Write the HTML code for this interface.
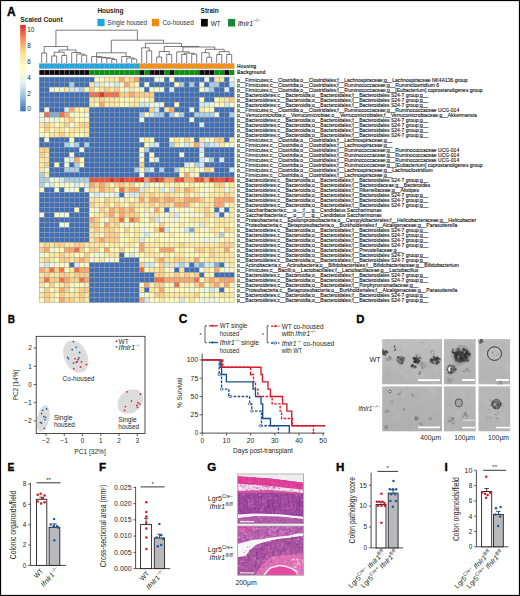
<!DOCTYPE html><html><head><meta charset="utf-8"><style>
html,body{margin:0;padding:0;background:#fff;}
body{width:520px;height:596px;overflow:hidden;position:relative;font-family:'Liberation Sans', sans-serif;}
svg{position:absolute;left:0;top:0;}
svg text{font-family:'Liberation Sans', sans-serif;}
</style></head><body>
<svg width="520" height="596" viewBox="0 0 520 596">
<defs>
<linearGradient id="cbar" x1="0" y1="1" x2="0" y2="0">

<stop offset="0.000" stop-color="#3f6fb6"/>
<stop offset="0.167" stop-color="#91BFDB"/>
<stop offset="0.333" stop-color="#E0F3F8"/>
<stop offset="0.500" stop-color="#FFFFBF"/>
<stop offset="0.667" stop-color="#FEE090"/>
<stop offset="0.833" stop-color="#FC8D59"/>
<stop offset="1.000" stop-color="#D73027"/>
</linearGradient></defs>
<rect x="0" y="0" width="520" height="596" fill="#fff"/>
<text x="7.0" y="15.8" font-size="11.9" font-weight="bold" font-style="normal" text-anchor="start" fill="#000" stroke="#000" stroke-width="0.35">A</text>
<text x="20.3" y="22.2" font-size="7.4" font-weight="bold" font-style="normal" text-anchor="start" fill="#231f20" textLength="42.3" lengthAdjust="spacingAndGlyphs" >Scaled Count</text>
<rect x="20.2" y="24.9" width="5.6" height="86.4" fill="url(#cbar)"/>
<text x="27.2" y="32.199999999999996" font-size="6.4" font-weight="normal" font-style="normal" text-anchor="start" fill="#222" >10</text>
<text x="27.2" y="48.199999999999996" font-size="6.4" font-weight="normal" font-style="normal" text-anchor="start" fill="#222" >8</text>
<text x="27.2" y="64.1" font-size="6.4" font-weight="normal" font-style="normal" text-anchor="start" fill="#222" >6</text>
<text x="27.2" y="80.1" font-size="6.4" font-weight="normal" font-style="normal" text-anchor="start" fill="#222" >4</text>
<text x="27.2" y="96.0" font-size="6.4" font-weight="normal" font-style="normal" text-anchor="start" fill="#222" >2</text>
<text x="27.2" y="111.39999999999999" font-size="6.4" font-weight="normal" font-style="normal" text-anchor="start" fill="#222" >0</text>
<text x="97.4" y="12.7" font-size="7.9" font-weight="bold" font-style="normal" text-anchor="start" fill="#231f20" textLength="26" lengthAdjust="spacingAndGlyphs" >Housing</text>
<rect x="97.4" y="18.8" width="7.2" height="7.4" fill="#1ea6e2"/>
<text x="107.3" y="25.2" font-size="7.6" font-weight="normal" font-style="normal" text-anchor="start" fill="#333" textLength="39.8" lengthAdjust="spacingAndGlyphs" >Single housed</text>
<rect x="152" y="18.8" width="7.2" height="7.4" fill="#f08c14"/>
<text x="162.4" y="25.2" font-size="7.6" font-weight="normal" font-style="normal" text-anchor="start" fill="#333" textLength="31.3" lengthAdjust="spacingAndGlyphs" >Co-housed</text>
<text x="200.6" y="12.7" font-size="7.9" font-weight="bold" font-style="normal" text-anchor="start" fill="#231f20" textLength="18.2" lengthAdjust="spacingAndGlyphs" >Strain</text>
<rect x="201" y="18.9" width="6.8" height="7.6" fill="#0b0b0b"/>
<text x="210.8" y="25.6" font-size="7.6" font-weight="normal" font-style="normal" text-anchor="start" fill="#222" textLength="10" lengthAdjust="spacingAndGlyphs" >WT</text>
<rect x="228" y="18.9" width="7.2" height="7.6" fill="#17873a"/>
<text x="237.7" y="25.6" font-size="7.6" font-weight="normal" font-style="italic" text-anchor="start" fill="#222" textLength="15.5" lengthAdjust="spacingAndGlyphs" >Ifnlr1</text>
<text x="253.5" y="21.9" font-size="4.6" font-weight="normal" font-style="normal" text-anchor="start" fill="#222" >−/−</text>
<g stroke="#9a9a9a" stroke-width="0.45">
<rect x="39.2" y="77.10" width="5" height="5.01" fill="#3f6fb6"/>
<rect x="44.2" y="77.10" width="5" height="5.01" fill="#3f6fb6"/>
<rect x="49.2" y="77.10" width="5" height="5.01" fill="#3f6fb6"/>
<rect x="54.2" y="77.10" width="5" height="5.01" fill="#3f6fb6"/>
<rect x="59.2" y="77.10" width="5" height="5.01" fill="#3f6fb6"/>
<rect x="64.2" y="77.10" width="5" height="5.01" fill="#3f6fb6"/>
<rect x="69.2" y="77.10" width="5" height="5.01" fill="#3f6fb6"/>
<rect x="74.2" y="77.10" width="5" height="5.01" fill="#3f6fb6"/>
<rect x="79.2" y="77.10" width="5" height="5.01" fill="#3f6fb6"/>
<rect x="84.2" y="77.10" width="5" height="5.01" fill="#3f6fb6"/>
<rect x="89.2" y="77.10" width="5" height="5.01" fill="#3f6fb6"/>
<rect x="94.2" y="77.10" width="5" height="5.01" fill="#fffab7"/>
<rect x="99.2" y="77.10" width="5" height="5.01" fill="#edf8df"/>
<rect x="104.2" y="77.10" width="5" height="5.01" fill="#fee89c"/>
<rect x="109.2" y="77.10" width="5" height="5.01" fill="#fee89c"/>
<rect x="114.2" y="77.10" width="5" height="5.01" fill="#fee89c"/>
<rect x="119.2" y="77.10" width="5" height="5.01" fill="#fda66a"/>
<rect x="124.2" y="77.10" width="5" height="5.01" fill="#fee89c"/>
<rect x="129.2" y="77.10" width="5" height="5.01" fill="#fece84"/>
<rect x="134.2" y="77.10" width="5" height="5.01" fill="#fda66a"/>
<rect x="139.2" y="77.10" width="5" height="5.01" fill="#3f6fb6"/>
<rect x="144.2" y="77.10" width="5" height="5.01" fill="#3f6fb6"/>
<rect x="149.2" y="77.10" width="5" height="5.01" fill="#3f6fb6"/>
<rect x="154.2" y="77.10" width="5" height="5.01" fill="#edf8df"/>
<rect x="159.2" y="77.10" width="5" height="5.01" fill="#edf8df"/>
<rect x="164.2" y="77.10" width="5" height="5.01" fill="#3f6fb6"/>
<rect x="169.2" y="77.10" width="5" height="5.01" fill="#fffab7"/>
<rect x="174.2" y="77.10" width="5" height="5.01" fill="#3f6fb6"/>
<rect x="179.2" y="77.10" width="5" height="5.01" fill="#3f6fb6"/>
<rect x="184.2" y="77.10" width="5" height="5.01" fill="#3f6fb6"/>
<rect x="189.2" y="77.10" width="5" height="5.01" fill="#3f6fb6"/>
<rect x="194.2" y="77.10" width="5" height="5.01" fill="#3f6fb6"/>
<rect x="199.2" y="77.10" width="5" height="5.01" fill="#3f6fb6"/>
<rect x="204.2" y="77.10" width="5" height="5.01" fill="#edf8df"/>
<rect x="209.2" y="77.10" width="5" height="5.01" fill="#3f6fb6"/>
<rect x="214.2" y="77.10" width="5" height="5.01" fill="#fee89c"/>
<rect x="219.2" y="77.10" width="5" height="5.01" fill="#fee89c"/>
<rect x="224.2" y="77.10" width="5" height="5.01" fill="#3f6fb6"/>
<rect x="229.2" y="77.10" width="5" height="5.01" fill="#edf8df"/>
<rect x="39.2" y="82.11" width="5" height="5.01" fill="#3f6fb6"/>
<rect x="44.2" y="82.11" width="5" height="5.01" fill="#3f6fb6"/>
<rect x="49.2" y="82.11" width="5" height="5.01" fill="#3f6fb6"/>
<rect x="54.2" y="82.11" width="5" height="5.01" fill="#3f6fb6"/>
<rect x="59.2" y="82.11" width="5" height="5.01" fill="#3f6fb6"/>
<rect x="64.2" y="82.11" width="5" height="5.01" fill="#3f6fb6"/>
<rect x="69.2" y="82.11" width="5" height="5.01" fill="#a9cfe4"/>
<rect x="74.2" y="82.11" width="5" height="5.01" fill="#3f6fb6"/>
<rect x="79.2" y="82.11" width="5" height="5.01" fill="#3f6fb6"/>
<rect x="84.2" y="82.11" width="5" height="5.01" fill="#3f6fb6"/>
<rect x="89.2" y="82.11" width="5" height="5.01" fill="#fee89c"/>
<rect x="94.2" y="82.11" width="5" height="5.01" fill="#d1e9f3"/>
<rect x="99.2" y="82.11" width="5" height="5.01" fill="#fee89c"/>
<rect x="104.2" y="82.11" width="5" height="5.01" fill="#edf8df"/>
<rect x="109.2" y="82.11" width="5" height="5.01" fill="#edf8df"/>
<rect x="114.2" y="82.11" width="5" height="5.01" fill="#d1e9f3"/>
<rect x="119.2" y="82.11" width="5" height="5.01" fill="#fffab7"/>
<rect x="124.2" y="82.11" width="5" height="5.01" fill="#fda66a"/>
<rect x="129.2" y="82.11" width="5" height="5.01" fill="#fee89c"/>
<rect x="134.2" y="82.11" width="5" height="5.01" fill="#fffab7"/>
<rect x="139.2" y="82.11" width="5" height="5.01" fill="#3f6fb6"/>
<rect x="144.2" y="82.11" width="5" height="5.01" fill="#edf8df"/>
<rect x="149.2" y="82.11" width="5" height="5.01" fill="#3f6fb6"/>
<rect x="154.2" y="82.11" width="5" height="5.01" fill="#3f6fb6"/>
<rect x="159.2" y="82.11" width="5" height="5.01" fill="#3f6fb6"/>
<rect x="164.2" y="82.11" width="5" height="5.01" fill="#3f6fb6"/>
<rect x="169.2" y="82.11" width="5" height="5.01" fill="#3f6fb6"/>
<rect x="174.2" y="82.11" width="5" height="5.01" fill="#fffab7"/>
<rect x="179.2" y="82.11" width="5" height="5.01" fill="#a9cfe4"/>
<rect x="184.2" y="82.11" width="5" height="5.01" fill="#3f6fb6"/>
<rect x="189.2" y="82.11" width="5" height="5.01" fill="#a9cfe4"/>
<rect x="194.2" y="82.11" width="5" height="5.01" fill="#3f6fb6"/>
<rect x="199.2" y="82.11" width="5" height="5.01" fill="#edf8df"/>
<rect x="204.2" y="82.11" width="5" height="5.01" fill="#3f6fb6"/>
<rect x="209.2" y="82.11" width="5" height="5.01" fill="#a9cfe4"/>
<rect x="214.2" y="82.11" width="5" height="5.01" fill="#a9cfe4"/>
<rect x="219.2" y="82.11" width="5" height="5.01" fill="#3f6fb6"/>
<rect x="224.2" y="82.11" width="5" height="5.01" fill="#3f6fb6"/>
<rect x="229.2" y="82.11" width="5" height="5.01" fill="#d1e9f3"/>
<rect x="39.2" y="87.12" width="5" height="5.01" fill="#3f6fb6"/>
<rect x="44.2" y="87.12" width="5" height="5.01" fill="#3f6fb6"/>
<rect x="49.2" y="87.12" width="5" height="5.01" fill="#edf8df"/>
<rect x="54.2" y="87.12" width="5" height="5.01" fill="#fffab7"/>
<rect x="59.2" y="87.12" width="5" height="5.01" fill="#edf8df"/>
<rect x="64.2" y="87.12" width="5" height="5.01" fill="#fee89c"/>
<rect x="69.2" y="87.12" width="5" height="5.01" fill="#d1e9f3"/>
<rect x="74.2" y="87.12" width="5" height="5.01" fill="#d1e9f3"/>
<rect x="79.2" y="87.12" width="5" height="5.01" fill="#a9cfe4"/>
<rect x="84.2" y="87.12" width="5" height="5.01" fill="#fffab7"/>
<rect x="89.2" y="87.12" width="5" height="5.01" fill="#fece84"/>
<rect x="94.2" y="87.12" width="5" height="5.01" fill="#fffab7"/>
<rect x="99.2" y="87.12" width="5" height="5.01" fill="#fee89c"/>
<rect x="104.2" y="87.12" width="5" height="5.01" fill="#fece84"/>
<rect x="109.2" y="87.12" width="5" height="5.01" fill="#fee89c"/>
<rect x="114.2" y="87.12" width="5" height="5.01" fill="#fece84"/>
<rect x="119.2" y="87.12" width="5" height="5.01" fill="#fffab7"/>
<rect x="124.2" y="87.12" width="5" height="5.01" fill="#edf8df"/>
<rect x="129.2" y="87.12" width="5" height="5.01" fill="#fee89c"/>
<rect x="134.2" y="87.12" width="5" height="5.01" fill="#fffab7"/>
<rect x="139.2" y="87.12" width="5" height="5.01" fill="#edf8df"/>
<rect x="144.2" y="87.12" width="5" height="5.01" fill="#3f6fb6"/>
<rect x="149.2" y="87.12" width="5" height="5.01" fill="#edf8df"/>
<rect x="154.2" y="87.12" width="5" height="5.01" fill="#fffab7"/>
<rect x="159.2" y="87.12" width="5" height="5.01" fill="#edf8df"/>
<rect x="164.2" y="87.12" width="5" height="5.01" fill="#3f6fb6"/>
<rect x="169.2" y="87.12" width="5" height="5.01" fill="#d1e9f3"/>
<rect x="174.2" y="87.12" width="5" height="5.01" fill="#3f6fb6"/>
<rect x="179.2" y="87.12" width="5" height="5.01" fill="#3f6fb6"/>
<rect x="184.2" y="87.12" width="5" height="5.01" fill="#3f6fb6"/>
<rect x="189.2" y="87.12" width="5" height="5.01" fill="#3f6fb6"/>
<rect x="194.2" y="87.12" width="5" height="5.01" fill="#3f6fb6"/>
<rect x="199.2" y="87.12" width="5" height="5.01" fill="#fffab7"/>
<rect x="204.2" y="87.12" width="5" height="5.01" fill="#d1e9f3"/>
<rect x="209.2" y="87.12" width="5" height="5.01" fill="#a9cfe4"/>
<rect x="214.2" y="87.12" width="5" height="5.01" fill="#3f6fb6"/>
<rect x="219.2" y="87.12" width="5" height="5.01" fill="#3f6fb6"/>
<rect x="224.2" y="87.12" width="5" height="5.01" fill="#d1e9f3"/>
<rect x="229.2" y="87.12" width="5" height="5.01" fill="#3f6fb6"/>
<rect x="39.2" y="92.14" width="5" height="5.01" fill="#3f6fb6"/>
<rect x="44.2" y="92.14" width="5" height="5.01" fill="#3f6fb6"/>
<rect x="49.2" y="92.14" width="5" height="5.01" fill="#3f6fb6"/>
<rect x="54.2" y="92.14" width="5" height="5.01" fill="#3f6fb6"/>
<rect x="59.2" y="92.14" width="5" height="5.01" fill="#3f6fb6"/>
<rect x="64.2" y="92.14" width="5" height="5.01" fill="#3f6fb6"/>
<rect x="69.2" y="92.14" width="5" height="5.01" fill="#3f6fb6"/>
<rect x="74.2" y="92.14" width="5" height="5.01" fill="#3f6fb6"/>
<rect x="79.2" y="92.14" width="5" height="5.01" fill="#3f6fb6"/>
<rect x="84.2" y="92.14" width="5" height="5.01" fill="#3f6fb6"/>
<rect x="89.2" y="92.14" width="5" height="5.01" fill="#f06f49"/>
<rect x="94.2" y="92.14" width="5" height="5.01" fill="#f06f49"/>
<rect x="99.2" y="92.14" width="5" height="5.01" fill="#d9352a"/>
<rect x="104.2" y="92.14" width="5" height="5.01" fill="#f06f49"/>
<rect x="109.2" y="92.14" width="5" height="5.01" fill="#f06f49"/>
<rect x="114.2" y="92.14" width="5" height="5.01" fill="#f06f49"/>
<rect x="119.2" y="92.14" width="5" height="5.01" fill="#fece84"/>
<rect x="124.2" y="92.14" width="5" height="5.01" fill="#fece84"/>
<rect x="129.2" y="92.14" width="5" height="5.01" fill="#fda66a"/>
<rect x="134.2" y="92.14" width="5" height="5.01" fill="#fece84"/>
<rect x="139.2" y="92.14" width="5" height="5.01" fill="#fece84"/>
<rect x="144.2" y="92.14" width="5" height="5.01" fill="#fece84"/>
<rect x="149.2" y="92.14" width="5" height="5.01" fill="#fece84"/>
<rect x="154.2" y="92.14" width="5" height="5.01" fill="#3f6fb6"/>
<rect x="159.2" y="92.14" width="5" height="5.01" fill="#3f6fb6"/>
<rect x="164.2" y="92.14" width="5" height="5.01" fill="#3f6fb6"/>
<rect x="169.2" y="92.14" width="5" height="5.01" fill="#3f6fb6"/>
<rect x="174.2" y="92.14" width="5" height="5.01" fill="#3f6fb6"/>
<rect x="179.2" y="92.14" width="5" height="5.01" fill="#3f6fb6"/>
<rect x="184.2" y="92.14" width="5" height="5.01" fill="#3f6fb6"/>
<rect x="189.2" y="92.14" width="5" height="5.01" fill="#3f6fb6"/>
<rect x="194.2" y="92.14" width="5" height="5.01" fill="#3f6fb6"/>
<rect x="199.2" y="92.14" width="5" height="5.01" fill="#3f6fb6"/>
<rect x="204.2" y="92.14" width="5" height="5.01" fill="#3f6fb6"/>
<rect x="209.2" y="92.14" width="5" height="5.01" fill="#3f6fb6"/>
<rect x="214.2" y="92.14" width="5" height="5.01" fill="#3f6fb6"/>
<rect x="219.2" y="92.14" width="5" height="5.01" fill="#3f6fb6"/>
<rect x="224.2" y="92.14" width="5" height="5.01" fill="#3f6fb6"/>
<rect x="229.2" y="92.14" width="5" height="5.01" fill="#3f6fb6"/>
<rect x="39.2" y="97.15" width="5" height="5.01" fill="#3f6fb6"/>
<rect x="44.2" y="97.15" width="5" height="5.01" fill="#3f6fb6"/>
<rect x="49.2" y="97.15" width="5" height="5.01" fill="#3f6fb6"/>
<rect x="54.2" y="97.15" width="5" height="5.01" fill="#3f6fb6"/>
<rect x="59.2" y="97.15" width="5" height="5.01" fill="#3f6fb6"/>
<rect x="64.2" y="97.15" width="5" height="5.01" fill="#3f6fb6"/>
<rect x="69.2" y="97.15" width="5" height="5.01" fill="#3f6fb6"/>
<rect x="74.2" y="97.15" width="5" height="5.01" fill="#3f6fb6"/>
<rect x="79.2" y="97.15" width="5" height="5.01" fill="#3f6fb6"/>
<rect x="84.2" y="97.15" width="5" height="5.01" fill="#3f6fb6"/>
<rect x="89.2" y="97.15" width="5" height="5.01" fill="#fee89c"/>
<rect x="94.2" y="97.15" width="5" height="5.01" fill="#fee89c"/>
<rect x="99.2" y="97.15" width="5" height="5.01" fill="#fece84"/>
<rect x="104.2" y="97.15" width="5" height="5.01" fill="#fee89c"/>
<rect x="109.2" y="97.15" width="5" height="5.01" fill="#fee89c"/>
<rect x="114.2" y="97.15" width="5" height="5.01" fill="#fee89c"/>
<rect x="119.2" y="97.15" width="5" height="5.01" fill="#fffab7"/>
<rect x="124.2" y="97.15" width="5" height="5.01" fill="#fffab7"/>
<rect x="129.2" y="97.15" width="5" height="5.01" fill="#fffab7"/>
<rect x="134.2" y="97.15" width="5" height="5.01" fill="#fee89c"/>
<rect x="139.2" y="97.15" width="5" height="5.01" fill="#fffab7"/>
<rect x="144.2" y="97.15" width="5" height="5.01" fill="#fffab7"/>
<rect x="149.2" y="97.15" width="5" height="5.01" fill="#fee89c"/>
<rect x="154.2" y="97.15" width="5" height="5.01" fill="#3f6fb6"/>
<rect x="159.2" y="97.15" width="5" height="5.01" fill="#3f6fb6"/>
<rect x="164.2" y="97.15" width="5" height="5.01" fill="#3f6fb6"/>
<rect x="169.2" y="97.15" width="5" height="5.01" fill="#3f6fb6"/>
<rect x="174.2" y="97.15" width="5" height="5.01" fill="#3f6fb6"/>
<rect x="179.2" y="97.15" width="5" height="5.01" fill="#3f6fb6"/>
<rect x="184.2" y="97.15" width="5" height="5.01" fill="#3f6fb6"/>
<rect x="189.2" y="97.15" width="5" height="5.01" fill="#3f6fb6"/>
<rect x="194.2" y="97.15" width="5" height="5.01" fill="#3f6fb6"/>
<rect x="199.2" y="97.15" width="5" height="5.01" fill="#fffab7"/>
<rect x="204.2" y="97.15" width="5" height="5.01" fill="#3f6fb6"/>
<rect x="209.2" y="97.15" width="5" height="5.01" fill="#3f6fb6"/>
<rect x="214.2" y="97.15" width="5" height="5.01" fill="#fffab7"/>
<rect x="219.2" y="97.15" width="5" height="5.01" fill="#fee89c"/>
<rect x="224.2" y="97.15" width="5" height="5.01" fill="#fee89c"/>
<rect x="229.2" y="97.15" width="5" height="5.01" fill="#fece84"/>
<rect x="39.2" y="102.16" width="5" height="5.01" fill="#3f6fb6"/>
<rect x="44.2" y="102.16" width="5" height="5.01" fill="#3f6fb6"/>
<rect x="49.2" y="102.16" width="5" height="5.01" fill="#3f6fb6"/>
<rect x="54.2" y="102.16" width="5" height="5.01" fill="#3f6fb6"/>
<rect x="59.2" y="102.16" width="5" height="5.01" fill="#3f6fb6"/>
<rect x="64.2" y="102.16" width="5" height="5.01" fill="#3f6fb6"/>
<rect x="69.2" y="102.16" width="5" height="5.01" fill="#3f6fb6"/>
<rect x="74.2" y="102.16" width="5" height="5.01" fill="#3f6fb6"/>
<rect x="79.2" y="102.16" width="5" height="5.01" fill="#3f6fb6"/>
<rect x="84.2" y="102.16" width="5" height="5.01" fill="#3f6fb6"/>
<rect x="89.2" y="102.16" width="5" height="5.01" fill="#fee89c"/>
<rect x="94.2" y="102.16" width="5" height="5.01" fill="#fffab7"/>
<rect x="99.2" y="102.16" width="5" height="5.01" fill="#fda66a"/>
<rect x="104.2" y="102.16" width="5" height="5.01" fill="#fee89c"/>
<rect x="109.2" y="102.16" width="5" height="5.01" fill="#fee89c"/>
<rect x="114.2" y="102.16" width="5" height="5.01" fill="#fee89c"/>
<rect x="119.2" y="102.16" width="5" height="5.01" fill="#fffab7"/>
<rect x="124.2" y="102.16" width="5" height="5.01" fill="#fffab7"/>
<rect x="129.2" y="102.16" width="5" height="5.01" fill="#fee89c"/>
<rect x="134.2" y="102.16" width="5" height="5.01" fill="#fee89c"/>
<rect x="139.2" y="102.16" width="5" height="5.01" fill="#d1e9f3"/>
<rect x="144.2" y="102.16" width="5" height="5.01" fill="#d1e9f3"/>
<rect x="149.2" y="102.16" width="5" height="5.01" fill="#edf8df"/>
<rect x="154.2" y="102.16" width="5" height="5.01" fill="#edf8df"/>
<rect x="159.2" y="102.16" width="5" height="5.01" fill="#edf8df"/>
<rect x="164.2" y="102.16" width="5" height="5.01" fill="#3f6fb6"/>
<rect x="169.2" y="102.16" width="5" height="5.01" fill="#3f6fb6"/>
<rect x="174.2" y="102.16" width="5" height="5.01" fill="#fffab7"/>
<rect x="179.2" y="102.16" width="5" height="5.01" fill="#3f6fb6"/>
<rect x="184.2" y="102.16" width="5" height="5.01" fill="#3f6fb6"/>
<rect x="189.2" y="102.16" width="5" height="5.01" fill="#3f6fb6"/>
<rect x="194.2" y="102.16" width="5" height="5.01" fill="#3f6fb6"/>
<rect x="199.2" y="102.16" width="5" height="5.01" fill="#d1e9f3"/>
<rect x="204.2" y="102.16" width="5" height="5.01" fill="#d1e9f3"/>
<rect x="209.2" y="102.16" width="5" height="5.01" fill="#edf8df"/>
<rect x="214.2" y="102.16" width="5" height="5.01" fill="#fffab7"/>
<rect x="219.2" y="102.16" width="5" height="5.01" fill="#fffab7"/>
<rect x="224.2" y="102.16" width="5" height="5.01" fill="#d1e9f3"/>
<rect x="229.2" y="102.16" width="5" height="5.01" fill="#fffab7"/>
<rect x="39.2" y="107.17" width="5" height="5.01" fill="#3f6fb6"/>
<rect x="44.2" y="107.17" width="5" height="5.01" fill="#edf8df"/>
<rect x="49.2" y="107.17" width="5" height="5.01" fill="#3f6fb6"/>
<rect x="54.2" y="107.17" width="5" height="5.01" fill="#3f6fb6"/>
<rect x="59.2" y="107.17" width="5" height="5.01" fill="#3f6fb6"/>
<rect x="64.2" y="107.17" width="5" height="5.01" fill="#d1e9f3"/>
<rect x="69.2" y="107.17" width="5" height="5.01" fill="#fda66a"/>
<rect x="74.2" y="107.17" width="5" height="5.01" fill="#fee89c"/>
<rect x="79.2" y="107.17" width="5" height="5.01" fill="#fffab7"/>
<rect x="84.2" y="107.17" width="5" height="5.01" fill="#fee89c"/>
<rect x="89.2" y="107.17" width="5" height="5.01" fill="#3f6fb6"/>
<rect x="94.2" y="107.17" width="5" height="5.01" fill="#3f6fb6"/>
<rect x="99.2" y="107.17" width="5" height="5.01" fill="#3f6fb6"/>
<rect x="104.2" y="107.17" width="5" height="5.01" fill="#3f6fb6"/>
<rect x="109.2" y="107.17" width="5" height="5.01" fill="#3f6fb6"/>
<rect x="114.2" y="107.17" width="5" height="5.01" fill="#3f6fb6"/>
<rect x="119.2" y="107.17" width="5" height="5.01" fill="#3f6fb6"/>
<rect x="124.2" y="107.17" width="5" height="5.01" fill="#3f6fb6"/>
<rect x="129.2" y="107.17" width="5" height="5.01" fill="#3f6fb6"/>
<rect x="134.2" y="107.17" width="5" height="5.01" fill="#3f6fb6"/>
<rect x="139.2" y="107.17" width="5" height="5.01" fill="#3f6fb6"/>
<rect x="144.2" y="107.17" width="5" height="5.01" fill="#3f6fb6"/>
<rect x="149.2" y="107.17" width="5" height="5.01" fill="#fece84"/>
<rect x="154.2" y="107.17" width="5" height="5.01" fill="#d1e9f3"/>
<rect x="159.2" y="107.17" width="5" height="5.01" fill="#3f6fb6"/>
<rect x="164.2" y="107.17" width="5" height="5.01" fill="#fee89c"/>
<rect x="169.2" y="107.17" width="5" height="5.01" fill="#fda66a"/>
<rect x="174.2" y="107.17" width="5" height="5.01" fill="#3f6fb6"/>
<rect x="179.2" y="107.17" width="5" height="5.01" fill="#3f6fb6"/>
<rect x="184.2" y="107.17" width="5" height="5.01" fill="#3f6fb6"/>
<rect x="189.2" y="107.17" width="5" height="5.01" fill="#edf8df"/>
<rect x="194.2" y="107.17" width="5" height="5.01" fill="#3f6fb6"/>
<rect x="199.2" y="107.17" width="5" height="5.01" fill="#fee89c"/>
<rect x="204.2" y="107.17" width="5" height="5.01" fill="#fffab7"/>
<rect x="209.2" y="107.17" width="5" height="5.01" fill="#fffab7"/>
<rect x="214.2" y="107.17" width="5" height="5.01" fill="#3f6fb6"/>
<rect x="219.2" y="107.17" width="5" height="5.01" fill="#3f6fb6"/>
<rect x="224.2" y="107.17" width="5" height="5.01" fill="#3f6fb6"/>
<rect x="229.2" y="107.17" width="5" height="5.01" fill="#3f6fb6"/>
<rect x="39.2" y="112.18" width="5" height="5.01" fill="#edf8df"/>
<rect x="44.2" y="112.18" width="5" height="5.01" fill="#f06f49"/>
<rect x="49.2" y="112.18" width="5" height="5.01" fill="#80aed3"/>
<rect x="54.2" y="112.18" width="5" height="5.01" fill="#80aed3"/>
<rect x="59.2" y="112.18" width="5" height="5.01" fill="#f06f49"/>
<rect x="64.2" y="112.18" width="5" height="5.01" fill="#fda66a"/>
<rect x="69.2" y="112.18" width="5" height="5.01" fill="#edf8df"/>
<rect x="74.2" y="112.18" width="5" height="5.01" fill="#fffab7"/>
<rect x="79.2" y="112.18" width="5" height="5.01" fill="#fffab7"/>
<rect x="84.2" y="112.18" width="5" height="5.01" fill="#edf8df"/>
<rect x="89.2" y="112.18" width="5" height="5.01" fill="#3f6fb6"/>
<rect x="94.2" y="112.18" width="5" height="5.01" fill="#3f6fb6"/>
<rect x="99.2" y="112.18" width="5" height="5.01" fill="#3f6fb6"/>
<rect x="104.2" y="112.18" width="5" height="5.01" fill="#3f6fb6"/>
<rect x="109.2" y="112.18" width="5" height="5.01" fill="#3f6fb6"/>
<rect x="114.2" y="112.18" width="5" height="5.01" fill="#3f6fb6"/>
<rect x="119.2" y="112.18" width="5" height="5.01" fill="#3f6fb6"/>
<rect x="124.2" y="112.18" width="5" height="5.01" fill="#3f6fb6"/>
<rect x="129.2" y="112.18" width="5" height="5.01" fill="#3f6fb6"/>
<rect x="134.2" y="112.18" width="5" height="5.01" fill="#3f6fb6"/>
<rect x="139.2" y="112.18" width="5" height="5.01" fill="#a9cfe4"/>
<rect x="144.2" y="112.18" width="5" height="5.01" fill="#fffab7"/>
<rect x="149.2" y="112.18" width="5" height="5.01" fill="#d1e9f3"/>
<rect x="154.2" y="112.18" width="5" height="5.01" fill="#a9cfe4"/>
<rect x="159.2" y="112.18" width="5" height="5.01" fill="#a9cfe4"/>
<rect x="164.2" y="112.18" width="5" height="5.01" fill="#3f6fb6"/>
<rect x="169.2" y="112.18" width="5" height="5.01" fill="#a9cfe4"/>
<rect x="174.2" y="112.18" width="5" height="5.01" fill="#edf8df"/>
<rect x="179.2" y="112.18" width="5" height="5.01" fill="#a9cfe4"/>
<rect x="184.2" y="112.18" width="5" height="5.01" fill="#3f6fb6"/>
<rect x="189.2" y="112.18" width="5" height="5.01" fill="#3f6fb6"/>
<rect x="194.2" y="112.18" width="5" height="5.01" fill="#a9cfe4"/>
<rect x="199.2" y="112.18" width="5" height="5.01" fill="#a9cfe4"/>
<rect x="204.2" y="112.18" width="5" height="5.01" fill="#a9cfe4"/>
<rect x="209.2" y="112.18" width="5" height="5.01" fill="#a9cfe4"/>
<rect x="214.2" y="112.18" width="5" height="5.01" fill="#edf8df"/>
<rect x="219.2" y="112.18" width="5" height="5.01" fill="#3f6fb6"/>
<rect x="224.2" y="112.18" width="5" height="5.01" fill="#3f6fb6"/>
<rect x="229.2" y="112.18" width="5" height="5.01" fill="#a9cfe4"/>
<rect x="39.2" y="117.20" width="5" height="5.01" fill="#edf8df"/>
<rect x="44.2" y="117.20" width="5" height="5.01" fill="#edf8df"/>
<rect x="49.2" y="117.20" width="5" height="5.01" fill="#edf8df"/>
<rect x="54.2" y="117.20" width="5" height="5.01" fill="#edf8df"/>
<rect x="59.2" y="117.20" width="5" height="5.01" fill="#fffab7"/>
<rect x="64.2" y="117.20" width="5" height="5.01" fill="#fee89c"/>
<rect x="69.2" y="117.20" width="5" height="5.01" fill="#fece84"/>
<rect x="74.2" y="117.20" width="5" height="5.01" fill="#fffab7"/>
<rect x="79.2" y="117.20" width="5" height="5.01" fill="#fffab7"/>
<rect x="84.2" y="117.20" width="5" height="5.01" fill="#fffab7"/>
<rect x="89.2" y="117.20" width="5" height="5.01" fill="#3f6fb6"/>
<rect x="94.2" y="117.20" width="5" height="5.01" fill="#3f6fb6"/>
<rect x="99.2" y="117.20" width="5" height="5.01" fill="#3f6fb6"/>
<rect x="104.2" y="117.20" width="5" height="5.01" fill="#3f6fb6"/>
<rect x="109.2" y="117.20" width="5" height="5.01" fill="#3f6fb6"/>
<rect x="114.2" y="117.20" width="5" height="5.01" fill="#3f6fb6"/>
<rect x="119.2" y="117.20" width="5" height="5.01" fill="#3f6fb6"/>
<rect x="124.2" y="117.20" width="5" height="5.01" fill="#3f6fb6"/>
<rect x="129.2" y="117.20" width="5" height="5.01" fill="#3f6fb6"/>
<rect x="134.2" y="117.20" width="5" height="5.01" fill="#3f6fb6"/>
<rect x="139.2" y="117.20" width="5" height="5.01" fill="#edf8df"/>
<rect x="144.2" y="117.20" width="5" height="5.01" fill="#3f6fb6"/>
<rect x="149.2" y="117.20" width="5" height="5.01" fill="#3f6fb6"/>
<rect x="154.2" y="117.20" width="5" height="5.01" fill="#3f6fb6"/>
<rect x="159.2" y="117.20" width="5" height="5.01" fill="#3f6fb6"/>
<rect x="164.2" y="117.20" width="5" height="5.01" fill="#3f6fb6"/>
<rect x="169.2" y="117.20" width="5" height="5.01" fill="#3f6fb6"/>
<rect x="174.2" y="117.20" width="5" height="5.01" fill="#3f6fb6"/>
<rect x="179.2" y="117.20" width="5" height="5.01" fill="#3f6fb6"/>
<rect x="184.2" y="117.20" width="5" height="5.01" fill="#3f6fb6"/>
<rect x="189.2" y="117.20" width="5" height="5.01" fill="#edf8df"/>
<rect x="194.2" y="117.20" width="5" height="5.01" fill="#3f6fb6"/>
<rect x="199.2" y="117.20" width="5" height="5.01" fill="#3f6fb6"/>
<rect x="204.2" y="117.20" width="5" height="5.01" fill="#3f6fb6"/>
<rect x="209.2" y="117.20" width="5" height="5.01" fill="#3f6fb6"/>
<rect x="214.2" y="117.20" width="5" height="5.01" fill="#3f6fb6"/>
<rect x="219.2" y="117.20" width="5" height="5.01" fill="#3f6fb6"/>
<rect x="224.2" y="117.20" width="5" height="5.01" fill="#3f6fb6"/>
<rect x="229.2" y="117.20" width="5" height="5.01" fill="#3f6fb6"/>
<rect x="39.2" y="122.21" width="5" height="5.01" fill="#fee89c"/>
<rect x="44.2" y="122.21" width="5" height="5.01" fill="#fece84"/>
<rect x="49.2" y="122.21" width="5" height="5.01" fill="#fee89c"/>
<rect x="54.2" y="122.21" width="5" height="5.01" fill="#fffab7"/>
<rect x="59.2" y="122.21" width="5" height="5.01" fill="#fee89c"/>
<rect x="64.2" y="122.21" width="5" height="5.01" fill="#fece84"/>
<rect x="69.2" y="122.21" width="5" height="5.01" fill="#edf8df"/>
<rect x="74.2" y="122.21" width="5" height="5.01" fill="#fee89c"/>
<rect x="79.2" y="122.21" width="5" height="5.01" fill="#fece84"/>
<rect x="84.2" y="122.21" width="5" height="5.01" fill="#fece84"/>
<rect x="89.2" y="122.21" width="5" height="5.01" fill="#3f6fb6"/>
<rect x="94.2" y="122.21" width="5" height="5.01" fill="#3f6fb6"/>
<rect x="99.2" y="122.21" width="5" height="5.01" fill="#3f6fb6"/>
<rect x="104.2" y="122.21" width="5" height="5.01" fill="#3f6fb6"/>
<rect x="109.2" y="122.21" width="5" height="5.01" fill="#3f6fb6"/>
<rect x="114.2" y="122.21" width="5" height="5.01" fill="#3f6fb6"/>
<rect x="119.2" y="122.21" width="5" height="5.01" fill="#3f6fb6"/>
<rect x="124.2" y="122.21" width="5" height="5.01" fill="#3f6fb6"/>
<rect x="129.2" y="122.21" width="5" height="5.01" fill="#3f6fb6"/>
<rect x="134.2" y="122.21" width="5" height="5.01" fill="#3f6fb6"/>
<rect x="139.2" y="122.21" width="5" height="5.01" fill="#3f6fb6"/>
<rect x="144.2" y="122.21" width="5" height="5.01" fill="#3f6fb6"/>
<rect x="149.2" y="122.21" width="5" height="5.01" fill="#3f6fb6"/>
<rect x="154.2" y="122.21" width="5" height="5.01" fill="#3f6fb6"/>
<rect x="159.2" y="122.21" width="5" height="5.01" fill="#3f6fb6"/>
<rect x="164.2" y="122.21" width="5" height="5.01" fill="#3f6fb6"/>
<rect x="169.2" y="122.21" width="5" height="5.01" fill="#3f6fb6"/>
<rect x="174.2" y="122.21" width="5" height="5.01" fill="#3f6fb6"/>
<rect x="179.2" y="122.21" width="5" height="5.01" fill="#3f6fb6"/>
<rect x="184.2" y="122.21" width="5" height="5.01" fill="#3f6fb6"/>
<rect x="189.2" y="122.21" width="5" height="5.01" fill="#3f6fb6"/>
<rect x="194.2" y="122.21" width="5" height="5.01" fill="#3f6fb6"/>
<rect x="199.2" y="122.21" width="5" height="5.01" fill="#d1e9f3"/>
<rect x="204.2" y="122.21" width="5" height="5.01" fill="#3f6fb6"/>
<rect x="209.2" y="122.21" width="5" height="5.01" fill="#3f6fb6"/>
<rect x="214.2" y="122.21" width="5" height="5.01" fill="#3f6fb6"/>
<rect x="219.2" y="122.21" width="5" height="5.01" fill="#3f6fb6"/>
<rect x="224.2" y="122.21" width="5" height="5.01" fill="#3f6fb6"/>
<rect x="229.2" y="122.21" width="5" height="5.01" fill="#3f6fb6"/>
<rect x="39.2" y="127.22" width="5" height="5.01" fill="#fffab7"/>
<rect x="44.2" y="127.22" width="5" height="5.01" fill="#fece84"/>
<rect x="49.2" y="127.22" width="5" height="5.01" fill="#fffab7"/>
<rect x="54.2" y="127.22" width="5" height="5.01" fill="#fee89c"/>
<rect x="59.2" y="127.22" width="5" height="5.01" fill="#fee89c"/>
<rect x="64.2" y="127.22" width="5" height="5.01" fill="#fffab7"/>
<rect x="69.2" y="127.22" width="5" height="5.01" fill="#fee89c"/>
<rect x="74.2" y="127.22" width="5" height="5.01" fill="#fee89c"/>
<rect x="79.2" y="127.22" width="5" height="5.01" fill="#fee89c"/>
<rect x="84.2" y="127.22" width="5" height="5.01" fill="#fee89c"/>
<rect x="89.2" y="127.22" width="5" height="5.01" fill="#3f6fb6"/>
<rect x="94.2" y="127.22" width="5" height="5.01" fill="#3f6fb6"/>
<rect x="99.2" y="127.22" width="5" height="5.01" fill="#3f6fb6"/>
<rect x="104.2" y="127.22" width="5" height="5.01" fill="#3f6fb6"/>
<rect x="109.2" y="127.22" width="5" height="5.01" fill="#3f6fb6"/>
<rect x="114.2" y="127.22" width="5" height="5.01" fill="#3f6fb6"/>
<rect x="119.2" y="127.22" width="5" height="5.01" fill="#3f6fb6"/>
<rect x="124.2" y="127.22" width="5" height="5.01" fill="#3f6fb6"/>
<rect x="129.2" y="127.22" width="5" height="5.01" fill="#3f6fb6"/>
<rect x="134.2" y="127.22" width="5" height="5.01" fill="#3f6fb6"/>
<rect x="139.2" y="127.22" width="5" height="5.01" fill="#3f6fb6"/>
<rect x="144.2" y="127.22" width="5" height="5.01" fill="#3f6fb6"/>
<rect x="149.2" y="127.22" width="5" height="5.01" fill="#3f6fb6"/>
<rect x="154.2" y="127.22" width="5" height="5.01" fill="#3f6fb6"/>
<rect x="159.2" y="127.22" width="5" height="5.01" fill="#3f6fb6"/>
<rect x="164.2" y="127.22" width="5" height="5.01" fill="#3f6fb6"/>
<rect x="169.2" y="127.22" width="5" height="5.01" fill="#3f6fb6"/>
<rect x="174.2" y="127.22" width="5" height="5.01" fill="#3f6fb6"/>
<rect x="179.2" y="127.22" width="5" height="5.01" fill="#3f6fb6"/>
<rect x="184.2" y="127.22" width="5" height="5.01" fill="#3f6fb6"/>
<rect x="189.2" y="127.22" width="5" height="5.01" fill="#3f6fb6"/>
<rect x="194.2" y="127.22" width="5" height="5.01" fill="#3f6fb6"/>
<rect x="199.2" y="127.22" width="5" height="5.01" fill="#3f6fb6"/>
<rect x="204.2" y="127.22" width="5" height="5.01" fill="#3f6fb6"/>
<rect x="209.2" y="127.22" width="5" height="5.01" fill="#3f6fb6"/>
<rect x="214.2" y="127.22" width="5" height="5.01" fill="#3f6fb6"/>
<rect x="219.2" y="127.22" width="5" height="5.01" fill="#3f6fb6"/>
<rect x="224.2" y="127.22" width="5" height="5.01" fill="#3f6fb6"/>
<rect x="229.2" y="127.22" width="5" height="5.01" fill="#3f6fb6"/>
<rect x="39.2" y="132.23" width="5" height="5.01" fill="#fffab7"/>
<rect x="44.2" y="132.23" width="5" height="5.01" fill="#fffab7"/>
<rect x="49.2" y="132.23" width="5" height="5.01" fill="#fee89c"/>
<rect x="54.2" y="132.23" width="5" height="5.01" fill="#fee89c"/>
<rect x="59.2" y="132.23" width="5" height="5.01" fill="#fece84"/>
<rect x="64.2" y="132.23" width="5" height="5.01" fill="#fee89c"/>
<rect x="69.2" y="132.23" width="5" height="5.01" fill="#fee89c"/>
<rect x="74.2" y="132.23" width="5" height="5.01" fill="#fffab7"/>
<rect x="79.2" y="132.23" width="5" height="5.01" fill="#fffab7"/>
<rect x="84.2" y="132.23" width="5" height="5.01" fill="#fee89c"/>
<rect x="89.2" y="132.23" width="5" height="5.01" fill="#3f6fb6"/>
<rect x="94.2" y="132.23" width="5" height="5.01" fill="#3f6fb6"/>
<rect x="99.2" y="132.23" width="5" height="5.01" fill="#3f6fb6"/>
<rect x="104.2" y="132.23" width="5" height="5.01" fill="#3f6fb6"/>
<rect x="109.2" y="132.23" width="5" height="5.01" fill="#3f6fb6"/>
<rect x="114.2" y="132.23" width="5" height="5.01" fill="#3f6fb6"/>
<rect x="119.2" y="132.23" width="5" height="5.01" fill="#3f6fb6"/>
<rect x="124.2" y="132.23" width="5" height="5.01" fill="#3f6fb6"/>
<rect x="129.2" y="132.23" width="5" height="5.01" fill="#3f6fb6"/>
<rect x="134.2" y="132.23" width="5" height="5.01" fill="#3f6fb6"/>
<rect x="139.2" y="132.23" width="5" height="5.01" fill="#3f6fb6"/>
<rect x="144.2" y="132.23" width="5" height="5.01" fill="#3f6fb6"/>
<rect x="149.2" y="132.23" width="5" height="5.01" fill="#3f6fb6"/>
<rect x="154.2" y="132.23" width="5" height="5.01" fill="#3f6fb6"/>
<rect x="159.2" y="132.23" width="5" height="5.01" fill="#3f6fb6"/>
<rect x="164.2" y="132.23" width="5" height="5.01" fill="#3f6fb6"/>
<rect x="169.2" y="132.23" width="5" height="5.01" fill="#3f6fb6"/>
<rect x="174.2" y="132.23" width="5" height="5.01" fill="#3f6fb6"/>
<rect x="179.2" y="132.23" width="5" height="5.01" fill="#3f6fb6"/>
<rect x="184.2" y="132.23" width="5" height="5.01" fill="#3f6fb6"/>
<rect x="189.2" y="132.23" width="5" height="5.01" fill="#3f6fb6"/>
<rect x="194.2" y="132.23" width="5" height="5.01" fill="#3f6fb6"/>
<rect x="199.2" y="132.23" width="5" height="5.01" fill="#3f6fb6"/>
<rect x="204.2" y="132.23" width="5" height="5.01" fill="#3f6fb6"/>
<rect x="209.2" y="132.23" width="5" height="5.01" fill="#3f6fb6"/>
<rect x="214.2" y="132.23" width="5" height="5.01" fill="#3f6fb6"/>
<rect x="219.2" y="132.23" width="5" height="5.01" fill="#3f6fb6"/>
<rect x="224.2" y="132.23" width="5" height="5.01" fill="#3f6fb6"/>
<rect x="229.2" y="132.23" width="5" height="5.01" fill="#3f6fb6"/>
<rect x="39.2" y="137.24" width="5" height="5.01" fill="#3f6fb6"/>
<rect x="44.2" y="137.24" width="5" height="5.01" fill="#edf8df"/>
<rect x="49.2" y="137.24" width="5" height="5.01" fill="#3f6fb6"/>
<rect x="54.2" y="137.24" width="5" height="5.01" fill="#3f6fb6"/>
<rect x="59.2" y="137.24" width="5" height="5.01" fill="#3f6fb6"/>
<rect x="64.2" y="137.24" width="5" height="5.01" fill="#3f6fb6"/>
<rect x="69.2" y="137.24" width="5" height="5.01" fill="#fffab7"/>
<rect x="74.2" y="137.24" width="5" height="5.01" fill="#3f6fb6"/>
<rect x="79.2" y="137.24" width="5" height="5.01" fill="#3f6fb6"/>
<rect x="84.2" y="137.24" width="5" height="5.01" fill="#3f6fb6"/>
<rect x="89.2" y="137.24" width="5" height="5.01" fill="#3f6fb6"/>
<rect x="94.2" y="137.24" width="5" height="5.01" fill="#3f6fb6"/>
<rect x="99.2" y="137.24" width="5" height="5.01" fill="#3f6fb6"/>
<rect x="104.2" y="137.24" width="5" height="5.01" fill="#3f6fb6"/>
<rect x="109.2" y="137.24" width="5" height="5.01" fill="#3f6fb6"/>
<rect x="114.2" y="137.24" width="5" height="5.01" fill="#3f6fb6"/>
<rect x="119.2" y="137.24" width="5" height="5.01" fill="#3f6fb6"/>
<rect x="124.2" y="137.24" width="5" height="5.01" fill="#3f6fb6"/>
<rect x="129.2" y="137.24" width="5" height="5.01" fill="#3f6fb6"/>
<rect x="134.2" y="137.24" width="5" height="5.01" fill="#3f6fb6"/>
<rect x="139.2" y="137.24" width="5" height="5.01" fill="#edf8df"/>
<rect x="144.2" y="137.24" width="5" height="5.01" fill="#fee89c"/>
<rect x="149.2" y="137.24" width="5" height="5.01" fill="#fffab7"/>
<rect x="154.2" y="137.24" width="5" height="5.01" fill="#3f6fb6"/>
<rect x="159.2" y="137.24" width="5" height="5.01" fill="#3f6fb6"/>
<rect x="164.2" y="137.24" width="5" height="5.01" fill="#3f6fb6"/>
<rect x="169.2" y="137.24" width="5" height="5.01" fill="#fffab7"/>
<rect x="174.2" y="137.24" width="5" height="5.01" fill="#fee89c"/>
<rect x="179.2" y="137.24" width="5" height="5.01" fill="#fffab7"/>
<rect x="184.2" y="137.24" width="5" height="5.01" fill="#fece84"/>
<rect x="189.2" y="137.24" width="5" height="5.01" fill="#fffab7"/>
<rect x="194.2" y="137.24" width="5" height="5.01" fill="#3f6fb6"/>
<rect x="199.2" y="137.24" width="5" height="5.01" fill="#fee89c"/>
<rect x="204.2" y="137.24" width="5" height="5.01" fill="#edf8df"/>
<rect x="209.2" y="137.24" width="5" height="5.01" fill="#fffab7"/>
<rect x="214.2" y="137.24" width="5" height="5.01" fill="#fece84"/>
<rect x="219.2" y="137.24" width="5" height="5.01" fill="#fece84"/>
<rect x="224.2" y="137.24" width="5" height="5.01" fill="#3f6fb6"/>
<rect x="229.2" y="137.24" width="5" height="5.01" fill="#fee89c"/>
<rect x="39.2" y="142.26" width="5" height="5.01" fill="#3f6fb6"/>
<rect x="44.2" y="142.26" width="5" height="5.01" fill="#3f6fb6"/>
<rect x="49.2" y="142.26" width="5" height="5.01" fill="#3f6fb6"/>
<rect x="54.2" y="142.26" width="5" height="5.01" fill="#3f6fb6"/>
<rect x="59.2" y="142.26" width="5" height="5.01" fill="#3f6fb6"/>
<rect x="64.2" y="142.26" width="5" height="5.01" fill="#a9cfe4"/>
<rect x="69.2" y="142.26" width="5" height="5.01" fill="#d1e9f3"/>
<rect x="74.2" y="142.26" width="5" height="5.01" fill="#a9cfe4"/>
<rect x="79.2" y="142.26" width="5" height="5.01" fill="#3f6fb6"/>
<rect x="84.2" y="142.26" width="5" height="5.01" fill="#a9cfe4"/>
<rect x="89.2" y="142.26" width="5" height="5.01" fill="#3f6fb6"/>
<rect x="94.2" y="142.26" width="5" height="5.01" fill="#3f6fb6"/>
<rect x="99.2" y="142.26" width="5" height="5.01" fill="#3f6fb6"/>
<rect x="104.2" y="142.26" width="5" height="5.01" fill="#3f6fb6"/>
<rect x="109.2" y="142.26" width="5" height="5.01" fill="#3f6fb6"/>
<rect x="114.2" y="142.26" width="5" height="5.01" fill="#3f6fb6"/>
<rect x="119.2" y="142.26" width="5" height="5.01" fill="#3f6fb6"/>
<rect x="124.2" y="142.26" width="5" height="5.01" fill="#3f6fb6"/>
<rect x="129.2" y="142.26" width="5" height="5.01" fill="#3f6fb6"/>
<rect x="134.2" y="142.26" width="5" height="5.01" fill="#3f6fb6"/>
<rect x="139.2" y="142.26" width="5" height="5.01" fill="#3f6fb6"/>
<rect x="144.2" y="142.26" width="5" height="5.01" fill="#fffab7"/>
<rect x="149.2" y="142.26" width="5" height="5.01" fill="#d1e9f3"/>
<rect x="154.2" y="142.26" width="5" height="5.01" fill="#d1e9f3"/>
<rect x="159.2" y="142.26" width="5" height="5.01" fill="#3f6fb6"/>
<rect x="164.2" y="142.26" width="5" height="5.01" fill="#3f6fb6"/>
<rect x="169.2" y="142.26" width="5" height="5.01" fill="#a9cfe4"/>
<rect x="174.2" y="142.26" width="5" height="5.01" fill="#fee89c"/>
<rect x="179.2" y="142.26" width="5" height="5.01" fill="#edf8df"/>
<rect x="184.2" y="142.26" width="5" height="5.01" fill="#d1e9f3"/>
<rect x="189.2" y="142.26" width="5" height="5.01" fill="#fee89c"/>
<rect x="194.2" y="142.26" width="5" height="5.01" fill="#fda66a"/>
<rect x="199.2" y="142.26" width="5" height="5.01" fill="#d1e9f3"/>
<rect x="204.2" y="142.26" width="5" height="5.01" fill="#a9cfe4"/>
<rect x="209.2" y="142.26" width="5" height="5.01" fill="#d1e9f3"/>
<rect x="214.2" y="142.26" width="5" height="5.01" fill="#d1e9f3"/>
<rect x="219.2" y="142.26" width="5" height="5.01" fill="#fee89c"/>
<rect x="224.2" y="142.26" width="5" height="5.01" fill="#fffab7"/>
<rect x="229.2" y="142.26" width="5" height="5.01" fill="#edf8df"/>
<rect x="39.2" y="147.27" width="5" height="5.01" fill="#fece84"/>
<rect x="44.2" y="147.27" width="5" height="5.01" fill="#fece84"/>
<rect x="49.2" y="147.27" width="5" height="5.01" fill="#3f6fb6"/>
<rect x="54.2" y="147.27" width="5" height="5.01" fill="#3f6fb6"/>
<rect x="59.2" y="147.27" width="5" height="5.01" fill="#3f6fb6"/>
<rect x="64.2" y="147.27" width="5" height="5.01" fill="#3f6fb6"/>
<rect x="69.2" y="147.27" width="5" height="5.01" fill="#3f6fb6"/>
<rect x="74.2" y="147.27" width="5" height="5.01" fill="#3f6fb6"/>
<rect x="79.2" y="147.27" width="5" height="5.01" fill="#edf8df"/>
<rect x="84.2" y="147.27" width="5" height="5.01" fill="#3f6fb6"/>
<rect x="89.2" y="147.27" width="5" height="5.01" fill="#3f6fb6"/>
<rect x="94.2" y="147.27" width="5" height="5.01" fill="#3f6fb6"/>
<rect x="99.2" y="147.27" width="5" height="5.01" fill="#3f6fb6"/>
<rect x="104.2" y="147.27" width="5" height="5.01" fill="#3f6fb6"/>
<rect x="109.2" y="147.27" width="5" height="5.01" fill="#3f6fb6"/>
<rect x="114.2" y="147.27" width="5" height="5.01" fill="#3f6fb6"/>
<rect x="119.2" y="147.27" width="5" height="5.01" fill="#3f6fb6"/>
<rect x="124.2" y="147.27" width="5" height="5.01" fill="#3f6fb6"/>
<rect x="129.2" y="147.27" width="5" height="5.01" fill="#3f6fb6"/>
<rect x="134.2" y="147.27" width="5" height="5.01" fill="#3f6fb6"/>
<rect x="139.2" y="147.27" width="5" height="5.01" fill="#fffab7"/>
<rect x="144.2" y="147.27" width="5" height="5.01" fill="#a9cfe4"/>
<rect x="149.2" y="147.27" width="5" height="5.01" fill="#3f6fb6"/>
<rect x="154.2" y="147.27" width="5" height="5.01" fill="#3f6fb6"/>
<rect x="159.2" y="147.27" width="5" height="5.01" fill="#3f6fb6"/>
<rect x="164.2" y="147.27" width="5" height="5.01" fill="#3f6fb6"/>
<rect x="169.2" y="147.27" width="5" height="5.01" fill="#3f6fb6"/>
<rect x="174.2" y="147.27" width="5" height="5.01" fill="#3f6fb6"/>
<rect x="179.2" y="147.27" width="5" height="5.01" fill="#3f6fb6"/>
<rect x="184.2" y="147.27" width="5" height="5.01" fill="#3f6fb6"/>
<rect x="189.2" y="147.27" width="5" height="5.01" fill="#3f6fb6"/>
<rect x="194.2" y="147.27" width="5" height="5.01" fill="#3f6fb6"/>
<rect x="199.2" y="147.27" width="5" height="5.01" fill="#d1e9f3"/>
<rect x="204.2" y="147.27" width="5" height="5.01" fill="#3f6fb6"/>
<rect x="209.2" y="147.27" width="5" height="5.01" fill="#3f6fb6"/>
<rect x="214.2" y="147.27" width="5" height="5.01" fill="#3f6fb6"/>
<rect x="219.2" y="147.27" width="5" height="5.01" fill="#3f6fb6"/>
<rect x="224.2" y="147.27" width="5" height="5.01" fill="#3f6fb6"/>
<rect x="229.2" y="147.27" width="5" height="5.01" fill="#3f6fb6"/>
<rect x="39.2" y="152.28" width="5" height="5.01" fill="#fece84"/>
<rect x="44.2" y="152.28" width="5" height="5.01" fill="#fee89c"/>
<rect x="49.2" y="152.28" width="5" height="5.01" fill="#3f6fb6"/>
<rect x="54.2" y="152.28" width="5" height="5.01" fill="#3f6fb6"/>
<rect x="59.2" y="152.28" width="5" height="5.01" fill="#3f6fb6"/>
<rect x="64.2" y="152.28" width="5" height="5.01" fill="#3f6fb6"/>
<rect x="69.2" y="152.28" width="5" height="5.01" fill="#edf8df"/>
<rect x="74.2" y="152.28" width="5" height="5.01" fill="#3f6fb6"/>
<rect x="79.2" y="152.28" width="5" height="5.01" fill="#3f6fb6"/>
<rect x="84.2" y="152.28" width="5" height="5.01" fill="#3f6fb6"/>
<rect x="89.2" y="152.28" width="5" height="5.01" fill="#3f6fb6"/>
<rect x="94.2" y="152.28" width="5" height="5.01" fill="#3f6fb6"/>
<rect x="99.2" y="152.28" width="5" height="5.01" fill="#3f6fb6"/>
<rect x="104.2" y="152.28" width="5" height="5.01" fill="#3f6fb6"/>
<rect x="109.2" y="152.28" width="5" height="5.01" fill="#3f6fb6"/>
<rect x="114.2" y="152.28" width="5" height="5.01" fill="#3f6fb6"/>
<rect x="119.2" y="152.28" width="5" height="5.01" fill="#3f6fb6"/>
<rect x="124.2" y="152.28" width="5" height="5.01" fill="#3f6fb6"/>
<rect x="129.2" y="152.28" width="5" height="5.01" fill="#3f6fb6"/>
<rect x="134.2" y="152.28" width="5" height="5.01" fill="#3f6fb6"/>
<rect x="139.2" y="152.28" width="5" height="5.01" fill="#edf8df"/>
<rect x="144.2" y="152.28" width="5" height="5.01" fill="#3f6fb6"/>
<rect x="149.2" y="152.28" width="5" height="5.01" fill="#fffab7"/>
<rect x="154.2" y="152.28" width="5" height="5.01" fill="#3f6fb6"/>
<rect x="159.2" y="152.28" width="5" height="5.01" fill="#3f6fb6"/>
<rect x="164.2" y="152.28" width="5" height="5.01" fill="#3f6fb6"/>
<rect x="169.2" y="152.28" width="5" height="5.01" fill="#3f6fb6"/>
<rect x="174.2" y="152.28" width="5" height="5.01" fill="#3f6fb6"/>
<rect x="179.2" y="152.28" width="5" height="5.01" fill="#edf8df"/>
<rect x="184.2" y="152.28" width="5" height="5.01" fill="#3f6fb6"/>
<rect x="189.2" y="152.28" width="5" height="5.01" fill="#3f6fb6"/>
<rect x="194.2" y="152.28" width="5" height="5.01" fill="#3f6fb6"/>
<rect x="199.2" y="152.28" width="5" height="5.01" fill="#edf8df"/>
<rect x="204.2" y="152.28" width="5" height="5.01" fill="#3f6fb6"/>
<rect x="209.2" y="152.28" width="5" height="5.01" fill="#3f6fb6"/>
<rect x="214.2" y="152.28" width="5" height="5.01" fill="#3f6fb6"/>
<rect x="219.2" y="152.28" width="5" height="5.01" fill="#3f6fb6"/>
<rect x="224.2" y="152.28" width="5" height="5.01" fill="#3f6fb6"/>
<rect x="229.2" y="152.28" width="5" height="5.01" fill="#3f6fb6"/>
<rect x="39.2" y="157.29" width="5" height="5.01" fill="#fee89c"/>
<rect x="44.2" y="157.29" width="5" height="5.01" fill="#fee89c"/>
<rect x="49.2" y="157.29" width="5" height="5.01" fill="#3f6fb6"/>
<rect x="54.2" y="157.29" width="5" height="5.01" fill="#3f6fb6"/>
<rect x="59.2" y="157.29" width="5" height="5.01" fill="#3f6fb6"/>
<rect x="64.2" y="157.29" width="5" height="5.01" fill="#edf8df"/>
<rect x="69.2" y="157.29" width="5" height="5.01" fill="#d1e9f3"/>
<rect x="74.2" y="157.29" width="5" height="5.01" fill="#fda66a"/>
<rect x="79.2" y="157.29" width="5" height="5.01" fill="#fffab7"/>
<rect x="84.2" y="157.29" width="5" height="5.01" fill="#3f6fb6"/>
<rect x="89.2" y="157.29" width="5" height="5.01" fill="#3f6fb6"/>
<rect x="94.2" y="157.29" width="5" height="5.01" fill="#3f6fb6"/>
<rect x="99.2" y="157.29" width="5" height="5.01" fill="#3f6fb6"/>
<rect x="104.2" y="157.29" width="5" height="5.01" fill="#3f6fb6"/>
<rect x="109.2" y="157.29" width="5" height="5.01" fill="#3f6fb6"/>
<rect x="114.2" y="157.29" width="5" height="5.01" fill="#3f6fb6"/>
<rect x="119.2" y="157.29" width="5" height="5.01" fill="#3f6fb6"/>
<rect x="124.2" y="157.29" width="5" height="5.01" fill="#3f6fb6"/>
<rect x="129.2" y="157.29" width="5" height="5.01" fill="#3f6fb6"/>
<rect x="134.2" y="157.29" width="5" height="5.01" fill="#3f6fb6"/>
<rect x="139.2" y="157.29" width="5" height="5.01" fill="#fffab7"/>
<rect x="144.2" y="157.29" width="5" height="5.01" fill="#3f6fb6"/>
<rect x="149.2" y="157.29" width="5" height="5.01" fill="#fffab7"/>
<rect x="154.2" y="157.29" width="5" height="5.01" fill="#d1e9f3"/>
<rect x="159.2" y="157.29" width="5" height="5.01" fill="#3f6fb6"/>
<rect x="164.2" y="157.29" width="5" height="5.01" fill="#3f6fb6"/>
<rect x="169.2" y="157.29" width="5" height="5.01" fill="#3f6fb6"/>
<rect x="174.2" y="157.29" width="5" height="5.01" fill="#3f6fb6"/>
<rect x="179.2" y="157.29" width="5" height="5.01" fill="#3f6fb6"/>
<rect x="184.2" y="157.29" width="5" height="5.01" fill="#3f6fb6"/>
<rect x="189.2" y="157.29" width="5" height="5.01" fill="#3f6fb6"/>
<rect x="194.2" y="157.29" width="5" height="5.01" fill="#3f6fb6"/>
<rect x="199.2" y="157.29" width="5" height="5.01" fill="#d1e9f3"/>
<rect x="204.2" y="157.29" width="5" height="5.01" fill="#edf8df"/>
<rect x="209.2" y="157.29" width="5" height="5.01" fill="#a9cfe4"/>
<rect x="214.2" y="157.29" width="5" height="5.01" fill="#3f6fb6"/>
<rect x="219.2" y="157.29" width="5" height="5.01" fill="#d1e9f3"/>
<rect x="224.2" y="157.29" width="5" height="5.01" fill="#3f6fb6"/>
<rect x="229.2" y="157.29" width="5" height="5.01" fill="#3f6fb6"/>
<rect x="39.2" y="162.30" width="5" height="5.01" fill="#fee89c"/>
<rect x="44.2" y="162.30" width="5" height="5.01" fill="#fece84"/>
<rect x="49.2" y="162.30" width="5" height="5.01" fill="#3f6fb6"/>
<rect x="54.2" y="162.30" width="5" height="5.01" fill="#fffab7"/>
<rect x="59.2" y="162.30" width="5" height="5.01" fill="#3f6fb6"/>
<rect x="64.2" y="162.30" width="5" height="5.01" fill="#edf8df"/>
<rect x="69.2" y="162.30" width="5" height="5.01" fill="#3f6fb6"/>
<rect x="74.2" y="162.30" width="5" height="5.01" fill="#a9cfe4"/>
<rect x="79.2" y="162.30" width="5" height="5.01" fill="#fffab7"/>
<rect x="84.2" y="162.30" width="5" height="5.01" fill="#3f6fb6"/>
<rect x="89.2" y="162.30" width="5" height="5.01" fill="#3f6fb6"/>
<rect x="94.2" y="162.30" width="5" height="5.01" fill="#3f6fb6"/>
<rect x="99.2" y="162.30" width="5" height="5.01" fill="#3f6fb6"/>
<rect x="104.2" y="162.30" width="5" height="5.01" fill="#3f6fb6"/>
<rect x="109.2" y="162.30" width="5" height="5.01" fill="#3f6fb6"/>
<rect x="114.2" y="162.30" width="5" height="5.01" fill="#3f6fb6"/>
<rect x="119.2" y="162.30" width="5" height="5.01" fill="#3f6fb6"/>
<rect x="124.2" y="162.30" width="5" height="5.01" fill="#3f6fb6"/>
<rect x="129.2" y="162.30" width="5" height="5.01" fill="#3f6fb6"/>
<rect x="134.2" y="162.30" width="5" height="5.01" fill="#3f6fb6"/>
<rect x="139.2" y="162.30" width="5" height="5.01" fill="#fece84"/>
<rect x="144.2" y="162.30" width="5" height="5.01" fill="#3f6fb6"/>
<rect x="149.2" y="162.30" width="5" height="5.01" fill="#3f6fb6"/>
<rect x="154.2" y="162.30" width="5" height="5.01" fill="#3f6fb6"/>
<rect x="159.2" y="162.30" width="5" height="5.01" fill="#3f6fb6"/>
<rect x="164.2" y="162.30" width="5" height="5.01" fill="#3f6fb6"/>
<rect x="169.2" y="162.30" width="5" height="5.01" fill="#3f6fb6"/>
<rect x="174.2" y="162.30" width="5" height="5.01" fill="#3f6fb6"/>
<rect x="179.2" y="162.30" width="5" height="5.01" fill="#3f6fb6"/>
<rect x="184.2" y="162.30" width="5" height="5.01" fill="#d1e9f3"/>
<rect x="189.2" y="162.30" width="5" height="5.01" fill="#edf8df"/>
<rect x="194.2" y="162.30" width="5" height="5.01" fill="#a9cfe4"/>
<rect x="199.2" y="162.30" width="5" height="5.01" fill="#d1e9f3"/>
<rect x="204.2" y="162.30" width="5" height="5.01" fill="#3f6fb6"/>
<rect x="209.2" y="162.30" width="5" height="5.01" fill="#3f6fb6"/>
<rect x="214.2" y="162.30" width="5" height="5.01" fill="#3f6fb6"/>
<rect x="219.2" y="162.30" width="5" height="5.01" fill="#3f6fb6"/>
<rect x="224.2" y="162.30" width="5" height="5.01" fill="#3f6fb6"/>
<rect x="229.2" y="162.30" width="5" height="5.01" fill="#3f6fb6"/>
<rect x="39.2" y="167.32" width="5" height="5.01" fill="#fee89c"/>
<rect x="44.2" y="167.32" width="5" height="5.01" fill="#edf8df"/>
<rect x="49.2" y="167.32" width="5" height="5.01" fill="#3f6fb6"/>
<rect x="54.2" y="167.32" width="5" height="5.01" fill="#3f6fb6"/>
<rect x="59.2" y="167.32" width="5" height="5.01" fill="#3f6fb6"/>
<rect x="64.2" y="167.32" width="5" height="5.01" fill="#a9cfe4"/>
<rect x="69.2" y="167.32" width="5" height="5.01" fill="#a9cfe4"/>
<rect x="74.2" y="167.32" width="5" height="5.01" fill="#a9cfe4"/>
<rect x="79.2" y="167.32" width="5" height="5.01" fill="#3f6fb6"/>
<rect x="84.2" y="167.32" width="5" height="5.01" fill="#3f6fb6"/>
<rect x="89.2" y="167.32" width="5" height="5.01" fill="#3f6fb6"/>
<rect x="94.2" y="167.32" width="5" height="5.01" fill="#3f6fb6"/>
<rect x="99.2" y="167.32" width="5" height="5.01" fill="#3f6fb6"/>
<rect x="104.2" y="167.32" width="5" height="5.01" fill="#3f6fb6"/>
<rect x="109.2" y="167.32" width="5" height="5.01" fill="#3f6fb6"/>
<rect x="114.2" y="167.32" width="5" height="5.01" fill="#3f6fb6"/>
<rect x="119.2" y="167.32" width="5" height="5.01" fill="#3f6fb6"/>
<rect x="124.2" y="167.32" width="5" height="5.01" fill="#3f6fb6"/>
<rect x="129.2" y="167.32" width="5" height="5.01" fill="#3f6fb6"/>
<rect x="134.2" y="167.32" width="5" height="5.01" fill="#a9cfe4"/>
<rect x="139.2" y="167.32" width="5" height="5.01" fill="#fffab7"/>
<rect x="144.2" y="167.32" width="5" height="5.01" fill="#a9cfe4"/>
<rect x="149.2" y="167.32" width="5" height="5.01" fill="#d1e9f3"/>
<rect x="154.2" y="167.32" width="5" height="5.01" fill="#3f6fb6"/>
<rect x="159.2" y="167.32" width="5" height="5.01" fill="#a9cfe4"/>
<rect x="164.2" y="167.32" width="5" height="5.01" fill="#3f6fb6"/>
<rect x="169.2" y="167.32" width="5" height="5.01" fill="#3f6fb6"/>
<rect x="174.2" y="167.32" width="5" height="5.01" fill="#a9cfe4"/>
<rect x="179.2" y="167.32" width="5" height="5.01" fill="#fffab7"/>
<rect x="184.2" y="167.32" width="5" height="5.01" fill="#fffab7"/>
<rect x="189.2" y="167.32" width="5" height="5.01" fill="#fee89c"/>
<rect x="194.2" y="167.32" width="5" height="5.01" fill="#fffab7"/>
<rect x="199.2" y="167.32" width="5" height="5.01" fill="#edf8df"/>
<rect x="204.2" y="167.32" width="5" height="5.01" fill="#fece84"/>
<rect x="209.2" y="167.32" width="5" height="5.01" fill="#fee89c"/>
<rect x="214.2" y="167.32" width="5" height="5.01" fill="#3f6fb6"/>
<rect x="219.2" y="167.32" width="5" height="5.01" fill="#3f6fb6"/>
<rect x="224.2" y="167.32" width="5" height="5.01" fill="#3f6fb6"/>
<rect x="229.2" y="167.32" width="5" height="5.01" fill="#d1e9f3"/>
<rect x="39.2" y="172.33" width="5" height="5.01" fill="#a9cfe4"/>
<rect x="44.2" y="172.33" width="5" height="5.01" fill="#fee89c"/>
<rect x="49.2" y="172.33" width="5" height="5.01" fill="#3f6fb6"/>
<rect x="54.2" y="172.33" width="5" height="5.01" fill="#3f6fb6"/>
<rect x="59.2" y="172.33" width="5" height="5.01" fill="#3f6fb6"/>
<rect x="64.2" y="172.33" width="5" height="5.01" fill="#3f6fb6"/>
<rect x="69.2" y="172.33" width="5" height="5.01" fill="#3f6fb6"/>
<rect x="74.2" y="172.33" width="5" height="5.01" fill="#3f6fb6"/>
<rect x="79.2" y="172.33" width="5" height="5.01" fill="#3f6fb6"/>
<rect x="84.2" y="172.33" width="5" height="5.01" fill="#3f6fb6"/>
<rect x="89.2" y="172.33" width="5" height="5.01" fill="#3f6fb6"/>
<rect x="94.2" y="172.33" width="5" height="5.01" fill="#3f6fb6"/>
<rect x="99.2" y="172.33" width="5" height="5.01" fill="#3f6fb6"/>
<rect x="104.2" y="172.33" width="5" height="5.01" fill="#3f6fb6"/>
<rect x="109.2" y="172.33" width="5" height="5.01" fill="#3f6fb6"/>
<rect x="114.2" y="172.33" width="5" height="5.01" fill="#3f6fb6"/>
<rect x="119.2" y="172.33" width="5" height="5.01" fill="#3f6fb6"/>
<rect x="124.2" y="172.33" width="5" height="5.01" fill="#3f6fb6"/>
<rect x="129.2" y="172.33" width="5" height="5.01" fill="#3f6fb6"/>
<rect x="134.2" y="172.33" width="5" height="5.01" fill="#3f6fb6"/>
<rect x="139.2" y="172.33" width="5" height="5.01" fill="#edf8df"/>
<rect x="144.2" y="172.33" width="5" height="5.01" fill="#3f6fb6"/>
<rect x="149.2" y="172.33" width="5" height="5.01" fill="#3f6fb6"/>
<rect x="154.2" y="172.33" width="5" height="5.01" fill="#3f6fb6"/>
<rect x="159.2" y="172.33" width="5" height="5.01" fill="#3f6fb6"/>
<rect x="164.2" y="172.33" width="5" height="5.01" fill="#3f6fb6"/>
<rect x="169.2" y="172.33" width="5" height="5.01" fill="#3f6fb6"/>
<rect x="174.2" y="172.33" width="5" height="5.01" fill="#3f6fb6"/>
<rect x="179.2" y="172.33" width="5" height="5.01" fill="#fffab7"/>
<rect x="184.2" y="172.33" width="5" height="5.01" fill="#fda66a"/>
<rect x="189.2" y="172.33" width="5" height="5.01" fill="#edf8df"/>
<rect x="194.2" y="172.33" width="5" height="5.01" fill="#fffab7"/>
<rect x="199.2" y="172.33" width="5" height="5.01" fill="#3f6fb6"/>
<rect x="204.2" y="172.33" width="5" height="5.01" fill="#3f6fb6"/>
<rect x="209.2" y="172.33" width="5" height="5.01" fill="#3f6fb6"/>
<rect x="214.2" y="172.33" width="5" height="5.01" fill="#3f6fb6"/>
<rect x="219.2" y="172.33" width="5" height="5.01" fill="#3f6fb6"/>
<rect x="224.2" y="172.33" width="5" height="5.01" fill="#3f6fb6"/>
<rect x="229.2" y="172.33" width="5" height="5.01" fill="#3f6fb6"/>
<rect x="39.2" y="177.34" width="5" height="5.01" fill="#a9cfe4"/>
<rect x="44.2" y="177.34" width="5" height="5.01" fill="#a9cfe4"/>
<rect x="49.2" y="177.34" width="5" height="5.01" fill="#edf8df"/>
<rect x="54.2" y="177.34" width="5" height="5.01" fill="#edf8df"/>
<rect x="59.2" y="177.34" width="5" height="5.01" fill="#d1e9f3"/>
<rect x="64.2" y="177.34" width="5" height="5.01" fill="#a9cfe4"/>
<rect x="69.2" y="177.34" width="5" height="5.01" fill="#a9cfe4"/>
<rect x="74.2" y="177.34" width="5" height="5.01" fill="#a9cfe4"/>
<rect x="79.2" y="177.34" width="5" height="5.01" fill="#a9cfe4"/>
<rect x="84.2" y="177.34" width="5" height="5.01" fill="#a9cfe4"/>
<rect x="89.2" y="177.34" width="5" height="5.01" fill="#e6553b"/>
<rect x="94.2" y="177.34" width="5" height="5.01" fill="#e6553b"/>
<rect x="99.2" y="177.34" width="5" height="5.01" fill="#e6553b"/>
<rect x="104.2" y="177.34" width="5" height="5.01" fill="#e6553b"/>
<rect x="109.2" y="177.34" width="5" height="5.01" fill="#d9352a"/>
<rect x="114.2" y="177.34" width="5" height="5.01" fill="#e6553b"/>
<rect x="119.2" y="177.34" width="5" height="5.01" fill="#d9352a"/>
<rect x="124.2" y="177.34" width="5" height="5.01" fill="#e6553b"/>
<rect x="129.2" y="177.34" width="5" height="5.01" fill="#e6553b"/>
<rect x="134.2" y="177.34" width="5" height="5.01" fill="#d9352a"/>
<rect x="139.2" y="177.34" width="5" height="5.01" fill="#d9352a"/>
<rect x="144.2" y="177.34" width="5" height="5.01" fill="#fda66a"/>
<rect x="149.2" y="177.34" width="5" height="5.01" fill="#e6553b"/>
<rect x="154.2" y="177.34" width="5" height="5.01" fill="#d9352a"/>
<rect x="159.2" y="177.34" width="5" height="5.01" fill="#e6553b"/>
<rect x="164.2" y="177.34" width="5" height="5.01" fill="#fda66a"/>
<rect x="169.2" y="177.34" width="5" height="5.01" fill="#fda66a"/>
<rect x="174.2" y="177.34" width="5" height="5.01" fill="#e6553b"/>
<rect x="179.2" y="177.34" width="5" height="5.01" fill="#e6553b"/>
<rect x="184.2" y="177.34" width="5" height="5.01" fill="#fda66a"/>
<rect x="189.2" y="177.34" width="5" height="5.01" fill="#fda66a"/>
<rect x="194.2" y="177.34" width="5" height="5.01" fill="#e6553b"/>
<rect x="199.2" y="177.34" width="5" height="5.01" fill="#e6553b"/>
<rect x="204.2" y="177.34" width="5" height="5.01" fill="#fda66a"/>
<rect x="209.2" y="177.34" width="5" height="5.01" fill="#d9352a"/>
<rect x="214.2" y="177.34" width="5" height="5.01" fill="#e6553b"/>
<rect x="219.2" y="177.34" width="5" height="5.01" fill="#e6553b"/>
<rect x="224.2" y="177.34" width="5" height="5.01" fill="#d9352a"/>
<rect x="229.2" y="177.34" width="5" height="5.01" fill="#e6553b"/>
<rect x="39.2" y="182.35" width="5" height="5.01" fill="#a9cfe4"/>
<rect x="44.2" y="182.35" width="5" height="5.01" fill="#edf8df"/>
<rect x="49.2" y="182.35" width="5" height="5.01" fill="#d1e9f3"/>
<rect x="54.2" y="182.35" width="5" height="5.01" fill="#fffab7"/>
<rect x="59.2" y="182.35" width="5" height="5.01" fill="#edf8df"/>
<rect x="64.2" y="182.35" width="5" height="5.01" fill="#fffab7"/>
<rect x="69.2" y="182.35" width="5" height="5.01" fill="#edf8df"/>
<rect x="74.2" y="182.35" width="5" height="5.01" fill="#d1e9f3"/>
<rect x="79.2" y="182.35" width="5" height="5.01" fill="#fffab7"/>
<rect x="84.2" y="182.35" width="5" height="5.01" fill="#d1e9f3"/>
<rect x="89.2" y="182.35" width="5" height="5.01" fill="#fda66a"/>
<rect x="94.2" y="182.35" width="5" height="5.01" fill="#fece84"/>
<rect x="99.2" y="182.35" width="5" height="5.01" fill="#fda66a"/>
<rect x="104.2" y="182.35" width="5" height="5.01" fill="#fece84"/>
<rect x="109.2" y="182.35" width="5" height="5.01" fill="#fffab7"/>
<rect x="114.2" y="182.35" width="5" height="5.01" fill="#fece84"/>
<rect x="119.2" y="182.35" width="5" height="5.01" fill="#fece84"/>
<rect x="124.2" y="182.35" width="5" height="5.01" fill="#fee89c"/>
<rect x="129.2" y="182.35" width="5" height="5.01" fill="#fece84"/>
<rect x="134.2" y="182.35" width="5" height="5.01" fill="#fffab7"/>
<rect x="139.2" y="182.35" width="5" height="5.01" fill="#fffab7"/>
<rect x="144.2" y="182.35" width="5" height="5.01" fill="#d1e9f3"/>
<rect x="149.2" y="182.35" width="5" height="5.01" fill="#fffab7"/>
<rect x="154.2" y="182.35" width="5" height="5.01" fill="#edf8df"/>
<rect x="159.2" y="182.35" width="5" height="5.01" fill="#fffab7"/>
<rect x="164.2" y="182.35" width="5" height="5.01" fill="#fee89c"/>
<rect x="169.2" y="182.35" width="5" height="5.01" fill="#fffab7"/>
<rect x="174.2" y="182.35" width="5" height="5.01" fill="#fee89c"/>
<rect x="179.2" y="182.35" width="5" height="5.01" fill="#fffab7"/>
<rect x="184.2" y="182.35" width="5" height="5.01" fill="#fffab7"/>
<rect x="189.2" y="182.35" width="5" height="5.01" fill="#fee89c"/>
<rect x="194.2" y="182.35" width="5" height="5.01" fill="#fffab7"/>
<rect x="199.2" y="182.35" width="5" height="5.01" fill="#fffab7"/>
<rect x="204.2" y="182.35" width="5" height="5.01" fill="#fffab7"/>
<rect x="209.2" y="182.35" width="5" height="5.01" fill="#fffab7"/>
<rect x="214.2" y="182.35" width="5" height="5.01" fill="#fece84"/>
<rect x="219.2" y="182.35" width="5" height="5.01" fill="#fece84"/>
<rect x="224.2" y="182.35" width="5" height="5.01" fill="#fffab7"/>
<rect x="229.2" y="182.35" width="5" height="5.01" fill="#fee89c"/>
<rect x="39.2" y="187.36" width="5" height="5.01" fill="#fffab7"/>
<rect x="44.2" y="187.36" width="5" height="5.01" fill="#3f6fb6"/>
<rect x="49.2" y="187.36" width="5" height="5.01" fill="#3f6fb6"/>
<rect x="54.2" y="187.36" width="5" height="5.01" fill="#edf8df"/>
<rect x="59.2" y="187.36" width="5" height="5.01" fill="#3f6fb6"/>
<rect x="64.2" y="187.36" width="5" height="5.01" fill="#edf8df"/>
<rect x="69.2" y="187.36" width="5" height="5.01" fill="#edf8df"/>
<rect x="74.2" y="187.36" width="5" height="5.01" fill="#fffab7"/>
<rect x="79.2" y="187.36" width="5" height="5.01" fill="#3f6fb6"/>
<rect x="84.2" y="187.36" width="5" height="5.01" fill="#edf8df"/>
<rect x="89.2" y="187.36" width="5" height="5.01" fill="#fece84"/>
<rect x="94.2" y="187.36" width="5" height="5.01" fill="#fee89c"/>
<rect x="99.2" y="187.36" width="5" height="5.01" fill="#fda66a"/>
<rect x="104.2" y="187.36" width="5" height="5.01" fill="#fece84"/>
<rect x="109.2" y="187.36" width="5" height="5.01" fill="#fece84"/>
<rect x="114.2" y="187.36" width="5" height="5.01" fill="#fffab7"/>
<rect x="119.2" y="187.36" width="5" height="5.01" fill="#f06f49"/>
<rect x="124.2" y="187.36" width="5" height="5.01" fill="#fece84"/>
<rect x="129.2" y="187.36" width="5" height="5.01" fill="#fda66a"/>
<rect x="134.2" y="187.36" width="5" height="5.01" fill="#fda66a"/>
<rect x="139.2" y="187.36" width="5" height="5.01" fill="#d1e9f3"/>
<rect x="144.2" y="187.36" width="5" height="5.01" fill="#fee89c"/>
<rect x="149.2" y="187.36" width="5" height="5.01" fill="#fffab7"/>
<rect x="154.2" y="187.36" width="5" height="5.01" fill="#fee89c"/>
<rect x="159.2" y="187.36" width="5" height="5.01" fill="#d1e9f3"/>
<rect x="164.2" y="187.36" width="5" height="5.01" fill="#fffab7"/>
<rect x="169.2" y="187.36" width="5" height="5.01" fill="#d1e9f3"/>
<rect x="174.2" y="187.36" width="5" height="5.01" fill="#fece84"/>
<rect x="179.2" y="187.36" width="5" height="5.01" fill="#fee89c"/>
<rect x="184.2" y="187.36" width="5" height="5.01" fill="#fda66a"/>
<rect x="189.2" y="187.36" width="5" height="5.01" fill="#fece84"/>
<rect x="194.2" y="187.36" width="5" height="5.01" fill="#fee89c"/>
<rect x="199.2" y="187.36" width="5" height="5.01" fill="#fffab7"/>
<rect x="204.2" y="187.36" width="5" height="5.01" fill="#edf8df"/>
<rect x="209.2" y="187.36" width="5" height="5.01" fill="#fffab7"/>
<rect x="214.2" y="187.36" width="5" height="5.01" fill="#fee89c"/>
<rect x="219.2" y="187.36" width="5" height="5.01" fill="#fee89c"/>
<rect x="224.2" y="187.36" width="5" height="5.01" fill="#edf8df"/>
<rect x="229.2" y="187.36" width="5" height="5.01" fill="#fee89c"/>
<rect x="39.2" y="192.38" width="5" height="5.01" fill="#3f6fb6"/>
<rect x="44.2" y="192.38" width="5" height="5.01" fill="#3f6fb6"/>
<rect x="49.2" y="192.38" width="5" height="5.01" fill="#3f6fb6"/>
<rect x="54.2" y="192.38" width="5" height="5.01" fill="#3f6fb6"/>
<rect x="59.2" y="192.38" width="5" height="5.01" fill="#3f6fb6"/>
<rect x="64.2" y="192.38" width="5" height="5.01" fill="#3f6fb6"/>
<rect x="69.2" y="192.38" width="5" height="5.01" fill="#3f6fb6"/>
<rect x="74.2" y="192.38" width="5" height="5.01" fill="#3f6fb6"/>
<rect x="79.2" y="192.38" width="5" height="5.01" fill="#3f6fb6"/>
<rect x="84.2" y="192.38" width="5" height="5.01" fill="#3f6fb6"/>
<rect x="89.2" y="192.38" width="5" height="5.01" fill="#edf8df"/>
<rect x="94.2" y="192.38" width="5" height="5.01" fill="#d1e9f3"/>
<rect x="99.2" y="192.38" width="5" height="5.01" fill="#edf8df"/>
<rect x="104.2" y="192.38" width="5" height="5.01" fill="#edf8df"/>
<rect x="109.2" y="192.38" width="5" height="5.01" fill="#edf8df"/>
<rect x="114.2" y="192.38" width="5" height="5.01" fill="#d1e9f3"/>
<rect x="119.2" y="192.38" width="5" height="5.01" fill="#3f6fb6"/>
<rect x="124.2" y="192.38" width="5" height="5.01" fill="#edf8df"/>
<rect x="129.2" y="192.38" width="5" height="5.01" fill="#d1e9f3"/>
<rect x="134.2" y="192.38" width="5" height="5.01" fill="#d1e9f3"/>
<rect x="139.2" y="192.38" width="5" height="5.01" fill="#fece84"/>
<rect x="144.2" y="192.38" width="5" height="5.01" fill="#fee89c"/>
<rect x="149.2" y="192.38" width="5" height="5.01" fill="#fece84"/>
<rect x="154.2" y="192.38" width="5" height="5.01" fill="#fee89c"/>
<rect x="159.2" y="192.38" width="5" height="5.01" fill="#fee89c"/>
<rect x="164.2" y="192.38" width="5" height="5.01" fill="#fece84"/>
<rect x="169.2" y="192.38" width="5" height="5.01" fill="#fee89c"/>
<rect x="174.2" y="192.38" width="5" height="5.01" fill="#fee89c"/>
<rect x="179.2" y="192.38" width="5" height="5.01" fill="#fffab7"/>
<rect x="184.2" y="192.38" width="5" height="5.01" fill="#fece84"/>
<rect x="189.2" y="192.38" width="5" height="5.01" fill="#fffab7"/>
<rect x="194.2" y="192.38" width="5" height="5.01" fill="#fee89c"/>
<rect x="199.2" y="192.38" width="5" height="5.01" fill="#edf8df"/>
<rect x="204.2" y="192.38" width="5" height="5.01" fill="#fffab7"/>
<rect x="209.2" y="192.38" width="5" height="5.01" fill="#fee89c"/>
<rect x="214.2" y="192.38" width="5" height="5.01" fill="#fee89c"/>
<rect x="219.2" y="192.38" width="5" height="5.01" fill="#fee89c"/>
<rect x="224.2" y="192.38" width="5" height="5.01" fill="#fece84"/>
<rect x="229.2" y="192.38" width="5" height="5.01" fill="#fee89c"/>
<rect x="39.2" y="197.39" width="5" height="5.01" fill="#3f6fb6"/>
<rect x="44.2" y="197.39" width="5" height="5.01" fill="#3f6fb6"/>
<rect x="49.2" y="197.39" width="5" height="5.01" fill="#3f6fb6"/>
<rect x="54.2" y="197.39" width="5" height="5.01" fill="#3f6fb6"/>
<rect x="59.2" y="197.39" width="5" height="5.01" fill="#3f6fb6"/>
<rect x="64.2" y="197.39" width="5" height="5.01" fill="#3f6fb6"/>
<rect x="69.2" y="197.39" width="5" height="5.01" fill="#3f6fb6"/>
<rect x="74.2" y="197.39" width="5" height="5.01" fill="#3f6fb6"/>
<rect x="79.2" y="197.39" width="5" height="5.01" fill="#3f6fb6"/>
<rect x="84.2" y="197.39" width="5" height="5.01" fill="#3f6fb6"/>
<rect x="89.2" y="197.39" width="5" height="5.01" fill="#fee89c"/>
<rect x="94.2" y="197.39" width="5" height="5.01" fill="#fee89c"/>
<rect x="99.2" y="197.39" width="5" height="5.01" fill="#fffab7"/>
<rect x="104.2" y="197.39" width="5" height="5.01" fill="#fece84"/>
<rect x="109.2" y="197.39" width="5" height="5.01" fill="#fee89c"/>
<rect x="114.2" y="197.39" width="5" height="5.01" fill="#fee89c"/>
<rect x="119.2" y="197.39" width="5" height="5.01" fill="#edf8df"/>
<rect x="124.2" y="197.39" width="5" height="5.01" fill="#fee89c"/>
<rect x="129.2" y="197.39" width="5" height="5.01" fill="#fffab7"/>
<rect x="134.2" y="197.39" width="5" height="5.01" fill="#fee89c"/>
<rect x="139.2" y="197.39" width="5" height="5.01" fill="#fda66a"/>
<rect x="144.2" y="197.39" width="5" height="5.01" fill="#fee89c"/>
<rect x="149.2" y="197.39" width="5" height="5.01" fill="#fda66a"/>
<rect x="154.2" y="197.39" width="5" height="5.01" fill="#fda66a"/>
<rect x="159.2" y="197.39" width="5" height="5.01" fill="#fece84"/>
<rect x="164.2" y="197.39" width="5" height="5.01" fill="#fda66a"/>
<rect x="169.2" y="197.39" width="5" height="5.01" fill="#fda66a"/>
<rect x="174.2" y="197.39" width="5" height="5.01" fill="#fece84"/>
<rect x="179.2" y="197.39" width="5" height="5.01" fill="#fece84"/>
<rect x="184.2" y="197.39" width="5" height="5.01" fill="#fda66a"/>
<rect x="189.2" y="197.39" width="5" height="5.01" fill="#fda66a"/>
<rect x="194.2" y="197.39" width="5" height="5.01" fill="#fda66a"/>
<rect x="199.2" y="197.39" width="5" height="5.01" fill="#fece84"/>
<rect x="204.2" y="197.39" width="5" height="5.01" fill="#fee89c"/>
<rect x="209.2" y="197.39" width="5" height="5.01" fill="#fee89c"/>
<rect x="214.2" y="197.39" width="5" height="5.01" fill="#fda66a"/>
<rect x="219.2" y="197.39" width="5" height="5.01" fill="#fda66a"/>
<rect x="224.2" y="197.39" width="5" height="5.01" fill="#fda66a"/>
<rect x="229.2" y="197.39" width="5" height="5.01" fill="#fda66a"/>
<rect x="39.2" y="202.40" width="5" height="5.01" fill="#3f6fb6"/>
<rect x="44.2" y="202.40" width="5" height="5.01" fill="#3f6fb6"/>
<rect x="49.2" y="202.40" width="5" height="5.01" fill="#3f6fb6"/>
<rect x="54.2" y="202.40" width="5" height="5.01" fill="#3f6fb6"/>
<rect x="59.2" y="202.40" width="5" height="5.01" fill="#3f6fb6"/>
<rect x="64.2" y="202.40" width="5" height="5.01" fill="#3f6fb6"/>
<rect x="69.2" y="202.40" width="5" height="5.01" fill="#3f6fb6"/>
<rect x="74.2" y="202.40" width="5" height="5.01" fill="#3f6fb6"/>
<rect x="79.2" y="202.40" width="5" height="5.01" fill="#3f6fb6"/>
<rect x="84.2" y="202.40" width="5" height="5.01" fill="#3f6fb6"/>
<rect x="89.2" y="202.40" width="5" height="5.01" fill="#fece84"/>
<rect x="94.2" y="202.40" width="5" height="5.01" fill="#fee89c"/>
<rect x="99.2" y="202.40" width="5" height="5.01" fill="#fee89c"/>
<rect x="104.2" y="202.40" width="5" height="5.01" fill="#fece84"/>
<rect x="109.2" y="202.40" width="5" height="5.01" fill="#fffab7"/>
<rect x="114.2" y="202.40" width="5" height="5.01" fill="#fece84"/>
<rect x="119.2" y="202.40" width="5" height="5.01" fill="#fee89c"/>
<rect x="124.2" y="202.40" width="5" height="5.01" fill="#fffab7"/>
<rect x="129.2" y="202.40" width="5" height="5.01" fill="#fece84"/>
<rect x="134.2" y="202.40" width="5" height="5.01" fill="#fee89c"/>
<rect x="139.2" y="202.40" width="5" height="5.01" fill="#fee89c"/>
<rect x="144.2" y="202.40" width="5" height="5.01" fill="#fee89c"/>
<rect x="149.2" y="202.40" width="5" height="5.01" fill="#fece84"/>
<rect x="154.2" y="202.40" width="5" height="5.01" fill="#fee89c"/>
<rect x="159.2" y="202.40" width="5" height="5.01" fill="#fece84"/>
<rect x="164.2" y="202.40" width="5" height="5.01" fill="#fece84"/>
<rect x="169.2" y="202.40" width="5" height="5.01" fill="#fee89c"/>
<rect x="174.2" y="202.40" width="5" height="5.01" fill="#fda66a"/>
<rect x="179.2" y="202.40" width="5" height="5.01" fill="#fda66a"/>
<rect x="184.2" y="202.40" width="5" height="5.01" fill="#fda66a"/>
<rect x="189.2" y="202.40" width="5" height="5.01" fill="#fee89c"/>
<rect x="194.2" y="202.40" width="5" height="5.01" fill="#fffab7"/>
<rect x="199.2" y="202.40" width="5" height="5.01" fill="#fee89c"/>
<rect x="204.2" y="202.40" width="5" height="5.01" fill="#fee89c"/>
<rect x="209.2" y="202.40" width="5" height="5.01" fill="#fee89c"/>
<rect x="214.2" y="202.40" width="5" height="5.01" fill="#fda66a"/>
<rect x="219.2" y="202.40" width="5" height="5.01" fill="#fda66a"/>
<rect x="224.2" y="202.40" width="5" height="5.01" fill="#fffab7"/>
<rect x="229.2" y="202.40" width="5" height="5.01" fill="#fee89c"/>
<rect x="39.2" y="207.41" width="5" height="5.01" fill="#3f6fb6"/>
<rect x="44.2" y="207.41" width="5" height="5.01" fill="#3f6fb6"/>
<rect x="49.2" y="207.41" width="5" height="5.01" fill="#3f6fb6"/>
<rect x="54.2" y="207.41" width="5" height="5.01" fill="#3f6fb6"/>
<rect x="59.2" y="207.41" width="5" height="5.01" fill="#3f6fb6"/>
<rect x="64.2" y="207.41" width="5" height="5.01" fill="#3f6fb6"/>
<rect x="69.2" y="207.41" width="5" height="5.01" fill="#3f6fb6"/>
<rect x="74.2" y="207.41" width="5" height="5.01" fill="#fffab7"/>
<rect x="79.2" y="207.41" width="5" height="5.01" fill="#3f6fb6"/>
<rect x="84.2" y="207.41" width="5" height="5.01" fill="#3f6fb6"/>
<rect x="89.2" y="207.41" width="5" height="5.01" fill="#fffab7"/>
<rect x="94.2" y="207.41" width="5" height="5.01" fill="#edf8df"/>
<rect x="99.2" y="207.41" width="5" height="5.01" fill="#fece84"/>
<rect x="104.2" y="207.41" width="5" height="5.01" fill="#fee89c"/>
<rect x="109.2" y="207.41" width="5" height="5.01" fill="#fda66a"/>
<rect x="114.2" y="207.41" width="5" height="5.01" fill="#fece84"/>
<rect x="119.2" y="207.41" width="5" height="5.01" fill="#fda66a"/>
<rect x="124.2" y="207.41" width="5" height="5.01" fill="#fece84"/>
<rect x="129.2" y="207.41" width="5" height="5.01" fill="#fda66a"/>
<rect x="134.2" y="207.41" width="5" height="5.01" fill="#fee89c"/>
<rect x="139.2" y="207.41" width="5" height="5.01" fill="#fffab7"/>
<rect x="144.2" y="207.41" width="5" height="5.01" fill="#fee89c"/>
<rect x="149.2" y="207.41" width="5" height="5.01" fill="#edf8df"/>
<rect x="154.2" y="207.41" width="5" height="5.01" fill="#fda66a"/>
<rect x="159.2" y="207.41" width="5" height="5.01" fill="#fffab7"/>
<rect x="164.2" y="207.41" width="5" height="5.01" fill="#3f6fb6"/>
<rect x="169.2" y="207.41" width="5" height="5.01" fill="#edf8df"/>
<rect x="174.2" y="207.41" width="5" height="5.01" fill="#fffab7"/>
<rect x="179.2" y="207.41" width="5" height="5.01" fill="#fffab7"/>
<rect x="184.2" y="207.41" width="5" height="5.01" fill="#edf8df"/>
<rect x="189.2" y="207.41" width="5" height="5.01" fill="#fffab7"/>
<rect x="194.2" y="207.41" width="5" height="5.01" fill="#fee89c"/>
<rect x="199.2" y="207.41" width="5" height="5.01" fill="#fee89c"/>
<rect x="204.2" y="207.41" width="5" height="5.01" fill="#fece84"/>
<rect x="209.2" y="207.41" width="5" height="5.01" fill="#fffab7"/>
<rect x="214.2" y="207.41" width="5" height="5.01" fill="#3f6fb6"/>
<rect x="219.2" y="207.41" width="5" height="5.01" fill="#edf8df"/>
<rect x="224.2" y="207.41" width="5" height="5.01" fill="#3f6fb6"/>
<rect x="229.2" y="207.41" width="5" height="5.01" fill="#fee89c"/>
<rect x="39.2" y="212.42" width="5" height="5.01" fill="#edf8df"/>
<rect x="44.2" y="212.42" width="5" height="5.01" fill="#3f6fb6"/>
<rect x="49.2" y="212.42" width="5" height="5.01" fill="#3f6fb6"/>
<rect x="54.2" y="212.42" width="5" height="5.01" fill="#fffab7"/>
<rect x="59.2" y="212.42" width="5" height="5.01" fill="#edf8df"/>
<rect x="64.2" y="212.42" width="5" height="5.01" fill="#edf8df"/>
<rect x="69.2" y="212.42" width="5" height="5.01" fill="#3f6fb6"/>
<rect x="74.2" y="212.42" width="5" height="5.01" fill="#3f6fb6"/>
<rect x="79.2" y="212.42" width="5" height="5.01" fill="#3f6fb6"/>
<rect x="84.2" y="212.42" width="5" height="5.01" fill="#3f6fb6"/>
<rect x="89.2" y="212.42" width="5" height="5.01" fill="#fffab7"/>
<rect x="94.2" y="212.42" width="5" height="5.01" fill="#fee89c"/>
<rect x="99.2" y="212.42" width="5" height="5.01" fill="#fee89c"/>
<rect x="104.2" y="212.42" width="5" height="5.01" fill="#fece84"/>
<rect x="109.2" y="212.42" width="5" height="5.01" fill="#fda66a"/>
<rect x="114.2" y="212.42" width="5" height="5.01" fill="#fee89c"/>
<rect x="119.2" y="212.42" width="5" height="5.01" fill="#fda66a"/>
<rect x="124.2" y="212.42" width="5" height="5.01" fill="#fece84"/>
<rect x="129.2" y="212.42" width="5" height="5.01" fill="#fece84"/>
<rect x="134.2" y="212.42" width="5" height="5.01" fill="#fece84"/>
<rect x="139.2" y="212.42" width="5" height="5.01" fill="#fffab7"/>
<rect x="144.2" y="212.42" width="5" height="5.01" fill="#edf8df"/>
<rect x="149.2" y="212.42" width="5" height="5.01" fill="#fee89c"/>
<rect x="154.2" y="212.42" width="5" height="5.01" fill="#fee89c"/>
<rect x="159.2" y="212.42" width="5" height="5.01" fill="#fffab7"/>
<rect x="164.2" y="212.42" width="5" height="5.01" fill="#edf8df"/>
<rect x="169.2" y="212.42" width="5" height="5.01" fill="#fee89c"/>
<rect x="174.2" y="212.42" width="5" height="5.01" fill="#d1e9f3"/>
<rect x="179.2" y="212.42" width="5" height="5.01" fill="#fffab7"/>
<rect x="184.2" y="212.42" width="5" height="5.01" fill="#fffab7"/>
<rect x="189.2" y="212.42" width="5" height="5.01" fill="#edf8df"/>
<rect x="194.2" y="212.42" width="5" height="5.01" fill="#fffab7"/>
<rect x="199.2" y="212.42" width="5" height="5.01" fill="#edf8df"/>
<rect x="204.2" y="212.42" width="5" height="5.01" fill="#fece84"/>
<rect x="209.2" y="212.42" width="5" height="5.01" fill="#fee89c"/>
<rect x="214.2" y="212.42" width="5" height="5.01" fill="#d1e9f3"/>
<rect x="219.2" y="212.42" width="5" height="5.01" fill="#3f6fb6"/>
<rect x="224.2" y="212.42" width="5" height="5.01" fill="#edf8df"/>
<rect x="229.2" y="212.42" width="5" height="5.01" fill="#fee89c"/>
<rect x="39.2" y="217.44" width="5" height="5.01" fill="#3f6fb6"/>
<rect x="44.2" y="217.44" width="5" height="5.01" fill="#3f6fb6"/>
<rect x="49.2" y="217.44" width="5" height="5.01" fill="#3f6fb6"/>
<rect x="54.2" y="217.44" width="5" height="5.01" fill="#3f6fb6"/>
<rect x="59.2" y="217.44" width="5" height="5.01" fill="#3f6fb6"/>
<rect x="64.2" y="217.44" width="5" height="5.01" fill="#3f6fb6"/>
<rect x="69.2" y="217.44" width="5" height="5.01" fill="#3f6fb6"/>
<rect x="74.2" y="217.44" width="5" height="5.01" fill="#3f6fb6"/>
<rect x="79.2" y="217.44" width="5" height="5.01" fill="#3f6fb6"/>
<rect x="84.2" y="217.44" width="5" height="5.01" fill="#3f6fb6"/>
<rect x="89.2" y="217.44" width="5" height="5.01" fill="#fda66a"/>
<rect x="94.2" y="217.44" width="5" height="5.01" fill="#fece84"/>
<rect x="99.2" y="217.44" width="5" height="5.01" fill="#fffab7"/>
<rect x="104.2" y="217.44" width="5" height="5.01" fill="#edf8df"/>
<rect x="109.2" y="217.44" width="5" height="5.01" fill="#fece84"/>
<rect x="114.2" y="217.44" width="5" height="5.01" fill="#fece84"/>
<rect x="119.2" y="217.44" width="5" height="5.01" fill="#f06f49"/>
<rect x="124.2" y="217.44" width="5" height="5.01" fill="#fffab7"/>
<rect x="129.2" y="217.44" width="5" height="5.01" fill="#f06f49"/>
<rect x="134.2" y="217.44" width="5" height="5.01" fill="#fda66a"/>
<rect x="139.2" y="217.44" width="5" height="5.01" fill="#fffab7"/>
<rect x="144.2" y="217.44" width="5" height="5.01" fill="#fffab7"/>
<rect x="149.2" y="217.44" width="5" height="5.01" fill="#fece84"/>
<rect x="154.2" y="217.44" width="5" height="5.01" fill="#d1e9f3"/>
<rect x="159.2" y="217.44" width="5" height="5.01" fill="#edf8df"/>
<rect x="164.2" y="217.44" width="5" height="5.01" fill="#fffab7"/>
<rect x="169.2" y="217.44" width="5" height="5.01" fill="#edf8df"/>
<rect x="174.2" y="217.44" width="5" height="5.01" fill="#edf8df"/>
<rect x="179.2" y="217.44" width="5" height="5.01" fill="#fffab7"/>
<rect x="184.2" y="217.44" width="5" height="5.01" fill="#fffab7"/>
<rect x="189.2" y="217.44" width="5" height="5.01" fill="#fee89c"/>
<rect x="194.2" y="217.44" width="5" height="5.01" fill="#fee89c"/>
<rect x="199.2" y="217.44" width="5" height="5.01" fill="#fee89c"/>
<rect x="204.2" y="217.44" width="5" height="5.01" fill="#fee89c"/>
<rect x="209.2" y="217.44" width="5" height="5.01" fill="#fffab7"/>
<rect x="214.2" y="217.44" width="5" height="5.01" fill="#fee89c"/>
<rect x="219.2" y="217.44" width="5" height="5.01" fill="#fee89c"/>
<rect x="224.2" y="217.44" width="5" height="5.01" fill="#fee89c"/>
<rect x="229.2" y="217.44" width="5" height="5.01" fill="#fee89c"/>
<rect x="39.2" y="222.45" width="5" height="5.01" fill="#3f6fb6"/>
<rect x="44.2" y="222.45" width="5" height="5.01" fill="#3f6fb6"/>
<rect x="49.2" y="222.45" width="5" height="5.01" fill="#3f6fb6"/>
<rect x="54.2" y="222.45" width="5" height="5.01" fill="#3f6fb6"/>
<rect x="59.2" y="222.45" width="5" height="5.01" fill="#edf8df"/>
<rect x="64.2" y="222.45" width="5" height="5.01" fill="#edf8df"/>
<rect x="69.2" y="222.45" width="5" height="5.01" fill="#3f6fb6"/>
<rect x="74.2" y="222.45" width="5" height="5.01" fill="#3f6fb6"/>
<rect x="79.2" y="222.45" width="5" height="5.01" fill="#3f6fb6"/>
<rect x="84.2" y="222.45" width="5" height="5.01" fill="#3f6fb6"/>
<rect x="89.2" y="222.45" width="5" height="5.01" fill="#fece84"/>
<rect x="94.2" y="222.45" width="5" height="5.01" fill="#fece84"/>
<rect x="99.2" y="222.45" width="5" height="5.01" fill="#fffab7"/>
<rect x="104.2" y="222.45" width="5" height="5.01" fill="#fda66a"/>
<rect x="109.2" y="222.45" width="5" height="5.01" fill="#fee89c"/>
<rect x="114.2" y="222.45" width="5" height="5.01" fill="#fece84"/>
<rect x="119.2" y="222.45" width="5" height="5.01" fill="#fffab7"/>
<rect x="124.2" y="222.45" width="5" height="5.01" fill="#edf8df"/>
<rect x="129.2" y="222.45" width="5" height="5.01" fill="#fffab7"/>
<rect x="134.2" y="222.45" width="5" height="5.01" fill="#fffab7"/>
<rect x="139.2" y="222.45" width="5" height="5.01" fill="#fffab7"/>
<rect x="144.2" y="222.45" width="5" height="5.01" fill="#fffab7"/>
<rect x="149.2" y="222.45" width="5" height="5.01" fill="#fffab7"/>
<rect x="154.2" y="222.45" width="5" height="5.01" fill="#fffab7"/>
<rect x="159.2" y="222.45" width="5" height="5.01" fill="#fece84"/>
<rect x="164.2" y="222.45" width="5" height="5.01" fill="#fffab7"/>
<rect x="169.2" y="222.45" width="5" height="5.01" fill="#fffab7"/>
<rect x="174.2" y="222.45" width="5" height="5.01" fill="#fffab7"/>
<rect x="179.2" y="222.45" width="5" height="5.01" fill="#fee89c"/>
<rect x="184.2" y="222.45" width="5" height="5.01" fill="#fffab7"/>
<rect x="189.2" y="222.45" width="5" height="5.01" fill="#fffab7"/>
<rect x="194.2" y="222.45" width="5" height="5.01" fill="#fffab7"/>
<rect x="199.2" y="222.45" width="5" height="5.01" fill="#d1e9f3"/>
<rect x="204.2" y="222.45" width="5" height="5.01" fill="#fee89c"/>
<rect x="209.2" y="222.45" width="5" height="5.01" fill="#fffab7"/>
<rect x="214.2" y="222.45" width="5" height="5.01" fill="#fee89c"/>
<rect x="219.2" y="222.45" width="5" height="5.01" fill="#fee89c"/>
<rect x="224.2" y="222.45" width="5" height="5.01" fill="#fee89c"/>
<rect x="229.2" y="222.45" width="5" height="5.01" fill="#fffab7"/>
<rect x="39.2" y="227.46" width="5" height="5.01" fill="#3f6fb6"/>
<rect x="44.2" y="227.46" width="5" height="5.01" fill="#3f6fb6"/>
<rect x="49.2" y="227.46" width="5" height="5.01" fill="#3f6fb6"/>
<rect x="54.2" y="227.46" width="5" height="5.01" fill="#3f6fb6"/>
<rect x="59.2" y="227.46" width="5" height="5.01" fill="#3f6fb6"/>
<rect x="64.2" y="227.46" width="5" height="5.01" fill="#3f6fb6"/>
<rect x="69.2" y="227.46" width="5" height="5.01" fill="#3f6fb6"/>
<rect x="74.2" y="227.46" width="5" height="5.01" fill="#3f6fb6"/>
<rect x="79.2" y="227.46" width="5" height="5.01" fill="#3f6fb6"/>
<rect x="84.2" y="227.46" width="5" height="5.01" fill="#3f6fb6"/>
<rect x="89.2" y="227.46" width="5" height="5.01" fill="#fee89c"/>
<rect x="94.2" y="227.46" width="5" height="5.01" fill="#fece84"/>
<rect x="99.2" y="227.46" width="5" height="5.01" fill="#fee89c"/>
<rect x="104.2" y="227.46" width="5" height="5.01" fill="#fece84"/>
<rect x="109.2" y="227.46" width="5" height="5.01" fill="#fece84"/>
<rect x="114.2" y="227.46" width="5" height="5.01" fill="#fee89c"/>
<rect x="119.2" y="227.46" width="5" height="5.01" fill="#fffab7"/>
<rect x="124.2" y="227.46" width="5" height="5.01" fill="#fece84"/>
<rect x="129.2" y="227.46" width="5" height="5.01" fill="#fffab7"/>
<rect x="134.2" y="227.46" width="5" height="5.01" fill="#fee89c"/>
<rect x="139.2" y="227.46" width="5" height="5.01" fill="#edf8df"/>
<rect x="144.2" y="227.46" width="5" height="5.01" fill="#edf8df"/>
<rect x="149.2" y="227.46" width="5" height="5.01" fill="#fffab7"/>
<rect x="154.2" y="227.46" width="5" height="5.01" fill="#fece84"/>
<rect x="159.2" y="227.46" width="5" height="5.01" fill="#f06f49"/>
<rect x="164.2" y="227.46" width="5" height="5.01" fill="#d1e9f3"/>
<rect x="169.2" y="227.46" width="5" height="5.01" fill="#fffab7"/>
<rect x="174.2" y="227.46" width="5" height="5.01" fill="#fffab7"/>
<rect x="179.2" y="227.46" width="5" height="5.01" fill="#edf8df"/>
<rect x="184.2" y="227.46" width="5" height="5.01" fill="#d1e9f3"/>
<rect x="189.2" y="227.46" width="5" height="5.01" fill="#80aed3"/>
<rect x="194.2" y="227.46" width="5" height="5.01" fill="#fee89c"/>
<rect x="199.2" y="227.46" width="5" height="5.01" fill="#fffab7"/>
<rect x="204.2" y="227.46" width="5" height="5.01" fill="#edf8df"/>
<rect x="209.2" y="227.46" width="5" height="5.01" fill="#fee89c"/>
<rect x="214.2" y="227.46" width="5" height="5.01" fill="#fee89c"/>
<rect x="219.2" y="227.46" width="5" height="5.01" fill="#fffab7"/>
<rect x="224.2" y="227.46" width="5" height="5.01" fill="#fece84"/>
<rect x="229.2" y="227.46" width="5" height="5.01" fill="#fee89c"/>
<rect x="39.2" y="232.47" width="5" height="5.01" fill="#3f6fb6"/>
<rect x="44.2" y="232.47" width="5" height="5.01" fill="#3f6fb6"/>
<rect x="49.2" y="232.47" width="5" height="5.01" fill="#3f6fb6"/>
<rect x="54.2" y="232.47" width="5" height="5.01" fill="#3f6fb6"/>
<rect x="59.2" y="232.47" width="5" height="5.01" fill="#3f6fb6"/>
<rect x="64.2" y="232.47" width="5" height="5.01" fill="#3f6fb6"/>
<rect x="69.2" y="232.47" width="5" height="5.01" fill="#3f6fb6"/>
<rect x="74.2" y="232.47" width="5" height="5.01" fill="#3f6fb6"/>
<rect x="79.2" y="232.47" width="5" height="5.01" fill="#3f6fb6"/>
<rect x="84.2" y="232.47" width="5" height="5.01" fill="#3f6fb6"/>
<rect x="89.2" y="232.47" width="5" height="5.01" fill="#fee89c"/>
<rect x="94.2" y="232.47" width="5" height="5.01" fill="#fee89c"/>
<rect x="99.2" y="232.47" width="5" height="5.01" fill="#edf8df"/>
<rect x="104.2" y="232.47" width="5" height="5.01" fill="#fece84"/>
<rect x="109.2" y="232.47" width="5" height="5.01" fill="#fece84"/>
<rect x="114.2" y="232.47" width="5" height="5.01" fill="#fece84"/>
<rect x="119.2" y="232.47" width="5" height="5.01" fill="#fffab7"/>
<rect x="124.2" y="232.47" width="5" height="5.01" fill="#fee89c"/>
<rect x="129.2" y="232.47" width="5" height="5.01" fill="#fffab7"/>
<rect x="134.2" y="232.47" width="5" height="5.01" fill="#fee89c"/>
<rect x="139.2" y="232.47" width="5" height="5.01" fill="#fffab7"/>
<rect x="144.2" y="232.47" width="5" height="5.01" fill="#d1e9f3"/>
<rect x="149.2" y="232.47" width="5" height="5.01" fill="#fffab7"/>
<rect x="154.2" y="232.47" width="5" height="5.01" fill="#fffab7"/>
<rect x="159.2" y="232.47" width="5" height="5.01" fill="#fffab7"/>
<rect x="164.2" y="232.47" width="5" height="5.01" fill="#fffab7"/>
<rect x="169.2" y="232.47" width="5" height="5.01" fill="#fee89c"/>
<rect x="174.2" y="232.47" width="5" height="5.01" fill="#fffab7"/>
<rect x="179.2" y="232.47" width="5" height="5.01" fill="#fffab7"/>
<rect x="184.2" y="232.47" width="5" height="5.01" fill="#fffab7"/>
<rect x="189.2" y="232.47" width="5" height="5.01" fill="#edf8df"/>
<rect x="194.2" y="232.47" width="5" height="5.01" fill="#fffab7"/>
<rect x="199.2" y="232.47" width="5" height="5.01" fill="#fffab7"/>
<rect x="204.2" y="232.47" width="5" height="5.01" fill="#fffab7"/>
<rect x="209.2" y="232.47" width="5" height="5.01" fill="#fffab7"/>
<rect x="214.2" y="232.47" width="5" height="5.01" fill="#fee89c"/>
<rect x="219.2" y="232.47" width="5" height="5.01" fill="#a9cfe4"/>
<rect x="224.2" y="232.47" width="5" height="5.01" fill="#fffab7"/>
<rect x="229.2" y="232.47" width="5" height="5.01" fill="#fffab7"/>
<rect x="39.2" y="237.48" width="5" height="5.01" fill="#3f6fb6"/>
<rect x="44.2" y="237.48" width="5" height="5.01" fill="#3f6fb6"/>
<rect x="49.2" y="237.48" width="5" height="5.01" fill="#3f6fb6"/>
<rect x="54.2" y="237.48" width="5" height="5.01" fill="#3f6fb6"/>
<rect x="59.2" y="237.48" width="5" height="5.01" fill="#3f6fb6"/>
<rect x="64.2" y="237.48" width="5" height="5.01" fill="#3f6fb6"/>
<rect x="69.2" y="237.48" width="5" height="5.01" fill="#3f6fb6"/>
<rect x="74.2" y="237.48" width="5" height="5.01" fill="#3f6fb6"/>
<rect x="79.2" y="237.48" width="5" height="5.01" fill="#3f6fb6"/>
<rect x="84.2" y="237.48" width="5" height="5.01" fill="#3f6fb6"/>
<rect x="89.2" y="237.48" width="5" height="5.01" fill="#fee89c"/>
<rect x="94.2" y="237.48" width="5" height="5.01" fill="#fece84"/>
<rect x="99.2" y="237.48" width="5" height="5.01" fill="#fda66a"/>
<rect x="104.2" y="237.48" width="5" height="5.01" fill="#fece84"/>
<rect x="109.2" y="237.48" width="5" height="5.01" fill="#fece84"/>
<rect x="114.2" y="237.48" width="5" height="5.01" fill="#fece84"/>
<rect x="119.2" y="237.48" width="5" height="5.01" fill="#fffab7"/>
<rect x="124.2" y="237.48" width="5" height="5.01" fill="#fffab7"/>
<rect x="129.2" y="237.48" width="5" height="5.01" fill="#fee89c"/>
<rect x="134.2" y="237.48" width="5" height="5.01" fill="#fee89c"/>
<rect x="139.2" y="237.48" width="5" height="5.01" fill="#d1e9f3"/>
<rect x="144.2" y="237.48" width="5" height="5.01" fill="#fffab7"/>
<rect x="149.2" y="237.48" width="5" height="5.01" fill="#fffab7"/>
<rect x="154.2" y="237.48" width="5" height="5.01" fill="#fee89c"/>
<rect x="159.2" y="237.48" width="5" height="5.01" fill="#fffab7"/>
<rect x="164.2" y="237.48" width="5" height="5.01" fill="#fffab7"/>
<rect x="169.2" y="237.48" width="5" height="5.01" fill="#fffab7"/>
<rect x="174.2" y="237.48" width="5" height="5.01" fill="#fffab7"/>
<rect x="179.2" y="237.48" width="5" height="5.01" fill="#fffab7"/>
<rect x="184.2" y="237.48" width="5" height="5.01" fill="#fffab7"/>
<rect x="189.2" y="237.48" width="5" height="5.01" fill="#edf8df"/>
<rect x="194.2" y="237.48" width="5" height="5.01" fill="#fffab7"/>
<rect x="199.2" y="237.48" width="5" height="5.01" fill="#edf8df"/>
<rect x="204.2" y="237.48" width="5" height="5.01" fill="#edf8df"/>
<rect x="209.2" y="237.48" width="5" height="5.01" fill="#edf8df"/>
<rect x="214.2" y="237.48" width="5" height="5.01" fill="#edf8df"/>
<rect x="219.2" y="237.48" width="5" height="5.01" fill="#fffab7"/>
<rect x="224.2" y="237.48" width="5" height="5.01" fill="#fee89c"/>
<rect x="229.2" y="237.48" width="5" height="5.01" fill="#fffab7"/>
<rect x="39.2" y="242.50" width="5" height="5.01" fill="#fee89c"/>
<rect x="44.2" y="242.50" width="5" height="5.01" fill="#fece84"/>
<rect x="49.2" y="242.50" width="5" height="5.01" fill="#fee89c"/>
<rect x="54.2" y="242.50" width="5" height="5.01" fill="#fece84"/>
<rect x="59.2" y="242.50" width="5" height="5.01" fill="#fece84"/>
<rect x="64.2" y="242.50" width="5" height="5.01" fill="#fee89c"/>
<rect x="69.2" y="242.50" width="5" height="5.01" fill="#fee89c"/>
<rect x="74.2" y="242.50" width="5" height="5.01" fill="#fece84"/>
<rect x="79.2" y="242.50" width="5" height="5.01" fill="#fece84"/>
<rect x="84.2" y="242.50" width="5" height="5.01" fill="#fee89c"/>
<rect x="89.2" y="242.50" width="5" height="5.01" fill="#fee89c"/>
<rect x="94.2" y="242.50" width="5" height="5.01" fill="#fee89c"/>
<rect x="99.2" y="242.50" width="5" height="5.01" fill="#fee89c"/>
<rect x="104.2" y="242.50" width="5" height="5.01" fill="#fffab7"/>
<rect x="109.2" y="242.50" width="5" height="5.01" fill="#fee89c"/>
<rect x="114.2" y="242.50" width="5" height="5.01" fill="#fee89c"/>
<rect x="119.2" y="242.50" width="5" height="5.01" fill="#fffab7"/>
<rect x="124.2" y="242.50" width="5" height="5.01" fill="#fee89c"/>
<rect x="129.2" y="242.50" width="5" height="5.01" fill="#fee89c"/>
<rect x="134.2" y="242.50" width="5" height="5.01" fill="#fffab7"/>
<rect x="139.2" y="242.50" width="5" height="5.01" fill="#fda66a"/>
<rect x="144.2" y="242.50" width="5" height="5.01" fill="#fee89c"/>
<rect x="149.2" y="242.50" width="5" height="5.01" fill="#fee89c"/>
<rect x="154.2" y="242.50" width="5" height="5.01" fill="#fee89c"/>
<rect x="159.2" y="242.50" width="5" height="5.01" fill="#fee89c"/>
<rect x="164.2" y="242.50" width="5" height="5.01" fill="#fee89c"/>
<rect x="169.2" y="242.50" width="5" height="5.01" fill="#fee89c"/>
<rect x="174.2" y="242.50" width="5" height="5.01" fill="#fee89c"/>
<rect x="179.2" y="242.50" width="5" height="5.01" fill="#fece84"/>
<rect x="184.2" y="242.50" width="5" height="5.01" fill="#fee89c"/>
<rect x="189.2" y="242.50" width="5" height="5.01" fill="#fee89c"/>
<rect x="194.2" y="242.50" width="5" height="5.01" fill="#fee89c"/>
<rect x="199.2" y="242.50" width="5" height="5.01" fill="#fee89c"/>
<rect x="204.2" y="242.50" width="5" height="5.01" fill="#fee89c"/>
<rect x="209.2" y="242.50" width="5" height="5.01" fill="#fee89c"/>
<rect x="214.2" y="242.50" width="5" height="5.01" fill="#fee89c"/>
<rect x="219.2" y="242.50" width="5" height="5.01" fill="#fece84"/>
<rect x="224.2" y="242.50" width="5" height="5.01" fill="#fece84"/>
<rect x="229.2" y="242.50" width="5" height="5.01" fill="#fece84"/>
<rect x="39.2" y="247.51" width="5" height="5.01" fill="#fece84"/>
<rect x="44.2" y="247.51" width="5" height="5.01" fill="#fda66a"/>
<rect x="49.2" y="247.51" width="5" height="5.01" fill="#edf8df"/>
<rect x="54.2" y="247.51" width="5" height="5.01" fill="#fffab7"/>
<rect x="59.2" y="247.51" width="5" height="5.01" fill="#fffab7"/>
<rect x="64.2" y="247.51" width="5" height="5.01" fill="#fda66a"/>
<rect x="69.2" y="247.51" width="5" height="5.01" fill="#fda66a"/>
<rect x="74.2" y="247.51" width="5" height="5.01" fill="#f06f49"/>
<rect x="79.2" y="247.51" width="5" height="5.01" fill="#fece84"/>
<rect x="84.2" y="247.51" width="5" height="5.01" fill="#fffab7"/>
<rect x="89.2" y="247.51" width="5" height="5.01" fill="#fece84"/>
<rect x="94.2" y="247.51" width="5" height="5.01" fill="#fece84"/>
<rect x="99.2" y="247.51" width="5" height="5.01" fill="#fffab7"/>
<rect x="104.2" y="247.51" width="5" height="5.01" fill="#fda66a"/>
<rect x="109.2" y="247.51" width="5" height="5.01" fill="#fffab7"/>
<rect x="114.2" y="247.51" width="5" height="5.01" fill="#fffab7"/>
<rect x="119.2" y="247.51" width="5" height="5.01" fill="#fece84"/>
<rect x="124.2" y="247.51" width="5" height="5.01" fill="#fffab7"/>
<rect x="129.2" y="247.51" width="5" height="5.01" fill="#fffab7"/>
<rect x="134.2" y="247.51" width="5" height="5.01" fill="#edf8df"/>
<rect x="139.2" y="247.51" width="5" height="5.01" fill="#fda66a"/>
<rect x="144.2" y="247.51" width="5" height="5.01" fill="#fee89c"/>
<rect x="149.2" y="247.51" width="5" height="5.01" fill="#fee89c"/>
<rect x="154.2" y="247.51" width="5" height="5.01" fill="#fffab7"/>
<rect x="159.2" y="247.51" width="5" height="5.01" fill="#fda66a"/>
<rect x="164.2" y="247.51" width="5" height="5.01" fill="#fda66a"/>
<rect x="169.2" y="247.51" width="5" height="5.01" fill="#fda66a"/>
<rect x="174.2" y="247.51" width="5" height="5.01" fill="#fffab7"/>
<rect x="179.2" y="247.51" width="5" height="5.01" fill="#fee89c"/>
<rect x="184.2" y="247.51" width="5" height="5.01" fill="#fffab7"/>
<rect x="189.2" y="247.51" width="5" height="5.01" fill="#fffab7"/>
<rect x="194.2" y="247.51" width="5" height="5.01" fill="#fece84"/>
<rect x="199.2" y="247.51" width="5" height="5.01" fill="#fece84"/>
<rect x="204.2" y="247.51" width="5" height="5.01" fill="#fee89c"/>
<rect x="209.2" y="247.51" width="5" height="5.01" fill="#fece84"/>
<rect x="214.2" y="247.51" width="5" height="5.01" fill="#fee89c"/>
<rect x="219.2" y="247.51" width="5" height="5.01" fill="#fee89c"/>
<rect x="224.2" y="247.51" width="5" height="5.01" fill="#fda66a"/>
<rect x="229.2" y="247.51" width="5" height="5.01" fill="#fffab7"/>
<rect x="39.2" y="252.52" width="5" height="5.01" fill="#edf8df"/>
<rect x="44.2" y="252.52" width="5" height="5.01" fill="#fffab7"/>
<rect x="49.2" y="252.52" width="5" height="5.01" fill="#fee89c"/>
<rect x="54.2" y="252.52" width="5" height="5.01" fill="#fee89c"/>
<rect x="59.2" y="252.52" width="5" height="5.01" fill="#fece84"/>
<rect x="64.2" y="252.52" width="5" height="5.01" fill="#fee89c"/>
<rect x="69.2" y="252.52" width="5" height="5.01" fill="#fee89c"/>
<rect x="74.2" y="252.52" width="5" height="5.01" fill="#fffab7"/>
<rect x="79.2" y="252.52" width="5" height="5.01" fill="#fffab7"/>
<rect x="84.2" y="252.52" width="5" height="5.01" fill="#fece84"/>
<rect x="89.2" y="252.52" width="5" height="5.01" fill="#fffab7"/>
<rect x="94.2" y="252.52" width="5" height="5.01" fill="#edf8df"/>
<rect x="99.2" y="252.52" width="5" height="5.01" fill="#edf8df"/>
<rect x="104.2" y="252.52" width="5" height="5.01" fill="#fee89c"/>
<rect x="109.2" y="252.52" width="5" height="5.01" fill="#fee89c"/>
<rect x="114.2" y="252.52" width="5" height="5.01" fill="#fee89c"/>
<rect x="119.2" y="252.52" width="5" height="5.01" fill="#3f6fb6"/>
<rect x="124.2" y="252.52" width="5" height="5.01" fill="#fffab7"/>
<rect x="129.2" y="252.52" width="5" height="5.01" fill="#d1e9f3"/>
<rect x="134.2" y="252.52" width="5" height="5.01" fill="#fffab7"/>
<rect x="139.2" y="252.52" width="5" height="5.01" fill="#fffab7"/>
<rect x="144.2" y="252.52" width="5" height="5.01" fill="#fee89c"/>
<rect x="149.2" y="252.52" width="5" height="5.01" fill="#fee89c"/>
<rect x="154.2" y="252.52" width="5" height="5.01" fill="#fee89c"/>
<rect x="159.2" y="252.52" width="5" height="5.01" fill="#fffab7"/>
<rect x="164.2" y="252.52" width="5" height="5.01" fill="#fee89c"/>
<rect x="169.2" y="252.52" width="5" height="5.01" fill="#fffab7"/>
<rect x="174.2" y="252.52" width="5" height="5.01" fill="#fee89c"/>
<rect x="179.2" y="252.52" width="5" height="5.01" fill="#fee89c"/>
<rect x="184.2" y="252.52" width="5" height="5.01" fill="#fffab7"/>
<rect x="189.2" y="252.52" width="5" height="5.01" fill="#fffab7"/>
<rect x="194.2" y="252.52" width="5" height="5.01" fill="#fffab7"/>
<rect x="199.2" y="252.52" width="5" height="5.01" fill="#fee89c"/>
<rect x="204.2" y="252.52" width="5" height="5.01" fill="#fffab7"/>
<rect x="209.2" y="252.52" width="5" height="5.01" fill="#fece84"/>
<rect x="214.2" y="252.52" width="5" height="5.01" fill="#fee89c"/>
<rect x="219.2" y="252.52" width="5" height="5.01" fill="#fee89c"/>
<rect x="224.2" y="252.52" width="5" height="5.01" fill="#fee89c"/>
<rect x="229.2" y="252.52" width="5" height="5.01" fill="#fee89c"/>
<rect x="39.2" y="257.53" width="5" height="5.01" fill="#fee89c"/>
<rect x="44.2" y="257.53" width="5" height="5.01" fill="#fece84"/>
<rect x="49.2" y="257.53" width="5" height="5.01" fill="#fee89c"/>
<rect x="54.2" y="257.53" width="5" height="5.01" fill="#fffab7"/>
<rect x="59.2" y="257.53" width="5" height="5.01" fill="#fece84"/>
<rect x="64.2" y="257.53" width="5" height="5.01" fill="#fece84"/>
<rect x="69.2" y="257.53" width="5" height="5.01" fill="#fee89c"/>
<rect x="74.2" y="257.53" width="5" height="5.01" fill="#fece84"/>
<rect x="79.2" y="257.53" width="5" height="5.01" fill="#fda66a"/>
<rect x="84.2" y="257.53" width="5" height="5.01" fill="#fece84"/>
<rect x="89.2" y="257.53" width="5" height="5.01" fill="#edf8df"/>
<rect x="94.2" y="257.53" width="5" height="5.01" fill="#fffab7"/>
<rect x="99.2" y="257.53" width="5" height="5.01" fill="#fee89c"/>
<rect x="104.2" y="257.53" width="5" height="5.01" fill="#edf8df"/>
<rect x="109.2" y="257.53" width="5" height="5.01" fill="#edf8df"/>
<rect x="114.2" y="257.53" width="5" height="5.01" fill="#fffab7"/>
<rect x="119.2" y="257.53" width="5" height="5.01" fill="#3f6fb6"/>
<rect x="124.2" y="257.53" width="5" height="5.01" fill="#3f6fb6"/>
<rect x="129.2" y="257.53" width="5" height="5.01" fill="#3f6fb6"/>
<rect x="134.2" y="257.53" width="5" height="5.01" fill="#3f6fb6"/>
<rect x="139.2" y="257.53" width="5" height="5.01" fill="#fffab7"/>
<rect x="144.2" y="257.53" width="5" height="5.01" fill="#fffab7"/>
<rect x="149.2" y="257.53" width="5" height="5.01" fill="#fffab7"/>
<rect x="154.2" y="257.53" width="5" height="5.01" fill="#fece84"/>
<rect x="159.2" y="257.53" width="5" height="5.01" fill="#fda66a"/>
<rect x="164.2" y="257.53" width="5" height="5.01" fill="#fee89c"/>
<rect x="169.2" y="257.53" width="5" height="5.01" fill="#fee89c"/>
<rect x="174.2" y="257.53" width="5" height="5.01" fill="#fece84"/>
<rect x="179.2" y="257.53" width="5" height="5.01" fill="#fece84"/>
<rect x="184.2" y="257.53" width="5" height="5.01" fill="#fee89c"/>
<rect x="189.2" y="257.53" width="5" height="5.01" fill="#fee89c"/>
<rect x="194.2" y="257.53" width="5" height="5.01" fill="#fda66a"/>
<rect x="199.2" y="257.53" width="5" height="5.01" fill="#fffab7"/>
<rect x="204.2" y="257.53" width="5" height="5.01" fill="#fee89c"/>
<rect x="209.2" y="257.53" width="5" height="5.01" fill="#fee89c"/>
<rect x="214.2" y="257.53" width="5" height="5.01" fill="#fee89c"/>
<rect x="219.2" y="257.53" width="5" height="5.01" fill="#fee89c"/>
<rect x="224.2" y="257.53" width="5" height="5.01" fill="#fee89c"/>
<rect x="229.2" y="257.53" width="5" height="5.01" fill="#fee89c"/>
<rect x="39.2" y="262.54" width="5" height="5.01" fill="#edf8df"/>
<rect x="44.2" y="262.54" width="5" height="5.01" fill="#d1e9f3"/>
<rect x="49.2" y="262.54" width="5" height="5.01" fill="#edf8df"/>
<rect x="54.2" y="262.54" width="5" height="5.01" fill="#fffab7"/>
<rect x="59.2" y="262.54" width="5" height="5.01" fill="#fffab7"/>
<rect x="64.2" y="262.54" width="5" height="5.01" fill="#fffab7"/>
<rect x="69.2" y="262.54" width="5" height="5.01" fill="#3f6fb6"/>
<rect x="74.2" y="262.54" width="5" height="5.01" fill="#d1e9f3"/>
<rect x="79.2" y="262.54" width="5" height="5.01" fill="#fffab7"/>
<rect x="84.2" y="262.54" width="5" height="5.01" fill="#fffab7"/>
<rect x="89.2" y="262.54" width="5" height="5.01" fill="#3f6fb6"/>
<rect x="94.2" y="262.54" width="5" height="5.01" fill="#3f6fb6"/>
<rect x="99.2" y="262.54" width="5" height="5.01" fill="#3f6fb6"/>
<rect x="104.2" y="262.54" width="5" height="5.01" fill="#3f6fb6"/>
<rect x="109.2" y="262.54" width="5" height="5.01" fill="#3f6fb6"/>
<rect x="114.2" y="262.54" width="5" height="5.01" fill="#3f6fb6"/>
<rect x="119.2" y="262.54" width="5" height="5.01" fill="#3f6fb6"/>
<rect x="124.2" y="262.54" width="5" height="5.01" fill="#3f6fb6"/>
<rect x="129.2" y="262.54" width="5" height="5.01" fill="#3f6fb6"/>
<rect x="134.2" y="262.54" width="5" height="5.01" fill="#3f6fb6"/>
<rect x="139.2" y="262.54" width="5" height="5.01" fill="#fece84"/>
<rect x="144.2" y="262.54" width="5" height="5.01" fill="#d1e9f3"/>
<rect x="149.2" y="262.54" width="5" height="5.01" fill="#d1e9f3"/>
<rect x="154.2" y="262.54" width="5" height="5.01" fill="#fffab7"/>
<rect x="159.2" y="262.54" width="5" height="5.01" fill="#fece84"/>
<rect x="164.2" y="262.54" width="5" height="5.01" fill="#d1e9f3"/>
<rect x="169.2" y="262.54" width="5" height="5.01" fill="#fee89c"/>
<rect x="174.2" y="262.54" width="5" height="5.01" fill="#d1e9f3"/>
<rect x="179.2" y="262.54" width="5" height="5.01" fill="#a9cfe4"/>
<rect x="184.2" y="262.54" width="5" height="5.01" fill="#d1e9f3"/>
<rect x="189.2" y="262.54" width="5" height="5.01" fill="#3f6fb6"/>
<rect x="194.2" y="262.54" width="5" height="5.01" fill="#a9cfe4"/>
<rect x="199.2" y="262.54" width="5" height="5.01" fill="#80aed3"/>
<rect x="204.2" y="262.54" width="5" height="5.01" fill="#d1e9f3"/>
<rect x="209.2" y="262.54" width="5" height="5.01" fill="#d1e9f3"/>
<rect x="214.2" y="262.54" width="5" height="5.01" fill="#80aed3"/>
<rect x="219.2" y="262.54" width="5" height="5.01" fill="#3f6fb6"/>
<rect x="224.2" y="262.54" width="5" height="5.01" fill="#edf8df"/>
<rect x="229.2" y="262.54" width="5" height="5.01" fill="#fee89c"/>
<rect x="39.2" y="267.56" width="5" height="5.01" fill="#fda66a"/>
<rect x="44.2" y="267.56" width="5" height="5.01" fill="#fece84"/>
<rect x="49.2" y="267.56" width="5" height="5.01" fill="#f06f49"/>
<rect x="54.2" y="267.56" width="5" height="5.01" fill="#fece84"/>
<rect x="59.2" y="267.56" width="5" height="5.01" fill="#f06f49"/>
<rect x="64.2" y="267.56" width="5" height="5.01" fill="#fffab7"/>
<rect x="69.2" y="267.56" width="5" height="5.01" fill="#fee89c"/>
<rect x="74.2" y="267.56" width="5" height="5.01" fill="#f06f49"/>
<rect x="79.2" y="267.56" width="5" height="5.01" fill="#fda66a"/>
<rect x="84.2" y="267.56" width="5" height="5.01" fill="#fda66a"/>
<rect x="89.2" y="267.56" width="5" height="5.01" fill="#3f6fb6"/>
<rect x="94.2" y="267.56" width="5" height="5.01" fill="#3f6fb6"/>
<rect x="99.2" y="267.56" width="5" height="5.01" fill="#3f6fb6"/>
<rect x="104.2" y="267.56" width="5" height="5.01" fill="#3f6fb6"/>
<rect x="109.2" y="267.56" width="5" height="5.01" fill="#3f6fb6"/>
<rect x="114.2" y="267.56" width="5" height="5.01" fill="#3f6fb6"/>
<rect x="119.2" y="267.56" width="5" height="5.01" fill="#3f6fb6"/>
<rect x="124.2" y="267.56" width="5" height="5.01" fill="#3f6fb6"/>
<rect x="129.2" y="267.56" width="5" height="5.01" fill="#3f6fb6"/>
<rect x="134.2" y="267.56" width="5" height="5.01" fill="#3f6fb6"/>
<rect x="139.2" y="267.56" width="5" height="5.01" fill="#f06f49"/>
<rect x="144.2" y="267.56" width="5" height="5.01" fill="#fffab7"/>
<rect x="149.2" y="267.56" width="5" height="5.01" fill="#fee89c"/>
<rect x="154.2" y="267.56" width="5" height="5.01" fill="#fee89c"/>
<rect x="159.2" y="267.56" width="5" height="5.01" fill="#fece84"/>
<rect x="164.2" y="267.56" width="5" height="5.01" fill="#fffab7"/>
<rect x="169.2" y="267.56" width="5" height="5.01" fill="#edf8df"/>
<rect x="174.2" y="267.56" width="5" height="5.01" fill="#3f6fb6"/>
<rect x="179.2" y="267.56" width="5" height="5.01" fill="#fee89c"/>
<rect x="184.2" y="267.56" width="5" height="5.01" fill="#3f6fb6"/>
<rect x="189.2" y="267.56" width="5" height="5.01" fill="#3f6fb6"/>
<rect x="194.2" y="267.56" width="5" height="5.01" fill="#3f6fb6"/>
<rect x="199.2" y="267.56" width="5" height="5.01" fill="#edf8df"/>
<rect x="204.2" y="267.56" width="5" height="5.01" fill="#fee89c"/>
<rect x="209.2" y="267.56" width="5" height="5.01" fill="#fffab7"/>
<rect x="214.2" y="267.56" width="5" height="5.01" fill="#fda66a"/>
<rect x="219.2" y="267.56" width="5" height="5.01" fill="#fffab7"/>
<rect x="224.2" y="267.56" width="5" height="5.01" fill="#edf8df"/>
<rect x="229.2" y="267.56" width="5" height="5.01" fill="#fffab7"/>
<rect x="39.2" y="272.57" width="5" height="5.01" fill="#fee89c"/>
<rect x="44.2" y="272.57" width="5" height="5.01" fill="#fece84"/>
<rect x="49.2" y="272.57" width="5" height="5.01" fill="#fee89c"/>
<rect x="54.2" y="272.57" width="5" height="5.01" fill="#fee89c"/>
<rect x="59.2" y="272.57" width="5" height="5.01" fill="#fece84"/>
<rect x="64.2" y="272.57" width="5" height="5.01" fill="#fece84"/>
<rect x="69.2" y="272.57" width="5" height="5.01" fill="#fee89c"/>
<rect x="74.2" y="272.57" width="5" height="5.01" fill="#fece84"/>
<rect x="79.2" y="272.57" width="5" height="5.01" fill="#fece84"/>
<rect x="84.2" y="272.57" width="5" height="5.01" fill="#fece84"/>
<rect x="89.2" y="272.57" width="5" height="5.01" fill="#3f6fb6"/>
<rect x="94.2" y="272.57" width="5" height="5.01" fill="#3f6fb6"/>
<rect x="99.2" y="272.57" width="5" height="5.01" fill="#3f6fb6"/>
<rect x="104.2" y="272.57" width="5" height="5.01" fill="#3f6fb6"/>
<rect x="109.2" y="272.57" width="5" height="5.01" fill="#3f6fb6"/>
<rect x="114.2" y="272.57" width="5" height="5.01" fill="#3f6fb6"/>
<rect x="119.2" y="272.57" width="5" height="5.01" fill="#3f6fb6"/>
<rect x="124.2" y="272.57" width="5" height="5.01" fill="#3f6fb6"/>
<rect x="129.2" y="272.57" width="5" height="5.01" fill="#3f6fb6"/>
<rect x="134.2" y="272.57" width="5" height="5.01" fill="#3f6fb6"/>
<rect x="139.2" y="272.57" width="5" height="5.01" fill="#3f6fb6"/>
<rect x="144.2" y="272.57" width="5" height="5.01" fill="#3f6fb6"/>
<rect x="149.2" y="272.57" width="5" height="5.01" fill="#3f6fb6"/>
<rect x="154.2" y="272.57" width="5" height="5.01" fill="#fece84"/>
<rect x="159.2" y="272.57" width="5" height="5.01" fill="#fece84"/>
<rect x="164.2" y="272.57" width="5" height="5.01" fill="#fee89c"/>
<rect x="169.2" y="272.57" width="5" height="5.01" fill="#fee89c"/>
<rect x="174.2" y="272.57" width="5" height="5.01" fill="#fece84"/>
<rect x="179.2" y="272.57" width="5" height="5.01" fill="#fee89c"/>
<rect x="184.2" y="272.57" width="5" height="5.01" fill="#fece84"/>
<rect x="189.2" y="272.57" width="5" height="5.01" fill="#fee89c"/>
<rect x="194.2" y="272.57" width="5" height="5.01" fill="#fece84"/>
<rect x="199.2" y="272.57" width="5" height="5.01" fill="#3f6fb6"/>
<rect x="204.2" y="272.57" width="5" height="5.01" fill="#fffab7"/>
<rect x="209.2" y="272.57" width="5" height="5.01" fill="#fffab7"/>
<rect x="214.2" y="272.57" width="5" height="5.01" fill="#3f6fb6"/>
<rect x="219.2" y="272.57" width="5" height="5.01" fill="#3f6fb6"/>
<rect x="224.2" y="272.57" width="5" height="5.01" fill="#3f6fb6"/>
<rect x="229.2" y="272.57" width="5" height="5.01" fill="#3f6fb6"/>
<rect x="39.2" y="277.58" width="5" height="5.01" fill="#fece84"/>
<rect x="44.2" y="277.58" width="5" height="5.01" fill="#f06f49"/>
<rect x="49.2" y="277.58" width="5" height="5.01" fill="#fece84"/>
<rect x="54.2" y="277.58" width="5" height="5.01" fill="#fece84"/>
<rect x="59.2" y="277.58" width="5" height="5.01" fill="#f06f49"/>
<rect x="64.2" y="277.58" width="5" height="5.01" fill="#fda66a"/>
<rect x="69.2" y="277.58" width="5" height="5.01" fill="#fece84"/>
<rect x="74.2" y="277.58" width="5" height="5.01" fill="#fece84"/>
<rect x="79.2" y="277.58" width="5" height="5.01" fill="#f06f49"/>
<rect x="84.2" y="277.58" width="5" height="5.01" fill="#fda66a"/>
<rect x="89.2" y="277.58" width="5" height="5.01" fill="#3f6fb6"/>
<rect x="94.2" y="277.58" width="5" height="5.01" fill="#3f6fb6"/>
<rect x="99.2" y="277.58" width="5" height="5.01" fill="#3f6fb6"/>
<rect x="104.2" y="277.58" width="5" height="5.01" fill="#3f6fb6"/>
<rect x="109.2" y="277.58" width="5" height="5.01" fill="#3f6fb6"/>
<rect x="114.2" y="277.58" width="5" height="5.01" fill="#3f6fb6"/>
<rect x="119.2" y="277.58" width="5" height="5.01" fill="#3f6fb6"/>
<rect x="124.2" y="277.58" width="5" height="5.01" fill="#3f6fb6"/>
<rect x="129.2" y="277.58" width="5" height="5.01" fill="#3f6fb6"/>
<rect x="134.2" y="277.58" width="5" height="5.01" fill="#3f6fb6"/>
<rect x="139.2" y="277.58" width="5" height="5.01" fill="#3f6fb6"/>
<rect x="144.2" y="277.58" width="5" height="5.01" fill="#3f6fb6"/>
<rect x="149.2" y="277.58" width="5" height="5.01" fill="#3f6fb6"/>
<rect x="154.2" y="277.58" width="5" height="5.01" fill="#f06f49"/>
<rect x="159.2" y="277.58" width="5" height="5.01" fill="#f06f49"/>
<rect x="164.2" y="277.58" width="5" height="5.01" fill="#fda66a"/>
<rect x="169.2" y="277.58" width="5" height="5.01" fill="#fda66a"/>
<rect x="174.2" y="277.58" width="5" height="5.01" fill="#fda66a"/>
<rect x="179.2" y="277.58" width="5" height="5.01" fill="#fda66a"/>
<rect x="184.2" y="277.58" width="5" height="5.01" fill="#fda66a"/>
<rect x="189.2" y="277.58" width="5" height="5.01" fill="#fda66a"/>
<rect x="194.2" y="277.58" width="5" height="5.01" fill="#f06f49"/>
<rect x="199.2" y="277.58" width="5" height="5.01" fill="#fffab7"/>
<rect x="204.2" y="277.58" width="5" height="5.01" fill="#fece84"/>
<rect x="209.2" y="277.58" width="5" height="5.01" fill="#fda66a"/>
<rect x="214.2" y="277.58" width="5" height="5.01" fill="#fece84"/>
<rect x="219.2" y="277.58" width="5" height="5.01" fill="#fda66a"/>
<rect x="224.2" y="277.58" width="5" height="5.01" fill="#fda66a"/>
<rect x="229.2" y="277.58" width="5" height="5.01" fill="#fda66a"/>
<rect x="39.2" y="282.59" width="5" height="5.01" fill="#fee89c"/>
<rect x="44.2" y="282.59" width="5" height="5.01" fill="#fffab7"/>
<rect x="49.2" y="282.59" width="5" height="5.01" fill="#fece84"/>
<rect x="54.2" y="282.59" width="5" height="5.01" fill="#fffab7"/>
<rect x="59.2" y="282.59" width="5" height="5.01" fill="#fee89c"/>
<rect x="64.2" y="282.59" width="5" height="5.01" fill="#fece84"/>
<rect x="69.2" y="282.59" width="5" height="5.01" fill="#fffab7"/>
<rect x="74.2" y="282.59" width="5" height="5.01" fill="#fffab7"/>
<rect x="79.2" y="282.59" width="5" height="5.01" fill="#fffab7"/>
<rect x="84.2" y="282.59" width="5" height="5.01" fill="#fee89c"/>
<rect x="89.2" y="282.59" width="5" height="5.01" fill="#3f6fb6"/>
<rect x="94.2" y="282.59" width="5" height="5.01" fill="#3f6fb6"/>
<rect x="99.2" y="282.59" width="5" height="5.01" fill="#3f6fb6"/>
<rect x="104.2" y="282.59" width="5" height="5.01" fill="#3f6fb6"/>
<rect x="109.2" y="282.59" width="5" height="5.01" fill="#3f6fb6"/>
<rect x="114.2" y="282.59" width="5" height="5.01" fill="#3f6fb6"/>
<rect x="119.2" y="282.59" width="5" height="5.01" fill="#3f6fb6"/>
<rect x="124.2" y="282.59" width="5" height="5.01" fill="#3f6fb6"/>
<rect x="129.2" y="282.59" width="5" height="5.01" fill="#3f6fb6"/>
<rect x="134.2" y="282.59" width="5" height="5.01" fill="#3f6fb6"/>
<rect x="139.2" y="282.59" width="5" height="5.01" fill="#fffab7"/>
<rect x="144.2" y="282.59" width="5" height="5.01" fill="#fda66a"/>
<rect x="149.2" y="282.59" width="5" height="5.01" fill="#fffab7"/>
<rect x="154.2" y="282.59" width="5" height="5.01" fill="#fece84"/>
<rect x="159.2" y="282.59" width="5" height="5.01" fill="#fece84"/>
<rect x="164.2" y="282.59" width="5" height="5.01" fill="#fffab7"/>
<rect x="169.2" y="282.59" width="5" height="5.01" fill="#fffab7"/>
<rect x="174.2" y="282.59" width="5" height="5.01" fill="#f06f49"/>
<rect x="179.2" y="282.59" width="5" height="5.01" fill="#fffab7"/>
<rect x="184.2" y="282.59" width="5" height="5.01" fill="#fee89c"/>
<rect x="189.2" y="282.59" width="5" height="5.01" fill="#fffab7"/>
<rect x="194.2" y="282.59" width="5" height="5.01" fill="#fece84"/>
<rect x="199.2" y="282.59" width="5" height="5.01" fill="#fda66a"/>
<rect x="204.2" y="282.59" width="5" height="5.01" fill="#fffab7"/>
<rect x="209.2" y="282.59" width="5" height="5.01" fill="#fece84"/>
<rect x="214.2" y="282.59" width="5" height="5.01" fill="#fda66a"/>
<rect x="219.2" y="282.59" width="5" height="5.01" fill="#fee89c"/>
<rect x="224.2" y="282.59" width="5" height="5.01" fill="#fda66a"/>
<rect x="229.2" y="282.59" width="5" height="5.01" fill="#fffab7"/>
<rect x="39.2" y="287.60" width="5" height="5.01" fill="#edf8df"/>
<rect x="44.2" y="287.60" width="5" height="5.01" fill="#fece84"/>
<rect x="49.2" y="287.60" width="5" height="5.01" fill="#fffab7"/>
<rect x="54.2" y="287.60" width="5" height="5.01" fill="#fee89c"/>
<rect x="59.2" y="287.60" width="5" height="5.01" fill="#fda66a"/>
<rect x="64.2" y="287.60" width="5" height="5.01" fill="#fece84"/>
<rect x="69.2" y="287.60" width="5" height="5.01" fill="#edf8df"/>
<rect x="74.2" y="287.60" width="5" height="5.01" fill="#fee89c"/>
<rect x="79.2" y="287.60" width="5" height="5.01" fill="#fece84"/>
<rect x="84.2" y="287.60" width="5" height="5.01" fill="#fece84"/>
<rect x="89.2" y="287.60" width="5" height="5.01" fill="#3f6fb6"/>
<rect x="94.2" y="287.60" width="5" height="5.01" fill="#3f6fb6"/>
<rect x="99.2" y="287.60" width="5" height="5.01" fill="#3f6fb6"/>
<rect x="104.2" y="287.60" width="5" height="5.01" fill="#3f6fb6"/>
<rect x="109.2" y="287.60" width="5" height="5.01" fill="#3f6fb6"/>
<rect x="114.2" y="287.60" width="5" height="5.01" fill="#3f6fb6"/>
<rect x="119.2" y="287.60" width="5" height="5.01" fill="#3f6fb6"/>
<rect x="124.2" y="287.60" width="5" height="5.01" fill="#3f6fb6"/>
<rect x="129.2" y="287.60" width="5" height="5.01" fill="#3f6fb6"/>
<rect x="134.2" y="287.60" width="5" height="5.01" fill="#3f6fb6"/>
<rect x="139.2" y="287.60" width="5" height="5.01" fill="#fee89c"/>
<rect x="144.2" y="287.60" width="5" height="5.01" fill="#3f6fb6"/>
<rect x="149.2" y="287.60" width="5" height="5.01" fill="#fee89c"/>
<rect x="154.2" y="287.60" width="5" height="5.01" fill="#fee89c"/>
<rect x="159.2" y="287.60" width="5" height="5.01" fill="#fda66a"/>
<rect x="164.2" y="287.60" width="5" height="5.01" fill="#fffab7"/>
<rect x="169.2" y="287.60" width="5" height="5.01" fill="#fffab7"/>
<rect x="174.2" y="287.60" width="5" height="5.01" fill="#fffab7"/>
<rect x="179.2" y="287.60" width="5" height="5.01" fill="#fffab7"/>
<rect x="184.2" y="287.60" width="5" height="5.01" fill="#fffab7"/>
<rect x="189.2" y="287.60" width="5" height="5.01" fill="#edf8df"/>
<rect x="194.2" y="287.60" width="5" height="5.01" fill="#fffab7"/>
<rect x="199.2" y="287.60" width="5" height="5.01" fill="#edf8df"/>
<rect x="204.2" y="287.60" width="5" height="5.01" fill="#edf8df"/>
<rect x="209.2" y="287.60" width="5" height="5.01" fill="#d1e9f3"/>
<rect x="214.2" y="287.60" width="5" height="5.01" fill="#edf8df"/>
<rect x="219.2" y="287.60" width="5" height="5.01" fill="#3f6fb6"/>
<rect x="224.2" y="287.60" width="5" height="5.01" fill="#fffab7"/>
<rect x="229.2" y="287.60" width="5" height="5.01" fill="#fffab7"/>
<rect x="39.2" y="292.62" width="5" height="5.01" fill="#fee89c"/>
<rect x="44.2" y="292.62" width="5" height="5.01" fill="#fece84"/>
<rect x="49.2" y="292.62" width="5" height="5.01" fill="#fee89c"/>
<rect x="54.2" y="292.62" width="5" height="5.01" fill="#fffab7"/>
<rect x="59.2" y="292.62" width="5" height="5.01" fill="#fece84"/>
<rect x="64.2" y="292.62" width="5" height="5.01" fill="#fee89c"/>
<rect x="69.2" y="292.62" width="5" height="5.01" fill="#fee89c"/>
<rect x="74.2" y="292.62" width="5" height="5.01" fill="#fee89c"/>
<rect x="79.2" y="292.62" width="5" height="5.01" fill="#fece84"/>
<rect x="84.2" y="292.62" width="5" height="5.01" fill="#fee89c"/>
<rect x="89.2" y="292.62" width="5" height="5.01" fill="#3f6fb6"/>
<rect x="94.2" y="292.62" width="5" height="5.01" fill="#3f6fb6"/>
<rect x="99.2" y="292.62" width="5" height="5.01" fill="#3f6fb6"/>
<rect x="104.2" y="292.62" width="5" height="5.01" fill="#3f6fb6"/>
<rect x="109.2" y="292.62" width="5" height="5.01" fill="#3f6fb6"/>
<rect x="114.2" y="292.62" width="5" height="5.01" fill="#3f6fb6"/>
<rect x="119.2" y="292.62" width="5" height="5.01" fill="#3f6fb6"/>
<rect x="124.2" y="292.62" width="5" height="5.01" fill="#3f6fb6"/>
<rect x="129.2" y="292.62" width="5" height="5.01" fill="#3f6fb6"/>
<rect x="134.2" y="292.62" width="5" height="5.01" fill="#3f6fb6"/>
<rect x="139.2" y="292.62" width="5" height="5.01" fill="#edf8df"/>
<rect x="144.2" y="292.62" width="5" height="5.01" fill="#fffab7"/>
<rect x="149.2" y="292.62" width="5" height="5.01" fill="#fffab7"/>
<rect x="154.2" y="292.62" width="5" height="5.01" fill="#fece84"/>
<rect x="159.2" y="292.62" width="5" height="5.01" fill="#fece84"/>
<rect x="164.2" y="292.62" width="5" height="5.01" fill="#fee89c"/>
<rect x="169.2" y="292.62" width="5" height="5.01" fill="#fee89c"/>
<rect x="174.2" y="292.62" width="5" height="5.01" fill="#fee89c"/>
<rect x="179.2" y="292.62" width="5" height="5.01" fill="#fee89c"/>
<rect x="184.2" y="292.62" width="5" height="5.01" fill="#fee89c"/>
<rect x="189.2" y="292.62" width="5" height="5.01" fill="#fee89c"/>
<rect x="194.2" y="292.62" width="5" height="5.01" fill="#fece84"/>
<rect x="199.2" y="292.62" width="5" height="5.01" fill="#fffab7"/>
<rect x="204.2" y="292.62" width="5" height="5.01" fill="#fffab7"/>
<rect x="209.2" y="292.62" width="5" height="5.01" fill="#fee89c"/>
<rect x="214.2" y="292.62" width="5" height="5.01" fill="#fffab7"/>
<rect x="219.2" y="292.62" width="5" height="5.01" fill="#fee89c"/>
<rect x="224.2" y="292.62" width="5" height="5.01" fill="#fee89c"/>
<rect x="229.2" y="292.62" width="5" height="5.01" fill="#fee89c"/>
<rect x="39.2" y="297.63" width="5" height="5.01" fill="#fffab7"/>
<rect x="44.2" y="297.63" width="5" height="5.01" fill="#fece84"/>
<rect x="49.2" y="297.63" width="5" height="5.01" fill="#fee89c"/>
<rect x="54.2" y="297.63" width="5" height="5.01" fill="#fffab7"/>
<rect x="59.2" y="297.63" width="5" height="5.01" fill="#fda66a"/>
<rect x="64.2" y="297.63" width="5" height="5.01" fill="#fece84"/>
<rect x="69.2" y="297.63" width="5" height="5.01" fill="#fece84"/>
<rect x="74.2" y="297.63" width="5" height="5.01" fill="#fee89c"/>
<rect x="79.2" y="297.63" width="5" height="5.01" fill="#fece84"/>
<rect x="84.2" y="297.63" width="5" height="5.01" fill="#fee89c"/>
<rect x="89.2" y="297.63" width="5" height="5.01" fill="#3f6fb6"/>
<rect x="94.2" y="297.63" width="5" height="5.01" fill="#3f6fb6"/>
<rect x="99.2" y="297.63" width="5" height="5.01" fill="#3f6fb6"/>
<rect x="104.2" y="297.63" width="5" height="5.01" fill="#3f6fb6"/>
<rect x="109.2" y="297.63" width="5" height="5.01" fill="#3f6fb6"/>
<rect x="114.2" y="297.63" width="5" height="5.01" fill="#3f6fb6"/>
<rect x="119.2" y="297.63" width="5" height="5.01" fill="#3f6fb6"/>
<rect x="124.2" y="297.63" width="5" height="5.01" fill="#3f6fb6"/>
<rect x="129.2" y="297.63" width="5" height="5.01" fill="#3f6fb6"/>
<rect x="134.2" y="297.63" width="5" height="5.01" fill="#3f6fb6"/>
<rect x="139.2" y="297.63" width="5" height="5.01" fill="#fda66a"/>
<rect x="144.2" y="297.63" width="5" height="5.01" fill="#d1e9f3"/>
<rect x="149.2" y="297.63" width="5" height="5.01" fill="#fffab7"/>
<rect x="154.2" y="297.63" width="5" height="5.01" fill="#fffab7"/>
<rect x="159.2" y="297.63" width="5" height="5.01" fill="#fee89c"/>
<rect x="164.2" y="297.63" width="5" height="5.01" fill="#fffab7"/>
<rect x="169.2" y="297.63" width="5" height="5.01" fill="#fffab7"/>
<rect x="174.2" y="297.63" width="5" height="5.01" fill="#fffab7"/>
<rect x="179.2" y="297.63" width="5" height="5.01" fill="#d1e9f3"/>
<rect x="184.2" y="297.63" width="5" height="5.01" fill="#fffab7"/>
<rect x="189.2" y="297.63" width="5" height="5.01" fill="#fee89c"/>
<rect x="194.2" y="297.63" width="5" height="5.01" fill="#fffab7"/>
<rect x="199.2" y="297.63" width="5" height="5.01" fill="#edf8df"/>
<rect x="204.2" y="297.63" width="5" height="5.01" fill="#edf8df"/>
<rect x="209.2" y="297.63" width="5" height="5.01" fill="#edf8df"/>
<rect x="214.2" y="297.63" width="5" height="5.01" fill="#edf8df"/>
<rect x="219.2" y="297.63" width="5" height="5.01" fill="#fffab7"/>
<rect x="224.2" y="297.63" width="5" height="5.01" fill="#fffab7"/>
<rect x="229.2" y="297.63" width="5" height="5.01" fill="#fffab7"/>
</g>
<rect x="39.20" y="63.6" width="5.0" height="5" fill="#1ea6e2" stroke="#9a9a9a" stroke-width="0.35"/>
<rect x="44.20" y="63.6" width="5.0" height="5" fill="#1ea6e2" stroke="#9a9a9a" stroke-width="0.35"/>
<rect x="49.20" y="63.6" width="5.0" height="5" fill="#1ea6e2" stroke="#9a9a9a" stroke-width="0.35"/>
<rect x="54.20" y="63.6" width="5.0" height="5" fill="#1ea6e2" stroke="#9a9a9a" stroke-width="0.35"/>
<rect x="59.20" y="63.6" width="5.0" height="5" fill="#1ea6e2" stroke="#9a9a9a" stroke-width="0.35"/>
<rect x="64.20" y="63.6" width="5.0" height="5" fill="#1ea6e2" stroke="#9a9a9a" stroke-width="0.35"/>
<rect x="69.20" y="63.6" width="5.0" height="5" fill="#1ea6e2" stroke="#9a9a9a" stroke-width="0.35"/>
<rect x="74.20" y="63.6" width="5.0" height="5" fill="#1ea6e2" stroke="#9a9a9a" stroke-width="0.35"/>
<rect x="79.20" y="63.6" width="5.0" height="5" fill="#1ea6e2" stroke="#9a9a9a" stroke-width="0.35"/>
<rect x="84.20" y="63.6" width="5.0" height="5" fill="#1ea6e2" stroke="#9a9a9a" stroke-width="0.35"/>
<rect x="89.20" y="63.6" width="5.0" height="5" fill="#1ea6e2" stroke="#9a9a9a" stroke-width="0.35"/>
<rect x="94.20" y="63.6" width="5.0" height="5" fill="#1ea6e2" stroke="#9a9a9a" stroke-width="0.35"/>
<rect x="99.20" y="63.6" width="5.0" height="5" fill="#1ea6e2" stroke="#9a9a9a" stroke-width="0.35"/>
<rect x="104.20" y="63.6" width="5.0" height="5" fill="#1ea6e2" stroke="#9a9a9a" stroke-width="0.35"/>
<rect x="109.20" y="63.6" width="5.0" height="5" fill="#1ea6e2" stroke="#9a9a9a" stroke-width="0.35"/>
<rect x="114.20" y="63.6" width="5.0" height="5" fill="#1ea6e2" stroke="#9a9a9a" stroke-width="0.35"/>
<rect x="119.20" y="63.6" width="5.0" height="5" fill="#1ea6e2" stroke="#9a9a9a" stroke-width="0.35"/>
<rect x="124.20" y="63.6" width="5.0" height="5" fill="#1ea6e2" stroke="#9a9a9a" stroke-width="0.35"/>
<rect x="129.20" y="63.6" width="5.0" height="5" fill="#1ea6e2" stroke="#9a9a9a" stroke-width="0.35"/>
<rect x="134.20" y="63.6" width="5.0" height="5" fill="#1ea6e2" stroke="#9a9a9a" stroke-width="0.35"/>
<rect x="139.20" y="63.6" width="5.0" height="5" fill="#f98e10" stroke="#9a9a9a" stroke-width="0.35"/>
<rect x="144.20" y="63.6" width="5.0" height="5" fill="#f98e10" stroke="#9a9a9a" stroke-width="0.35"/>
<rect x="149.20" y="63.6" width="5.0" height="5" fill="#f98e10" stroke="#9a9a9a" stroke-width="0.35"/>
<rect x="154.20" y="63.6" width="5.0" height="5" fill="#f98e10" stroke="#9a9a9a" stroke-width="0.35"/>
<rect x="159.20" y="63.6" width="5.0" height="5" fill="#f98e10" stroke="#9a9a9a" stroke-width="0.35"/>
<rect x="164.20" y="63.6" width="5.0" height="5" fill="#f98e10" stroke="#9a9a9a" stroke-width="0.35"/>
<rect x="169.20" y="63.6" width="5.0" height="5" fill="#f98e10" stroke="#9a9a9a" stroke-width="0.35"/>
<rect x="174.20" y="63.6" width="5.0" height="5" fill="#f98e10" stroke="#9a9a9a" stroke-width="0.35"/>
<rect x="179.20" y="63.6" width="5.0" height="5" fill="#f98e10" stroke="#9a9a9a" stroke-width="0.35"/>
<rect x="184.20" y="63.6" width="5.0" height="5" fill="#f98e10" stroke="#9a9a9a" stroke-width="0.35"/>
<rect x="189.20" y="63.6" width="5.0" height="5" fill="#f98e10" stroke="#9a9a9a" stroke-width="0.35"/>
<rect x="194.20" y="63.6" width="5.0" height="5" fill="#f98e10" stroke="#9a9a9a" stroke-width="0.35"/>
<rect x="199.20" y="63.6" width="5.0" height="5" fill="#f98e10" stroke="#9a9a9a" stroke-width="0.35"/>
<rect x="204.20" y="63.6" width="5.0" height="5" fill="#f98e10" stroke="#9a9a9a" stroke-width="0.35"/>
<rect x="209.20" y="63.6" width="5.0" height="5" fill="#f98e10" stroke="#9a9a9a" stroke-width="0.35"/>
<rect x="214.20" y="63.6" width="5.0" height="5" fill="#f98e10" stroke="#9a9a9a" stroke-width="0.35"/>
<rect x="219.20" y="63.6" width="5.0" height="5" fill="#f98e10" stroke="#9a9a9a" stroke-width="0.35"/>
<rect x="224.20" y="63.6" width="5.0" height="5" fill="#f98e10" stroke="#9a9a9a" stroke-width="0.35"/>
<rect x="229.20" y="63.6" width="5.0" height="5" fill="#f98e10" stroke="#9a9a9a" stroke-width="0.35"/>
<rect x="39.20" y="70.0" width="5.0" height="5" fill="#120a12" stroke="#9a9a9a" stroke-width="0.35"/>
<rect x="44.20" y="70.0" width="5.0" height="5" fill="#120a12" stroke="#9a9a9a" stroke-width="0.35"/>
<rect x="49.20" y="70.0" width="5.0" height="5" fill="#120a12" stroke="#9a9a9a" stroke-width="0.35"/>
<rect x="54.20" y="70.0" width="5.0" height="5" fill="#120a12" stroke="#9a9a9a" stroke-width="0.35"/>
<rect x="59.20" y="70.0" width="5.0" height="5" fill="#120a12" stroke="#9a9a9a" stroke-width="0.35"/>
<rect x="64.20" y="70.0" width="5.0" height="5" fill="#120a12" stroke="#9a9a9a" stroke-width="0.35"/>
<rect x="69.20" y="70.0" width="5.0" height="5" fill="#120a12" stroke="#9a9a9a" stroke-width="0.35"/>
<rect x="74.20" y="70.0" width="5.0" height="5" fill="#120a12" stroke="#9a9a9a" stroke-width="0.35"/>
<rect x="79.20" y="70.0" width="5.0" height="5" fill="#120a12" stroke="#9a9a9a" stroke-width="0.35"/>
<rect x="84.20" y="70.0" width="5.0" height="5" fill="#120a12" stroke="#9a9a9a" stroke-width="0.35"/>
<rect x="89.20" y="70.0" width="5.0" height="5" fill="#03940c" stroke="#9a9a9a" stroke-width="0.35"/>
<rect x="94.20" y="70.0" width="5.0" height="5" fill="#03940c" stroke="#9a9a9a" stroke-width="0.35"/>
<rect x="99.20" y="70.0" width="5.0" height="5" fill="#03940c" stroke="#9a9a9a" stroke-width="0.35"/>
<rect x="104.20" y="70.0" width="5.0" height="5" fill="#03940c" stroke="#9a9a9a" stroke-width="0.35"/>
<rect x="109.20" y="70.0" width="5.0" height="5" fill="#03940c" stroke="#9a9a9a" stroke-width="0.35"/>
<rect x="114.20" y="70.0" width="5.0" height="5" fill="#03940c" stroke="#9a9a9a" stroke-width="0.35"/>
<rect x="119.20" y="70.0" width="5.0" height="5" fill="#03940c" stroke="#9a9a9a" stroke-width="0.35"/>
<rect x="124.20" y="70.0" width="5.0" height="5" fill="#03940c" stroke="#9a9a9a" stroke-width="0.35"/>
<rect x="129.20" y="70.0" width="5.0" height="5" fill="#03940c" stroke="#9a9a9a" stroke-width="0.35"/>
<rect x="134.20" y="70.0" width="5.0" height="5" fill="#03940c" stroke="#9a9a9a" stroke-width="0.35"/>
<rect x="139.20" y="70.0" width="5.0" height="5" fill="#120a12" stroke="#9a9a9a" stroke-width="0.35"/>
<rect x="144.20" y="70.0" width="5.0" height="5" fill="#03940c" stroke="#9a9a9a" stroke-width="0.35"/>
<rect x="149.20" y="70.0" width="5.0" height="5" fill="#120a12" stroke="#9a9a9a" stroke-width="0.35"/>
<rect x="154.20" y="70.0" width="5.0" height="5" fill="#120a12" stroke="#9a9a9a" stroke-width="0.35"/>
<rect x="159.20" y="70.0" width="5.0" height="5" fill="#120a12" stroke="#9a9a9a" stroke-width="0.35"/>
<rect x="164.20" y="70.0" width="5.0" height="5" fill="#03940c" stroke="#9a9a9a" stroke-width="0.35"/>
<rect x="169.20" y="70.0" width="5.0" height="5" fill="#120a12" stroke="#9a9a9a" stroke-width="0.35"/>
<rect x="174.20" y="70.0" width="5.0" height="5" fill="#03940c" stroke="#9a9a9a" stroke-width="0.35"/>
<rect x="179.20" y="70.0" width="5.0" height="5" fill="#03940c" stroke="#9a9a9a" stroke-width="0.35"/>
<rect x="184.20" y="70.0" width="5.0" height="5" fill="#03940c" stroke="#9a9a9a" stroke-width="0.35"/>
<rect x="189.20" y="70.0" width="5.0" height="5" fill="#03940c" stroke="#9a9a9a" stroke-width="0.35"/>
<rect x="194.20" y="70.0" width="5.0" height="5" fill="#03940c" stroke="#9a9a9a" stroke-width="0.35"/>
<rect x="199.20" y="70.0" width="5.0" height="5" fill="#120a12" stroke="#9a9a9a" stroke-width="0.35"/>
<rect x="204.20" y="70.0" width="5.0" height="5" fill="#120a12" stroke="#9a9a9a" stroke-width="0.35"/>
<rect x="209.20" y="70.0" width="5.0" height="5" fill="#120a12" stroke="#9a9a9a" stroke-width="0.35"/>
<rect x="214.20" y="70.0" width="5.0" height="5" fill="#03940c" stroke="#9a9a9a" stroke-width="0.35"/>
<rect x="219.20" y="70.0" width="5.0" height="5" fill="#03940c" stroke="#9a9a9a" stroke-width="0.35"/>
<rect x="224.20" y="70.0" width="5.0" height="5" fill="#120a12" stroke="#9a9a9a" stroke-width="0.35"/>
<rect x="229.20" y="70.0" width="5.0" height="5" fill="#03940c" stroke="#9a9a9a" stroke-width="0.35"/>
<text x="237" y="68.3" font-size="5.6" font-weight="bold" font-style="normal" text-anchor="start" fill="#111" textLength="19.3" lengthAdjust="spacingAndGlyphs" >Housing</text>
<text x="237" y="74.4" font-size="5.6" font-weight="bold" font-style="normal" text-anchor="start" fill="#111" textLength="28.5" lengthAdjust="spacingAndGlyphs" >Background</text>
<g font-size="5.02" fill="#111" stroke="#111" stroke-width="0.12">
<text x="237" y="81.50">p__Firmicutes;c__Clostridia;o__Clostridiales;f__Lachnospiraceae;g__Lachnospiraceae NK4A136 group</text>
<text x="237" y="86.51">p__Firmicutes;c__Clostridia;o__Clostridiales;f__Ruminococcaceae;g__Ruminiclostridium 6</text>
<text x="237" y="91.52">p__Firmicutes;c__Clostridia;o__Clostridiales;f__Ruminococcaceae;g__[Eubacterium] coprostanoligenes group</text>
<text x="237" y="96.54">p__Bacteroidetes;c__Bacteroidia;o__Bacteroidales;f__Bacteroidales S24-7 group;g__</text>
<text x="237" y="101.55">p__Bacteroidetes;c__Bacteroidia;o__Bacteroidales;f__Bacteroidales S24-7 group;g__</text>
<text x="237" y="106.56">p__Bacteroidetes;c__Bacteroidia;o__Bacteroidales;f__Bacteroidales S24-7 group;g__</text>
<text x="237" y="111.57">p__Firmicutes;c__Clostridia;o__Clostridiales;f__Ruminococcaceae;g__Ruminococcaceae UCG-014</text>
<text x="237" y="116.58">p__Verrucomicrobia;c__Verrucomicrobiae;o__Verrucomicrobiales;f__Verrucomicrobiaceae;g__Akkermansia</text>
<text x="237" y="121.60">p__Bacteroidetes;c__Bacteroidia;o__Bacteroidales;f__Bacteroidales S24-7 group;g__</text>
<text x="237" y="126.61">p__Bacteroidetes;c__Bacteroidia;o__Bacteroidales;f__Bacteroidales S24-7 group;g__</text>
<text x="237" y="131.62">p__Bacteroidetes;c__Bacteroidia;o__Bacteroidales;f__Bacteroidales S24-7 group;g__</text>
<text x="237" y="136.63">p__Bacteroidetes;c__Bacteroidia;o__Bacteroidales;f__Bacteroidales S24-7 group;g__</text>
<text x="237" y="141.64">p__Firmicutes;c__Clostridia;o__Clostridiales;f__Lachnospiraceae;g__</text>
<text x="237" y="146.66">p__Firmicutes;c__Clostridia;o__Clostridiales;f__Lachnospiraceae;g__</text>
<text x="237" y="151.67">p__Firmicutes;c__Clostridia;o__Clostridiales;f__Ruminococcaceae;g__Ruminococcaceae UCG-014</text>
<text x="237" y="156.68">p__Firmicutes;c__Clostridia;o__Clostridiales;f__Ruminococcaceae;g__Ruminococcaceae UCG-014</text>
<text x="237" y="161.69">p__Firmicutes;c__Clostridia;o__Clostridiales;f__Ruminococcaceae;g__Ruminococcaceae UCG-014</text>
<text x="237" y="166.70">p__Firmicutes;c__Clostridia;o__Clostridiales;f__Ruminococcaceae;g__[Eubacterium] coprostanoligenes group</text>
<text x="237" y="171.72">p__Firmicutes;c__Clostridia;o__Clostridiales;f__Lachnospiraceae;g__Lachnoclostridium</text>
<text x="237" y="176.73">p__Firmicutes;c__Clostridia;o__Clostridiales;f__Lachnospiraceae;g__</text>
<text x="237" y="181.74">p__Bacteroidetes;c__Bacteroidia;o__Bacteroidales;f__Bacteroidales S24-7 group;g__</text>
<text x="237" y="186.75">p__Bacteroidetes;c__Bacteroidia;o__Bacteroidales;f__Bacteroidaceae;g__Bacteroides</text>
<text x="237" y="191.76">p__Bacteroidetes;c__Bacteroidia;o__Bacteroidales;f__Rikenellaceae;g__Alistipes</text>
<text x="237" y="196.78">p__Bacteroidetes;c__Bacteroidia;o__Bacteroidales;f__Bacteroidales S24-7 group;g__</text>
<text x="237" y="201.79">p__Bacteroidetes;c__Bacteroidia;o__Bacteroidales;f__Bacteroidales S24-7 group;g__</text>
<text x="237" y="206.80">p__Bacteroidetes;c__Bacteroidia;o__Bacteroidales;f__Bacteroidales S24-7 group;g__</text>
<text x="237" y="211.81">p__Saccharibacteria;c__;o__;f__;g__Candidatus Saccharimonas</text>
<text x="237" y="216.82">p__Saccharibacteria;c__;o__;f__;g__Candidatus Saccharimonas</text>
<text x="237" y="221.84">p__Proteobacteria;c__Epsilonproteobacteria;o__Campylobacterales;f__Helicobacteraceae;g__Helicobacter</text>
<text x="237" y="226.85">p__Proteobacteria;c__Betaproteobacteria;o__Burkholderiales;f__Alcaligenaceae;g__Parasutterella</text>
<text x="237" y="231.86">p__Bacteroidetes;c__Bacteroidia;o__Bacteroidales;f__Bacteroidales S24-7 group;g__</text>
<text x="237" y="236.87">p__Bacteroidetes;c__Bacteroidia;o__Bacteroidales;f__Bacteroidales S24-7 group;g__</text>
<text x="237" y="241.88">p__Bacteroidetes;c__Bacteroidia;o__Bacteroidales;f__Bacteroidales S24-7 group;g__</text>
<text x="237" y="246.90">p__Bacteroidetes;c__Bacteroidia;o__Bacteroidales;f__Bacteroidales S24-7 group;g__</text>
<text x="237" y="251.91">p__Bacteroidetes;c__Bacteroidia;o__Bacteroidales;f__Prevotellaceae;g__</text>
<text x="237" y="256.92">p__Bacteroidetes;c__Bacteroidia;o__Bacteroidales;f__Bacteroidales S24-7 group;g__</text>
<text x="237" y="261.93">p__Bacteroidetes;c__Bacteroidia;o__Bacteroidales;f__Bacteroidales S24-7 group;g__</text>
<text x="237" y="266.94">p__Actinobacteria;c__Actinobacteria;o__Bifidobacteriales;f__Bifidobacteriaceae;g__Bifidobacterium</text>
<text x="237" y="271.96">p__Firmicutes;c__Bacilli;o__Lactobacillales;f__Lactobacillaceae;g__Lactobacillus</text>
<text x="237" y="276.97">p__Bacteroidetes;c__Bacteroidia;o__Bacteroidales;f__Bacteroidales S24-7 group;g__</text>
<text x="237" y="281.98">p__Bacteroidetes;c__Bacteroidia;o__Bacteroidales;f__Bacteroidales S24-7 group;g__</text>
<text x="237" y="286.99">p__Bacteroidetes;c__Bacteroidia;o__Bacteroidales;f__Porphyromonadaceae;g__</text>
<text x="237" y="292.00">p__Proteobacteria;c__Betaproteobacteria;o__Burkholderiales;f__Alcaligenaceae;g__Parasutterella</text>
<text x="237" y="297.02">p__Bacteroidetes;c__Bacteroidia;o__Bacteroidales;f__Bacteroidales S24-7 group;g__</text>
<text x="237" y="302.03">p__Bacteroidetes;c__Bacteroidia;o__Bacteroidales;f__Bacteroidales S24-7 group;g__</text>
</g>
<path d="M41.70,63.00V53H46.70V63.00 M51.70,63.00V56H56.70V63.00 M61.70,63.00V55.5H66.70V63.00 M54.20,56.00V52.2H64.20V55.50 M81.70,63.00V55.2H86.70V63.00 M76.70,63.00V54H84.20V55.20 M71.70,63.00V52.5H80.45V54.00 M59.20,52.20V50H76.08V52.50 M44.20,53.00V46.5H67.64V50.00 M111.70,63.00V59.5H116.70V63.00 M106.70,63.00V58.3H114.20V59.50 M101.70,63.00V57.8H110.45V58.30 M96.70,63.00V57.3H106.08V57.80 M91.70,63.00V56.5H101.39V57.30 M131.70,63.00V59H136.70V63.00 M126.70,63.00V58H134.20V59.00 M121.70,63.00V56.5H130.45V58.00 M96.54,56.50V52.8H126.07V56.50 M146.70,63.00V50.8H151.70V63.00 M141.70,63.00V47.8H149.20V50.80 M156.70,63.00V57H161.70V63.00 M166.70,63.00V54.5H171.70V63.00 M159.20,57.00V51.5H169.20V54.50 M181.70,63.00V54.5H186.70V63.00 M191.70,63.00V54.2H196.70V63.00 M184.20,54.50V53.2H194.20V54.20 M176.70,63.00V51.8H189.20V53.20 M206.70,63.00V57.3H211.70V63.00 M201.70,63.00V52.7H209.20V57.30 M216.70,63.00V54.5H221.70V63.00 M226.70,63.00V54.5H231.70V63.00 M219.20,54.50V51.6H229.20V54.50 M205.45,52.70V49.3H224.20V51.60 M182.95,51.80V47.0H214.82V49.30 M164.20,51.50V46.5H198.89V47.00 M145.45,47.80V43.3H181.54V46.50 M111.31,52.80V40.2H163.50V43.30 M55.92,46.50V30.2H137.40V40.20" fill="none" stroke="#4a4a4a" stroke-width="0.72"/>
<text x="7.7" y="323.1" font-size="11.7" font-weight="bold" font-style="normal" text-anchor="start" fill="#000" textLength="7.2" lengthAdjust="spacingAndGlyphs" stroke="#000" stroke-width="0.35">B</text>
<rect x="36.2" y="336.3" width="108.8" height="97.2" fill="none" stroke="#231f20" stroke-width="0.8"/>
<line x1="33.6" y1="348.1" x2="36.2" y2="348.1" stroke="#231f20" stroke-width="0.7" />
<text x="31.8" y="350.40000000000003" font-size="6.4" font-weight="normal" font-style="normal" text-anchor="end" fill="#231f20" >2</text>
<line x1="33.6" y1="366.3" x2="36.2" y2="366.3" stroke="#231f20" stroke-width="0.7" />
<text x="31.8" y="368.6" font-size="6.4" font-weight="normal" font-style="normal" text-anchor="end" fill="#231f20" >1</text>
<line x1="33.6" y1="384.5" x2="36.2" y2="384.5" stroke="#231f20" stroke-width="0.7" />
<text x="31.8" y="386.8" font-size="6.4" font-weight="normal" font-style="normal" text-anchor="end" fill="#231f20" >0</text>
<line x1="33.6" y1="402.7" x2="36.2" y2="402.7" stroke="#231f20" stroke-width="0.7" />
<text x="31.8" y="405.0" font-size="6.4" font-weight="normal" font-style="normal" text-anchor="end" fill="#231f20" textLength="7.73" lengthAdjust="spacingAndGlyphs" >−1</text>
<line x1="33.6" y1="420.9" x2="36.2" y2="420.9" stroke="#231f20" stroke-width="0.7" />
<text x="31.8" y="423.2" font-size="6.4" font-weight="normal" font-style="normal" text-anchor="end" fill="#231f20" textLength="7.73" lengthAdjust="spacingAndGlyphs" >−2</text>
<line x1="46.0" y1="433.5" x2="46.0" y2="436.1" stroke="#231f20" stroke-width="0.7" />
<text x="46.0" y="443.2" font-size="6.4" font-weight="normal" font-style="normal" text-anchor="middle" fill="#231f20" textLength="7.73" lengthAdjust="spacingAndGlyphs" >−2</text>
<line x1="64.25" y1="433.5" x2="64.25" y2="436.1" stroke="#231f20" stroke-width="0.7" />
<text x="64.25" y="443.2" font-size="6.4" font-weight="normal" font-style="normal" text-anchor="middle" fill="#231f20" textLength="7.73" lengthAdjust="spacingAndGlyphs" >−1</text>
<line x1="82.5" y1="433.5" x2="82.5" y2="436.1" stroke="#231f20" stroke-width="0.7" />
<text x="82.5" y="443.2" font-size="6.4" font-weight="normal" font-style="normal" text-anchor="middle" fill="#231f20" >0</text>
<line x1="100.75" y1="433.5" x2="100.75" y2="436.1" stroke="#231f20" stroke-width="0.7" />
<text x="100.75" y="443.2" font-size="6.4" font-weight="normal" font-style="normal" text-anchor="middle" fill="#231f20" >1</text>
<line x1="119.0" y1="433.5" x2="119.0" y2="436.1" stroke="#231f20" stroke-width="0.7" />
<text x="119.0" y="443.2" font-size="6.4" font-weight="normal" font-style="normal" text-anchor="middle" fill="#231f20" >2</text>
<line x1="137.25" y1="433.5" x2="137.25" y2="436.1" stroke="#231f20" stroke-width="0.7" />
<text x="137.25" y="443.2" font-size="6.4" font-weight="normal" font-style="normal" text-anchor="middle" fill="#231f20" >3</text>
<text x="18.0" y="385.1" font-size="7.9" text-anchor="middle" fill="#231f20" font-style="normal" transform="rotate(-90 18.0 385.1)" textLength="30.2" lengthAdjust="spacingAndGlyphs">PC2 [14%]</text>
<text x="90" y="453.6" font-size="7.7" font-weight="normal" font-style="normal" text-anchor="middle" fill="#231f20" textLength="31.5" lengthAdjust="spacingAndGlyphs" >PC1 [32%]</text>
<ellipse cx="75.7" cy="356.6" rx="11.5" ry="17" fill="#dcdcdc" transform="rotate(-25 75.7 356.6)"/>
<ellipse cx="130.4" cy="401.5" rx="14" ry="11" fill="#dcdcdc" transform="rotate(-40 130.4 401.5)"/>
<ellipse cx="43.2" cy="418.4" rx="6" ry="13.6" fill="#dcdcdc" transform="rotate(12 43.2 418.4)"/>
<circle cx="73.39" cy="341.54" r="0.85" fill="#1d5aa0"/>
<circle cx="76.16" cy="347.31" r="0.85" fill="#1d5aa0"/>
<circle cx="72.23" cy="349.62" r="0.85" fill="#1d5aa0"/>
<circle cx="79.62" cy="352.39" r="0.85" fill="#1d5aa0"/>
<circle cx="67.62" cy="357.23" r="0.85" fill="#1d5aa0"/>
<circle cx="68.54" cy="358.85" r="0.85" fill="#1d5aa0"/>
<circle cx="73.39" cy="363.00" r="0.85" fill="#1d5aa0"/>
<circle cx="78.93" cy="357.93" r="0.85" fill="#1d5aa0"/>
<circle cx="77.31" cy="361.62" r="0.85" fill="#1d5aa0"/>
<circle cx="75.00" cy="358.85" r="0.85" fill="#d7192a"/>
<circle cx="78.00" cy="359.54" r="0.85" fill="#d7192a"/>
<circle cx="81.47" cy="361.85" r="0.85" fill="#d7192a"/>
<circle cx="86.54" cy="364.62" r="0.85" fill="#d7192a"/>
<circle cx="73.85" cy="368.54" r="0.85" fill="#d7192a"/>
<circle cx="80.54" cy="366.93" r="0.85" fill="#d7192a"/>
<circle cx="76.16" cy="362.31" r="0.85" fill="#d7192a"/>
<circle cx="126.93" cy="391.85" r="0.85" fill="#d7192a"/>
<circle cx="140.32" cy="394.16" r="0.85" fill="#d7192a"/>
<circle cx="131.55" cy="401.08" r="0.85" fill="#d7192a"/>
<circle cx="138.01" cy="402.70" r="0.85" fill="#d7192a"/>
<circle cx="139.62" cy="403.85" r="0.85" fill="#d7192a"/>
<circle cx="136.85" cy="405.47" r="0.85" fill="#d7192a"/>
<circle cx="137.55" cy="407.31" r="0.85" fill="#d7192a"/>
<circle cx="125.32" cy="406.62" r="0.85" fill="#d7192a"/>
<circle cx="124.62" cy="410.31" r="0.85" fill="#d7192a"/>
<circle cx="42.69" cy="410.31" r="0.85" fill="#1d5aa0"/>
<circle cx="46.62" cy="408.93" r="0.85" fill="#1d5aa0"/>
<circle cx="41.54" cy="413.54" r="0.85" fill="#1d5aa0"/>
<circle cx="43.85" cy="416.55" r="0.85" fill="#1d5aa0"/>
<circle cx="45.69" cy="417.24" r="0.85" fill="#1d5aa0"/>
<circle cx="45.00" cy="419.55" r="0.85" fill="#1d5aa0"/>
<circle cx="40.39" cy="422.31" r="0.85" fill="#1d5aa0"/>
<circle cx="41.54" cy="423.01" r="0.85" fill="#1d5aa0"/>
<circle cx="44.31" cy="428.32" r="0.85" fill="#1d5aa0"/>
<circle cx="116.50" cy="341.20" r="0.85" fill="#d7192a"/>
<text x="118.6" y="344.0" font-size="6.8" font-weight="normal" font-style="normal" text-anchor="start" fill="#231f20" textLength="10.3" lengthAdjust="spacingAndGlyphs" >WT</text>
<circle cx="116.50" cy="346.80" r="0.85" fill="#1d5aa0"/>
<text x="118.6" y="350.0" font-size="6.8" font-weight="normal" font-style="italic" text-anchor="start" fill="#231f20" textLength="16.4" lengthAdjust="spacingAndGlyphs" >Ifnlr1</text>
<text x="135.3" y="347.0" font-size="4.0" font-weight="normal" font-style="normal" text-anchor="start" fill="#231f20" textLength="4.6" lengthAdjust="spacingAndGlyphs" >−/−</text>
<text x="78.5" y="381.3" font-size="7.1" font-weight="normal" font-style="normal" text-anchor="middle" fill="#231f20" textLength="31.8" lengthAdjust="spacingAndGlyphs" >Co-housed</text>
<text x="53.9" y="419.9" font-size="7.1" font-weight="normal" font-style="normal" text-anchor="start" fill="#231f20" textLength="18.6" lengthAdjust="spacingAndGlyphs" >Single</text>
<text x="53.9" y="427.0" font-size="7.1" font-weight="normal" font-style="normal" text-anchor="start" fill="#231f20" textLength="21.0" lengthAdjust="spacingAndGlyphs" >housed</text>
<text x="118.2" y="421.9" font-size="7.1" font-weight="normal" font-style="normal" text-anchor="start" fill="#231f20" textLength="18.6" lengthAdjust="spacingAndGlyphs" >Single</text>
<text x="118.2" y="429.0" font-size="7.1" font-weight="normal" font-style="normal" text-anchor="start" fill="#231f20" textLength="21.0" lengthAdjust="spacingAndGlyphs" >housed</text>
<text x="178.8" y="323.1" font-size="11.9" font-weight="bold" font-style="normal" text-anchor="start" fill="#000" stroke="#000" stroke-width="0.35">C</text>
<line x1="202.2" y1="353.5" x2="202.2" y2="433.1" stroke="#231f20" stroke-width="0.8" />
<line x1="202.2" y1="433.1" x2="324.6" y2="433.1" stroke="#231f20" stroke-width="0.8" />
<line x1="199.6" y1="359.90000000000003" x2="202.2" y2="359.90000000000003" stroke="#231f20" stroke-width="0.7" />
<text x="198.2" y="362.20000000000005" font-size="6.4" font-weight="normal" font-style="normal" text-anchor="end" fill="#231f20" textLength="11.42" lengthAdjust="spacingAndGlyphs" >100</text>
<line x1="199.6" y1="378.20000000000005" x2="202.2" y2="378.20000000000005" stroke="#231f20" stroke-width="0.7" />
<text x="198.2" y="380.50000000000006" font-size="6.4" font-weight="normal" font-style="normal" text-anchor="end" fill="#231f20" textLength="7.62" lengthAdjust="spacingAndGlyphs" >75</text>
<line x1="199.6" y1="396.5" x2="202.2" y2="396.5" stroke="#231f20" stroke-width="0.7" />
<text x="198.2" y="398.8" font-size="6.4" font-weight="normal" font-style="normal" text-anchor="end" fill="#231f20" textLength="7.62" lengthAdjust="spacingAndGlyphs" >50</text>
<line x1="199.6" y1="414.8" x2="202.2" y2="414.8" stroke="#231f20" stroke-width="0.7" />
<text x="198.2" y="417.1" font-size="6.4" font-weight="normal" font-style="normal" text-anchor="end" fill="#231f20" textLength="7.62" lengthAdjust="spacingAndGlyphs" >25</text>
<line x1="199.6" y1="433.1" x2="202.2" y2="433.1" stroke="#231f20" stroke-width="0.7" />
<text x="198.2" y="435.40000000000003" font-size="6.4" font-weight="normal" font-style="normal" text-anchor="end" fill="#231f20" >0</text>
<line x1="202.2" y1="433.1" x2="202.2" y2="435.7" stroke="#231f20" stroke-width="0.7" />
<text x="202.2" y="443.2" font-size="6.4" font-weight="normal" font-style="normal" text-anchor="middle" fill="#231f20" >0</text>
<line x1="226.39999999999998" y1="433.1" x2="226.39999999999998" y2="435.7" stroke="#231f20" stroke-width="0.7" />
<text x="226.39999999999998" y="443.2" font-size="6.4" font-weight="normal" font-style="normal" text-anchor="middle" fill="#231f20" textLength="7.62" lengthAdjust="spacingAndGlyphs" >10</text>
<line x1="250.6" y1="433.1" x2="250.6" y2="435.7" stroke="#231f20" stroke-width="0.7" />
<text x="250.6" y="443.2" font-size="6.4" font-weight="normal" font-style="normal" text-anchor="middle" fill="#231f20" textLength="7.62" lengthAdjust="spacingAndGlyphs" >20</text>
<line x1="274.79999999999995" y1="433.1" x2="274.79999999999995" y2="435.7" stroke="#231f20" stroke-width="0.7" />
<text x="274.79999999999995" y="443.2" font-size="6.4" font-weight="normal" font-style="normal" text-anchor="middle" fill="#231f20" textLength="7.62" lengthAdjust="spacingAndGlyphs" >30</text>
<line x1="299.0" y1="433.1" x2="299.0" y2="435.7" stroke="#231f20" stroke-width="0.7" />
<text x="299.0" y="443.2" font-size="6.4" font-weight="normal" font-style="normal" text-anchor="middle" fill="#231f20" textLength="7.62" lengthAdjust="spacingAndGlyphs" >40</text>
<line x1="323.2" y1="433.1" x2="323.2" y2="435.7" stroke="#231f20" stroke-width="0.7" />
<text x="323.2" y="443.2" font-size="6.4" font-weight="normal" font-style="normal" text-anchor="middle" fill="#231f20" textLength="7.62" lengthAdjust="spacingAndGlyphs" >50</text>
<text x="182.0" y="392.8" font-size="7.9" text-anchor="middle" fill="#231f20" font-style="normal" transform="rotate(-90 182.0 392.8)" textLength="30.2" lengthAdjust="spacingAndGlyphs">% Survival</text>
<text x="263" y="452.8" font-size="7.6" font-weight="normal" font-style="normal" text-anchor="middle" fill="#231f20" textLength="59.8" lengthAdjust="spacingAndGlyphs" >Days post-transplant</text>
<path d="M202.20,359.90 L220.11,359.90 L220.11,367.22 L221.56,367.22 L221.56,374.54 L226.40,374.54 L226.40,381.86 L253.02,381.86 L253.02,389.18 L255.44,389.18 L255.44,396.50 L261.01,396.50 L261.01,403.82 L262.70,403.82 L262.70,418.46 L270.44,418.46 L270.44,425.78 L289.32,425.78 L289.32,433.10 L289.32,433.10" fill="none" stroke="#17508f" stroke-width="1.35"/>
<path d="M202.20,359.90 L219.14,359.90 L219.14,374.54 L221.56,374.54 L221.56,389.18 L228.82,389.18 L228.82,396.50 L249.63,396.50 L249.63,403.82 L251.81,403.82 L251.81,411.14 L261.49,411.14 L261.49,425.78 L278.43,425.78 L278.43,433.10 L278.43,433.10" fill="none" stroke="#17508f" stroke-width="1.35" stroke-dasharray="2.6 1.4"/>
<path d="M202.20,359.90 L221.56,359.90 L221.56,367.22 L261.01,367.22 L261.01,374.54 L262.46,374.54 L262.46,381.86 L268.02,381.86 L268.02,389.18 L270.44,389.18 L270.44,396.50 L282.54,396.50 L282.54,403.82 L286.90,403.82 L286.90,411.14 L291.74,411.14 L291.74,425.78 L324.17,425.78" fill="none" stroke="#d7192a" stroke-width="1.35"/>
<path d="M202.20,359.90 L222.77,359.90 L222.77,367.22 L250.60,367.22 L250.60,374.54 L253.50,374.54 L253.50,381.86 L255.44,381.86 L255.44,389.18 L257.86,389.18 L257.86,396.50 L272.14,396.50 L272.14,403.82 L280.12,403.82 L280.12,411.14 L281.58,411.14 L281.58,418.46 L292.22,418.46 L292.22,425.78 L313.52,425.78 L313.52,433.10 L313.52,433.10" fill="none" stroke="#d7192a" stroke-width="1.35" stroke-dasharray="2.6 1.4"/>
<circle cx="219.14" cy="374.54" r="1.2" fill="#fff" stroke="#17508f" stroke-width="0.7"/>
<circle cx="221.56" cy="389.18" r="1.2" fill="#fff" stroke="#17508f" stroke-width="0.7"/>
<circle cx="230.03" cy="396.50" r="1.2" fill="#fff" stroke="#17508f" stroke-width="0.7"/>
<circle cx="249.63" cy="403.82" r="1.2" fill="#fff" stroke="#17508f" stroke-width="0.7"/>
<circle cx="251.81" cy="411.14" r="1.2" fill="#fff" stroke="#17508f" stroke-width="0.7"/>
<circle cx="260.28" cy="425.78" r="1.2" fill="#fff" stroke="#17508f" stroke-width="0.7"/>
<rect x="249.70" y="373.64" width="1.8" height="1.8" fill="#d7192a"/>
<rect x="312.62" y="432.20" width="1.8" height="1.8" fill="#d7192a"/>
<circle cx="324.17" cy="425.78" r="1.0" fill="#d7192a"/>
<path d="M207,325.8 H205 V342.7 H207" fill="none" stroke="#231f20" stroke-width="0.7"/>
<text x="199.6" y="336.6" font-size="5.5" font-weight="normal" font-style="normal" text-anchor="start" fill="#231f20" >*</text>
<path d="M269,325.8 H267.2 V342.7 H269" fill="none" stroke="#231f20" stroke-width="0.7"/>
<text x="261.8" y="336.6" font-size="5.5" font-weight="normal" font-style="normal" text-anchor="start" fill="#231f20" >*</text>
<line x1="209" y1="325.8" x2="217.9" y2="325.8" stroke="#d7192a" stroke-width="1.3" />
<line x1="212.5" y1="324.6" x2="212.5" y2="327" stroke="#d7192a" stroke-width="0.8" />
<line x1="209" y1="342.5" x2="217.9" y2="342.5" stroke="#17508f" stroke-width="1.3" />
<line x1="212.5" y1="341.3" x2="212.5" y2="343.7" stroke="#17508f" stroke-width="0.8" />
<line x1="271" y1="326.2" x2="279.4" y2="326.2" stroke="#d7192a" stroke-width="1.3" stroke-dasharray="2.4 1.2"/>
<rect x="274.3" y="325.3" width="1.8" height="1.8" fill="#d7192a"/>
<line x1="271" y1="343.0" x2="279.4" y2="343.0" stroke="#17508f" stroke-width="1.3" stroke-dasharray="2.4 1.2"/>
<circle cx="275.2" cy="343" r="1.2" fill="#fff" stroke="#17508f" stroke-width="0.7"/>
<text x="219.8" y="328.3" font-size="7.3" font-weight="normal" font-style="normal" text-anchor="start" fill="#231f20" textLength="27.5" lengthAdjust="spacingAndGlyphs" >WT single</text>
<text x="219.8" y="335.8" font-size="7.3" font-weight="normal" font-style="normal" text-anchor="start" fill="#231f20" textLength="19.5" lengthAdjust="spacingAndGlyphs" >housed</text>
<text x="219.8" y="345.0" font-size="7.3" font-weight="normal" font-style="italic" text-anchor="start" fill="#231f20" textLength="14.8" lengthAdjust="spacingAndGlyphs" >Ifnlr1</text>
<text x="234.8" y="342.0" font-size="3.9" font-weight="normal" font-style="normal" text-anchor="start" fill="#231f20" >−/−</text>
<text x="241.2" y="345.0" font-size="7.3" font-weight="normal" font-style="normal" text-anchor="start" fill="#231f20" textLength="17.8" lengthAdjust="spacingAndGlyphs" >single</text>
<text x="219.8" y="352.5" font-size="7.3" font-weight="normal" font-style="normal" text-anchor="start" fill="#231f20" textLength="19.5" lengthAdjust="spacingAndGlyphs" >housed</text>
<text x="281.7" y="328.8" font-size="7.3" font-weight="normal" font-style="normal" text-anchor="start" fill="#231f20" textLength="41.8" lengthAdjust="spacingAndGlyphs" >WT co-housed</text>
<text x="281.7" y="336.3" font-size="7.3" font-weight="normal" font-style="normal" text-anchor="start" fill="#231f20" textLength="12.3" lengthAdjust="spacingAndGlyphs" >with</text>
<text x="295.3" y="336.3" font-size="7.3" font-weight="normal" font-style="italic" text-anchor="start" fill="#231f20" textLength="14.8" lengthAdjust="spacingAndGlyphs" >Ifnlr1</text>
<text x="310.3" y="333.4" font-size="3.9" font-weight="normal" font-style="normal" text-anchor="start" fill="#231f20" >−/−</text>
<text x="281.7" y="345.5" font-size="7.3" font-weight="normal" font-style="italic" text-anchor="start" fill="#231f20" textLength="14.8" lengthAdjust="spacingAndGlyphs" >Ifnlr1</text>
<text x="296.8" y="342.6" font-size="3.9" font-weight="normal" font-style="normal" text-anchor="start" fill="#231f20" >−/−</text>
<text x="303.3" y="345.5" font-size="7.3" font-weight="normal" font-style="normal" text-anchor="start" fill="#231f20" textLength="31" lengthAdjust="spacingAndGlyphs" >co-housed</text>
<text x="281.7" y="352.5" font-size="7.3" font-weight="normal" font-style="normal" text-anchor="start" fill="#231f20" textLength="20.3" lengthAdjust="spacingAndGlyphs" >with WT</text>
<text x="356.3" y="322.7" font-size="11.3" font-weight="bold" font-style="normal" text-anchor="start" fill="#000" stroke="#000" stroke-width="0.35">D</text>
<text x="380.8" y="361.6" font-size="6.6" font-weight="normal" font-style="normal" text-anchor="end" fill="#231f20" textLength="11.3" lengthAdjust="spacingAndGlyphs" >WT</text>
<text x="358.2" y="411.0" font-size="6.8" font-weight="normal" font-style="italic" text-anchor="start" fill="#231f20" textLength="14.2" lengthAdjust="spacingAndGlyphs" >Ifnlr1</text>
<text x="372.6" y="408.0" font-size="4.2" font-weight="normal" font-style="normal" text-anchor="start" fill="#231f20" textLength="7.2" lengthAdjust="spacingAndGlyphs" >−/−</text>
<text x="420.3" y="440.2" font-size="6.6" font-weight="normal" font-style="normal" text-anchor="start" fill="#231f20" textLength="20.7" lengthAdjust="spacingAndGlyphs" >400µm</text>
<text x="454.2" y="440.2" font-size="6.6" font-weight="normal" font-style="normal" text-anchor="start" fill="#231f20" textLength="20.8" lengthAdjust="spacingAndGlyphs" >100µm</text>
<text x="488.0" y="440.2" font-size="6.6" font-weight="normal" font-style="normal" text-anchor="start" fill="#231f20" textLength="21.0" lengthAdjust="spacingAndGlyphs" >100µm</text>
<defs><filter id="bl5" x="-50%" y="-50%" width="200%" height="200%"><feGaussianBlur stdDeviation="0.45"/></filter><filter id="bl9" x="-50%" y="-50%" width="200%" height="200%"><feGaussianBlur stdDeviation="0.9"/></filter><clipPath id="p1"><rect x="382.1" y="339.1" width="59.9" height="45.5"/></clipPath><clipPath id="p2"><rect x="443.7" y="339.1" width="32.1" height="45.5"/></clipPath><clipPath id="p3"><rect x="478.3" y="339.1" width="32.0" height="45.5"/></clipPath><clipPath id="p4"><rect x="382.1" y="386.2" width="59.9" height="45.3"/></clipPath><clipPath id="p5"><rect x="443.7" y="386.2" width="32.1" height="45.3"/></clipPath><clipPath id="p6"><rect x="478.3" y="386.2" width="32.1" height="45.3"/></clipPath></defs>
<g clip-path="url(#p1)">
<defs><linearGradient id="pg1" x1="0" y1="0" x2="0" y2="1"><stop offset="0" stop-color="#c0c0c0"/><stop offset="1" stop-color="#b2b2b2"/></linearGradient></defs>
<rect x="382.1" y="339.1" width="59.9" height="45.5" fill="url(#pg1)"/>
<g filter="url(#bl9)">
<circle cx="390.1" cy="377.7" r="1.2" fill="rgb(164,164,164)" opacity="0.35"/>
<circle cx="411.8" cy="359.6" r="1.4" fill="rgb(201,201,201)" opacity="0.35"/>
<circle cx="394.7" cy="361.3" r="1.5" fill="rgb(184,184,184)" opacity="0.35"/>
<circle cx="427.8" cy="339.2" r="1.3" fill="rgb(188,188,188)" opacity="0.35"/>
<circle cx="430.1" cy="366.0" r="2.3" fill="rgb(166,166,166)" opacity="0.35"/>
<circle cx="383.9" cy="340.3" r="0.8" fill="rgb(194,194,194)" opacity="0.35"/>
<circle cx="434.9" cy="370.3" r="2.0" fill="rgb(187,187,187)" opacity="0.35"/>
<circle cx="413.7" cy="373.8" r="1.7" fill="rgb(191,191,191)" opacity="0.35"/>
<circle cx="402.8" cy="369.9" r="2.4" fill="rgb(189,189,189)" opacity="0.35"/>
<circle cx="437.6" cy="358.0" r="2.4" fill="rgb(195,195,195)" opacity="0.35"/>
<circle cx="388.1" cy="367.7" r="1.0" fill="rgb(178,178,178)" opacity="0.35"/>
<circle cx="402.0" cy="371.9" r="1.7" fill="rgb(205,205,205)" opacity="0.35"/>
<circle cx="440.0" cy="362.2" r="1.1" fill="rgb(202,202,202)" opacity="0.35"/>
<circle cx="399.1" cy="383.4" r="2.2" fill="rgb(191,191,191)" opacity="0.35"/>
<circle cx="412.4" cy="365.9" r="1.6" fill="rgb(162,162,162)" opacity="0.35"/>
<circle cx="426.6" cy="357.5" r="1.1" fill="rgb(202,202,202)" opacity="0.35"/>
<circle cx="415.0" cy="371.1" r="2.1" fill="rgb(203,203,203)" opacity="0.35"/>
<circle cx="387.3" cy="369.3" r="2.1" fill="rgb(166,166,166)" opacity="0.35"/>
<circle cx="413.3" cy="357.0" r="2.0" fill="rgb(191,191,191)" opacity="0.35"/>
<circle cx="410.2" cy="353.1" r="1.8" fill="rgb(199,199,199)" opacity="0.35"/>
<circle cx="405.7" cy="346.9" r="1.2" fill="rgb(192,192,192)" opacity="0.35"/>
<circle cx="382.8" cy="348.2" r="1.2" fill="rgb(195,195,195)" opacity="0.35"/>
<circle cx="412.9" cy="382.4" r="1.4" fill="rgb(196,196,196)" opacity="0.35"/>
<circle cx="436.6" cy="369.1" r="2.4" fill="rgb(198,198,198)" opacity="0.35"/>
<circle cx="382.4" cy="374.8" r="2.2" fill="rgb(192,192,192)" opacity="0.35"/>
<circle cx="413.2" cy="364.6" r="2.4" fill="rgb(187,187,187)" opacity="0.35"/>
<circle cx="410.9" cy="355.7" r="1.1" fill="rgb(195,195,195)" opacity="0.35"/>
<circle cx="412.3" cy="361.2" r="1.5" fill="rgb(182,182,182)" opacity="0.35"/>
<circle cx="382.2" cy="363.7" r="1.4" fill="rgb(199,199,199)" opacity="0.35"/>
<circle cx="418.0" cy="375.7" r="1.1" fill="rgb(200,200,200)" opacity="0.35"/>
<circle cx="417.1" cy="378.3" r="2.2" fill="rgb(195,195,195)" opacity="0.35"/>
<circle cx="431.0" cy="350.7" r="0.9" fill="rgb(203,203,203)" opacity="0.35"/>
<circle cx="434.1" cy="359.7" r="1.2" fill="rgb(177,177,177)" opacity="0.35"/>
<circle cx="388.7" cy="367.5" r="1.3" fill="rgb(182,182,182)" opacity="0.35"/>
<circle cx="392.1" cy="350.7" r="1.9" fill="rgb(170,170,170)" opacity="0.35"/>
<circle cx="420.9" cy="352.5" r="1.3" fill="rgb(204,204,204)" opacity="0.35"/>
<circle cx="410.5" cy="340.2" r="1.4" fill="rgb(184,184,184)" opacity="0.35"/>
<circle cx="429.8" cy="350.9" r="2.3" fill="rgb(176,176,176)" opacity="0.35"/>
<circle cx="412.7" cy="348.6" r="1.5" fill="rgb(198,198,198)" opacity="0.35"/>
<circle cx="440.5" cy="349.4" r="1.0" fill="rgb(185,185,185)" opacity="0.35"/>
<circle cx="425.2" cy="346.4" r="1.7" fill="rgb(205,205,205)" opacity="0.35"/>
<circle cx="407.7" cy="377.0" r="2.2" fill="rgb(200,200,200)" opacity="0.35"/>
<circle cx="413.0" cy="349.3" r="0.9" fill="rgb(201,201,201)" opacity="0.35"/>
<circle cx="422.5" cy="375.7" r="1.9" fill="rgb(202,202,202)" opacity="0.35"/>
<circle cx="385.6" cy="352.7" r="2.3" fill="rgb(173,173,173)" opacity="0.35"/>
<circle cx="400.5" cy="378.2" r="2.4" fill="rgb(179,179,179)" opacity="0.35"/>
<circle cx="399.9" cy="346.3" r="1.2" fill="rgb(196,196,196)" opacity="0.35"/>
<circle cx="382.6" cy="379.1" r="1.8" fill="rgb(162,162,162)" opacity="0.35"/>
<circle cx="395.1" cy="380.1" r="1.1" fill="rgb(189,189,189)" opacity="0.35"/>
<circle cx="434.1" cy="383.4" r="1.9" fill="rgb(205,205,205)" opacity="0.35"/>
<circle cx="384.3" cy="348.2" r="1.1" fill="rgb(166,166,166)" opacity="0.35"/>
<circle cx="422.5" cy="358.8" r="1.6" fill="rgb(172,172,172)" opacity="0.35"/>
<circle cx="438.3" cy="356.8" r="1.6" fill="rgb(192,192,192)" opacity="0.35"/>
<circle cx="401.6" cy="378.8" r="0.8" fill="rgb(178,178,178)" opacity="0.35"/>
<circle cx="394.1" cy="354.0" r="2.1" fill="rgb(196,196,196)" opacity="0.35"/>
<circle cx="402.4" cy="348.8" r="1.0" fill="rgb(203,203,203)" opacity="0.35"/>
<circle cx="404.8" cy="364.0" r="1.7" fill="rgb(203,203,203)" opacity="0.35"/>
<circle cx="428.1" cy="363.3" r="2.0" fill="rgb(164,164,164)" opacity="0.35"/>
<circle cx="387.2" cy="346.8" r="1.2" fill="rgb(194,194,194)" opacity="0.35"/>
<circle cx="427.6" cy="366.4" r="1.4" fill="rgb(176,176,176)" opacity="0.35"/>
<circle cx="402.5" cy="352.4" r="2.1" fill="rgb(198,198,198)" opacity="0.35"/>
<circle cx="424.9" cy="361.3" r="1.7" fill="rgb(197,197,197)" opacity="0.35"/>
<circle cx="388.3" cy="340.9" r="1.4" fill="rgb(164,164,164)" opacity="0.35"/>
<circle cx="441.5" cy="345.8" r="1.4" fill="rgb(168,168,168)" opacity="0.35"/>
<circle cx="418.9" cy="374.7" r="0.9" fill="rgb(184,184,184)" opacity="0.35"/>
<circle cx="415.1" cy="364.9" r="1.4" fill="rgb(177,177,177)" opacity="0.35"/>
<circle cx="399.8" cy="363.4" r="1.6" fill="rgb(167,167,167)" opacity="0.35"/>
<circle cx="398.7" cy="374.9" r="0.8" fill="rgb(178,178,178)" opacity="0.35"/>
<circle cx="422.3" cy="343.3" r="2.2" fill="rgb(167,167,167)" opacity="0.35"/>
<circle cx="429.4" cy="347.7" r="1.5" fill="rgb(197,197,197)" opacity="0.35"/>
<circle cx="389.0" cy="346.7" r="1.1" fill="rgb(175,175,175)" opacity="0.35"/>
<circle cx="432.7" cy="358.9" r="2.2" fill="rgb(184,184,184)" opacity="0.35"/>
<circle cx="414.6" cy="376.3" r="1.2" fill="rgb(195,195,195)" opacity="0.35"/>
<circle cx="410.7" cy="343.7" r="1.3" fill="rgb(201,201,201)" opacity="0.35"/>
<circle cx="383.7" cy="374.9" r="2.0" fill="rgb(178,178,178)" opacity="0.35"/>
<circle cx="401.3" cy="356.9" r="0.9" fill="rgb(185,185,185)" opacity="0.35"/>
<circle cx="436.8" cy="383.2" r="1.0" fill="rgb(189,189,189)" opacity="0.35"/>
<circle cx="395.0" cy="367.2" r="2.3" fill="rgb(194,194,194)" opacity="0.35"/>
<circle cx="410.2" cy="355.3" r="1.7" fill="rgb(171,171,171)" opacity="0.35"/>
<circle cx="400.5" cy="350.3" r="2.2" fill="rgb(165,165,165)" opacity="0.35"/>
<circle cx="387.5" cy="373.4" r="1.9" fill="rgb(165,165,165)" opacity="0.35"/>
<circle cx="420.6" cy="381.9" r="2.4" fill="rgb(184,184,184)" opacity="0.35"/>
<circle cx="384.6" cy="347.6" r="2.3" fill="rgb(197,197,197)" opacity="0.35"/>
<circle cx="400.2" cy="354.3" r="1.8" fill="rgb(194,194,194)" opacity="0.35"/>
<circle cx="430.5" cy="343.3" r="0.8" fill="rgb(174,174,174)" opacity="0.35"/>
<circle cx="396.7" cy="342.4" r="2.3" fill="rgb(195,195,195)" opacity="0.35"/>
<circle cx="425.8" cy="340.1" r="1.3" fill="rgb(160,160,160)" opacity="0.35"/>
<circle cx="429.6" cy="361.5" r="1.0" fill="rgb(169,169,169)" opacity="0.35"/>
<circle cx="428.7" cy="354.0" r="2.4" fill="rgb(192,192,192)" opacity="0.35"/>
<circle cx="392.5" cy="374.4" r="2.2" fill="rgb(169,169,169)" opacity="0.35"/>
</g>
<g filter="url(#bl5)">
<circle cx="386.84" cy="351.81" r="0.58" fill="rgb(53,53,53)" opacity="0.8"/>
<circle cx="383.71" cy="353.32" r="0.73" fill="rgb(69,69,69)" opacity="0.8"/>
<circle cx="384.52" cy="352.98" r="1.40" fill="rgb(60,60,60)" opacity="0.8"/>
<circle cx="382.90" cy="350.72" r="1.35" fill="rgb(82,82,82)" opacity="0.8"/>
<circle cx="382.73" cy="352.02" r="1.31" fill="rgb(67,67,67)" opacity="0.8"/>
<circle cx="385.48" cy="351.36" r="1.32" fill="rgb(70,70,70)" opacity="0.8"/>
<circle cx="382.23" cy="353.63" r="1.00" fill="rgb(60,60,60)" opacity="0.8"/>
<circle cx="384.43" cy="352.90" r="0.66" fill="rgb(70,70,70)" opacity="0.8"/>
<circle cx="382.84" cy="352.40" r="1.11" fill="rgb(82,82,82)" opacity="0.8"/>
<circle cx="385.42" cy="354.74" r="1.16" fill="rgb(76,76,76)" opacity="0.8"/>
<circle cx="386.29" cy="351.24" r="0.82" fill="rgb(87,87,87)" opacity="0.8"/>
<circle cx="386.93" cy="352.20" r="1.36" fill="rgb(60,60,60)" opacity="0.8"/>
<circle cx="382.59" cy="353.81" r="0.72" fill="rgb(83,83,83)" opacity="0.8"/>
<circle cx="384.07" cy="354.30" r="1.25" fill="rgb(82,82,82)" opacity="0.8"/>
</g>
<g filter="url(#bl5)">
<circle cx="394.67" cy="347.28" r="0.77" fill="rgb(73,73,73)" opacity="0.8"/>
<circle cx="393.70" cy="346.55" r="0.41" fill="rgb(88,88,88)" opacity="0.8"/>
<circle cx="394.92" cy="345.88" r="0.48" fill="rgb(64,64,64)" opacity="0.8"/>
<circle cx="394.42" cy="345.54" r="0.59" fill="rgb(85,85,85)" opacity="0.8"/>
<circle cx="394.30" cy="346.04" r="0.46" fill="rgb(90,90,90)" opacity="0.8"/>
</g>
<g filter="url(#bl5)">
<circle cx="395.23" cy="349.92" r="0.59" fill="rgb(75,75,75)" opacity="0.8"/>
<circle cx="395.32" cy="349.68" r="0.77" fill="rgb(85,85,85)" opacity="0.8"/>
<circle cx="395.47" cy="348.77" r="0.61" fill="rgb(64,64,64)" opacity="0.8"/>
<circle cx="394.64" cy="350.28" r="0.50" fill="rgb(56,56,56)" opacity="0.8"/>
</g>
<g filter="url(#bl5)">
<path d="M406.59,359.80 L404.37,362.54 L402.38,365.29 L398.69,365.68 L396.91,362.48 L394.88,359.80 L396.86,357.08 L399.30,355.81 L402.04,355.37 L405.19,356.47Z" fill="#a0a0a0" opacity="0.55" stroke-linejoin="round"/>
<circle cx="398.38" cy="357.64" r="1.12" fill="rgb(110,110,110)" opacity="0.8"/>
<circle cx="402.18" cy="357.36" r="0.53" fill="rgb(93,93,93)" opacity="0.8"/>
<circle cx="397.18" cy="360.55" r="0.55" fill="rgb(101,101,101)" opacity="0.8"/>
<circle cx="401.81" cy="361.63" r="0.84" fill="rgb(75,75,75)" opacity="0.8"/>
<circle cx="402.04" cy="360.87" r="0.70" fill="rgb(106,106,106)" opacity="0.8"/>
<circle cx="399.97" cy="363.19" r="0.85" fill="rgb(109,109,109)" opacity="0.8"/>
<circle cx="400.67" cy="358.84" r="1.06" fill="rgb(99,99,99)" opacity="0.8"/>
<circle cx="400.71" cy="359.91" r="0.69" fill="rgb(60,60,60)" opacity="0.8"/>
<circle cx="401.37" cy="363.28" r="0.76" fill="rgb(70,70,70)" opacity="0.8"/>
<circle cx="403.17" cy="359.17" r="1.06" fill="rgb(103,103,103)" opacity="0.8"/>
<circle cx="402.07" cy="363.02" r="1.37" fill="rgb(72,72,72)" opacity="0.8"/>
<circle cx="402.15" cy="358.58" r="0.87" fill="rgb(83,83,83)" opacity="0.8"/>
<circle cx="402.30" cy="359.07" r="0.77" fill="rgb(81,81,81)" opacity="0.8"/>
<circle cx="400.43" cy="359.67" r="1.14" fill="rgb(103,103,103)" opacity="0.8"/>
<circle cx="402.56" cy="360.66" r="0.93" fill="rgb(79,79,79)" opacity="0.8"/>
<circle cx="399.60" cy="362.09" r="0.66" fill="rgb(105,105,105)" opacity="0.8"/>
<circle cx="400.46" cy="363.29" r="0.82" fill="rgb(107,107,107)" opacity="0.8"/>
<circle cx="398.40" cy="361.31" r="0.83" fill="rgb(86,86,86)" opacity="0.8"/>
<circle cx="400.30" cy="359.64" r="1.14" fill="rgb(62,62,62)" opacity="0.8"/>
<circle cx="398.09" cy="357.33" r="1.18" fill="rgb(67,67,67)" opacity="0.8"/>
<circle cx="403.76" cy="358.31" r="0.96" fill="rgb(82,82,82)" opacity="0.8"/>
<circle cx="402.01" cy="358.67" r="0.60" fill="rgb(89,89,89)" opacity="0.8"/>
</g>
<ellipse cx="400.6" cy="359.8" rx="3.2" ry="3.0" fill="none" stroke="#505050" stroke-width="0.7" filter="url(#bl5)"/>
<g filter="url(#bl5)">
<path d="M421.90,359.40 L421.74,362.48 L419.43,365.33 L415.82,364.57 L413.46,362.34 L412.94,359.40 L414.16,356.97 L415.55,353.41 L419.26,354.00 L421.07,356.81Z" fill="#999" opacity="0.55" stroke-linejoin="round"/>
<circle cx="416.77" cy="360.86" r="0.57" fill="rgb(43,43,43)" opacity="0.8"/>
<circle cx="415.02" cy="358.83" r="1.32" fill="rgb(43,43,43)" opacity="0.8"/>
<circle cx="417.77" cy="360.60" r="0.56" fill="rgb(66,66,66)" opacity="0.8"/>
<circle cx="419.80" cy="360.88" r="0.61" fill="rgb(76,76,76)" opacity="0.8"/>
<circle cx="418.06" cy="362.68" r="1.02" fill="rgb(43,43,43)" opacity="0.8"/>
<circle cx="414.19" cy="361.91" r="1.00" fill="rgb(42,42,42)" opacity="0.8"/>
<circle cx="419.32" cy="361.42" r="0.61" fill="rgb(74,74,74)" opacity="0.8"/>
<circle cx="416.14" cy="362.94" r="0.59" fill="rgb(51,51,51)" opacity="0.8"/>
<circle cx="415.86" cy="358.61" r="0.99" fill="rgb(46,46,46)" opacity="0.8"/>
<circle cx="418.45" cy="359.79" r="0.95" fill="rgb(53,53,53)" opacity="0.8"/>
<circle cx="413.87" cy="358.67" r="1.03" fill="rgb(69,69,69)" opacity="0.8"/>
<circle cx="415.30" cy="360.07" r="1.13" fill="rgb(51,51,51)" opacity="0.8"/>
<circle cx="417.62" cy="362.58" r="0.95" fill="rgb(73,73,73)" opacity="0.8"/>
<circle cx="415.94" cy="361.74" r="1.38" fill="rgb(78,78,78)" opacity="0.8"/>
<circle cx="419.50" cy="361.23" r="0.64" fill="rgb(61,61,61)" opacity="0.8"/>
<circle cx="416.67" cy="359.46" r="1.19" fill="rgb(44,44,44)" opacity="0.8"/>
<circle cx="413.98" cy="357.66" r="0.81" fill="rgb(60,60,60)" opacity="0.8"/>
<circle cx="415.76" cy="361.79" r="0.56" fill="rgb(69,69,69)" opacity="0.8"/>
<circle cx="419.32" cy="360.61" r="0.55" fill="rgb(44,44,44)" opacity="0.8"/>
<circle cx="416.49" cy="356.18" r="0.76" fill="rgb(68,68,68)" opacity="0.8"/>
<circle cx="414.91" cy="361.66" r="1.35" fill="rgb(41,41,41)" opacity="0.8"/>
<circle cx="415.48" cy="361.99" r="0.55" fill="rgb(71,71,71)" opacity="0.8"/>
<circle cx="417.67" cy="357.90" r="0.86" fill="rgb(55,55,55)" opacity="0.8"/>
<circle cx="420.06" cy="357.92" r="0.90" fill="rgb(50,50,50)" opacity="0.8"/>
<circle cx="413.74" cy="358.19" r="1.28" fill="rgb(67,67,67)" opacity="0.8"/>
<circle cx="417.02" cy="362.06" r="1.11" fill="rgb(62,62,62)" opacity="0.8"/>
<circle cx="416.03" cy="360.78" r="0.66" fill="rgb(45,45,45)" opacity="0.8"/>
<circle cx="417.73" cy="361.42" r="1.25" fill="rgb(71,71,71)" opacity="0.8"/>
<circle cx="418.42" cy="361.43" r="0.88" fill="rgb(49,49,49)" opacity="0.8"/>
<circle cx="415.35" cy="361.71" r="1.12" fill="rgb(48,48,48)" opacity="0.8"/>
</g>
<g filter="url(#bl5)">
<circle cx="413.91" cy="367.94" r="0.67" fill="rgb(58,58,58)" opacity="0.8"/>
<circle cx="414.38" cy="366.02" r="0.69" fill="rgb(82,82,82)" opacity="0.8"/>
<circle cx="412.66" cy="364.64" r="0.85" fill="rgb(79,79,79)" opacity="0.8"/>
<circle cx="411.73" cy="364.88" r="0.58" fill="rgb(75,75,75)" opacity="0.8"/>
<circle cx="413.63" cy="366.11" r="0.97" fill="rgb(67,67,67)" opacity="0.8"/>
<circle cx="411.53" cy="366.14" r="1.10" fill="rgb(57,57,57)" opacity="0.8"/>
<circle cx="415.23" cy="366.94" r="1.06" fill="rgb(74,74,74)" opacity="0.8"/>
<circle cx="412.32" cy="367.05" r="0.71" fill="rgb(71,71,71)" opacity="0.8"/>
<circle cx="415.39" cy="366.88" r="1.31" fill="rgb(83,83,83)" opacity="0.8"/>
<circle cx="412.88" cy="365.39" r="0.99" fill="rgb(54,54,54)" opacity="0.8"/>
</g>
<g filter="url(#bl5)">
<path d="M426.33,365.00 L425.96,367.15 L424.18,368.64 L422.07,367.85 L419.97,367.20 L418.41,365.00 L419.88,362.73 L421.83,361.41 L424.32,360.93 L425.95,362.86Z" fill="#a6a6a6" opacity="0.55" stroke-linejoin="round"/>
<circle cx="420.98" cy="365.48" r="0.67" fill="rgb(134,134,134)" opacity="0.8"/>
<circle cx="422.12" cy="363.23" r="1.31" fill="rgb(144,144,144)" opacity="0.8"/>
<circle cx="425.21" cy="366.23" r="1.13" fill="rgb(149,149,149)" opacity="0.8"/>
<circle cx="422.81" cy="363.61" r="0.91" fill="rgb(160,160,160)" opacity="0.8"/>
<circle cx="422.79" cy="363.67" r="0.55" fill="rgb(137,137,137)" opacity="0.8"/>
<circle cx="425.14" cy="367.35" r="0.56" fill="rgb(148,148,148)" opacity="0.8"/>
<circle cx="421.86" cy="362.20" r="0.59" fill="rgb(158,158,158)" opacity="0.8"/>
<circle cx="422.29" cy="367.70" r="1.21" fill="rgb(153,153,153)" opacity="0.8"/>
<circle cx="425.30" cy="363.09" r="0.69" fill="rgb(159,159,159)" opacity="0.8"/>
<circle cx="422.40" cy="368.00" r="1.14" fill="rgb(136,136,136)" opacity="0.8"/>
<circle cx="425.18" cy="365.07" r="0.84" fill="rgb(158,158,158)" opacity="0.8"/>
<circle cx="422.48" cy="365.03" r="1.16" fill="rgb(143,143,143)" opacity="0.8"/>
</g>
<g filter="url(#bl5)">
<path d="M442.20,360.30 L439.59,363.49 L437.26,366.65 L433.65,365.08 L430.59,363.65 L430.10,360.30 L430.45,356.85 L433.80,355.99 L436.90,355.06 L439.42,357.23Z" fill="#a0a0a0" opacity="0.55" stroke-linejoin="round"/>
<circle cx="432.25" cy="358.88" r="0.51" fill="rgb(81,81,81)" opacity="0.8"/>
<circle cx="431.79" cy="361.12" r="1.09" fill="rgb(62,62,62)" opacity="0.8"/>
<circle cx="437.13" cy="363.35" r="0.57" fill="rgb(65,65,65)" opacity="0.8"/>
<circle cx="439.33" cy="359.03" r="0.54" fill="rgb(68,68,68)" opacity="0.8"/>
<circle cx="437.68" cy="357.31" r="0.88" fill="rgb(69,69,69)" opacity="0.8"/>
<circle cx="436.39" cy="358.03" r="1.12" fill="rgb(56,56,56)" opacity="0.8"/>
<circle cx="434.24" cy="358.75" r="1.27" fill="rgb(94,94,94)" opacity="0.8"/>
<circle cx="435.42" cy="363.61" r="0.54" fill="rgb(69,69,69)" opacity="0.8"/>
<circle cx="437.03" cy="360.35" r="0.98" fill="rgb(64,64,64)" opacity="0.8"/>
<circle cx="435.54" cy="357.87" r="0.99" fill="rgb(87,87,87)" opacity="0.8"/>
<circle cx="434.03" cy="360.80" r="0.79" fill="rgb(82,82,82)" opacity="0.8"/>
<circle cx="430.61" cy="360.24" r="0.71" fill="rgb(71,71,71)" opacity="0.8"/>
<circle cx="437.89" cy="360.84" r="1.09" fill="rgb(83,83,83)" opacity="0.8"/>
<circle cx="430.68" cy="359.33" r="0.85" fill="rgb(54,54,54)" opacity="0.8"/>
<circle cx="439.70" cy="358.70" r="0.60" fill="rgb(54,54,54)" opacity="0.8"/>
<circle cx="435.45" cy="358.77" r="1.38" fill="rgb(55,55,55)" opacity="0.8"/>
<circle cx="436.27" cy="363.05" r="0.90" fill="rgb(71,71,71)" opacity="0.8"/>
<circle cx="434.40" cy="358.58" r="0.66" fill="rgb(78,78,78)" opacity="0.8"/>
<circle cx="437.67" cy="362.60" r="1.09" fill="rgb(55,55,55)" opacity="0.8"/>
<circle cx="437.16" cy="359.57" r="0.93" fill="rgb(56,56,56)" opacity="0.8"/>
<circle cx="433.30" cy="363.00" r="0.99" fill="rgb(45,45,45)" opacity="0.8"/>
<circle cx="439.76" cy="361.58" r="0.57" fill="rgb(60,60,60)" opacity="0.8"/>
<circle cx="431.58" cy="361.52" r="1.33" fill="rgb(69,69,69)" opacity="0.8"/>
<circle cx="430.48" cy="360.43" r="0.97" fill="rgb(92,92,92)" opacity="0.8"/>
<circle cx="438.25" cy="358.38" r="0.95" fill="rgb(83,83,83)" opacity="0.8"/>
<circle cx="437.26" cy="363.85" r="0.62" fill="rgb(70,70,70)" opacity="0.8"/>
<circle cx="432.34" cy="359.54" r="0.94" fill="rgb(69,69,69)" opacity="0.8"/>
<circle cx="436.88" cy="363.17" r="1.25" fill="rgb(71,71,71)" opacity="0.8"/>
<circle cx="437.50" cy="357.92" r="0.55" fill="rgb(49,49,49)" opacity="0.8"/>
<circle cx="436.58" cy="361.21" r="1.25" fill="rgb(74,74,74)" opacity="0.8"/>
<circle cx="435.77" cy="358.52" r="1.20" fill="rgb(72,72,72)" opacity="0.8"/>
<circle cx="437.79" cy="358.93" r="1.31" fill="rgb(61,61,61)" opacity="0.8"/>
<circle cx="434.15" cy="357.22" r="0.97" fill="rgb(86,86,86)" opacity="0.8"/>
<circle cx="430.95" cy="359.67" r="1.06" fill="rgb(65,65,65)" opacity="0.8"/>
<circle cx="433.65" cy="356.60" r="1.02" fill="rgb(82,82,82)" opacity="0.8"/>
<circle cx="434.65" cy="359.73" r="1.37" fill="rgb(52,52,52)" opacity="0.8"/>
<circle cx="430.94" cy="362.13" r="0.76" fill="rgb(90,90,90)" opacity="0.8"/>
<circle cx="438.47" cy="362.35" r="1.19" fill="rgb(80,80,80)" opacity="0.8"/>
<circle cx="440.02" cy="359.14" r="0.65" fill="rgb(63,63,63)" opacity="0.8"/>
<circle cx="432.23" cy="360.73" r="1.33" fill="rgb(70,70,70)" opacity="0.8"/>
</g>
<ellipse cx="432.5" cy="352.3" rx="1.3" ry="1.6" fill="#dedede" stroke="#555" stroke-width="0.6" filter="url(#bl5)"/>
<g filter="url(#bl5)">
<circle cx="386.50" cy="358.82" r="0.81" fill="rgb(141,141,141)" opacity="0.8"/>
<circle cx="386.66" cy="360.19" r="0.75" fill="rgb(135,135,135)" opacity="0.8"/>
<circle cx="389.27" cy="356.57" r="0.70" fill="rgb(139,139,139)" opacity="0.8"/>
<circle cx="390.48" cy="358.52" r="0.83" fill="rgb(134,134,134)" opacity="0.8"/>
<circle cx="387.89" cy="359.47" r="1.24" fill="rgb(138,138,138)" opacity="0.8"/>
<circle cx="390.35" cy="359.44" r="1.11" fill="rgb(130,130,130)" opacity="0.8"/>
<circle cx="388.72" cy="357.79" r="0.55" fill="rgb(149,149,149)" opacity="0.8"/>
<circle cx="390.04" cy="357.59" r="1.39" fill="rgb(122,122,122)" opacity="0.8"/>
</g>
<g filter="url(#bl5)">
<circle cx="419.44" cy="373.87" r="1.22" fill="rgb(131,131,131)" opacity="0.8"/>
<circle cx="420.31" cy="372.13" r="0.63" fill="rgb(131,131,131)" opacity="0.8"/>
<circle cx="419.67" cy="373.90" r="0.56" fill="rgb(114,114,114)" opacity="0.8"/>
<circle cx="420.14" cy="371.88" r="0.89" fill="rgb(110,110,110)" opacity="0.8"/>
</g>
<rect x="418.1" y="379.2" width="21.9" height="1.9" fill="#fff"/>
</g>
<g clip-path="url(#p2)">
<defs><linearGradient id="pg21" x1="0" y1="0" x2="0" y2="1"><stop offset="0" stop-color="#bbbbbb"/><stop offset="1" stop-color="#b0b0b0"/></linearGradient></defs>
<rect x="443.7" y="339.1" width="32.1" height="45.5" fill="url(#pg21)"/>
<g filter="url(#bl9)">
<circle cx="449.0" cy="370.5" r="1.3" fill="rgb(200,200,200)" opacity="0.35"/>
<circle cx="470.8" cy="384.1" r="2.2" fill="rgb(190,190,190)" opacity="0.35"/>
<circle cx="460.1" cy="362.1" r="2.1" fill="rgb(175,175,175)" opacity="0.35"/>
<circle cx="444.2" cy="381.5" r="0.9" fill="rgb(187,187,187)" opacity="0.35"/>
<circle cx="469.2" cy="349.7" r="2.0" fill="rgb(174,174,174)" opacity="0.35"/>
<circle cx="457.7" cy="384.4" r="1.8" fill="rgb(186,186,186)" opacity="0.35"/>
<circle cx="444.8" cy="354.1" r="2.0" fill="rgb(191,191,191)" opacity="0.35"/>
<circle cx="464.5" cy="381.8" r="1.1" fill="rgb(161,161,161)" opacity="0.35"/>
<circle cx="469.9" cy="344.8" r="1.6" fill="rgb(161,161,161)" opacity="0.35"/>
<circle cx="461.4" cy="354.7" r="1.1" fill="rgb(191,191,191)" opacity="0.35"/>
<circle cx="465.0" cy="360.5" r="0.9" fill="rgb(175,175,175)" opacity="0.35"/>
<circle cx="450.0" cy="369.8" r="2.1" fill="rgb(202,202,202)" opacity="0.35"/>
<circle cx="468.2" cy="365.5" r="1.0" fill="rgb(164,164,164)" opacity="0.35"/>
<circle cx="459.0" cy="376.7" r="1.4" fill="rgb(172,172,172)" opacity="0.35"/>
<circle cx="448.4" cy="363.5" r="1.4" fill="rgb(178,178,178)" opacity="0.35"/>
<circle cx="458.2" cy="356.7" r="1.5" fill="rgb(191,191,191)" opacity="0.35"/>
<circle cx="444.6" cy="343.3" r="2.0" fill="rgb(205,205,205)" opacity="0.35"/>
<circle cx="475.2" cy="339.2" r="1.7" fill="rgb(164,164,164)" opacity="0.35"/>
<circle cx="467.7" cy="349.2" r="1.3" fill="rgb(198,198,198)" opacity="0.35"/>
<circle cx="475.2" cy="344.2" r="1.1" fill="rgb(202,202,202)" opacity="0.35"/>
<circle cx="454.9" cy="381.3" r="2.1" fill="rgb(182,182,182)" opacity="0.35"/>
<circle cx="473.5" cy="350.3" r="0.9" fill="rgb(170,170,170)" opacity="0.35"/>
<circle cx="469.8" cy="374.5" r="1.1" fill="rgb(183,183,183)" opacity="0.35"/>
<circle cx="444.9" cy="362.7" r="2.4" fill="rgb(202,202,202)" opacity="0.35"/>
<circle cx="456.8" cy="384.1" r="0.8" fill="rgb(197,197,197)" opacity="0.35"/>
<circle cx="454.8" cy="362.1" r="1.2" fill="rgb(202,202,202)" opacity="0.35"/>
<circle cx="471.8" cy="346.5" r="1.5" fill="rgb(164,164,164)" opacity="0.35"/>
<circle cx="456.8" cy="372.8" r="2.2" fill="rgb(163,163,163)" opacity="0.35"/>
<circle cx="445.4" cy="350.8" r="0.9" fill="rgb(178,178,178)" opacity="0.35"/>
<circle cx="451.7" cy="357.1" r="1.9" fill="rgb(181,181,181)" opacity="0.35"/>
<circle cx="448.4" cy="346.0" r="0.9" fill="rgb(190,190,190)" opacity="0.35"/>
<circle cx="448.2" cy="368.7" r="0.8" fill="rgb(190,190,190)" opacity="0.35"/>
<circle cx="450.5" cy="377.2" r="2.3" fill="rgb(169,169,169)" opacity="0.35"/>
<circle cx="463.0" cy="358.5" r="2.3" fill="rgb(197,197,197)" opacity="0.35"/>
<circle cx="459.0" cy="345.4" r="1.3" fill="rgb(197,197,197)" opacity="0.35"/>
<circle cx="468.4" cy="339.6" r="1.0" fill="rgb(203,203,203)" opacity="0.35"/>
<circle cx="466.7" cy="351.1" r="1.9" fill="rgb(180,180,180)" opacity="0.35"/>
<circle cx="471.0" cy="365.7" r="2.0" fill="rgb(176,176,176)" opacity="0.35"/>
<circle cx="467.8" cy="376.1" r="1.0" fill="rgb(168,168,168)" opacity="0.35"/>
<circle cx="446.7" cy="343.4" r="1.9" fill="rgb(161,161,161)" opacity="0.35"/>
<circle cx="468.9" cy="342.4" r="1.9" fill="rgb(167,167,167)" opacity="0.35"/>
<circle cx="447.8" cy="363.6" r="1.5" fill="rgb(180,180,180)" opacity="0.35"/>
<circle cx="472.2" cy="367.4" r="1.1" fill="rgb(171,171,171)" opacity="0.35"/>
<circle cx="455.8" cy="371.4" r="2.1" fill="rgb(195,195,195)" opacity="0.35"/>
<circle cx="463.1" cy="362.1" r="2.1" fill="rgb(163,163,163)" opacity="0.35"/>
<circle cx="444.0" cy="360.2" r="1.5" fill="rgb(164,164,164)" opacity="0.35"/>
<circle cx="461.9" cy="378.0" r="1.2" fill="rgb(174,174,174)" opacity="0.35"/>
<circle cx="466.1" cy="353.4" r="1.2" fill="rgb(162,162,162)" opacity="0.35"/>
</g>
<g filter="url(#bl5)">
<path d="M471.67,355.50 L470.16,361.43 L464.68,363.74 L458.39,366.62 L453.32,361.80 L451.12,355.50 L454.38,349.96 L458.53,344.82 L465.32,345.28 L470.14,349.58Z" fill="#8c8c8c" opacity="0.55" stroke-linejoin="round"/>
<circle cx="464.68" cy="354.78" r="1.40" fill="rgb(41,41,41)" opacity="0.8"/>
<circle cx="456.14" cy="357.52" r="1.74" fill="rgb(81,81,81)" opacity="0.8"/>
<circle cx="462.55" cy="353.49" r="1.85" fill="rgb(57,57,57)" opacity="0.8"/>
<circle cx="459.57" cy="360.70" r="1.49" fill="rgb(75,75,75)" opacity="0.8"/>
<circle cx="467.53" cy="352.63" r="1.35" fill="rgb(43,43,43)" opacity="0.8"/>
<circle cx="465.77" cy="356.01" r="0.85" fill="rgb(66,66,66)" opacity="0.8"/>
<circle cx="465.32" cy="350.93" r="0.68" fill="rgb(76,76,76)" opacity="0.8"/>
<circle cx="460.02" cy="359.30" r="1.84" fill="rgb(51,51,51)" opacity="0.8"/>
<circle cx="459.50" cy="361.54" r="1.27" fill="rgb(81,81,81)" opacity="0.8"/>
<circle cx="461.29" cy="359.28" r="0.84" fill="rgb(84,84,84)" opacity="0.8"/>
<circle cx="467.14" cy="357.14" r="1.15" fill="rgb(42,42,42)" opacity="0.8"/>
<circle cx="461.96" cy="359.45" r="1.12" fill="rgb(66,66,66)" opacity="0.8"/>
<circle cx="464.83" cy="354.05" r="1.09" fill="rgb(76,76,76)" opacity="0.8"/>
<circle cx="458.50" cy="353.50" r="1.33" fill="rgb(78,78,78)" opacity="0.8"/>
<circle cx="455.65" cy="354.41" r="1.16" fill="rgb(73,73,73)" opacity="0.8"/>
<circle cx="466.15" cy="358.16" r="1.16" fill="rgb(46,46,46)" opacity="0.8"/>
<circle cx="456.16" cy="359.59" r="1.27" fill="rgb(52,52,52)" opacity="0.8"/>
<circle cx="460.13" cy="356.84" r="0.82" fill="rgb(52,52,52)" opacity="0.8"/>
<circle cx="457.81" cy="354.24" r="1.78" fill="rgb(61,61,61)" opacity="0.8"/>
<circle cx="458.62" cy="351.92" r="1.30" fill="rgb(44,44,44)" opacity="0.8"/>
<circle cx="463.69" cy="349.79" r="1.45" fill="rgb(52,52,52)" opacity="0.8"/>
<circle cx="464.63" cy="357.44" r="1.68" fill="rgb(47,47,47)" opacity="0.8"/>
<circle cx="466.42" cy="353.11" r="1.25" fill="rgb(47,47,47)" opacity="0.8"/>
<circle cx="456.41" cy="354.65" r="1.57" fill="rgb(83,83,83)" opacity="0.8"/>
<circle cx="455.78" cy="356.56" r="1.53" fill="rgb(81,81,81)" opacity="0.8"/>
<circle cx="464.36" cy="354.81" r="0.94" fill="rgb(78,78,78)" opacity="0.8"/>
<circle cx="464.34" cy="357.68" r="1.42" fill="rgb(62,62,62)" opacity="0.8"/>
<circle cx="460.35" cy="358.08" r="1.38" fill="rgb(84,84,84)" opacity="0.8"/>
<circle cx="461.04" cy="352.54" r="1.86" fill="rgb(44,44,44)" opacity="0.8"/>
<circle cx="460.48" cy="357.54" r="1.29" fill="rgb(53,53,53)" opacity="0.8"/>
<circle cx="460.08" cy="355.66" r="0.96" fill="rgb(41,41,41)" opacity="0.8"/>
<circle cx="466.15" cy="358.41" r="1.12" fill="rgb(53,53,53)" opacity="0.8"/>
<circle cx="467.21" cy="360.25" r="1.68" fill="rgb(73,73,73)" opacity="0.8"/>
<circle cx="466.42" cy="356.58" r="0.64" fill="rgb(79,79,79)" opacity="0.8"/>
<circle cx="463.50" cy="360.46" r="0.66" fill="rgb(64,64,64)" opacity="0.8"/>
<circle cx="460.20" cy="351.06" r="0.92" fill="rgb(56,56,56)" opacity="0.8"/>
<circle cx="462.46" cy="359.29" r="1.81" fill="rgb(44,44,44)" opacity="0.8"/>
<circle cx="459.14" cy="354.24" r="1.01" fill="rgb(81,81,81)" opacity="0.8"/>
<circle cx="464.89" cy="356.05" r="0.65" fill="rgb(57,57,57)" opacity="0.8"/>
<circle cx="460.73" cy="355.61" r="0.88" fill="rgb(40,40,40)" opacity="0.8"/>
<circle cx="463.88" cy="350.89" r="0.90" fill="rgb(82,82,82)" opacity="0.8"/>
<circle cx="459.30" cy="354.90" r="0.94" fill="rgb(61,61,61)" opacity="0.8"/>
<circle cx="468.04" cy="354.39" r="1.09" fill="rgb(84,84,84)" opacity="0.8"/>
<circle cx="460.03" cy="353.11" r="1.32" fill="rgb(79,79,79)" opacity="0.8"/>
<circle cx="457.59" cy="360.70" r="0.94" fill="rgb(72,72,72)" opacity="0.8"/>
<circle cx="461.69" cy="360.85" r="1.69" fill="rgb(62,62,62)" opacity="0.8"/>
<circle cx="455.84" cy="355.12" r="1.87" fill="rgb(48,48,48)" opacity="0.8"/>
<circle cx="463.72" cy="359.89" r="1.10" fill="rgb(44,44,44)" opacity="0.8"/>
<circle cx="460.18" cy="352.79" r="0.71" fill="rgb(50,50,50)" opacity="0.8"/>
<circle cx="465.78" cy="353.45" r="1.27" fill="rgb(43,43,43)" opacity="0.8"/>
<circle cx="464.84" cy="354.95" r="1.07" fill="rgb(75,75,75)" opacity="0.8"/>
<circle cx="462.18" cy="355.45" r="1.60" fill="rgb(60,60,60)" opacity="0.8"/>
<circle cx="469.14" cy="356.49" r="0.67" fill="rgb(83,83,83)" opacity="0.8"/>
<circle cx="460.73" cy="354.10" r="0.69" fill="rgb(76,76,76)" opacity="0.8"/>
<circle cx="464.29" cy="360.23" r="1.78" fill="rgb(60,60,60)" opacity="0.8"/>
<circle cx="457.03" cy="358.57" r="1.03" fill="rgb(75,75,75)" opacity="0.8"/>
<circle cx="469.06" cy="354.18" r="1.77" fill="rgb(43,43,43)" opacity="0.8"/>
<circle cx="463.88" cy="349.83" r="1.48" fill="rgb(60,60,60)" opacity="0.8"/>
<circle cx="465.64" cy="355.58" r="1.80" fill="rgb(47,47,47)" opacity="0.8"/>
<circle cx="461.66" cy="356.59" r="0.75" fill="rgb(60,60,60)" opacity="0.8"/>
<circle cx="467.60" cy="351.79" r="0.81" fill="rgb(51,51,51)" opacity="0.8"/>
<circle cx="461.00" cy="360.04" r="1.66" fill="rgb(48,48,48)" opacity="0.8"/>
<circle cx="460.10" cy="360.60" r="1.85" fill="rgb(79,79,79)" opacity="0.8"/>
<circle cx="460.95" cy="356.55" r="1.27" fill="rgb(57,57,57)" opacity="0.8"/>
<circle cx="462.54" cy="358.09" r="1.58" fill="rgb(55,55,55)" opacity="0.8"/>
<circle cx="457.37" cy="353.79" r="1.89" fill="rgb(56,56,56)" opacity="0.8"/>
<circle cx="463.06" cy="353.25" r="1.02" fill="rgb(70,70,70)" opacity="0.8"/>
<circle cx="464.28" cy="359.43" r="1.04" fill="rgb(83,83,83)" opacity="0.8"/>
<circle cx="456.82" cy="360.32" r="1.76" fill="rgb(77,77,77)" opacity="0.8"/>
<circle cx="457.03" cy="357.69" r="1.49" fill="rgb(65,65,65)" opacity="0.8"/>
<circle cx="464.16" cy="349.84" r="0.87" fill="rgb(63,63,63)" opacity="0.8"/>
<circle cx="459.27" cy="348.88" r="0.80" fill="rgb(47,47,47)" opacity="0.8"/>
<circle cx="455.75" cy="357.39" r="1.33" fill="rgb(53,53,53)" opacity="0.8"/>
<circle cx="462.98" cy="351.80" r="0.63" fill="rgb(48,48,48)" opacity="0.8"/>
<circle cx="466.97" cy="352.79" r="1.30" fill="rgb(59,59,59)" opacity="0.8"/>
<circle cx="459.18" cy="353.80" r="1.56" fill="rgb(61,61,61)" opacity="0.8"/>
<circle cx="456.06" cy="357.47" r="1.47" fill="rgb(65,65,65)" opacity="0.8"/>
<circle cx="455.69" cy="357.50" r="0.94" fill="rgb(67,67,67)" opacity="0.8"/>
<circle cx="466.44" cy="350.69" r="1.44" fill="rgb(54,54,54)" opacity="0.8"/>
<circle cx="461.49" cy="359.46" r="1.38" fill="rgb(42,42,42)" opacity="0.8"/>
</g>
<g filter="url(#bl5)">
<circle cx="458.54" cy="350.45" r="0.52" fill="rgb(45,45,45)" opacity="0.8"/>
<circle cx="454.75" cy="354.02" r="0.62" fill="rgb(62,62,62)" opacity="0.8"/>
<circle cx="456.33" cy="354.18" r="1.06" fill="rgb(54,54,54)" opacity="0.8"/>
<circle cx="456.43" cy="351.34" r="0.88" fill="rgb(71,71,71)" opacity="0.8"/>
<circle cx="452.51" cy="351.76" r="1.19" fill="rgb(62,62,62)" opacity="0.8"/>
<circle cx="455.68" cy="352.63" r="1.09" fill="rgb(63,63,63)" opacity="0.8"/>
<circle cx="453.00" cy="349.62" r="1.01" fill="rgb(63,63,63)" opacity="0.8"/>
<circle cx="457.70" cy="349.35" r="1.09" fill="rgb(58,58,58)" opacity="0.8"/>
<circle cx="455.10" cy="352.94" r="0.66" fill="rgb(70,70,70)" opacity="0.8"/>
<circle cx="452.40" cy="352.33" r="0.66" fill="rgb(50,50,50)" opacity="0.8"/>
<circle cx="456.36" cy="353.79" r="0.68" fill="rgb(73,73,73)" opacity="0.8"/>
<circle cx="456.33" cy="352.72" r="1.01" fill="rgb(42,42,42)" opacity="0.8"/>
<circle cx="457.22" cy="351.32" r="0.80" fill="rgb(77,77,77)" opacity="0.8"/>
<circle cx="454.22" cy="353.37" r="1.31" fill="rgb(59,59,59)" opacity="0.8"/>
<circle cx="453.93" cy="352.46" r="0.60" fill="rgb(49,49,49)" opacity="0.8"/>
</g>
<g filter="url(#bl5)">
<path d="M458.19,369.40 L455.97,372.72 L452.83,373.80 L449.30,375.87 L447.12,372.51 L445.09,369.40 L447.98,366.92 L449.98,365.03 L453.50,362.92 L456.57,365.64Z" fill="#9a9a9a" opacity="0.55" stroke-linejoin="round"/>
<circle cx="450.41" cy="365.30" r="0.70" fill="rgb(81,81,81)" opacity="0.8"/>
<circle cx="452.34" cy="371.04" r="0.58" fill="rgb(113,113,113)" opacity="0.8"/>
<circle cx="451.49" cy="367.61" r="0.76" fill="rgb(115,115,115)" opacity="0.8"/>
<circle cx="451.86" cy="369.16" r="1.28" fill="rgb(99,99,99)" opacity="0.8"/>
<circle cx="452.96" cy="369.28" r="0.65" fill="rgb(103,103,103)" opacity="0.8"/>
<circle cx="447.18" cy="369.63" r="0.77" fill="rgb(113,113,113)" opacity="0.8"/>
<circle cx="452.68" cy="369.01" r="0.73" fill="rgb(118,118,118)" opacity="0.8"/>
<circle cx="448.50" cy="366.95" r="0.57" fill="rgb(89,89,89)" opacity="0.8"/>
<circle cx="449.18" cy="366.39" r="1.33" fill="rgb(72,72,72)" opacity="0.8"/>
<circle cx="449.64" cy="373.38" r="0.78" fill="rgb(74,74,74)" opacity="0.8"/>
<circle cx="451.49" cy="372.95" r="1.24" fill="rgb(79,79,79)" opacity="0.8"/>
<circle cx="455.66" cy="369.19" r="1.01" fill="rgb(87,87,87)" opacity="0.8"/>
<circle cx="451.09" cy="371.42" r="0.94" fill="rgb(106,106,106)" opacity="0.8"/>
<circle cx="452.38" cy="370.83" r="0.68" fill="rgb(100,100,100)" opacity="0.8"/>
<circle cx="448.17" cy="366.92" r="0.95" fill="rgb(100,100,100)" opacity="0.8"/>
<circle cx="455.42" cy="369.33" r="1.22" fill="rgb(104,104,104)" opacity="0.8"/>
<circle cx="452.87" cy="370.26" r="1.08" fill="rgb(90,90,90)" opacity="0.8"/>
<circle cx="449.69" cy="367.09" r="0.78" fill="rgb(120,120,120)" opacity="0.8"/>
<circle cx="453.93" cy="370.52" r="0.73" fill="rgb(90,90,90)" opacity="0.8"/>
<circle cx="452.77" cy="372.60" r="0.81" fill="rgb(97,97,97)" opacity="0.8"/>
<circle cx="454.70" cy="366.53" r="0.55" fill="rgb(72,72,72)" opacity="0.8"/>
<circle cx="448.95" cy="370.18" r="1.21" fill="rgb(98,98,98)" opacity="0.8"/>
<circle cx="452.51" cy="370.10" r="1.14" fill="rgb(90,90,90)" opacity="0.8"/>
<circle cx="452.67" cy="366.27" r="0.97" fill="rgb(106,106,106)" opacity="0.8"/>
<circle cx="453.88" cy="366.00" r="0.77" fill="rgb(88,88,88)" opacity="0.8"/>
<circle cx="450.67" cy="371.97" r="1.22" fill="rgb(74,74,74)" opacity="0.8"/>
<circle cx="451.02" cy="368.93" r="1.33" fill="rgb(86,86,86)" opacity="0.8"/>
<circle cx="455.08" cy="369.76" r="1.07" fill="rgb(95,95,95)" opacity="0.8"/>
<circle cx="453.37" cy="368.06" r="1.11" fill="rgb(94,94,94)" opacity="0.8"/>
<circle cx="448.43" cy="372.50" r="0.86" fill="rgb(70,70,70)" opacity="0.8"/>
</g>
<path d="M448.5,366.5 L450.5,366 L450,371.5 L448.2,371" fill="#f4f4f4" filter="url(#bl5)"/>
<ellipse cx="451.4" cy="369.2" rx="4.0" ry="3.6" fill="none" stroke="#3a3a3a" stroke-width="0.6" filter="url(#bl5)"/>
<g filter="url(#bl5)">
<circle cx="466.47" cy="369.20" r="0.89" fill="rgb(126,126,126)" opacity="0.8"/>
<circle cx="465.12" cy="370.61" r="1.19" fill="rgb(150,150,150)" opacity="0.8"/>
<circle cx="469.69" cy="371.86" r="0.65" fill="rgb(136,136,136)" opacity="0.8"/>
<circle cx="464.72" cy="371.84" r="0.87" fill="rgb(143,143,143)" opacity="0.8"/>
<circle cx="468.48" cy="368.06" r="0.53" fill="rgb(147,147,147)" opacity="0.8"/>
<circle cx="468.24" cy="370.28" r="0.69" fill="rgb(124,124,124)" opacity="0.8"/>
<circle cx="463.02" cy="371.37" r="0.83" fill="rgb(132,132,132)" opacity="0.8"/>
<circle cx="466.83" cy="370.38" r="1.16" fill="rgb(150,150,150)" opacity="0.8"/>
<circle cx="468.14" cy="368.57" r="0.54" fill="rgb(136,136,136)" opacity="0.8"/>
<circle cx="469.60" cy="371.15" r="0.78" fill="rgb(137,137,137)" opacity="0.8"/>
</g>
<g filter="url(#bl5)">
<circle cx="448.00" cy="377.48" r="0.76" fill="rgb(160,160,160)" opacity="0.8"/>
<circle cx="450.85" cy="380.18" r="0.80" fill="rgb(147,147,147)" opacity="0.8"/>
<circle cx="447.62" cy="381.45" r="0.72" fill="rgb(135,135,135)" opacity="0.8"/>
<circle cx="449.67" cy="382.21" r="1.33" fill="rgb(153,153,153)" opacity="0.8"/>
<circle cx="448.75" cy="379.13" r="0.88" fill="rgb(156,156,156)" opacity="0.8"/>
<circle cx="448.90" cy="379.84" r="1.39" fill="rgb(144,144,144)" opacity="0.8"/>
<circle cx="452.45" cy="379.72" r="0.93" fill="rgb(150,150,150)" opacity="0.8"/>
<circle cx="451.39" cy="381.71" r="1.09" fill="rgb(149,149,149)" opacity="0.8"/>
</g>
<rect x="461.9" y="379.0" width="13.1" height="1.9" fill="#fff"/>
</g>
<g clip-path="url(#p3)">
<defs><linearGradient id="pg31" x1="0" y1="0" x2="0" y2="1"><stop offset="0" stop-color="#b9b9b9"/><stop offset="1" stop-color="#b4b4b4"/></linearGradient></defs>
<rect x="478.3" y="339.1" width="32.0" height="45.5" fill="url(#pg31)"/>
<g filter="url(#bl9)">
<circle cx="478.7" cy="344.2" r="1.0" fill="rgb(185,185,185)" opacity="0.35"/>
<circle cx="479.7" cy="382.3" r="1.2" fill="rgb(194,194,194)" opacity="0.35"/>
<circle cx="502.5" cy="345.8" r="1.9" fill="rgb(162,162,162)" opacity="0.35"/>
<circle cx="482.7" cy="363.5" r="1.7" fill="rgb(188,188,188)" opacity="0.35"/>
<circle cx="484.9" cy="366.1" r="0.8" fill="rgb(167,167,167)" opacity="0.35"/>
<circle cx="508.4" cy="357.4" r="1.2" fill="rgb(172,172,172)" opacity="0.35"/>
<circle cx="490.8" cy="366.3" r="1.2" fill="rgb(175,175,175)" opacity="0.35"/>
<circle cx="485.2" cy="365.7" r="0.9" fill="rgb(195,195,195)" opacity="0.35"/>
<circle cx="480.0" cy="347.3" r="1.1" fill="rgb(168,168,168)" opacity="0.35"/>
<circle cx="505.1" cy="384.1" r="0.9" fill="rgb(161,161,161)" opacity="0.35"/>
<circle cx="495.3" cy="359.1" r="1.2" fill="rgb(173,173,173)" opacity="0.35"/>
<circle cx="492.1" cy="355.8" r="1.9" fill="rgb(181,181,181)" opacity="0.35"/>
<circle cx="485.3" cy="341.0" r="1.3" fill="rgb(181,181,181)" opacity="0.35"/>
<circle cx="496.6" cy="361.0" r="2.2" fill="rgb(201,201,201)" opacity="0.35"/>
<circle cx="509.1" cy="383.5" r="2.1" fill="rgb(166,166,166)" opacity="0.35"/>
<circle cx="488.1" cy="347.1" r="2.4" fill="rgb(199,199,199)" opacity="0.35"/>
<circle cx="505.1" cy="352.5" r="1.1" fill="rgb(171,171,171)" opacity="0.35"/>
<circle cx="507.8" cy="366.5" r="2.4" fill="rgb(204,204,204)" opacity="0.35"/>
<circle cx="499.7" cy="352.1" r="1.9" fill="rgb(179,179,179)" opacity="0.35"/>
<circle cx="510.0" cy="348.1" r="1.1" fill="rgb(189,189,189)" opacity="0.35"/>
<circle cx="489.0" cy="357.4" r="1.8" fill="rgb(163,163,163)" opacity="0.35"/>
<circle cx="482.1" cy="343.6" r="1.0" fill="rgb(200,200,200)" opacity="0.35"/>
<circle cx="484.5" cy="354.4" r="2.5" fill="rgb(205,205,205)" opacity="0.35"/>
<circle cx="483.2" cy="341.7" r="2.1" fill="rgb(199,199,199)" opacity="0.35"/>
<circle cx="487.2" cy="356.0" r="1.6" fill="rgb(199,199,199)" opacity="0.35"/>
<circle cx="497.2" cy="378.0" r="1.0" fill="rgb(191,191,191)" opacity="0.35"/>
<circle cx="501.5" cy="370.6" r="1.2" fill="rgb(161,161,161)" opacity="0.35"/>
<circle cx="502.8" cy="383.9" r="1.2" fill="rgb(182,182,182)" opacity="0.35"/>
<circle cx="481.4" cy="365.6" r="1.1" fill="rgb(188,188,188)" opacity="0.35"/>
<circle cx="479.7" cy="344.8" r="0.9" fill="rgb(199,199,199)" opacity="0.35"/>
<circle cx="497.9" cy="348.5" r="2.4" fill="rgb(172,172,172)" opacity="0.35"/>
<circle cx="506.0" cy="370.5" r="1.6" fill="rgb(195,195,195)" opacity="0.35"/>
<circle cx="500.5" cy="363.0" r="1.5" fill="rgb(192,192,192)" opacity="0.35"/>
<circle cx="495.1" cy="371.7" r="1.3" fill="rgb(189,189,189)" opacity="0.35"/>
<circle cx="504.5" cy="353.9" r="1.0" fill="rgb(183,183,183)" opacity="0.35"/>
<circle cx="503.4" cy="373.0" r="2.0" fill="rgb(178,178,178)" opacity="0.35"/>
<circle cx="496.9" cy="346.7" r="1.0" fill="rgb(202,202,202)" opacity="0.35"/>
<circle cx="491.9" cy="345.5" r="2.3" fill="rgb(184,184,184)" opacity="0.35"/>
<circle cx="484.9" cy="379.6" r="1.7" fill="rgb(179,179,179)" opacity="0.35"/>
<circle cx="486.1" cy="374.5" r="0.9" fill="rgb(162,162,162)" opacity="0.35"/>
<circle cx="498.0" cy="379.8" r="1.7" fill="rgb(176,176,176)" opacity="0.35"/>
<circle cx="492.2" cy="371.0" r="1.5" fill="rgb(173,173,173)" opacity="0.35"/>
<circle cx="504.5" cy="356.6" r="1.2" fill="rgb(172,172,172)" opacity="0.35"/>
<circle cx="488.6" cy="352.6" r="1.0" fill="rgb(183,183,183)" opacity="0.35"/>
<circle cx="485.2" cy="383.2" r="2.0" fill="rgb(199,199,199)" opacity="0.35"/>
<circle cx="506.7" cy="359.7" r="1.3" fill="rgb(201,201,201)" opacity="0.35"/>
<circle cx="484.1" cy="340.6" r="1.1" fill="rgb(190,190,190)" opacity="0.35"/>
<circle cx="504.2" cy="377.0" r="1.3" fill="rgb(160,160,160)" opacity="0.35"/>
</g>
<g filter="url(#bl5)">
<circle cx="482.31" cy="341.69" r="1.13" fill="rgb(79,79,79)" opacity="0.8"/>
<circle cx="481.04" cy="341.50" r="0.59" fill="rgb(62,62,62)" opacity="0.8"/>
<circle cx="478.07" cy="340.84" r="1.12" fill="rgb(93,93,93)" opacity="0.8"/>
<circle cx="483.19" cy="340.90" r="0.50" fill="rgb(98,98,98)" opacity="0.8"/>
<circle cx="481.04" cy="339.86" r="0.94" fill="rgb(60,60,60)" opacity="0.8"/>
<circle cx="481.21" cy="339.57" r="1.36" fill="rgb(78,78,78)" opacity="0.8"/>
<circle cx="481.27" cy="341.87" r="0.53" fill="rgb(67,67,67)" opacity="0.8"/>
<circle cx="478.31" cy="340.57" r="0.52" fill="rgb(88,88,88)" opacity="0.8"/>
<circle cx="481.60" cy="341.19" r="0.70" fill="rgb(82,82,82)" opacity="0.8"/>
<circle cx="478.32" cy="341.55" r="0.65" fill="rgb(91,91,91)" opacity="0.8"/>
<circle cx="482.08" cy="338.47" r="1.02" fill="rgb(96,96,96)" opacity="0.8"/>
<circle cx="481.51" cy="341.29" r="0.71" fill="rgb(78,78,78)" opacity="0.8"/>
<circle cx="480.24" cy="342.39" r="1.26" fill="rgb(85,85,85)" opacity="0.8"/>
<circle cx="480.35" cy="343.59" r="0.51" fill="rgb(90,90,90)" opacity="0.8"/>
</g>
<ellipse cx="494.5" cy="353.6" rx="7.0" ry="6.8" fill="#bebebe"/>
<ellipse cx="494.5" cy="353.6" rx="7.0" ry="6.8" fill="none" stroke="#333" stroke-width="1.0" filter="url(#bl5)"/>
<g filter="url(#bl5)">
<circle cx="493.20" cy="351.91" r="0.64" fill="rgb(136,136,136)" opacity="0.8"/>
<circle cx="492.52" cy="353.40" r="0.66" fill="rgb(127,127,127)" opacity="0.8"/>
<circle cx="496.50" cy="355.38" r="0.68" fill="rgb(129,129,129)" opacity="0.8"/>
<circle cx="494.36" cy="355.39" r="0.48" fill="rgb(125,125,125)" opacity="0.8"/>
<circle cx="497.89" cy="352.11" r="0.47" fill="rgb(119,119,119)" opacity="0.8"/>
<circle cx="492.49" cy="352.65" r="0.54" fill="rgb(133,133,133)" opacity="0.8"/>
<circle cx="495.31" cy="350.92" r="0.41" fill="rgb(137,137,137)" opacity="0.8"/>
<circle cx="494.32" cy="355.54" r="0.35" fill="rgb(117,117,117)" opacity="0.8"/>
<circle cx="498.47" cy="354.09" r="0.70" fill="rgb(119,119,119)" opacity="0.8"/>
<circle cx="496.32" cy="352.95" r="0.35" fill="rgb(121,121,121)" opacity="0.8"/>
</g>
<g filter="url(#bl5)">
<circle cx="497.74" cy="383.08" r="0.71" fill="rgb(146,146,146)" opacity="0.8"/>
<circle cx="501.84" cy="383.85" r="1.35" fill="rgb(150,150,150)" opacity="0.8"/>
<circle cx="498.53" cy="384.26" r="1.03" fill="rgb(123,123,123)" opacity="0.8"/>
<circle cx="500.41" cy="382.66" r="1.05" fill="rgb(131,131,131)" opacity="0.8"/>
<circle cx="500.43" cy="380.93" r="1.22" fill="rgb(122,122,122)" opacity="0.8"/>
<circle cx="498.24" cy="385.39" r="1.25" fill="rgb(142,142,142)" opacity="0.8"/>
<circle cx="500.90" cy="380.75" r="1.29" fill="rgb(138,138,138)" opacity="0.8"/>
<circle cx="499.32" cy="385.22" r="0.69" fill="rgb(126,126,126)" opacity="0.8"/>
</g>
<rect x="495.8" y="379.0" width="13.1" height="1.9" fill="#fff"/>
</g>
<g clip-path="url(#p4)">
<defs><linearGradient id="pg41" x1="0" y1="0" x2="0" y2="1"><stop offset="0" stop-color="#b5b5b5"/><stop offset="1" stop-color="#afafaf"/></linearGradient></defs>
<rect x="382.1" y="386.2" width="59.9" height="45.3" fill="url(#pg41)"/>
<g filter="url(#bl9)">
<circle cx="404.9" cy="396.7" r="2.3" fill="rgb(170,170,170)" opacity="0.35"/>
<circle cx="405.2" cy="426.8" r="1.7" fill="rgb(178,178,178)" opacity="0.35"/>
<circle cx="405.1" cy="419.3" r="0.8" fill="rgb(196,196,196)" opacity="0.35"/>
<circle cx="397.0" cy="431.4" r="1.5" fill="rgb(161,161,161)" opacity="0.35"/>
<circle cx="391.4" cy="393.0" r="1.1" fill="rgb(180,180,180)" opacity="0.35"/>
<circle cx="421.3" cy="414.3" r="1.0" fill="rgb(163,163,163)" opacity="0.35"/>
<circle cx="417.3" cy="405.8" r="2.2" fill="rgb(178,178,178)" opacity="0.35"/>
<circle cx="395.0" cy="419.1" r="1.0" fill="rgb(190,190,190)" opacity="0.35"/>
<circle cx="422.2" cy="391.8" r="2.0" fill="rgb(169,169,169)" opacity="0.35"/>
<circle cx="440.8" cy="388.6" r="1.2" fill="rgb(180,180,180)" opacity="0.35"/>
<circle cx="383.7" cy="412.4" r="2.3" fill="rgb(187,187,187)" opacity="0.35"/>
<circle cx="432.8" cy="399.9" r="1.0" fill="rgb(169,169,169)" opacity="0.35"/>
<circle cx="387.7" cy="387.2" r="1.6" fill="rgb(202,202,202)" opacity="0.35"/>
<circle cx="405.7" cy="387.2" r="0.9" fill="rgb(168,168,168)" opacity="0.35"/>
<circle cx="438.7" cy="404.4" r="2.1" fill="rgb(194,194,194)" opacity="0.35"/>
<circle cx="414.4" cy="426.1" r="1.6" fill="rgb(201,201,201)" opacity="0.35"/>
<circle cx="392.7" cy="422.8" r="0.9" fill="rgb(205,205,205)" opacity="0.35"/>
<circle cx="433.8" cy="425.8" r="2.5" fill="rgb(166,166,166)" opacity="0.35"/>
<circle cx="424.3" cy="426.7" r="1.9" fill="rgb(186,186,186)" opacity="0.35"/>
<circle cx="427.0" cy="413.8" r="1.8" fill="rgb(186,186,186)" opacity="0.35"/>
<circle cx="388.1" cy="429.0" r="1.5" fill="rgb(174,174,174)" opacity="0.35"/>
<circle cx="426.0" cy="417.0" r="2.1" fill="rgb(186,186,186)" opacity="0.35"/>
<circle cx="387.1" cy="416.5" r="1.2" fill="rgb(194,194,194)" opacity="0.35"/>
<circle cx="423.2" cy="398.7" r="1.4" fill="rgb(205,205,205)" opacity="0.35"/>
<circle cx="437.5" cy="403.4" r="2.1" fill="rgb(178,178,178)" opacity="0.35"/>
<circle cx="425.9" cy="395.9" r="1.2" fill="rgb(170,170,170)" opacity="0.35"/>
<circle cx="395.6" cy="407.4" r="0.9" fill="rgb(175,175,175)" opacity="0.35"/>
<circle cx="396.3" cy="411.9" r="1.6" fill="rgb(169,169,169)" opacity="0.35"/>
<circle cx="389.4" cy="403.6" r="2.2" fill="rgb(167,167,167)" opacity="0.35"/>
<circle cx="408.9" cy="419.7" r="1.7" fill="rgb(172,172,172)" opacity="0.35"/>
<circle cx="411.9" cy="430.2" r="2.2" fill="rgb(177,177,177)" opacity="0.35"/>
<circle cx="383.9" cy="412.9" r="1.9" fill="rgb(169,169,169)" opacity="0.35"/>
<circle cx="412.8" cy="415.6" r="1.5" fill="rgb(171,171,171)" opacity="0.35"/>
<circle cx="440.4" cy="429.8" r="1.7" fill="rgb(162,162,162)" opacity="0.35"/>
<circle cx="417.8" cy="402.1" r="1.5" fill="rgb(203,203,203)" opacity="0.35"/>
<circle cx="437.9" cy="429.5" r="1.1" fill="rgb(178,178,178)" opacity="0.35"/>
<circle cx="433.3" cy="413.9" r="2.3" fill="rgb(167,167,167)" opacity="0.35"/>
<circle cx="398.8" cy="412.8" r="1.5" fill="rgb(179,179,179)" opacity="0.35"/>
<circle cx="411.5" cy="424.7" r="1.7" fill="rgb(166,166,166)" opacity="0.35"/>
<circle cx="417.7" cy="396.8" r="2.3" fill="rgb(171,171,171)" opacity="0.35"/>
<circle cx="399.6" cy="397.4" r="2.4" fill="rgb(190,190,190)" opacity="0.35"/>
<circle cx="431.6" cy="388.7" r="2.2" fill="rgb(205,205,205)" opacity="0.35"/>
<circle cx="414.2" cy="420.5" r="1.1" fill="rgb(200,200,200)" opacity="0.35"/>
<circle cx="430.2" cy="400.8" r="1.8" fill="rgb(183,183,183)" opacity="0.35"/>
<circle cx="407.7" cy="386.9" r="2.3" fill="rgb(170,170,170)" opacity="0.35"/>
<circle cx="412.9" cy="392.9" r="1.8" fill="rgb(201,201,201)" opacity="0.35"/>
<circle cx="404.6" cy="396.8" r="1.9" fill="rgb(177,177,177)" opacity="0.35"/>
<circle cx="415.5" cy="410.0" r="1.5" fill="rgb(175,175,175)" opacity="0.35"/>
<circle cx="393.3" cy="410.1" r="1.7" fill="rgb(197,197,197)" opacity="0.35"/>
<circle cx="393.1" cy="389.1" r="2.0" fill="rgb(194,194,194)" opacity="0.35"/>
<circle cx="393.5" cy="394.4" r="0.9" fill="rgb(191,191,191)" opacity="0.35"/>
<circle cx="421.6" cy="428.6" r="0.8" fill="rgb(188,188,188)" opacity="0.35"/>
<circle cx="400.7" cy="400.0" r="1.7" fill="rgb(164,164,164)" opacity="0.35"/>
<circle cx="435.6" cy="400.6" r="2.1" fill="rgb(188,188,188)" opacity="0.35"/>
<circle cx="404.4" cy="422.2" r="0.9" fill="rgb(165,165,165)" opacity="0.35"/>
<circle cx="405.4" cy="393.5" r="1.1" fill="rgb(189,189,189)" opacity="0.35"/>
<circle cx="391.6" cy="390.2" r="1.3" fill="rgb(160,160,160)" opacity="0.35"/>
<circle cx="436.2" cy="400.4" r="1.1" fill="rgb(161,161,161)" opacity="0.35"/>
<circle cx="436.2" cy="430.3" r="1.0" fill="rgb(204,204,204)" opacity="0.35"/>
<circle cx="383.0" cy="393.0" r="1.7" fill="rgb(177,177,177)" opacity="0.35"/>
<circle cx="438.1" cy="398.6" r="2.1" fill="rgb(170,170,170)" opacity="0.35"/>
<circle cx="434.4" cy="421.1" r="1.6" fill="rgb(185,185,185)" opacity="0.35"/>
<circle cx="397.2" cy="417.3" r="2.0" fill="rgb(194,194,194)" opacity="0.35"/>
<circle cx="416.4" cy="393.5" r="2.2" fill="rgb(175,175,175)" opacity="0.35"/>
<circle cx="383.6" cy="398.7" r="1.1" fill="rgb(163,163,163)" opacity="0.35"/>
<circle cx="421.9" cy="398.9" r="2.4" fill="rgb(176,176,176)" opacity="0.35"/>
<circle cx="399.6" cy="399.2" r="2.2" fill="rgb(164,164,164)" opacity="0.35"/>
<circle cx="441.7" cy="400.0" r="2.3" fill="rgb(185,185,185)" opacity="0.35"/>
<circle cx="414.9" cy="418.8" r="1.9" fill="rgb(183,183,183)" opacity="0.35"/>
<circle cx="396.1" cy="428.3" r="1.8" fill="rgb(186,186,186)" opacity="0.35"/>
<circle cx="421.9" cy="405.2" r="0.9" fill="rgb(174,174,174)" opacity="0.35"/>
<circle cx="394.2" cy="399.6" r="0.8" fill="rgb(183,183,183)" opacity="0.35"/>
<circle cx="411.8" cy="417.5" r="1.8" fill="rgb(192,192,192)" opacity="0.35"/>
<circle cx="439.8" cy="425.0" r="0.9" fill="rgb(199,199,199)" opacity="0.35"/>
<circle cx="432.7" cy="391.6" r="1.6" fill="rgb(185,185,185)" opacity="0.35"/>
<circle cx="387.0" cy="426.7" r="1.0" fill="rgb(204,204,204)" opacity="0.35"/>
<circle cx="427.5" cy="417.8" r="0.9" fill="rgb(161,161,161)" opacity="0.35"/>
<circle cx="423.0" cy="398.6" r="1.5" fill="rgb(187,187,187)" opacity="0.35"/>
<circle cx="435.7" cy="393.1" r="1.9" fill="rgb(199,199,199)" opacity="0.35"/>
<circle cx="437.6" cy="423.1" r="1.5" fill="rgb(194,194,194)" opacity="0.35"/>
<circle cx="403.3" cy="395.2" r="2.4" fill="rgb(197,197,197)" opacity="0.35"/>
<circle cx="435.9" cy="409.7" r="1.1" fill="rgb(192,192,192)" opacity="0.35"/>
<circle cx="423.6" cy="395.6" r="1.3" fill="rgb(200,200,200)" opacity="0.35"/>
<circle cx="398.3" cy="408.5" r="1.2" fill="rgb(165,165,165)" opacity="0.35"/>
<circle cx="395.5" cy="387.4" r="0.9" fill="rgb(202,202,202)" opacity="0.35"/>
<circle cx="430.1" cy="398.4" r="2.2" fill="rgb(180,180,180)" opacity="0.35"/>
<circle cx="439.3" cy="394.1" r="1.1" fill="rgb(176,176,176)" opacity="0.35"/>
<circle cx="403.1" cy="386.5" r="0.9" fill="rgb(191,191,191)" opacity="0.35"/>
<circle cx="386.5" cy="418.1" r="2.1" fill="rgb(167,167,167)" opacity="0.35"/>
<circle cx="420.9" cy="390.3" r="1.4" fill="rgb(177,177,177)" opacity="0.35"/>
</g>
<ellipse cx="390.0" cy="391.6" rx="1.3" ry="1.3" fill="#f6f6f6" stroke="#333" stroke-width="0.7" filter="url(#bl5)"/>
<g filter="url(#bl5)">
<circle cx="412.42" cy="394.38" r="0.72" fill="rgb(143,143,143)" opacity="0.8"/>
<circle cx="412.97" cy="395.04" r="1.30" fill="rgb(158,158,158)" opacity="0.8"/>
<circle cx="413.60" cy="395.21" r="0.58" fill="rgb(135,135,135)" opacity="0.8"/>
<circle cx="412.75" cy="395.99" r="0.68" fill="rgb(152,152,152)" opacity="0.8"/>
<circle cx="411.82" cy="393.53" r="0.90" fill="rgb(142,142,142)" opacity="0.8"/>
<circle cx="412.30" cy="396.25" r="1.23" fill="rgb(159,159,159)" opacity="0.8"/>
</g>
<g filter="url(#bl5)">
<circle cx="417.76" cy="418.76" r="1.36" fill="rgb(139,139,139)" opacity="0.8"/>
<circle cx="415.27" cy="419.50" r="0.91" fill="rgb(138,138,138)" opacity="0.8"/>
<circle cx="416.05" cy="418.40" r="1.02" fill="rgb(148,148,148)" opacity="0.8"/>
<circle cx="415.06" cy="417.17" r="1.18" fill="rgb(163,163,163)" opacity="0.8"/>
<circle cx="415.61" cy="418.70" r="0.60" fill="rgb(162,162,162)" opacity="0.8"/>
<circle cx="416.80" cy="418.90" r="0.96" fill="rgb(140,140,140)" opacity="0.8"/>
</g>
<g filter="url(#bl5)">
<circle cx="403.00" cy="410.12" r="0.60" fill="rgb(162,162,162)" opacity="0.8"/>
<circle cx="403.29" cy="410.08" r="0.60" fill="rgb(142,142,142)" opacity="0.8"/>
<circle cx="404.31" cy="409.63" r="1.12" fill="rgb(151,151,151)" opacity="0.8"/>
<circle cx="403.46" cy="410.58" r="0.86" fill="rgb(153,153,153)" opacity="0.8"/>
<circle cx="403.53" cy="408.91" r="0.80" fill="rgb(137,137,137)" opacity="0.8"/>
<circle cx="403.69" cy="410.11" r="0.56" fill="rgb(151,151,151)" opacity="0.8"/>
</g>
<g filter="url(#bl5)">
<circle cx="386.81" cy="412.28" r="0.77" fill="rgb(137,137,137)" opacity="0.8"/>
<circle cx="388.38" cy="411.09" r="0.76" fill="rgb(138,138,138)" opacity="0.8"/>
<circle cx="387.82" cy="411.65" r="1.08" fill="rgb(158,158,158)" opacity="0.8"/>
<circle cx="387.42" cy="410.59" r="1.22" fill="rgb(143,143,143)" opacity="0.8"/>
<circle cx="386.92" cy="409.98" r="1.18" fill="rgb(162,162,162)" opacity="0.8"/>
<circle cx="385.59" cy="411.58" r="1.13" fill="rgb(139,139,139)" opacity="0.8"/>
</g>
<g filter="url(#bl5)">
<circle cx="430.87" cy="418.26" r="1.03" fill="rgb(153,153,153)" opacity="0.8"/>
<circle cx="431.09" cy="418.07" r="1.03" fill="rgb(139,139,139)" opacity="0.8"/>
<circle cx="430.31" cy="418.89" r="1.20" fill="rgb(137,137,137)" opacity="0.8"/>
<circle cx="429.72" cy="418.69" r="0.62" fill="rgb(135,135,135)" opacity="0.8"/>
<circle cx="431.14" cy="418.37" r="1.14" fill="rgb(165,165,165)" opacity="0.8"/>
<circle cx="430.09" cy="417.87" r="0.93" fill="rgb(157,157,157)" opacity="0.8"/>
</g>
<g filter="url(#bl5)">
<circle cx="398.30" cy="393.95" r="1.01" fill="rgb(149,149,149)" opacity="0.8"/>
<circle cx="398.95" cy="394.12" r="0.54" fill="rgb(154,154,154)" opacity="0.8"/>
<circle cx="398.76" cy="393.14" r="0.50" fill="rgb(138,138,138)" opacity="0.8"/>
<circle cx="400.50" cy="392.44" r="0.99" fill="rgb(158,158,158)" opacity="0.8"/>
<circle cx="400.48" cy="392.15" r="0.88" fill="rgb(153,153,153)" opacity="0.8"/>
<circle cx="399.10" cy="394.29" r="1.36" fill="rgb(149,149,149)" opacity="0.8"/>
</g>
<g filter="url(#bl5)">
<circle cx="391.38" cy="401.81" r="0.98" fill="rgb(157,157,157)" opacity="0.8"/>
<circle cx="392.34" cy="400.77" r="1.19" fill="rgb(157,157,157)" opacity="0.8"/>
<circle cx="392.89" cy="403.53" r="1.09" fill="rgb(162,162,162)" opacity="0.8"/>
<circle cx="391.16" cy="402.04" r="0.96" fill="rgb(159,159,159)" opacity="0.8"/>
<circle cx="392.42" cy="401.43" r="0.53" fill="rgb(141,141,141)" opacity="0.8"/>
<circle cx="391.42" cy="402.30" r="0.65" fill="rgb(156,156,156)" opacity="0.8"/>
</g>
<g filter="url(#bl5)">
<circle cx="421.88" cy="424.39" r="0.79" fill="rgb(138,138,138)" opacity="0.8"/>
<circle cx="419.73" cy="423.55" r="0.54" fill="rgb(156,156,156)" opacity="0.8"/>
<circle cx="420.95" cy="423.41" r="0.54" fill="rgb(158,158,158)" opacity="0.8"/>
<circle cx="420.33" cy="423.80" r="1.04" fill="rgb(163,163,163)" opacity="0.8"/>
<circle cx="420.15" cy="423.58" r="1.15" fill="rgb(142,142,142)" opacity="0.8"/>
<circle cx="422.06" cy="424.72" r="1.20" fill="rgb(145,145,145)" opacity="0.8"/>
</g>
<g filter="url(#bl5)">
<circle cx="385.23" cy="427.01" r="1.30" fill="rgb(155,155,155)" opacity="0.8"/>
<circle cx="385.54" cy="425.77" r="0.58" fill="rgb(145,145,145)" opacity="0.8"/>
<circle cx="385.49" cy="428.12" r="1.34" fill="rgb(137,137,137)" opacity="0.8"/>
<circle cx="385.73" cy="427.39" r="0.79" fill="rgb(146,146,146)" opacity="0.8"/>
<circle cx="386.55" cy="428.37" r="1.39" fill="rgb(145,145,145)" opacity="0.8"/>
<circle cx="386.77" cy="426.39" r="1.32" fill="rgb(137,137,137)" opacity="0.8"/>
</g>
<ellipse cx="416.3" cy="418.4" rx="1.2" ry="1.8" fill="none" stroke="#555" stroke-width="0.6" filter="url(#bl5)"/>
<rect x="418.1" y="426.5" width="21.9" height="1.8" fill="#fff"/>
</g>
<g clip-path="url(#p5)">
<defs><linearGradient id="pg51" x1="0" y1="0" x2="0" y2="1"><stop offset="0" stop-color="#b8b8b8"/><stop offset="1" stop-color="#b2b2b2"/></linearGradient></defs>
<rect x="443.7" y="386.2" width="32.1" height="45.3" fill="url(#pg51)"/>
<g filter="url(#bl9)">
<circle cx="451.5" cy="409.0" r="1.2" fill="rgb(170,170,170)" opacity="0.35"/>
<circle cx="475.6" cy="423.9" r="2.4" fill="rgb(176,176,176)" opacity="0.35"/>
<circle cx="456.5" cy="430.0" r="1.7" fill="rgb(204,204,204)" opacity="0.35"/>
<circle cx="463.9" cy="412.7" r="1.5" fill="rgb(183,183,183)" opacity="0.35"/>
<circle cx="452.6" cy="417.8" r="2.2" fill="rgb(160,160,160)" opacity="0.35"/>
<circle cx="444.6" cy="397.9" r="1.9" fill="rgb(190,190,190)" opacity="0.35"/>
<circle cx="474.0" cy="401.9" r="1.4" fill="rgb(179,179,179)" opacity="0.35"/>
<circle cx="468.9" cy="428.2" r="1.1" fill="rgb(201,201,201)" opacity="0.35"/>
<circle cx="468.1" cy="406.0" r="1.6" fill="rgb(170,170,170)" opacity="0.35"/>
<circle cx="472.8" cy="430.9" r="1.0" fill="rgb(197,197,197)" opacity="0.35"/>
<circle cx="461.3" cy="429.0" r="2.0" fill="rgb(161,161,161)" opacity="0.35"/>
<circle cx="473.6" cy="427.5" r="1.0" fill="rgb(183,183,183)" opacity="0.35"/>
<circle cx="472.7" cy="411.1" r="1.8" fill="rgb(171,171,171)" opacity="0.35"/>
<circle cx="475.5" cy="408.6" r="2.1" fill="rgb(193,193,193)" opacity="0.35"/>
<circle cx="464.6" cy="430.7" r="2.1" fill="rgb(194,194,194)" opacity="0.35"/>
<circle cx="475.7" cy="428.4" r="2.2" fill="rgb(201,201,201)" opacity="0.35"/>
<circle cx="446.9" cy="422.8" r="2.4" fill="rgb(179,179,179)" opacity="0.35"/>
<circle cx="470.4" cy="424.2" r="1.4" fill="rgb(161,161,161)" opacity="0.35"/>
<circle cx="460.7" cy="426.0" r="1.5" fill="rgb(197,197,197)" opacity="0.35"/>
<circle cx="472.4" cy="398.8" r="1.8" fill="rgb(190,190,190)" opacity="0.35"/>
<circle cx="450.5" cy="430.5" r="1.3" fill="rgb(163,163,163)" opacity="0.35"/>
<circle cx="453.6" cy="416.4" r="2.5" fill="rgb(188,188,188)" opacity="0.35"/>
<circle cx="461.4" cy="426.4" r="1.2" fill="rgb(178,178,178)" opacity="0.35"/>
<circle cx="468.7" cy="411.1" r="2.3" fill="rgb(187,187,187)" opacity="0.35"/>
<circle cx="449.4" cy="399.7" r="1.9" fill="rgb(160,160,160)" opacity="0.35"/>
<circle cx="448.7" cy="405.3" r="1.7" fill="rgb(164,164,164)" opacity="0.35"/>
<circle cx="459.8" cy="429.7" r="1.8" fill="rgb(178,178,178)" opacity="0.35"/>
<circle cx="462.7" cy="406.0" r="1.6" fill="rgb(188,188,188)" opacity="0.35"/>
<circle cx="444.2" cy="421.3" r="1.0" fill="rgb(177,177,177)" opacity="0.35"/>
<circle cx="465.7" cy="430.3" r="1.5" fill="rgb(185,185,185)" opacity="0.35"/>
<circle cx="471.2" cy="403.7" r="1.5" fill="rgb(180,180,180)" opacity="0.35"/>
<circle cx="475.3" cy="430.3" r="1.7" fill="rgb(181,181,181)" opacity="0.35"/>
<circle cx="456.8" cy="419.8" r="1.6" fill="rgb(180,180,180)" opacity="0.35"/>
<circle cx="447.7" cy="428.8" r="2.3" fill="rgb(185,185,185)" opacity="0.35"/>
<circle cx="450.6" cy="404.9" r="1.5" fill="rgb(163,163,163)" opacity="0.35"/>
<circle cx="461.7" cy="423.5" r="1.3" fill="rgb(193,193,193)" opacity="0.35"/>
<circle cx="473.6" cy="420.4" r="1.3" fill="rgb(160,160,160)" opacity="0.35"/>
<circle cx="458.2" cy="413.4" r="2.3" fill="rgb(194,194,194)" opacity="0.35"/>
<circle cx="461.4" cy="402.0" r="0.9" fill="rgb(177,177,177)" opacity="0.35"/>
<circle cx="459.3" cy="409.0" r="1.2" fill="rgb(160,160,160)" opacity="0.35"/>
<circle cx="468.4" cy="394.6" r="2.3" fill="rgb(166,166,166)" opacity="0.35"/>
<circle cx="473.8" cy="419.0" r="1.8" fill="rgb(160,160,160)" opacity="0.35"/>
<circle cx="463.4" cy="421.0" r="2.5" fill="rgb(170,170,170)" opacity="0.35"/>
<circle cx="468.4" cy="407.8" r="1.1" fill="rgb(168,168,168)" opacity="0.35"/>
<circle cx="460.5" cy="404.7" r="1.6" fill="rgb(173,173,173)" opacity="0.35"/>
<circle cx="445.4" cy="407.0" r="0.9" fill="rgb(185,185,185)" opacity="0.35"/>
<circle cx="475.3" cy="391.5" r="0.9" fill="rgb(192,192,192)" opacity="0.35"/>
<circle cx="449.9" cy="392.8" r="1.8" fill="rgb(164,164,164)" opacity="0.35"/>
</g>
<ellipse cx="458.8" cy="402.8" rx="3.6" ry="4.0" fill="#a4a4a4" filter="url(#bl5)"/>
<ellipse cx="458.8" cy="402.8" rx="3.6" ry="4.0" fill="none" stroke="#3c3c3c" stroke-width="0.8" filter="url(#bl5)"/>
<g filter="url(#bl5)">
<circle cx="452.21" cy="420.19" r="0.96" fill="rgb(148,148,148)" opacity="0.8"/>
<circle cx="452.71" cy="418.62" r="1.33" fill="rgb(126,126,126)" opacity="0.8"/>
<circle cx="453.29" cy="423.24" r="1.25" fill="rgb(138,138,138)" opacity="0.8"/>
<circle cx="453.67" cy="419.80" r="0.53" fill="rgb(125,125,125)" opacity="0.8"/>
<circle cx="451.12" cy="420.54" r="0.64" fill="rgb(127,127,127)" opacity="0.8"/>
<circle cx="448.65" cy="420.61" r="1.20" fill="rgb(140,140,140)" opacity="0.8"/>
<circle cx="448.60" cy="421.93" r="1.06" fill="rgb(153,153,153)" opacity="0.8"/>
<circle cx="450.64" cy="421.03" r="1.10" fill="rgb(137,137,137)" opacity="0.8"/>
<circle cx="453.30" cy="418.55" r="0.86" fill="rgb(129,129,129)" opacity="0.8"/>
<circle cx="449.98" cy="417.73" r="0.58" fill="rgb(133,133,133)" opacity="0.8"/>
<circle cx="452.57" cy="422.98" r="1.01" fill="rgb(150,150,150)" opacity="0.8"/>
<circle cx="450.82" cy="417.65" r="0.50" fill="rgb(131,131,131)" opacity="0.8"/>
</g>
<g filter="url(#bl5)">
<circle cx="463.75" cy="414.08" r="0.95" fill="rgb(144,144,144)" opacity="0.8"/>
<circle cx="463.25" cy="416.62" r="1.16" fill="rgb(141,141,141)" opacity="0.8"/>
<circle cx="465.75" cy="413.09" r="1.32" fill="rgb(131,131,131)" opacity="0.8"/>
<circle cx="468.23" cy="416.01" r="0.73" fill="rgb(134,134,134)" opacity="0.8"/>
<circle cx="466.13" cy="414.86" r="0.71" fill="rgb(141,141,141)" opacity="0.8"/>
<circle cx="466.60" cy="417.48" r="0.96" fill="rgb(141,141,141)" opacity="0.8"/>
<circle cx="465.01" cy="414.72" r="0.86" fill="rgb(151,151,151)" opacity="0.8"/>
<circle cx="468.08" cy="415.57" r="0.58" fill="rgb(134,134,134)" opacity="0.8"/>
<circle cx="465.21" cy="414.28" r="1.39" fill="rgb(144,144,144)" opacity="0.8"/>
<circle cx="465.44" cy="415.15" r="0.90" fill="rgb(131,131,131)" opacity="0.8"/>
</g>
<rect x="462.9" y="419.7" width="12.7" height="1.0" fill="#e6e6e6"/>
<rect x="461.9" y="426.8" width="13.1" height="1.6" fill="#fff"/>
</g>
<g clip-path="url(#p6)">
<defs><linearGradient id="pg61" x1="0" y1="0" x2="0" y2="1"><stop offset="0" stop-color="#b8b8b8"/><stop offset="1" stop-color="#b3b3b3"/></linearGradient></defs>
<rect x="478.3" y="386.2" width="32.1" height="45.3" fill="url(#pg61)"/>
<g filter="url(#bl9)">
<circle cx="494.2" cy="411.4" r="1.3" fill="rgb(180,180,180)" opacity="0.35"/>
<circle cx="504.1" cy="387.5" r="1.4" fill="rgb(182,182,182)" opacity="0.35"/>
<circle cx="491.3" cy="401.1" r="1.4" fill="rgb(170,170,170)" opacity="0.35"/>
<circle cx="478.5" cy="409.0" r="1.9" fill="rgb(165,165,165)" opacity="0.35"/>
<circle cx="489.1" cy="405.8" r="1.0" fill="rgb(169,169,169)" opacity="0.35"/>
<circle cx="491.2" cy="427.2" r="1.5" fill="rgb(181,181,181)" opacity="0.35"/>
<circle cx="488.5" cy="403.1" r="1.9" fill="rgb(200,200,200)" opacity="0.35"/>
<circle cx="503.4" cy="414.1" r="1.5" fill="rgb(186,186,186)" opacity="0.35"/>
<circle cx="482.5" cy="388.8" r="1.6" fill="rgb(183,183,183)" opacity="0.35"/>
<circle cx="495.6" cy="390.1" r="2.5" fill="rgb(179,179,179)" opacity="0.35"/>
<circle cx="491.9" cy="391.1" r="2.0" fill="rgb(182,182,182)" opacity="0.35"/>
<circle cx="490.9" cy="391.4" r="1.8" fill="rgb(182,182,182)" opacity="0.35"/>
<circle cx="479.3" cy="408.3" r="2.3" fill="rgb(187,187,187)" opacity="0.35"/>
<circle cx="484.6" cy="389.4" r="1.0" fill="rgb(191,191,191)" opacity="0.35"/>
<circle cx="500.3" cy="415.6" r="2.5" fill="rgb(200,200,200)" opacity="0.35"/>
<circle cx="479.3" cy="425.0" r="2.0" fill="rgb(173,173,173)" opacity="0.35"/>
<circle cx="504.8" cy="426.8" r="1.6" fill="rgb(192,192,192)" opacity="0.35"/>
<circle cx="492.7" cy="425.7" r="1.2" fill="rgb(205,205,205)" opacity="0.35"/>
<circle cx="506.9" cy="391.8" r="2.1" fill="rgb(161,161,161)" opacity="0.35"/>
<circle cx="485.9" cy="395.6" r="1.6" fill="rgb(196,196,196)" opacity="0.35"/>
<circle cx="488.6" cy="389.7" r="1.1" fill="rgb(175,175,175)" opacity="0.35"/>
<circle cx="483.7" cy="407.0" r="2.3" fill="rgb(180,180,180)" opacity="0.35"/>
<circle cx="509.0" cy="413.0" r="2.2" fill="rgb(165,165,165)" opacity="0.35"/>
<circle cx="499.0" cy="392.6" r="1.0" fill="rgb(166,166,166)" opacity="0.35"/>
<circle cx="494.3" cy="389.6" r="1.5" fill="rgb(177,177,177)" opacity="0.35"/>
<circle cx="492.3" cy="415.3" r="1.8" fill="rgb(203,203,203)" opacity="0.35"/>
<circle cx="503.4" cy="419.1" r="2.1" fill="rgb(193,193,193)" opacity="0.35"/>
<circle cx="502.5" cy="422.7" r="1.9" fill="rgb(193,193,193)" opacity="0.35"/>
<circle cx="502.7" cy="408.3" r="1.0" fill="rgb(192,192,192)" opacity="0.35"/>
<circle cx="498.9" cy="413.7" r="1.6" fill="rgb(163,163,163)" opacity="0.35"/>
<circle cx="508.9" cy="426.0" r="2.1" fill="rgb(180,180,180)" opacity="0.35"/>
<circle cx="506.3" cy="410.5" r="2.0" fill="rgb(190,190,190)" opacity="0.35"/>
<circle cx="508.3" cy="411.7" r="1.9" fill="rgb(177,177,177)" opacity="0.35"/>
<circle cx="498.1" cy="430.5" r="1.4" fill="rgb(200,200,200)" opacity="0.35"/>
<circle cx="484.2" cy="412.3" r="1.2" fill="rgb(171,171,171)" opacity="0.35"/>
<circle cx="497.0" cy="420.9" r="1.7" fill="rgb(169,169,169)" opacity="0.35"/>
<circle cx="503.4" cy="408.5" r="2.1" fill="rgb(177,177,177)" opacity="0.35"/>
<circle cx="492.7" cy="411.8" r="1.4" fill="rgb(197,197,197)" opacity="0.35"/>
<circle cx="498.0" cy="409.2" r="1.2" fill="rgb(177,177,177)" opacity="0.35"/>
<circle cx="490.3" cy="417.7" r="1.3" fill="rgb(168,168,168)" opacity="0.35"/>
<circle cx="497.3" cy="421.0" r="1.6" fill="rgb(165,165,165)" opacity="0.35"/>
<circle cx="508.2" cy="415.1" r="0.9" fill="rgb(193,193,193)" opacity="0.35"/>
<circle cx="505.0" cy="411.6" r="0.8" fill="rgb(193,193,193)" opacity="0.35"/>
<circle cx="508.5" cy="392.8" r="1.1" fill="rgb(178,178,178)" opacity="0.35"/>
<circle cx="489.7" cy="413.2" r="2.4" fill="rgb(199,199,199)" opacity="0.35"/>
<circle cx="485.2" cy="407.9" r="2.1" fill="rgb(180,180,180)" opacity="0.35"/>
<circle cx="478.4" cy="408.9" r="1.3" fill="rgb(170,170,170)" opacity="0.35"/>
<circle cx="487.1" cy="401.4" r="1.8" fill="rgb(198,198,198)" opacity="0.35"/>
</g>
<g filter="url(#bl5)">
<path d="M500.79,404.20 L501.87,408.10 L497.95,408.67 L495.05,408.67 L492.04,407.44 L490.67,404.20 L490.94,400.16 L494.97,399.49 L498.17,399.06 L500.26,401.47Z" fill="#a2a2a2" opacity="0.55" stroke-linejoin="round"/>
<circle cx="498.22" cy="403.36" r="1.30" fill="rgb(85,85,85)" opacity="0.8"/>
<circle cx="495.12" cy="407.70" r="0.96" fill="rgb(80,80,80)" opacity="0.8"/>
<circle cx="498.88" cy="408.03" r="0.65" fill="rgb(110,110,110)" opacity="0.8"/>
<circle cx="498.77" cy="406.40" r="0.52" fill="rgb(103,103,103)" opacity="0.8"/>
<circle cx="499.54" cy="400.90" r="0.64" fill="rgb(111,111,111)" opacity="0.8"/>
<circle cx="496.80" cy="405.46" r="0.90" fill="rgb(104,104,104)" opacity="0.8"/>
<circle cx="499.38" cy="404.55" r="1.31" fill="rgb(89,89,89)" opacity="0.8"/>
<circle cx="493.67" cy="407.52" r="0.78" fill="rgb(70,70,70)" opacity="0.8"/>
<circle cx="495.74" cy="407.11" r="1.05" fill="rgb(114,114,114)" opacity="0.8"/>
<circle cx="497.70" cy="407.55" r="1.02" fill="rgb(71,71,71)" opacity="0.8"/>
<circle cx="496.03" cy="403.94" r="0.62" fill="rgb(85,85,85)" opacity="0.8"/>
<circle cx="494.64" cy="401.74" r="1.39" fill="rgb(101,101,101)" opacity="0.8"/>
<circle cx="498.09" cy="401.90" r="1.28" fill="rgb(106,106,106)" opacity="0.8"/>
<circle cx="497.43" cy="405.67" r="1.14" fill="rgb(104,104,104)" opacity="0.8"/>
<circle cx="494.76" cy="406.84" r="0.99" fill="rgb(93,93,93)" opacity="0.8"/>
<circle cx="497.48" cy="403.46" r="1.17" fill="rgb(71,71,71)" opacity="0.8"/>
<circle cx="492.75" cy="405.29" r="1.08" fill="rgb(84,84,84)" opacity="0.8"/>
<circle cx="494.61" cy="407.50" r="1.36" fill="rgb(78,78,78)" opacity="0.8"/>
<circle cx="498.42" cy="405.67" r="1.39" fill="rgb(77,77,77)" opacity="0.8"/>
<circle cx="501.02" cy="403.95" r="1.35" fill="rgb(101,101,101)" opacity="0.8"/>
<circle cx="492.70" cy="402.39" r="1.35" fill="rgb(95,95,95)" opacity="0.8"/>
<circle cx="492.02" cy="405.18" r="0.73" fill="rgb(110,110,110)" opacity="0.8"/>
<circle cx="494.92" cy="405.77" r="0.65" fill="rgb(115,115,115)" opacity="0.8"/>
<circle cx="492.87" cy="402.75" r="0.86" fill="rgb(110,110,110)" opacity="0.8"/>
<circle cx="497.14" cy="401.06" r="0.53" fill="rgb(78,78,78)" opacity="0.8"/>
<circle cx="497.69" cy="406.45" r="0.75" fill="rgb(119,119,119)" opacity="0.8"/>
<circle cx="494.45" cy="402.67" r="0.65" fill="rgb(72,72,72)" opacity="0.8"/>
<circle cx="500.27" cy="403.99" r="0.59" fill="rgb(89,89,89)" opacity="0.8"/>
<circle cx="492.00" cy="404.63" r="1.32" fill="rgb(102,102,102)" opacity="0.8"/>
<circle cx="496.31" cy="401.30" r="0.97" fill="rgb(89,89,89)" opacity="0.8"/>
</g>
<ellipse cx="496.5" cy="404.2" rx="4.2" ry="4.8" fill="none" stroke="#383838" stroke-width="0.8" filter="url(#bl5)"/>
<g filter="url(#bl5)">
<circle cx="503.52" cy="406.26" r="0.56" fill="rgb(132,132,132)" opacity="0.8"/>
<circle cx="503.26" cy="405.99" r="0.41" fill="rgb(122,122,122)" opacity="0.8"/>
</g>
<g filter="url(#bl5)">
<circle cx="490.89" cy="417.73" r="0.46" fill="rgb(127,127,127)" opacity="0.8"/>
<circle cx="491.21" cy="417.75" r="0.44" fill="rgb(114,114,114)" opacity="0.8"/>
</g>
<g filter="url(#bl5)">
<circle cx="488.79" cy="409.76" r="0.39" fill="rgb(126,126,126)" opacity="0.8"/>
<circle cx="488.65" cy="409.20" r="0.50" fill="rgb(115,115,115)" opacity="0.8"/>
</g>
<g filter="url(#bl5)">
<circle cx="497.72" cy="412.69" r="0.34" fill="rgb(112,112,112)" opacity="0.8"/>
<circle cx="498.85" cy="412.80" r="0.36" fill="rgb(116,116,116)" opacity="0.8"/>
</g>
<g filter="url(#bl5)">
<circle cx="489.13" cy="412.57" r="0.45" fill="rgb(111,111,111)" opacity="0.8"/>
<circle cx="488.72" cy="413.07" r="0.36" fill="rgb(136,136,136)" opacity="0.8"/>
</g>
<g filter="url(#bl5)">
<circle cx="497.16" cy="418.87" r="0.40" fill="rgb(113,113,113)" opacity="0.8"/>
<circle cx="497.28" cy="418.33" r="0.53" fill="rgb(134,134,134)" opacity="0.8"/>
</g>
<g filter="url(#bl5)">
<circle cx="486.65" cy="420.87" r="0.60" fill="rgb(136,136,136)" opacity="0.8"/>
<circle cx="486.60" cy="420.45" r="0.45" fill="rgb(132,132,132)" opacity="0.8"/>
</g>
<g filter="url(#bl5)">
<circle cx="489.96" cy="417.73" r="0.54" fill="rgb(136,136,136)" opacity="0.8"/>
<circle cx="490.22" cy="417.83" r="0.46" fill="rgb(130,130,130)" opacity="0.8"/>
</g>
<g filter="url(#bl5)">
<circle cx="496.95" cy="418.21" r="0.36" fill="rgb(138,138,138)" opacity="0.8"/>
<circle cx="497.68" cy="418.10" r="0.56" fill="rgb(110,110,110)" opacity="0.8"/>
</g>
<g filter="url(#bl5)">
<circle cx="490.43" cy="405.94" r="0.34" fill="rgb(118,118,118)" opacity="0.8"/>
<circle cx="490.16" cy="405.53" r="0.40" fill="rgb(123,123,123)" opacity="0.8"/>
</g>
<g filter="url(#bl5)">
<circle cx="487.97" cy="416.86" r="0.47" fill="rgb(131,131,131)" opacity="0.8"/>
<circle cx="487.71" cy="417.21" r="0.44" fill="rgb(135,135,135)" opacity="0.8"/>
</g>
<g filter="url(#bl5)">
<circle cx="497.96" cy="403.04" r="0.50" fill="rgb(131,131,131)" opacity="0.8"/>
<circle cx="497.42" cy="403.15" r="0.52" fill="rgb(135,135,135)" opacity="0.8"/>
</g>
<g filter="url(#bl5)">
<circle cx="489.82" cy="400.16" r="0.54" fill="rgb(127,127,127)" opacity="0.8"/>
<circle cx="490.16" cy="400.48" r="0.50" fill="rgb(138,138,138)" opacity="0.8"/>
</g>
<g filter="url(#bl5)">
<circle cx="490.76" cy="411.22" r="0.52" fill="rgb(128,128,128)" opacity="0.8"/>
<circle cx="490.54" cy="411.32" r="0.35" fill="rgb(114,114,114)" opacity="0.8"/>
</g>
<g filter="url(#bl5)">
<circle cx="495.43" cy="414.84" r="0.39" fill="rgb(118,118,118)" opacity="0.8"/>
<circle cx="495.92" cy="414.50" r="0.59" fill="rgb(121,121,121)" opacity="0.8"/>
</g>
<g filter="url(#bl5)">
<circle cx="487.71" cy="417.72" r="0.46" fill="rgb(133,133,133)" opacity="0.8"/>
<circle cx="487.88" cy="418.06" r="0.31" fill="rgb(125,125,125)" opacity="0.8"/>
</g>
<rect x="495.8" y="426.8" width="14.2" height="1.6" fill="#fff"/>
</g>
<defs><clipPath id="h1"><rect x="237.6" y="474" width="66" height="49.8"/></clipPath><clipPath id="h2"><rect x="237.6" y="526" width="66" height="49.3"/></clipPath><filter id="hb" x="-10%" y="-10%" width="120%" height="120%"><feGaussianBlur stdDeviation="0.35"/></filter></defs>
<g clip-path="url(#h1)">
<rect x="237.6" y="474" width="66" height="49.8" fill="#a04a9e"/>
<path d="M237.60,474.00 L270.00,474.00 L303.60,474.00 L303.60,482.80 L270.00,478.60 L237.60,476.30Z" fill="#ededed" opacity="1" />
<path d="M237.60,476.30 L270.00,478.60 L303.60,482.80 L303.60,489.70 L270.00,486.00 L237.60,483.80Z" fill="#e03d98" opacity="1" />
<g filter="url(#hb)">
<circle cx="253.3" cy="483.6" r="0.62" fill="#cc2a88" opacity="0.5"/>
<circle cx="254.7" cy="479.4" r="1.00" fill="#cc2a88" opacity="0.5"/>
<circle cx="273.3" cy="483.7" r="0.64" fill="#ea70b4" opacity="0.5"/>
<circle cx="252.9" cy="478.3" r="0.96" fill="#cc2a88" opacity="0.5"/>
<circle cx="286.5" cy="485.3" r="0.44" fill="#ea70b4" opacity="0.5"/>
<circle cx="294.7" cy="482.6" r="0.83" fill="#cc2a88" opacity="0.5"/>
<circle cx="246.6" cy="479.2" r="0.98" fill="#cc2a88" opacity="0.5"/>
<circle cx="289.0" cy="487.8" r="0.65" fill="#cc2a88" opacity="0.5"/>
<circle cx="275.5" cy="483.5" r="0.64" fill="#ea70b4" opacity="0.5"/>
<circle cx="297.3" cy="485.4" r="0.96" fill="#cc2a88" opacity="0.5"/>
<circle cx="303.0" cy="485.3" r="0.50" fill="#cc2a88" opacity="0.5"/>
<circle cx="301.3" cy="488.4" r="0.74" fill="#ea70b4" opacity="0.5"/>
<circle cx="255.2" cy="478.0" r="0.69" fill="#cc2a88" opacity="0.5"/>
<circle cx="264.7" cy="478.3" r="0.58" fill="#cc2a88" opacity="0.5"/>
<circle cx="285.0" cy="480.7" r="0.93" fill="#cc2a88" opacity="0.5"/>
<circle cx="250.6" cy="481.8" r="0.77" fill="#ea70b4" opacity="0.5"/>
<circle cx="260.0" cy="481.1" r="0.48" fill="#cc2a88" opacity="0.5"/>
<circle cx="301.8" cy="487.2" r="0.56" fill="#ea70b4" opacity="0.5"/>
<circle cx="254.6" cy="480.4" r="0.60" fill="#cc2a88" opacity="0.5"/>
<circle cx="262.5" cy="484.2" r="0.48" fill="#cc2a88" opacity="0.5"/>
<circle cx="268.4" cy="485.4" r="0.61" fill="#cc2a88" opacity="0.5"/>
<circle cx="267.7" cy="484.2" r="0.59" fill="#cc2a88" opacity="0.5"/>
<circle cx="270.6" cy="485.1" r="0.56" fill="#cc2a88" opacity="0.5"/>
<circle cx="250.0" cy="482.1" r="0.82" fill="#ea70b4" opacity="0.5"/>
<circle cx="252.0" cy="483.9" r="0.56" fill="#ea70b4" opacity="0.5"/>
<circle cx="276.5" cy="481.9" r="0.71" fill="#cc2a88" opacity="0.5"/>
<circle cx="268.3" cy="484.8" r="0.57" fill="#cc2a88" opacity="0.5"/>
<circle cx="239.9" cy="481.8" r="0.52" fill="#cc2a88" opacity="0.5"/>
<circle cx="299.9" cy="488.1" r="0.99" fill="#cc2a88" opacity="0.5"/>
<circle cx="294.5" cy="487.8" r="0.98" fill="#ea70b4" opacity="0.5"/>
<circle cx="297.2" cy="485.6" r="0.95" fill="#cc2a88" opacity="0.5"/>
<circle cx="272.2" cy="481.8" r="0.96" fill="#ea70b4" opacity="0.5"/>
<circle cx="260.1" cy="479.7" r="0.92" fill="#cc2a88" opacity="0.5"/>
<circle cx="252.2" cy="477.9" r="0.93" fill="#ea70b4" opacity="0.5"/>
<circle cx="298.4" cy="487.1" r="0.89" fill="#ea70b4" opacity="0.5"/>
<circle cx="269.8" cy="483.9" r="0.64" fill="#cc2a88" opacity="0.5"/>
<circle cx="254.0" cy="484.6" r="0.71" fill="#ea70b4" opacity="0.5"/>
<circle cx="237.7" cy="477.0" r="0.48" fill="#ea70b4" opacity="0.5"/>
<circle cx="240.9" cy="482.8" r="0.42" fill="#ea70b4" opacity="0.5"/>
<circle cx="271.6" cy="482.9" r="0.49" fill="#ea70b4" opacity="0.5"/>
<circle cx="260.8" cy="485.0" r="0.75" fill="#cc2a88" opacity="0.5"/>
<circle cx="290.1" cy="483.9" r="0.43" fill="#cc2a88" opacity="0.5"/>
<circle cx="277.5" cy="486.8" r="0.63" fill="#ea70b4" opacity="0.5"/>
<circle cx="278.7" cy="482.1" r="0.62" fill="#cc2a88" opacity="0.5"/>
<circle cx="238.8" cy="479.2" r="0.56" fill="#ea70b4" opacity="0.5"/>
<circle cx="299.6" cy="486.1" r="0.91" fill="#cc2a88" opacity="0.5"/>
<circle cx="281.7" cy="486.1" r="0.74" fill="#ea70b4" opacity="0.5"/>
<circle cx="291.2" cy="485.9" r="0.68" fill="#ea70b4" opacity="0.5"/>
<circle cx="243.7" cy="477.6" r="0.93" fill="#ea70b4" opacity="0.5"/>
<circle cx="245.2" cy="482.8" r="0.82" fill="#cc2a88" opacity="0.5"/>
<circle cx="271.3" cy="485.9" r="0.46" fill="#ea70b4" opacity="0.5"/>
<circle cx="259.0" cy="483.9" r="0.90" fill="#ea70b4" opacity="0.5"/>
<circle cx="303.5" cy="485.0" r="0.67" fill="#cc2a88" opacity="0.5"/>
<circle cx="254.3" cy="484.3" r="0.96" fill="#cc2a88" opacity="0.5"/>
<circle cx="265.0" cy="483.9" r="0.75" fill="#cc2a88" opacity="0.5"/>
<circle cx="247.9" cy="481.7" r="0.93" fill="#ea70b4" opacity="0.5"/>
<circle cx="298.1" cy="483.2" r="0.67" fill="#ea70b4" opacity="0.5"/>
<circle cx="247.3" cy="483.2" r="0.96" fill="#cc2a88" opacity="0.5"/>
<circle cx="276.9" cy="484.1" r="0.99" fill="#ea70b4" opacity="0.5"/>
<circle cx="257.9" cy="479.9" r="0.88" fill="#ea70b4" opacity="0.5"/>
<circle cx="249.0" cy="481.1" r="0.59" fill="#ea70b4" opacity="0.5"/>
<circle cx="265.2" cy="485.6" r="0.82" fill="#ea70b4" opacity="0.5"/>
<circle cx="291.8" cy="483.8" r="0.69" fill="#ea70b4" opacity="0.5"/>
<circle cx="294.1" cy="481.7" r="0.84" fill="#ea70b4" opacity="0.5"/>
<circle cx="268.4" cy="479.4" r="0.54" fill="#ea70b4" opacity="0.5"/>
<circle cx="300.9" cy="487.7" r="0.55" fill="#ea70b4" opacity="0.5"/>
<circle cx="278.6" cy="485.3" r="0.42" fill="#cc2a88" opacity="0.5"/>
<circle cx="249.7" cy="477.5" r="0.88" fill="#ea70b4" opacity="0.5"/>
<circle cx="256.9" cy="481.1" r="0.75" fill="#cc2a88" opacity="0.5"/>
<circle cx="238.1" cy="480.8" r="0.66" fill="#cc2a88" opacity="0.5"/>
<circle cx="286.6" cy="482.9" r="0.48" fill="#cc2a88" opacity="0.5"/>
<circle cx="245.5" cy="480.0" r="0.80" fill="#ea70b4" opacity="0.5"/>
<circle cx="266.5" cy="483.4" r="0.55" fill="#cc2a88" opacity="0.5"/>
<circle cx="282.4" cy="481.2" r="0.67" fill="#cc2a88" opacity="0.5"/>
<circle cx="259.9" cy="483.9" r="0.72" fill="#cc2a88" opacity="0.5"/>
<circle cx="286.6" cy="485.0" r="0.84" fill="#ea70b4" opacity="0.5"/>
<circle cx="277.0" cy="483.7" r="0.79" fill="#cc2a88" opacity="0.5"/>
<circle cx="249.6" cy="483.7" r="0.75" fill="#cc2a88" opacity="0.5"/>
<circle cx="261.3" cy="479.9" r="0.63" fill="#ea70b4" opacity="0.5"/>
<circle cx="240.4" cy="483.1" r="0.55" fill="#cc2a88" opacity="0.5"/>
</g>
<path d="M237.60,483.80 L270.00,486.00 L303.60,489.70 L303.60,493.00 L270.00,490.30 L237.60,491.00Z" fill="#f2dcec" opacity="1" />
<g filter="url(#hb)">
<circle cx="278.7" cy="490.6" r="0.78" fill="#e070b8" opacity="0.65"/>
<circle cx="293.1" cy="490.9" r="0.45" fill="#e070b8" opacity="0.65"/>
<circle cx="268.6" cy="486.1" r="0.63" fill="#c858a8" opacity="0.65"/>
<circle cx="238.5" cy="485.8" r="0.47" fill="#b04aa0" opacity="0.65"/>
<circle cx="246.8" cy="489.5" r="0.38" fill="#e070b8" opacity="0.65"/>
<circle cx="248.5" cy="485.3" r="0.49" fill="#c858a8" opacity="0.65"/>
<circle cx="273.2" cy="490.0" r="0.42" fill="#c858a8" opacity="0.65"/>
<circle cx="301.4" cy="492.0" r="0.48" fill="#ffffff" opacity="0.65"/>
<circle cx="255.0" cy="486.9" r="0.79" fill="#e070b8" opacity="0.65"/>
<circle cx="276.9" cy="490.3" r="0.34" fill="#ffffff" opacity="0.65"/>
<circle cx="258.4" cy="488.2" r="0.72" fill="#e070b8" opacity="0.65"/>
<circle cx="264.3" cy="488.9" r="0.55" fill="#b04aa0" opacity="0.65"/>
<circle cx="240.7" cy="485.5" r="0.87" fill="#c858a8" opacity="0.65"/>
<circle cx="245.5" cy="486.1" r="0.79" fill="#b04aa0" opacity="0.65"/>
<circle cx="260.3" cy="487.1" r="0.61" fill="#b04aa0" opacity="0.65"/>
<circle cx="244.7" cy="490.7" r="0.78" fill="#ffffff" opacity="0.65"/>
<circle cx="243.6" cy="486.9" r="0.67" fill="#c858a8" opacity="0.65"/>
<circle cx="273.6" cy="486.7" r="0.49" fill="#c858a8" opacity="0.65"/>
<circle cx="290.3" cy="489.6" r="0.73" fill="#ffffff" opacity="0.65"/>
<circle cx="272.8" cy="487.5" r="0.44" fill="#ffffff" opacity="0.65"/>
<circle cx="246.2" cy="490.5" r="0.87" fill="#b04aa0" opacity="0.65"/>
<circle cx="244.6" cy="487.8" r="0.39" fill="#b04aa0" opacity="0.65"/>
<circle cx="257.1" cy="488.0" r="0.90" fill="#c858a8" opacity="0.65"/>
<circle cx="269.2" cy="486.5" r="0.54" fill="#c858a8" opacity="0.65"/>
<circle cx="299.5" cy="491.8" r="0.41" fill="#b04aa0" opacity="0.65"/>
<circle cx="289.5" cy="490.9" r="0.72" fill="#e070b8" opacity="0.65"/>
<circle cx="300.0" cy="489.8" r="0.65" fill="#e070b8" opacity="0.65"/>
<circle cx="259.1" cy="486.3" r="0.47" fill="#ffffff" opacity="0.65"/>
<circle cx="260.6" cy="489.7" r="0.74" fill="#b04aa0" opacity="0.65"/>
<circle cx="295.0" cy="490.1" r="0.89" fill="#ffffff" opacity="0.65"/>
<circle cx="271.8" cy="488.7" r="0.40" fill="#ffffff" opacity="0.65"/>
<circle cx="283.2" cy="490.4" r="0.74" fill="#c858a8" opacity="0.65"/>
<circle cx="257.6" cy="488.9" r="0.82" fill="#ffffff" opacity="0.65"/>
<circle cx="248.2" cy="487.9" r="0.69" fill="#c858a8" opacity="0.65"/>
<circle cx="273.8" cy="487.6" r="0.51" fill="#e070b8" opacity="0.65"/>
<circle cx="264.4" cy="486.4" r="0.55" fill="#e070b8" opacity="0.65"/>
<circle cx="283.1" cy="488.8" r="0.88" fill="#ffffff" opacity="0.65"/>
<circle cx="243.9" cy="488.8" r="0.50" fill="#ffffff" opacity="0.65"/>
<circle cx="300.8" cy="491.3" r="0.55" fill="#ffffff" opacity="0.65"/>
<circle cx="262.9" cy="488.2" r="0.42" fill="#c858a8" opacity="0.65"/>
<circle cx="277.8" cy="487.0" r="0.84" fill="#e070b8" opacity="0.65"/>
<circle cx="262.8" cy="486.8" r="0.85" fill="#c858a8" opacity="0.65"/>
<circle cx="274.8" cy="487.7" r="0.89" fill="#b04aa0" opacity="0.65"/>
<circle cx="297.9" cy="489.3" r="0.46" fill="#ffffff" opacity="0.65"/>
<circle cx="270.4" cy="487.6" r="0.49" fill="#ffffff" opacity="0.65"/>
<circle cx="270.1" cy="486.4" r="0.59" fill="#e070b8" opacity="0.65"/>
<circle cx="246.6" cy="487.4" r="0.59" fill="#ffffff" opacity="0.65"/>
<circle cx="253.7" cy="488.2" r="0.32" fill="#b04aa0" opacity="0.65"/>
<circle cx="255.3" cy="485.2" r="0.89" fill="#ffffff" opacity="0.65"/>
<circle cx="295.7" cy="492.0" r="0.31" fill="#c858a8" opacity="0.65"/>
<circle cx="257.4" cy="488.7" r="0.50" fill="#ffffff" opacity="0.65"/>
<circle cx="260.7" cy="490.1" r="0.79" fill="#c858a8" opacity="0.65"/>
<circle cx="240.0" cy="486.1" r="0.57" fill="#e070b8" opacity="0.65"/>
<circle cx="238.6" cy="491.0" r="0.56" fill="#b04aa0" opacity="0.65"/>
<circle cx="294.3" cy="491.5" r="0.59" fill="#c858a8" opacity="0.65"/>
<circle cx="237.8" cy="491.0" r="0.65" fill="#b04aa0" opacity="0.65"/>
<circle cx="269.2" cy="488.9" r="0.60" fill="#ffffff" opacity="0.65"/>
<circle cx="273.1" cy="487.7" r="0.62" fill="#e070b8" opacity="0.65"/>
<circle cx="242.1" cy="485.9" r="0.79" fill="#e070b8" opacity="0.65"/>
<circle cx="303.5" cy="490.3" r="0.33" fill="#e070b8" opacity="0.65"/>
<circle cx="252.1" cy="489.7" r="0.87" fill="#c858a8" opacity="0.65"/>
<circle cx="303.2" cy="490.3" r="0.56" fill="#c858a8" opacity="0.65"/>
<circle cx="277.9" cy="487.6" r="0.40" fill="#c858a8" opacity="0.65"/>
<circle cx="240.5" cy="484.8" r="0.53" fill="#e070b8" opacity="0.65"/>
<circle cx="256.1" cy="489.1" r="0.37" fill="#b04aa0" opacity="0.65"/>
<circle cx="266.1" cy="486.7" r="0.66" fill="#b04aa0" opacity="0.65"/>
<circle cx="260.9" cy="489.8" r="0.85" fill="#c858a8" opacity="0.65"/>
<circle cx="279.3" cy="488.5" r="0.85" fill="#c858a8" opacity="0.65"/>
<circle cx="255.0" cy="488.9" r="0.45" fill="#ffffff" opacity="0.65"/>
<circle cx="253.1" cy="487.2" r="0.74" fill="#c858a8" opacity="0.65"/>
<circle cx="260.1" cy="489.1" r="0.32" fill="#e070b8" opacity="0.65"/>
<circle cx="271.0" cy="488.0" r="0.53" fill="#b04aa0" opacity="0.65"/>
<circle cx="269.3" cy="486.8" r="0.78" fill="#e070b8" opacity="0.65"/>
<circle cx="273.4" cy="487.3" r="0.81" fill="#b04aa0" opacity="0.65"/>
<circle cx="246.8" cy="489.5" r="0.51" fill="#c858a8" opacity="0.65"/>
<circle cx="284.2" cy="491.1" r="0.53" fill="#ffffff" opacity="0.65"/>
<circle cx="271.8" cy="489.3" r="0.64" fill="#c858a8" opacity="0.65"/>
<circle cx="239.8" cy="485.7" r="0.32" fill="#b04aa0" opacity="0.65"/>
<circle cx="265.8" cy="486.6" r="0.86" fill="#b04aa0" opacity="0.65"/>
<circle cx="258.9" cy="488.0" r="0.41" fill="#c858a8" opacity="0.65"/>
<circle cx="291.6" cy="490.7" r="0.70" fill="#e070b8" opacity="0.65"/>
<circle cx="299.5" cy="490.1" r="0.70" fill="#b04aa0" opacity="0.65"/>
<circle cx="267.6" cy="486.0" r="0.90" fill="#e070b8" opacity="0.65"/>
<circle cx="261.6" cy="486.7" r="0.58" fill="#ffffff" opacity="0.65"/>
<circle cx="249.2" cy="485.7" r="0.33" fill="#b04aa0" opacity="0.65"/>
<circle cx="268.1" cy="488.0" r="0.71" fill="#c858a8" opacity="0.65"/>
<circle cx="240.6" cy="488.8" r="0.89" fill="#ffffff" opacity="0.65"/>
<circle cx="299.6" cy="490.4" r="0.44" fill="#b04aa0" opacity="0.65"/>
<circle cx="243.7" cy="488.1" r="0.71" fill="#e070b8" opacity="0.65"/>
<circle cx="267.0" cy="489.7" r="0.83" fill="#c858a8" opacity="0.65"/>
<circle cx="249.4" cy="488.5" r="0.54" fill="#c858a8" opacity="0.65"/>
<circle cx="243.2" cy="486.7" r="0.36" fill="#c858a8" opacity="0.65"/>
<circle cx="273.2" cy="488.3" r="0.64" fill="#b04aa0" opacity="0.65"/>
<circle cx="238.4" cy="490.8" r="0.71" fill="#c858a8" opacity="0.65"/>
<circle cx="255.0" cy="487.5" r="0.38" fill="#e070b8" opacity="0.65"/>
<circle cx="268.7" cy="490.2" r="0.78" fill="#c858a8" opacity="0.65"/>
<circle cx="255.8" cy="488.3" r="0.45" fill="#c858a8" opacity="0.65"/>
<circle cx="247.1" cy="490.1" r="0.77" fill="#e070b8" opacity="0.65"/>
<circle cx="285.6" cy="490.3" r="0.46" fill="#b04aa0" opacity="0.65"/>
<circle cx="274.7" cy="486.8" r="0.48" fill="#c858a8" opacity="0.65"/>
<circle cx="254.9" cy="490.0" r="0.47" fill="#e070b8" opacity="0.65"/>
<circle cx="239.4" cy="484.9" r="0.88" fill="#ffffff" opacity="0.65"/>
<circle cx="266.4" cy="486.2" r="0.87" fill="#e070b8" opacity="0.65"/>
<circle cx="252.9" cy="487.7" r="0.52" fill="#ffffff" opacity="0.65"/>
<circle cx="277.6" cy="489.6" r="0.39" fill="#b04aa0" opacity="0.65"/>
<circle cx="268.0" cy="487.8" r="0.56" fill="#c858a8" opacity="0.65"/>
<circle cx="239.8" cy="489.1" r="0.59" fill="#ffffff" opacity="0.65"/>
<circle cx="263.5" cy="485.8" r="0.47" fill="#c858a8" opacity="0.65"/>
<circle cx="257.6" cy="488.5" r="0.76" fill="#c858a8" opacity="0.65"/>
<circle cx="291.3" cy="489.9" r="0.85" fill="#e070b8" opacity="0.65"/>
</g>
<path d="M237.60,491.00 L270.00,490.30 L303.60,493.00 L303.60,494.30 L270.00,493.00 L237.60,493.00Z" fill="#d8509f" opacity="1" />
<path d="M237.60,493.00 L270.00,493.00 L303.60,494.30 L303.60,516.80 L270.00,514.00 L237.60,514.50Z" fill="#9c469d" opacity="1" />
<g filter="url(#hb)">
<rect x="268.10" y="496.1" width="0.73" height="12.1" fill="#8a3592" opacity="0.45" transform="rotate(-3.9 268.1 504)"/>
<rect x="268.14" y="496.3" width="1.26" height="12.3" fill="#7a2c88" opacity="0.45" transform="rotate(5.5 268.1 504)"/>
<rect x="249.01" y="498.8" width="0.90" height="7.5" fill="#d27cc0" opacity="0.45" transform="rotate(-10.8 249.0 504)"/>
<rect x="246.61" y="498.1" width="0.87" height="12.7" fill="#7a2c88" opacity="0.45" transform="rotate(-9.6 246.6 504)"/>
<rect x="256.93" y="497.9" width="0.90" height="6.8" fill="#c262b2" opacity="0.45" transform="rotate(-5.6 256.9 504)"/>
<rect x="251.64" y="496.4" width="0.63" height="12.4" fill="#8a3592" opacity="0.45" transform="rotate(-11.9 251.6 504)"/>
<rect x="264.73" y="498.4" width="0.70" height="8.1" fill="#d27cc0" opacity="0.45" transform="rotate(5.7 264.7 504)"/>
<rect x="293.30" y="495.5" width="1.01" height="14.1" fill="#7a2c88" opacity="0.45" transform="rotate(-7.1 293.3 504)"/>
<rect x="238.54" y="495.5" width="1.24" height="10.5" fill="#7a2c88" opacity="0.45" transform="rotate(1.8 238.5 504)"/>
<rect x="272.94" y="496.7" width="0.88" height="11.7" fill="#c262b2" opacity="0.45" transform="rotate(-9.8 272.9 504)"/>
<rect x="275.69" y="498.8" width="1.10" height="6.4" fill="#c262b2" opacity="0.45" transform="rotate(-5.5 275.7 504)"/>
<rect x="282.41" y="498.0" width="1.12" height="11.2" fill="#c262b2" opacity="0.45" transform="rotate(-11.2 282.4 504)"/>
<rect x="294.46" y="498.8" width="0.77" height="11.5" fill="#d27cc0" opacity="0.45" transform="rotate(-11.0 294.5 504)"/>
<rect x="261.79" y="498.5" width="0.68" height="13.9" fill="#7a2c88" opacity="0.45" transform="rotate(-3.2 261.8 504)"/>
<rect x="251.65" y="498.9" width="1.00" height="6.2" fill="#c262b2" opacity="0.45" transform="rotate(7.2 251.7 504)"/>
<rect x="259.37" y="495.4" width="0.76" height="8.4" fill="#d27cc0" opacity="0.45" transform="rotate(7.6 259.4 504)"/>
<rect x="257.96" y="495.4" width="1.15" height="6.2" fill="#8a3592" opacity="0.45" transform="rotate(6.7 258.0 504)"/>
<rect x="290.49" y="496.4" width="1.14" height="11.1" fill="#d27cc0" opacity="0.45" transform="rotate(-10.4 290.5 504)"/>
<rect x="280.11" y="498.9" width="0.88" height="9.4" fill="#7a2c88" opacity="0.45" transform="rotate(8.6 280.1 504)"/>
<rect x="262.01" y="495.7" width="1.19" height="8.3" fill="#8a3592" opacity="0.45" transform="rotate(-10.8 262.0 504)"/>
<rect x="301.39" y="496.1" width="0.71" height="7.1" fill="#c262b2" opacity="0.45" transform="rotate(-8.4 301.4 504)"/>
<rect x="241.17" y="495.8" width="0.87" height="11.5" fill="#d27cc0" opacity="0.45" transform="rotate(11.2 241.2 504)"/>
<rect x="261.04" y="496.9" width="0.79" height="14.7" fill="#c262b2" opacity="0.45" transform="rotate(5.9 261.0 504)"/>
<rect x="257.24" y="495.3" width="0.92" height="12.3" fill="#7a2c88" opacity="0.45" transform="rotate(6.3 257.2 504)"/>
<rect x="262.90" y="497.7" width="0.79" height="11.4" fill="#c262b2" opacity="0.45" transform="rotate(2.6 262.9 504)"/>
<rect x="260.68" y="496.1" width="0.69" height="13.2" fill="#7a2c88" opacity="0.45" transform="rotate(7.7 260.7 504)"/>
<rect x="248.54" y="498.4" width="0.74" height="10.3" fill="#c262b2" opacity="0.45" transform="rotate(2.2 248.5 504)"/>
<rect x="273.46" y="495.7" width="0.94" height="14.5" fill="#7a2c88" opacity="0.45" transform="rotate(0.9 273.5 504)"/>
<rect x="299.18" y="497.3" width="1.01" height="9.9" fill="#7a2c88" opacity="0.45" transform="rotate(-4.6 299.2 504)"/>
<rect x="272.25" y="498.5" width="1.00" height="14.6" fill="#7a2c88" opacity="0.45" transform="rotate(-10.5 272.3 504)"/>
<rect x="252.58" y="495.4" width="1.09" height="10.1" fill="#c262b2" opacity="0.45" transform="rotate(-0.2 252.6 504)"/>
<rect x="279.39" y="497.7" width="0.62" height="8.2" fill="#7a2c88" opacity="0.45" transform="rotate(-1.0 279.4 504)"/>
<rect x="262.13" y="498.5" width="0.63" height="11.4" fill="#d27cc0" opacity="0.45" transform="rotate(2.7 262.1 504)"/>
<rect x="282.07" y="497.4" width="0.66" height="6.3" fill="#d27cc0" opacity="0.45" transform="rotate(6.1 282.1 504)"/>
<rect x="243.49" y="496.4" width="0.93" height="10.8" fill="#7a2c88" opacity="0.45" transform="rotate(-11.4 243.5 504)"/>
<rect x="288.41" y="495.3" width="0.83" height="10.2" fill="#8a3592" opacity="0.45" transform="rotate(-1.2 288.4 504)"/>
<rect x="247.66" y="498.9" width="1.18" height="7.0" fill="#d27cc0" opacity="0.45" transform="rotate(-3.6 247.7 504)"/>
<rect x="253.04" y="495.8" width="0.75" height="7.0" fill="#c262b2" opacity="0.45" transform="rotate(-9.1 253.0 504)"/>
<rect x="298.98" y="496.5" width="1.12" height="10.2" fill="#7a2c88" opacity="0.45" transform="rotate(0.5 299.0 504)"/>
<rect x="262.02" y="495.9" width="0.78" height="10.7" fill="#7a2c88" opacity="0.45" transform="rotate(-7.3 262.0 504)"/>
<circle cx="290.0" cy="512.6" r="0.64" fill="#e090cc" opacity="0.5"/>
<circle cx="240.0" cy="496.5" r="0.71" fill="#e090cc" opacity="0.5"/>
<circle cx="258.7" cy="493.5" r="0.64" fill="#7f2f8c" opacity="0.5"/>
<circle cx="285.8" cy="502.9" r="0.68" fill="#c873bc" opacity="0.5"/>
<circle cx="250.3" cy="506.2" r="0.86" fill="#e090cc" opacity="0.5"/>
<circle cx="281.4" cy="507.5" r="0.36" fill="#6c2480" opacity="0.5"/>
<circle cx="259.7" cy="495.2" r="0.86" fill="#e090cc" opacity="0.5"/>
<circle cx="267.0" cy="495.2" r="0.44" fill="#e090cc" opacity="0.5"/>
<circle cx="244.0" cy="494.1" r="0.93" fill="#e090cc" opacity="0.5"/>
<circle cx="269.7" cy="512.8" r="0.44" fill="#c873bc" opacity="0.5"/>
<circle cx="279.4" cy="498.8" r="0.60" fill="#e090cc" opacity="0.5"/>
<circle cx="276.5" cy="495.1" r="0.92" fill="#7f2f8c" opacity="0.5"/>
<circle cx="245.3" cy="508.8" r="0.52" fill="#7f2f8c" opacity="0.5"/>
<circle cx="262.7" cy="498.3" r="0.72" fill="#c873bc" opacity="0.5"/>
<circle cx="250.1" cy="497.0" r="0.75" fill="#e090cc" opacity="0.5"/>
<circle cx="262.3" cy="505.6" r="0.50" fill="#6c2480" opacity="0.5"/>
<circle cx="241.2" cy="503.1" r="0.82" fill="#6c2480" opacity="0.5"/>
<circle cx="243.9" cy="503.5" r="0.86" fill="#c873bc" opacity="0.5"/>
<circle cx="296.5" cy="509.0" r="0.92" fill="#6c2480" opacity="0.5"/>
<circle cx="289.3" cy="502.0" r="0.35" fill="#6c2480" opacity="0.5"/>
<circle cx="268.7" cy="509.8" r="0.59" fill="#c873bc" opacity="0.5"/>
<circle cx="250.3" cy="509.2" r="0.62" fill="#7f2f8c" opacity="0.5"/>
<circle cx="238.8" cy="505.8" r="0.48" fill="#e090cc" opacity="0.5"/>
<circle cx="250.0" cy="505.0" r="0.53" fill="#e090cc" opacity="0.5"/>
<circle cx="302.4" cy="515.1" r="0.60" fill="#6c2480" opacity="0.5"/>
<circle cx="255.3" cy="504.3" r="0.63" fill="#7f2f8c" opacity="0.5"/>
<circle cx="285.2" cy="504.8" r="0.74" fill="#6c2480" opacity="0.5"/>
<circle cx="258.9" cy="508.7" r="0.98" fill="#6c2480" opacity="0.5"/>
<circle cx="283.4" cy="499.3" r="0.75" fill="#6c2480" opacity="0.5"/>
<circle cx="285.7" cy="496.8" r="0.88" fill="#c873bc" opacity="0.5"/>
<circle cx="249.7" cy="507.5" r="0.70" fill="#e090cc" opacity="0.5"/>
<circle cx="293.9" cy="494.5" r="0.43" fill="#e090cc" opacity="0.5"/>
<circle cx="278.1" cy="503.0" r="0.85" fill="#6c2480" opacity="0.5"/>
<circle cx="242.6" cy="498.5" r="0.56" fill="#7f2f8c" opacity="0.5"/>
<circle cx="282.5" cy="498.8" r="0.52" fill="#c873bc" opacity="0.5"/>
<circle cx="279.0" cy="495.3" r="0.37" fill="#6c2480" opacity="0.5"/>
<circle cx="279.1" cy="509.7" r="0.39" fill="#c873bc" opacity="0.5"/>
<circle cx="248.2" cy="508.0" r="0.49" fill="#6c2480" opacity="0.5"/>
<circle cx="270.6" cy="493.5" r="0.75" fill="#7f2f8c" opacity="0.5"/>
<circle cx="297.6" cy="503.5" r="0.84" fill="#6c2480" opacity="0.5"/>
<circle cx="274.5" cy="504.4" r="0.71" fill="#e090cc" opacity="0.5"/>
<circle cx="302.2" cy="499.8" r="0.96" fill="#c873bc" opacity="0.5"/>
<circle cx="270.8" cy="499.6" r="0.49" fill="#6c2480" opacity="0.5"/>
<circle cx="239.7" cy="495.0" r="0.87" fill="#7f2f8c" opacity="0.5"/>
<circle cx="272.9" cy="493.8" r="0.42" fill="#e090cc" opacity="0.5"/>
<circle cx="286.4" cy="510.9" r="0.45" fill="#6c2480" opacity="0.5"/>
<circle cx="260.3" cy="494.8" r="0.81" fill="#c873bc" opacity="0.5"/>
<circle cx="264.0" cy="496.2" r="0.82" fill="#c873bc" opacity="0.5"/>
<circle cx="246.1" cy="501.3" r="0.98" fill="#7f2f8c" opacity="0.5"/>
<circle cx="272.3" cy="496.6" r="0.50" fill="#7f2f8c" opacity="0.5"/>
<circle cx="271.1" cy="513.2" r="0.86" fill="#7f2f8c" opacity="0.5"/>
<circle cx="283.5" cy="510.0" r="0.39" fill="#7f2f8c" opacity="0.5"/>
<circle cx="290.7" cy="502.2" r="0.83" fill="#6c2480" opacity="0.5"/>
<circle cx="272.3" cy="493.2" r="0.89" fill="#7f2f8c" opacity="0.5"/>
<circle cx="284.9" cy="508.4" r="0.86" fill="#e090cc" opacity="0.5"/>
<circle cx="255.5" cy="497.4" r="0.40" fill="#7f2f8c" opacity="0.5"/>
<circle cx="263.0" cy="494.5" r="0.33" fill="#c873bc" opacity="0.5"/>
<circle cx="245.2" cy="509.9" r="0.37" fill="#e090cc" opacity="0.5"/>
<circle cx="276.9" cy="494.4" r="0.46" fill="#6c2480" opacity="0.5"/>
<circle cx="252.5" cy="506.5" r="0.95" fill="#e090cc" opacity="0.5"/>
<circle cx="243.7" cy="494.8" r="0.70" fill="#c873bc" opacity="0.5"/>
<circle cx="248.7" cy="508.7" r="0.38" fill="#c873bc" opacity="0.5"/>
<circle cx="283.9" cy="497.2" r="0.78" fill="#c873bc" opacity="0.5"/>
<circle cx="287.1" cy="509.1" r="0.81" fill="#e090cc" opacity="0.5"/>
<circle cx="254.5" cy="498.5" r="0.87" fill="#7f2f8c" opacity="0.5"/>
<circle cx="255.9" cy="493.3" r="0.67" fill="#e090cc" opacity="0.5"/>
<circle cx="288.9" cy="495.2" r="0.72" fill="#c873bc" opacity="0.5"/>
<circle cx="261.5" cy="509.5" r="0.46" fill="#c873bc" opacity="0.5"/>
<circle cx="261.4" cy="509.5" r="0.54" fill="#c873bc" opacity="0.5"/>
<circle cx="260.3" cy="493.7" r="0.54" fill="#6c2480" opacity="0.5"/>
<circle cx="237.8" cy="512.7" r="0.36" fill="#e090cc" opacity="0.5"/>
<circle cx="252.8" cy="496.0" r="0.68" fill="#7f2f8c" opacity="0.5"/>
<circle cx="302.1" cy="502.1" r="0.72" fill="#6c2480" opacity="0.5"/>
<circle cx="298.9" cy="499.0" r="0.51" fill="#c873bc" opacity="0.5"/>
<circle cx="250.3" cy="503.7" r="0.87" fill="#c873bc" opacity="0.5"/>
<circle cx="300.2" cy="512.3" r="0.66" fill="#c873bc" opacity="0.5"/>
<circle cx="247.6" cy="502.4" r="0.64" fill="#6c2480" opacity="0.5"/>
<circle cx="251.8" cy="508.3" r="0.57" fill="#6c2480" opacity="0.5"/>
<circle cx="295.0" cy="513.3" r="0.54" fill="#e090cc" opacity="0.5"/>
<circle cx="258.7" cy="499.8" r="0.71" fill="#e090cc" opacity="0.5"/>
<circle cx="252.3" cy="511.6" r="0.42" fill="#6c2480" opacity="0.5"/>
<circle cx="278.7" cy="511.3" r="0.95" fill="#c873bc" opacity="0.5"/>
<circle cx="250.4" cy="502.8" r="0.83" fill="#7f2f8c" opacity="0.5"/>
<circle cx="271.9" cy="511.5" r="0.64" fill="#e090cc" opacity="0.5"/>
<circle cx="295.9" cy="500.8" r="0.80" fill="#6c2480" opacity="0.5"/>
<circle cx="294.8" cy="508.5" r="0.86" fill="#c873bc" opacity="0.5"/>
<circle cx="254.9" cy="494.0" r="0.71" fill="#7f2f8c" opacity="0.5"/>
<circle cx="291.7" cy="505.1" r="0.85" fill="#c873bc" opacity="0.5"/>
<circle cx="243.3" cy="512.8" r="0.83" fill="#7f2f8c" opacity="0.5"/>
<circle cx="260.8" cy="496.8" r="0.81" fill="#7f2f8c" opacity="0.5"/>
<circle cx="249.2" cy="497.4" r="0.74" fill="#6c2480" opacity="0.5"/>
<circle cx="286.4" cy="503.9" r="0.38" fill="#7f2f8c" opacity="0.5"/>
<circle cx="267.7" cy="512.1" r="0.70" fill="#7f2f8c" opacity="0.5"/>
<circle cx="301.7" cy="507.9" r="0.94" fill="#e090cc" opacity="0.5"/>
<circle cx="287.3" cy="494.5" r="0.76" fill="#6c2480" opacity="0.5"/>
<circle cx="303.2" cy="503.8" r="0.34" fill="#e090cc" opacity="0.5"/>
<circle cx="296.5" cy="495.4" r="0.95" fill="#e090cc" opacity="0.5"/>
<circle cx="244.3" cy="512.9" r="0.56" fill="#7f2f8c" opacity="0.5"/>
<circle cx="262.0" cy="511.1" r="0.82" fill="#c873bc" opacity="0.5"/>
<circle cx="300.0" cy="514.2" r="0.41" fill="#6c2480" opacity="0.5"/>
<circle cx="299.8" cy="496.0" r="0.69" fill="#e090cc" opacity="0.5"/>
<circle cx="242.2" cy="495.9" r="0.79" fill="#7f2f8c" opacity="0.5"/>
<circle cx="266.5" cy="499.1" r="0.68" fill="#e090cc" opacity="0.5"/>
<circle cx="257.0" cy="509.4" r="0.49" fill="#c873bc" opacity="0.5"/>
<circle cx="270.6" cy="498.9" r="0.99" fill="#c873bc" opacity="0.5"/>
<circle cx="272.4" cy="512.5" r="0.69" fill="#e090cc" opacity="0.5"/>
<circle cx="248.8" cy="493.8" r="0.31" fill="#7f2f8c" opacity="0.5"/>
<circle cx="275.3" cy="497.5" r="0.49" fill="#e090cc" opacity="0.5"/>
<circle cx="285.6" cy="509.7" r="0.92" fill="#7f2f8c" opacity="0.5"/>
<circle cx="284.3" cy="497.1" r="0.30" fill="#e090cc" opacity="0.5"/>
<circle cx="275.7" cy="501.3" r="0.63" fill="#7f2f8c" opacity="0.5"/>
<circle cx="278.7" cy="495.9" r="0.81" fill="#6c2480" opacity="0.5"/>
<circle cx="241.2" cy="514.2" r="0.44" fill="#6c2480" opacity="0.5"/>
<circle cx="255.4" cy="508.2" r="0.98" fill="#6c2480" opacity="0.5"/>
<circle cx="281.3" cy="505.0" r="0.67" fill="#e090cc" opacity="0.5"/>
<circle cx="279.9" cy="501.6" r="0.85" fill="#e090cc" opacity="0.5"/>
<circle cx="243.8" cy="511.2" r="0.59" fill="#7f2f8c" opacity="0.5"/>
<circle cx="299.5" cy="494.5" r="0.65" fill="#c873bc" opacity="0.5"/>
<circle cx="242.8" cy="495.7" r="0.61" fill="#c873bc" opacity="0.5"/>
<circle cx="249.3" cy="499.3" r="0.30" fill="#e090cc" opacity="0.5"/>
<circle cx="284.8" cy="501.2" r="0.58" fill="#c873bc" opacity="0.5"/>
<circle cx="286.5" cy="499.7" r="0.65" fill="#e090cc" opacity="0.5"/>
<circle cx="296.6" cy="498.7" r="0.31" fill="#c873bc" opacity="0.5"/>
<circle cx="288.8" cy="505.9" r="0.57" fill="#7f2f8c" opacity="0.5"/>
<circle cx="289.3" cy="508.3" r="0.90" fill="#c873bc" opacity="0.5"/>
<circle cx="244.7" cy="511.9" r="0.39" fill="#c873bc" opacity="0.5"/>
<circle cx="239.6" cy="499.1" r="0.45" fill="#e090cc" opacity="0.5"/>
<circle cx="288.0" cy="514.2" r="0.41" fill="#c873bc" opacity="0.5"/>
<circle cx="289.9" cy="507.2" r="0.92" fill="#6c2480" opacity="0.5"/>
<circle cx="278.0" cy="504.6" r="0.53" fill="#6c2480" opacity="0.5"/>
<circle cx="250.3" cy="497.2" r="0.38" fill="#7f2f8c" opacity="0.5"/>
<circle cx="263.4" cy="507.0" r="0.63" fill="#e090cc" opacity="0.5"/>
<circle cx="276.7" cy="507.2" r="0.43" fill="#7f2f8c" opacity="0.5"/>
<circle cx="286.2" cy="502.7" r="0.58" fill="#c873bc" opacity="0.5"/>
<circle cx="258.4" cy="512.1" r="0.75" fill="#6c2480" opacity="0.5"/>
<circle cx="262.5" cy="501.6" r="0.80" fill="#e090cc" opacity="0.5"/>
<circle cx="276.1" cy="494.4" r="0.75" fill="#7f2f8c" opacity="0.5"/>
<circle cx="257.7" cy="507.0" r="0.63" fill="#c873bc" opacity="0.5"/>
<circle cx="268.0" cy="506.7" r="0.56" fill="#6c2480" opacity="0.5"/>
<circle cx="282.3" cy="504.2" r="0.53" fill="#6c2480" opacity="0.5"/>
<circle cx="266.2" cy="504.6" r="0.90" fill="#c873bc" opacity="0.5"/>
<circle cx="277.7" cy="504.4" r="0.75" fill="#c873bc" opacity="0.5"/>
<circle cx="271.6" cy="501.4" r="0.55" fill="#7f2f8c" opacity="0.5"/>
<circle cx="269.3" cy="494.7" r="0.71" fill="#c873bc" opacity="0.5"/>
<circle cx="239.6" cy="512.4" r="0.46" fill="#e090cc" opacity="0.5"/>
<circle cx="292.3" cy="507.5" r="0.98" fill="#e090cc" opacity="0.5"/>
<circle cx="292.5" cy="502.2" r="0.80" fill="#c873bc" opacity="0.5"/>
<circle cx="278.5" cy="503.0" r="0.42" fill="#e090cc" opacity="0.5"/>
<circle cx="240.1" cy="505.9" r="0.44" fill="#c873bc" opacity="0.5"/>
<circle cx="291.8" cy="504.3" r="0.37" fill="#6c2480" opacity="0.5"/>
<circle cx="268.7" cy="497.9" r="1.00" fill="#c873bc" opacity="0.5"/>
<circle cx="294.8" cy="499.4" r="0.45" fill="#6c2480" opacity="0.5"/>
<circle cx="262.0" cy="501.8" r="0.83" fill="#e090cc" opacity="0.5"/>
<circle cx="293.1" cy="510.7" r="0.93" fill="#c873bc" opacity="0.5"/>
<circle cx="270.7" cy="497.8" r="0.98" fill="#c873bc" opacity="0.5"/>
<circle cx="282.1" cy="508.2" r="0.32" fill="#c873bc" opacity="0.5"/>
<circle cx="285.9" cy="495.8" r="0.72" fill="#7f2f8c" opacity="0.5"/>
<circle cx="271.0" cy="511.0" r="0.66" fill="#6c2480" opacity="0.5"/>
<circle cx="301.9" cy="514.1" r="0.43" fill="#7f2f8c" opacity="0.5"/>
<circle cx="288.2" cy="511.3" r="0.31" fill="#e090cc" opacity="0.5"/>
<circle cx="251.7" cy="506.5" r="0.41" fill="#c873bc" opacity="0.5"/>
<circle cx="239.5" cy="495.5" r="0.66" fill="#7f2f8c" opacity="0.5"/>
<circle cx="281.5" cy="510.4" r="0.69" fill="#6c2480" opacity="0.5"/>
<circle cx="243.5" cy="513.6" r="0.72" fill="#7f2f8c" opacity="0.5"/>
<circle cx="299.8" cy="509.0" r="0.44" fill="#e090cc" opacity="0.5"/>
<circle cx="265.4" cy="509.6" r="0.76" fill="#6c2480" opacity="0.5"/>
<circle cx="251.8" cy="500.1" r="0.82" fill="#e090cc" opacity="0.5"/>
<circle cx="287.5" cy="508.5" r="0.52" fill="#e090cc" opacity="0.5"/>
<circle cx="264.4" cy="501.5" r="0.59" fill="#e090cc" opacity="0.5"/>
<circle cx="289.3" cy="507.4" r="0.76" fill="#e090cc" opacity="0.5"/>
<circle cx="280.9" cy="507.5" r="0.65" fill="#c873bc" opacity="0.5"/>
<circle cx="247.5" cy="498.3" r="0.48" fill="#c873bc" opacity="0.5"/>
<circle cx="301.5" cy="506.0" r="0.34" fill="#c873bc" opacity="0.5"/>
<circle cx="269.9" cy="496.0" r="0.53" fill="#e090cc" opacity="0.5"/>
<circle cx="276.1" cy="511.9" r="0.90" fill="#e090cc" opacity="0.5"/>
<circle cx="279.3" cy="495.1" r="0.75" fill="#e090cc" opacity="0.5"/>
<circle cx="303.2" cy="506.8" r="0.94" fill="#7f2f8c" opacity="0.5"/>
<circle cx="251.4" cy="503.3" r="0.93" fill="#e090cc" opacity="0.5"/>
<circle cx="289.9" cy="514.6" r="0.95" fill="#6c2480" opacity="0.5"/>
<circle cx="262.9" cy="506.4" r="0.88" fill="#c873bc" opacity="0.5"/>
<circle cx="249.9" cy="506.3" r="0.99" fill="#7f2f8c" opacity="0.5"/>
<circle cx="272.2" cy="498.9" r="0.42" fill="#7f2f8c" opacity="0.5"/>
<circle cx="277.6" cy="501.4" r="0.69" fill="#7f2f8c" opacity="0.5"/>
<circle cx="248.2" cy="496.0" r="0.86" fill="#6c2480" opacity="0.5"/>
<circle cx="241.2" cy="494.9" r="0.69" fill="#e090cc" opacity="0.5"/>
<circle cx="262.2" cy="502.6" r="0.66" fill="#7f2f8c" opacity="0.5"/>
<circle cx="265.1" cy="507.1" r="0.60" fill="#6c2480" opacity="0.5"/>
<circle cx="262.7" cy="506.3" r="0.72" fill="#7f2f8c" opacity="0.5"/>
<circle cx="240.9" cy="510.4" r="0.90" fill="#6c2480" opacity="0.5"/>
<circle cx="281.3" cy="502.3" r="0.73" fill="#6c2480" opacity="0.5"/>
<circle cx="259.5" cy="507.6" r="0.78" fill="#c873bc" opacity="0.5"/>
<circle cx="284.2" cy="495.4" r="0.43" fill="#6c2480" opacity="0.5"/>
<circle cx="282.3" cy="510.4" r="0.85" fill="#c873bc" opacity="0.5"/>
<circle cx="261.2" cy="497.4" r="0.33" fill="#6c2480" opacity="0.5"/>
<circle cx="238.1" cy="514.0" r="0.79" fill="#c873bc" opacity="0.5"/>
<circle cx="250.9" cy="496.8" r="0.31" fill="#e090cc" opacity="0.5"/>
<circle cx="253.8" cy="496.5" r="0.56" fill="#7f2f8c" opacity="0.5"/>
<circle cx="259.2" cy="509.7" r="0.45" fill="#c873bc" opacity="0.5"/>
<circle cx="298.8" cy="508.0" r="0.62" fill="#c873bc" opacity="0.5"/>
<circle cx="251.9" cy="506.5" r="0.74" fill="#c873bc" opacity="0.5"/>
<circle cx="275.0" cy="498.4" r="0.84" fill="#e090cc" opacity="0.5"/>
<circle cx="294.4" cy="499.5" r="0.60" fill="#e090cc" opacity="0.5"/>
<circle cx="267.2" cy="501.3" r="0.38" fill="#6c2480" opacity="0.5"/>
<circle cx="295.1" cy="499.4" r="0.46" fill="#c873bc" opacity="0.5"/>
<circle cx="248.0" cy="493.4" r="0.65" fill="#c873bc" opacity="0.5"/>
<circle cx="265.5" cy="496.0" r="0.31" fill="#c873bc" opacity="0.5"/>
<circle cx="255.8" cy="513.3" r="0.96" fill="#7f2f8c" opacity="0.5"/>
<circle cx="287.7" cy="507.0" r="0.78" fill="#c873bc" opacity="0.5"/>
<circle cx="283.2" cy="500.7" r="0.85" fill="#c873bc" opacity="0.5"/>
<circle cx="298.6" cy="510.3" r="0.69" fill="#7f2f8c" opacity="0.5"/>
<circle cx="293.4" cy="515.5" r="0.94" fill="#6c2480" opacity="0.5"/>
<circle cx="255.9" cy="506.4" r="0.57" fill="#e090cc" opacity="0.5"/>
<circle cx="289.6" cy="504.2" r="0.75" fill="#c873bc" opacity="0.5"/>
<circle cx="279.6" cy="500.1" r="0.40" fill="#7f2f8c" opacity="0.5"/>
<circle cx="257.2" cy="496.1" r="0.30" fill="#e090cc" opacity="0.5"/>
<circle cx="261.1" cy="510.0" r="0.68" fill="#e090cc" opacity="0.5"/>
<circle cx="279.6" cy="512.6" r="0.84" fill="#c873bc" opacity="0.5"/>
<circle cx="250.3" cy="512.3" r="0.62" fill="#6c2480" opacity="0.5"/>
<circle cx="245.4" cy="501.6" r="0.77" fill="#c873bc" opacity="0.5"/>
<circle cx="265.0" cy="499.2" r="0.39" fill="#c873bc" opacity="0.5"/>
</g>
<path d="M237.60,514.50 L255.00,513.60 L280.00,514.30 L303.60,516.80 L303.60,519.20 L280.00,516.80 L255.00,516.30 L237.60,518.20Z" fill="#f8f1f6" opacity="1" />
<path d="M237.60,518.20 L255.00,516.30 L280.00,516.80 L303.60,519.20 L303.60,523.80 L280.00,523.80 L255.00,523.80 L237.60,523.80Z" fill="#b25aa8" opacity="1" />
<g filter="url(#hb)">
<circle cx="259.0" cy="517.4" r="0.79" fill="#c878b8" opacity="0.55"/>
<circle cx="276.1" cy="523.1" r="0.53" fill="#c878b8" opacity="0.55"/>
<circle cx="266.2" cy="516.8" r="0.45" fill="#8a3a92" opacity="0.55"/>
<circle cx="241.5" cy="520.5" r="0.97" fill="#d890c8" opacity="0.55"/>
<circle cx="279.0" cy="523.4" r="0.75" fill="#8a3a92" opacity="0.55"/>
<circle cx="240.9" cy="518.0" r="0.73" fill="#c878b8" opacity="0.55"/>
<circle cx="256.7" cy="517.4" r="0.47" fill="#8a3a92" opacity="0.55"/>
<circle cx="274.6" cy="521.4" r="0.46" fill="#d890c8" opacity="0.55"/>
<circle cx="279.8" cy="519.1" r="0.73" fill="#c878b8" opacity="0.55"/>
<circle cx="274.8" cy="520.9" r="0.70" fill="#d890c8" opacity="0.55"/>
<circle cx="265.8" cy="518.7" r="0.75" fill="#8a3a92" opacity="0.55"/>
<circle cx="261.5" cy="518.2" r="0.51" fill="#c878b8" opacity="0.55"/>
<circle cx="243.0" cy="518.6" r="0.70" fill="#8a3a92" opacity="0.55"/>
<circle cx="285.7" cy="518.5" r="0.99" fill="#c878b8" opacity="0.55"/>
<circle cx="271.4" cy="517.5" r="0.61" fill="#8a3a92" opacity="0.55"/>
<circle cx="265.4" cy="523.5" r="0.45" fill="#d890c8" opacity="0.55"/>
<circle cx="275.4" cy="522.9" r="0.59" fill="#d890c8" opacity="0.55"/>
<circle cx="260.7" cy="520.0" r="0.88" fill="#c878b8" opacity="0.55"/>
<circle cx="293.0" cy="523.4" r="0.68" fill="#d890c8" opacity="0.55"/>
<circle cx="241.9" cy="521.8" r="0.59" fill="#d890c8" opacity="0.55"/>
<circle cx="303.1" cy="522.5" r="0.57" fill="#8a3a92" opacity="0.55"/>
<circle cx="296.1" cy="518.9" r="0.96" fill="#8a3a92" opacity="0.55"/>
<circle cx="248.7" cy="517.2" r="0.44" fill="#8a3a92" opacity="0.55"/>
<circle cx="246.1" cy="518.2" r="0.63" fill="#8a3a92" opacity="0.55"/>
<circle cx="242.9" cy="519.7" r="0.73" fill="#c878b8" opacity="0.55"/>
<circle cx="291.7" cy="522.8" r="0.57" fill="#8a3a92" opacity="0.55"/>
<circle cx="302.7" cy="521.4" r="0.63" fill="#c878b8" opacity="0.55"/>
<circle cx="247.6" cy="517.6" r="0.54" fill="#c878b8" opacity="0.55"/>
<circle cx="238.4" cy="522.5" r="0.51" fill="#8a3a92" opacity="0.55"/>
<circle cx="237.9" cy="519.4" r="0.62" fill="#d890c8" opacity="0.55"/>
<circle cx="258.6" cy="517.2" r="0.92" fill="#d890c8" opacity="0.55"/>
<circle cx="280.8" cy="521.8" r="0.67" fill="#d890c8" opacity="0.55"/>
<circle cx="290.3" cy="519.2" r="0.64" fill="#c878b8" opacity="0.55"/>
<circle cx="269.4" cy="519.3" r="0.51" fill="#c878b8" opacity="0.55"/>
<circle cx="266.7" cy="517.1" r="0.76" fill="#c878b8" opacity="0.55"/>
<circle cx="244.3" cy="519.0" r="0.42" fill="#c878b8" opacity="0.55"/>
<circle cx="278.1" cy="517.4" r="0.55" fill="#8a3a92" opacity="0.55"/>
<circle cx="277.4" cy="519.9" r="0.47" fill="#8a3a92" opacity="0.55"/>
<circle cx="303.1" cy="519.8" r="0.69" fill="#c878b8" opacity="0.55"/>
<circle cx="247.1" cy="521.9" r="0.84" fill="#8a3a92" opacity="0.55"/>
<circle cx="239.1" cy="523.4" r="0.72" fill="#c878b8" opacity="0.55"/>
<circle cx="283.1" cy="523.2" r="0.85" fill="#8a3a92" opacity="0.55"/>
<circle cx="302.2" cy="522.8" r="0.82" fill="#8a3a92" opacity="0.55"/>
<circle cx="271.8" cy="523.1" r="0.61" fill="#c878b8" opacity="0.55"/>
<circle cx="272.8" cy="522.1" r="0.60" fill="#c878b8" opacity="0.55"/>
<circle cx="278.1" cy="522.2" r="0.85" fill="#c878b8" opacity="0.55"/>
<circle cx="290.8" cy="522.4" r="0.84" fill="#c878b8" opacity="0.55"/>
<circle cx="250.8" cy="520.0" r="0.84" fill="#c878b8" opacity="0.55"/>
<circle cx="289.7" cy="519.8" r="0.52" fill="#d890c8" opacity="0.55"/>
<circle cx="300.7" cy="519.7" r="0.96" fill="#8a3a92" opacity="0.55"/>
<circle cx="300.6" cy="519.0" r="0.53" fill="#c878b8" opacity="0.55"/>
<circle cx="268.6" cy="518.8" r="0.69" fill="#d890c8" opacity="0.55"/>
<circle cx="293.1" cy="519.9" r="0.79" fill="#d890c8" opacity="0.55"/>
<circle cx="243.2" cy="521.3" r="0.95" fill="#d890c8" opacity="0.55"/>
<circle cx="287.1" cy="519.9" r="0.51" fill="#d890c8" opacity="0.55"/>
<circle cx="259.5" cy="522.3" r="0.98" fill="#8a3a92" opacity="0.55"/>
<circle cx="268.2" cy="521.9" r="0.45" fill="#c878b8" opacity="0.55"/>
<circle cx="248.8" cy="517.3" r="0.49" fill="#8a3a92" opacity="0.55"/>
<circle cx="292.1" cy="523.7" r="0.79" fill="#8a3a92" opacity="0.55"/>
<circle cx="247.9" cy="520.4" r="0.41" fill="#d890c8" opacity="0.55"/>
<circle cx="280.5" cy="520.2" r="0.96" fill="#8a3a92" opacity="0.55"/>
<circle cx="251.6" cy="520.1" r="0.86" fill="#8a3a92" opacity="0.55"/>
<circle cx="254.7" cy="519.4" r="0.48" fill="#d890c8" opacity="0.55"/>
<circle cx="260.9" cy="519.7" r="0.75" fill="#d890c8" opacity="0.55"/>
<circle cx="265.4" cy="523.2" r="0.70" fill="#d890c8" opacity="0.55"/>
<circle cx="247.6" cy="520.1" r="0.92" fill="#c878b8" opacity="0.55"/>
<circle cx="277.8" cy="522.1" r="0.49" fill="#c878b8" opacity="0.55"/>
<circle cx="268.9" cy="521.7" r="0.73" fill="#8a3a92" opacity="0.55"/>
<circle cx="282.6" cy="520.3" r="0.69" fill="#c878b8" opacity="0.55"/>
<circle cx="244.1" cy="519.7" r="0.42" fill="#c878b8" opacity="0.55"/>
</g>
<rect x="240.0" y="521.0" width="14.3" height="1.3" fill="#e2e2e2"/>
</g>
<rect x="237.6" y="474" width="66" height="49.8" fill="none" stroke="#a8a8a8" stroke-width="0.8"/>
<g clip-path="url(#h2)">
<rect x="237.6" y="526" width="66" height="49.3" fill="#a8529f"/>
<path d="M237.60,526.00 L303.60,526.00 L303.60,533.20 L297.50,533.50 L289.60,535.50 L279.80,536.40 L270.00,537.70 L263.10,539.10 L253.30,539.70 L243.50,542.30 L237.60,544.00Z" fill="#b860b0" opacity="1" />
<path d="M237.60,526.00 L252.00,526.00 L250.00,530.00 L243.00,532.00 L237.60,533.00Z" fill="#e050a8" opacity="0.8" />
<g filter="url(#hb)">
<circle cx="267.5" cy="536.1" r="1.05" fill="#a04aa0" opacity="0.55"/>
<circle cx="250.1" cy="540.5" r="0.73" fill="#8e3e98" opacity="0.55"/>
<circle cx="243.8" cy="531.5" r="0.46" fill="#d488c8" opacity="0.55"/>
<circle cx="276.9" cy="533.1" r="0.72" fill="#8e3e98" opacity="0.55"/>
<circle cx="241.8" cy="526.6" r="1.02" fill="#d488c8" opacity="0.55"/>
<circle cx="289.0" cy="531.9" r="0.81" fill="#8e3e98" opacity="0.55"/>
<circle cx="267.8" cy="531.0" r="1.10" fill="#d488c8" opacity="0.55"/>
<circle cx="284.3" cy="531.7" r="0.56" fill="#e6a8d8" opacity="0.55"/>
<circle cx="239.6" cy="536.1" r="0.48" fill="#d488c8" opacity="0.55"/>
<circle cx="293.5" cy="533.0" r="1.07" fill="#d488c8" opacity="0.55"/>
<circle cx="241.1" cy="532.8" r="0.90" fill="#a04aa0" opacity="0.55"/>
<circle cx="242.4" cy="537.3" r="0.94" fill="#e6a8d8" opacity="0.55"/>
<circle cx="259.8" cy="531.6" r="0.41" fill="#a04aa0" opacity="0.55"/>
<circle cx="287.6" cy="528.1" r="0.57" fill="#d488c8" opacity="0.55"/>
<circle cx="238.3" cy="534.4" r="0.74" fill="#8e3e98" opacity="0.55"/>
<circle cx="267.1" cy="529.4" r="0.91" fill="#8e3e98" opacity="0.55"/>
<circle cx="265.3" cy="532.9" r="0.68" fill="#8e3e98" opacity="0.55"/>
<circle cx="237.6" cy="541.6" r="1.08" fill="#e6a8d8" opacity="0.55"/>
<circle cx="303.5" cy="526.4" r="0.53" fill="#d488c8" opacity="0.55"/>
<circle cx="240.4" cy="528.6" r="0.71" fill="#d488c8" opacity="0.55"/>
<circle cx="288.6" cy="531.9" r="0.61" fill="#d488c8" opacity="0.55"/>
<circle cx="242.5" cy="529.8" r="0.85" fill="#d488c8" opacity="0.55"/>
<circle cx="277.3" cy="532.7" r="0.72" fill="#a04aa0" opacity="0.55"/>
<circle cx="292.5" cy="528.4" r="0.67" fill="#8e3e98" opacity="0.55"/>
<circle cx="258.1" cy="530.1" r="0.83" fill="#8e3e98" opacity="0.55"/>
<circle cx="248.1" cy="537.3" r="0.79" fill="#a04aa0" opacity="0.55"/>
<circle cx="265.4" cy="527.9" r="0.43" fill="#e6a8d8" opacity="0.55"/>
<circle cx="253.3" cy="538.7" r="0.58" fill="#a04aa0" opacity="0.55"/>
<circle cx="257.0" cy="529.2" r="0.90" fill="#d488c8" opacity="0.55"/>
<circle cx="245.9" cy="534.6" r="0.86" fill="#d488c8" opacity="0.55"/>
<circle cx="251.1" cy="526.3" r="0.59" fill="#a04aa0" opacity="0.55"/>
<circle cx="254.0" cy="526.8" r="0.60" fill="#8e3e98" opacity="0.55"/>
<circle cx="243.7" cy="528.5" r="0.72" fill="#e6a8d8" opacity="0.55"/>
<circle cx="276.2" cy="528.5" r="0.42" fill="#d488c8" opacity="0.55"/>
<circle cx="268.9" cy="532.4" r="0.62" fill="#d488c8" opacity="0.55"/>
<circle cx="239.0" cy="537.5" r="0.74" fill="#e6a8d8" opacity="0.55"/>
<circle cx="242.6" cy="535.8" r="0.92" fill="#8e3e98" opacity="0.55"/>
<circle cx="260.8" cy="538.3" r="1.03" fill="#a04aa0" opacity="0.55"/>
<circle cx="299.9" cy="526.5" r="0.75" fill="#d488c8" opacity="0.55"/>
<circle cx="278.8" cy="532.9" r="0.81" fill="#d488c8" opacity="0.55"/>
<circle cx="242.9" cy="537.5" r="1.10" fill="#a04aa0" opacity="0.55"/>
<circle cx="285.7" cy="533.0" r="0.91" fill="#a04aa0" opacity="0.55"/>
<circle cx="243.1" cy="539.5" r="0.42" fill="#d488c8" opacity="0.55"/>
<circle cx="269.3" cy="530.1" r="0.89" fill="#a04aa0" opacity="0.55"/>
<circle cx="261.9" cy="528.6" r="0.83" fill="#8e3e98" opacity="0.55"/>
<circle cx="287.3" cy="532.2" r="1.05" fill="#a04aa0" opacity="0.55"/>
<circle cx="296.5" cy="531.9" r="0.87" fill="#8e3e98" opacity="0.55"/>
<circle cx="287.4" cy="529.6" r="0.55" fill="#8e3e98" opacity="0.55"/>
<circle cx="276.1" cy="531.7" r="0.50" fill="#a04aa0" opacity="0.55"/>
<circle cx="240.3" cy="527.2" r="1.09" fill="#8e3e98" opacity="0.55"/>
<circle cx="245.0" cy="534.5" r="1.05" fill="#a04aa0" opacity="0.55"/>
<circle cx="262.8" cy="535.4" r="0.87" fill="#a04aa0" opacity="0.55"/>
<circle cx="256.0" cy="536.9" r="0.87" fill="#e6a8d8" opacity="0.55"/>
<circle cx="275.3" cy="531.6" r="0.95" fill="#d488c8" opacity="0.55"/>
<circle cx="279.9" cy="533.3" r="0.53" fill="#e6a8d8" opacity="0.55"/>
<circle cx="253.3" cy="528.5" r="0.43" fill="#d488c8" opacity="0.55"/>
<circle cx="267.1" cy="537.3" r="0.86" fill="#e6a8d8" opacity="0.55"/>
<circle cx="250.8" cy="534.6" r="0.53" fill="#d488c8" opacity="0.55"/>
<circle cx="287.4" cy="535.6" r="0.43" fill="#8e3e98" opacity="0.55"/>
<circle cx="255.6" cy="532.2" r="0.89" fill="#8e3e98" opacity="0.55"/>
<circle cx="297.4" cy="527.6" r="1.05" fill="#a04aa0" opacity="0.55"/>
<circle cx="246.2" cy="534.2" r="0.84" fill="#d488c8" opacity="0.55"/>
<circle cx="262.5" cy="536.2" r="1.02" fill="#e6a8d8" opacity="0.55"/>
<circle cx="268.2" cy="537.7" r="0.54" fill="#d488c8" opacity="0.55"/>
<circle cx="294.1" cy="532.3" r="0.46" fill="#a04aa0" opacity="0.55"/>
<circle cx="260.2" cy="533.6" r="0.59" fill="#d488c8" opacity="0.55"/>
<circle cx="265.9" cy="526.6" r="0.77" fill="#8e3e98" opacity="0.55"/>
<circle cx="282.3" cy="533.9" r="1.02" fill="#d488c8" opacity="0.55"/>
<circle cx="287.6" cy="533.9" r="0.79" fill="#8e3e98" opacity="0.55"/>
<circle cx="274.6" cy="531.6" r="0.67" fill="#8e3e98" opacity="0.55"/>
<circle cx="257.7" cy="528.5" r="0.78" fill="#e6a8d8" opacity="0.55"/>
<circle cx="275.4" cy="529.6" r="0.78" fill="#d488c8" opacity="0.55"/>
<circle cx="277.5" cy="526.5" r="1.08" fill="#a04aa0" opacity="0.55"/>
<circle cx="245.6" cy="527.7" r="0.52" fill="#a04aa0" opacity="0.55"/>
<circle cx="298.5" cy="530.8" r="0.73" fill="#8e3e98" opacity="0.55"/>
<circle cx="272.2" cy="528.0" r="0.69" fill="#d488c8" opacity="0.55"/>
<circle cx="298.7" cy="528.3" r="0.95" fill="#d488c8" opacity="0.55"/>
<circle cx="240.0" cy="528.8" r="0.41" fill="#e6a8d8" opacity="0.55"/>
<circle cx="258.9" cy="532.4" r="0.83" fill="#d488c8" opacity="0.55"/>
<circle cx="270.6" cy="536.5" r="1.00" fill="#e6a8d8" opacity="0.55"/>
<circle cx="295.6" cy="526.4" r="0.84" fill="#8e3e98" opacity="0.55"/>
<circle cx="272.8" cy="529.9" r="0.55" fill="#8e3e98" opacity="0.55"/>
<circle cx="253.0" cy="539.3" r="0.97" fill="#8e3e98" opacity="0.55"/>
<circle cx="258.4" cy="531.7" r="1.05" fill="#8e3e98" opacity="0.55"/>
<circle cx="289.0" cy="529.5" r="0.47" fill="#8e3e98" opacity="0.55"/>
<circle cx="246.3" cy="527.6" r="0.67" fill="#a04aa0" opacity="0.55"/>
<circle cx="292.5" cy="533.6" r="0.95" fill="#8e3e98" opacity="0.55"/>
<circle cx="250.8" cy="537.3" r="0.96" fill="#d488c8" opacity="0.55"/>
<circle cx="250.9" cy="538.3" r="1.04" fill="#e6a8d8" opacity="0.55"/>
<circle cx="245.2" cy="535.1" r="0.93" fill="#8e3e98" opacity="0.55"/>
<circle cx="290.6" cy="534.7" r="0.42" fill="#a04aa0" opacity="0.55"/>
<circle cx="247.3" cy="529.3" r="0.54" fill="#8e3e98" opacity="0.55"/>
<circle cx="243.9" cy="527.1" r="1.07" fill="#a04aa0" opacity="0.55"/>
<circle cx="242.7" cy="527.7" r="0.67" fill="#a04aa0" opacity="0.55"/>
<circle cx="271.6" cy="533.7" r="0.82" fill="#d488c8" opacity="0.55"/>
<circle cx="279.4" cy="526.7" r="0.54" fill="#a04aa0" opacity="0.55"/>
<circle cx="264.3" cy="529.5" r="0.52" fill="#d488c8" opacity="0.55"/>
<circle cx="259.0" cy="527.5" r="0.99" fill="#a04aa0" opacity="0.55"/>
<circle cx="275.2" cy="529.4" r="0.81" fill="#e6a8d8" opacity="0.55"/>
<circle cx="290.7" cy="530.6" r="1.04" fill="#8e3e98" opacity="0.55"/>
<circle cx="291.4" cy="533.3" r="1.03" fill="#e6a8d8" opacity="0.55"/>
<circle cx="242.3" cy="532.2" r="0.73" fill="#d488c8" opacity="0.55"/>
<circle cx="297.2" cy="526.9" r="0.59" fill="#e6a8d8" opacity="0.55"/>
<circle cx="259.9" cy="537.9" r="0.80" fill="#d488c8" opacity="0.55"/>
<circle cx="239.1" cy="537.1" r="0.92" fill="#e6a8d8" opacity="0.55"/>
<circle cx="266.9" cy="535.1" r="0.93" fill="#a04aa0" opacity="0.55"/>
<circle cx="238.3" cy="530.7" r="0.59" fill="#e6a8d8" opacity="0.55"/>
<circle cx="273.9" cy="535.1" r="1.08" fill="#d488c8" opacity="0.55"/>
<circle cx="242.6" cy="536.8" r="0.93" fill="#d488c8" opacity="0.55"/>
<circle cx="277.0" cy="533.7" r="0.75" fill="#e6a8d8" opacity="0.55"/>
<circle cx="272.4" cy="536.8" r="0.66" fill="#e6a8d8" opacity="0.55"/>
<circle cx="269.5" cy="530.9" r="1.05" fill="#e6a8d8" opacity="0.55"/>
<circle cx="239.4" cy="539.9" r="0.81" fill="#8e3e98" opacity="0.55"/>
<circle cx="264.6" cy="538.3" r="0.44" fill="#e6a8d8" opacity="0.55"/>
<circle cx="287.0" cy="526.9" r="1.09" fill="#e6a8d8" opacity="0.55"/>
<circle cx="242.5" cy="542.3" r="0.70" fill="#a04aa0" opacity="0.55"/>
<circle cx="254.2" cy="539.6" r="0.43" fill="#d488c8" opacity="0.55"/>
<circle cx="245.2" cy="537.2" r="0.72" fill="#8e3e98" opacity="0.55"/>
<circle cx="294.4" cy="532.4" r="0.51" fill="#e6a8d8" opacity="0.55"/>
<circle cx="266.8" cy="538.0" r="0.72" fill="#e6a8d8" opacity="0.55"/>
<circle cx="291.4" cy="528.5" r="0.60" fill="#8e3e98" opacity="0.55"/>
<circle cx="253.3" cy="528.0" r="1.02" fill="#e6a8d8" opacity="0.55"/>
<circle cx="255.7" cy="537.0" r="0.91" fill="#8e3e98" opacity="0.55"/>
<circle cx="250.1" cy="530.5" r="1.09" fill="#8e3e98" opacity="0.55"/>
<circle cx="295.6" cy="526.7" r="0.44" fill="#e6a8d8" opacity="0.55"/>
<circle cx="254.7" cy="526.5" r="0.43" fill="#8e3e98" opacity="0.55"/>
<circle cx="273.3" cy="527.3" r="0.46" fill="#8e3e98" opacity="0.55"/>
<circle cx="262.2" cy="534.6" r="0.55" fill="#e6a8d8" opacity="0.55"/>
<circle cx="270.2" cy="528.4" r="1.01" fill="#d488c8" opacity="0.55"/>
<circle cx="263.3" cy="528.7" r="0.51" fill="#e6a8d8" opacity="0.55"/>
<circle cx="292.1" cy="529.3" r="0.86" fill="#d488c8" opacity="0.55"/>
<circle cx="268.1" cy="531.8" r="0.78" fill="#a04aa0" opacity="0.55"/>
<circle cx="274.8" cy="534.7" r="0.88" fill="#e6a8d8" opacity="0.55"/>
<circle cx="292.0" cy="526.2" r="0.62" fill="#d488c8" opacity="0.55"/>
<circle cx="283.5" cy="534.9" r="0.93" fill="#e6a8d8" opacity="0.55"/>
<circle cx="256.3" cy="528.6" r="0.65" fill="#e6a8d8" opacity="0.55"/>
<circle cx="261.8" cy="528.1" r="0.90" fill="#e6a8d8" opacity="0.55"/>
<circle cx="257.7" cy="531.7" r="0.68" fill="#8e3e98" opacity="0.55"/>
<circle cx="243.2" cy="540.9" r="0.42" fill="#a04aa0" opacity="0.55"/>
<circle cx="286.4" cy="532.6" r="0.67" fill="#8e3e98" opacity="0.55"/>
<circle cx="249.3" cy="539.7" r="1.02" fill="#e6a8d8" opacity="0.55"/>
<circle cx="291.2" cy="530.0" r="0.44" fill="#8e3e98" opacity="0.55"/>
<circle cx="241.8" cy="535.8" r="0.95" fill="#d488c8" opacity="0.55"/>
<circle cx="259.7" cy="530.9" r="0.47" fill="#e6a8d8" opacity="0.55"/>
<circle cx="243.2" cy="537.4" r="0.50" fill="#a04aa0" opacity="0.55"/>
<circle cx="253.8" cy="530.0" r="0.94" fill="#e6a8d8" opacity="0.55"/>
<circle cx="288.1" cy="533.1" r="0.64" fill="#e6a8d8" opacity="0.55"/>
<circle cx="282.0" cy="534.9" r="0.78" fill="#d488c8" opacity="0.55"/>
<circle cx="279.9" cy="535.4" r="0.90" fill="#d488c8" opacity="0.55"/>
<circle cx="265.4" cy="533.6" r="0.50" fill="#8e3e98" opacity="0.55"/>
<circle cx="303.0" cy="532.8" r="0.52" fill="#8e3e98" opacity="0.55"/>
<circle cx="263.3" cy="535.5" r="0.59" fill="#d488c8" opacity="0.55"/>
<circle cx="257.6" cy="528.8" r="1.04" fill="#d488c8" opacity="0.55"/>
<circle cx="287.3" cy="526.3" r="0.74" fill="#d488c8" opacity="0.55"/>
<circle cx="258.2" cy="529.6" r="0.65" fill="#8e3e98" opacity="0.55"/>
<circle cx="277.2" cy="534.5" r="0.76" fill="#a04aa0" opacity="0.55"/>
<circle cx="249.8" cy="531.1" r="0.52" fill="#e6a8d8" opacity="0.55"/>
<circle cx="269.6" cy="533.2" r="1.07" fill="#d488c8" opacity="0.55"/>
<circle cx="269.5" cy="530.0" r="0.43" fill="#8e3e98" opacity="0.55"/>
<circle cx="290.5" cy="532.9" r="0.77" fill="#e6a8d8" opacity="0.55"/>
<circle cx="289.6" cy="527.0" r="1.05" fill="#d488c8" opacity="0.55"/>
<circle cx="267.3" cy="530.4" r="0.70" fill="#8e3e98" opacity="0.55"/>
<circle cx="291.1" cy="528.4" r="0.92" fill="#e6a8d8" opacity="0.55"/>
<circle cx="271.7" cy="527.0" r="0.80" fill="#8e3e98" opacity="0.55"/>
<circle cx="237.7" cy="540.8" r="0.99" fill="#8e3e98" opacity="0.55"/>
<circle cx="243.0" cy="530.9" r="0.90" fill="#d488c8" opacity="0.55"/>
<circle cx="243.1" cy="539.5" r="0.78" fill="#e6a8d8" opacity="0.55"/>
<circle cx="238.9" cy="529.4" r="0.54" fill="#d488c8" opacity="0.55"/>
<circle cx="289.2" cy="533.9" r="0.43" fill="#a04aa0" opacity="0.55"/>
<circle cx="272.3" cy="528.8" r="0.98" fill="#e6a8d8" opacity="0.55"/>
<circle cx="258.5" cy="533.3" r="0.79" fill="#a04aa0" opacity="0.55"/>
<circle cx="281.6" cy="527.2" r="0.45" fill="#8e3e98" opacity="0.55"/>
<circle cx="244.6" cy="533.1" r="0.72" fill="#d488c8" opacity="0.55"/>
<circle cx="280.8" cy="526.2" r="0.66" fill="#a04aa0" opacity="0.55"/>
<circle cx="253.3" cy="536.2" r="0.72" fill="#d488c8" opacity="0.55"/>
<circle cx="247.6" cy="537.3" r="1.06" fill="#e6a8d8" opacity="0.55"/>
<circle cx="274.3" cy="527.6" r="0.53" fill="#a04aa0" opacity="0.55"/>
<circle cx="285.9" cy="531.9" r="1.06" fill="#a04aa0" opacity="0.55"/>
<circle cx="285.4" cy="532.0" r="0.98" fill="#d488c8" opacity="0.55"/>
<circle cx="244.3" cy="537.2" r="0.49" fill="#8e3e98" opacity="0.55"/>
<circle cx="249.5" cy="533.2" r="0.99" fill="#d488c8" opacity="0.55"/>
<circle cx="244.2" cy="526.6" r="1.09" fill="#a04aa0" opacity="0.55"/>
<circle cx="264.5" cy="527.3" r="1.04" fill="#a04aa0" opacity="0.55"/>
<circle cx="298.8" cy="528.5" r="0.54" fill="#8e3e98" opacity="0.55"/>
<circle cx="291.8" cy="532.9" r="0.63" fill="#a04aa0" opacity="0.55"/>
<circle cx="278.1" cy="531.7" r="0.95" fill="#8e3e98" opacity="0.55"/>
<circle cx="238.8" cy="532.0" r="0.64" fill="#a04aa0" opacity="0.55"/>
<circle cx="244.6" cy="532.8" r="0.76" fill="#e6a8d8" opacity="0.55"/>
<circle cx="248.1" cy="539.8" r="1.03" fill="#8e3e98" opacity="0.55"/>
<circle cx="260.9" cy="535.0" r="0.50" fill="#8e3e98" opacity="0.55"/>
<circle cx="279.0" cy="529.6" r="0.46" fill="#8e3e98" opacity="0.55"/>
<circle cx="269.1" cy="533.5" r="0.63" fill="#d488c8" opacity="0.55"/>
<circle cx="298.9" cy="532.5" r="0.72" fill="#d488c8" opacity="0.55"/>
<circle cx="253.3" cy="536.2" r="0.78" fill="#d488c8" opacity="0.55"/>
<circle cx="274.6" cy="530.8" r="1.04" fill="#e6a8d8" opacity="0.55"/>
<circle cx="277.3" cy="528.2" r="0.98" fill="#e6a8d8" opacity="0.55"/>
<circle cx="282.8" cy="532.5" r="0.93" fill="#e6a8d8" opacity="0.55"/>
<circle cx="292.4" cy="529.3" r="0.78" fill="#d488c8" opacity="0.55"/>
<circle cx="267.6" cy="533.3" r="0.95" fill="#8e3e98" opacity="0.55"/>
<circle cx="257.9" cy="538.1" r="0.92" fill="#a04aa0" opacity="0.55"/>
<circle cx="288.0" cy="528.9" r="0.69" fill="#d488c8" opacity="0.55"/>
<circle cx="247.0" cy="533.0" r="0.80" fill="#8e3e98" opacity="0.55"/>
<circle cx="259.8" cy="528.4" r="0.57" fill="#e6a8d8" opacity="0.55"/>
<circle cx="241.1" cy="540.1" r="0.91" fill="#8e3e98" opacity="0.55"/>
<circle cx="264.2" cy="535.0" r="0.47" fill="#e6a8d8" opacity="0.55"/>
<circle cx="264.8" cy="537.2" r="0.88" fill="#a04aa0" opacity="0.55"/>
<circle cx="287.2" cy="534.7" r="1.10" fill="#a04aa0" opacity="0.55"/>
<circle cx="292.1" cy="528.1" r="0.48" fill="#e6a8d8" opacity="0.55"/>
<circle cx="272.3" cy="533.8" r="1.03" fill="#e6a8d8" opacity="0.55"/>
<circle cx="297.5" cy="531.3" r="0.83" fill="#a04aa0" opacity="0.55"/>
<circle cx="287.2" cy="531.5" r="0.82" fill="#d488c8" opacity="0.55"/>
<circle cx="295.1" cy="532.6" r="0.78" fill="#8e3e98" opacity="0.55"/>
<circle cx="252.2" cy="539.4" r="0.80" fill="#d488c8" opacity="0.55"/>
<circle cx="244.1" cy="540.3" r="0.49" fill="#a04aa0" opacity="0.55"/>
<circle cx="237.6" cy="530.4" r="0.61" fill="#e6a8d8" opacity="0.55"/>
<circle cx="249.0" cy="533.9" r="0.72" fill="#a04aa0" opacity="0.55"/>
<circle cx="246.9" cy="538.5" r="0.56" fill="#e6a8d8" opacity="0.55"/>
<circle cx="239.7" cy="542.2" r="0.62" fill="#a04aa0" opacity="0.55"/>
<circle cx="247.1" cy="540.0" r="0.94" fill="#8e3e98" opacity="0.55"/>
<circle cx="283.3" cy="527.1" r="0.62" fill="#e6a8d8" opacity="0.55"/>
<circle cx="297.0" cy="526.3" r="0.84" fill="#8e3e98" opacity="0.55"/>
<circle cx="272.8" cy="530.3" r="1.06" fill="#d488c8" opacity="0.55"/>
<circle cx="280.5" cy="531.5" r="0.97" fill="#e6a8d8" opacity="0.55"/>
<circle cx="246.5" cy="538.5" r="1.06" fill="#a04aa0" opacity="0.55"/>
<circle cx="265.0" cy="529.0" r="1.00" fill="#d488c8" opacity="0.55"/>
<circle cx="284.5" cy="529.5" r="0.53" fill="#8e3e98" opacity="0.55"/>
<circle cx="270.7" cy="531.3" r="0.59" fill="#d488c8" opacity="0.55"/>
<circle cx="276.5" cy="530.1" r="0.61" fill="#8e3e98" opacity="0.55"/>
<circle cx="281.6" cy="531.0" r="0.85" fill="#d488c8" opacity="0.55"/>
<circle cx="268.1" cy="527.4" r="1.04" fill="#d488c8" opacity="0.55"/>
<circle cx="272.6" cy="526.8" r="0.82" fill="#e6a8d8" opacity="0.55"/>
<circle cx="273.1" cy="533.6" r="0.80" fill="#8e3e98" opacity="0.55"/>
<circle cx="253.8" cy="531.0" r="0.78" fill="#8e3e98" opacity="0.55"/>
<circle cx="289.8" cy="528.7" r="1.03" fill="#a04aa0" opacity="0.55"/>
<circle cx="237.8" cy="542.0" r="0.44" fill="#d488c8" opacity="0.55"/>
<circle cx="261.3" cy="537.8" r="0.95" fill="#e6a8d8" opacity="0.55"/>
<circle cx="282.8" cy="535.4" r="1.07" fill="#8e3e98" opacity="0.55"/>
<circle cx="245.0" cy="533.8" r="0.87" fill="#e6a8d8" opacity="0.55"/>
<circle cx="253.2" cy="534.8" r="0.55" fill="#a04aa0" opacity="0.55"/>
<circle cx="254.8" cy="529.6" r="1.08" fill="#d488c8" opacity="0.55"/>
<circle cx="249.5" cy="528.7" r="0.41" fill="#a04aa0" opacity="0.55"/>
<circle cx="290.8" cy="535.1" r="0.91" fill="#d488c8" opacity="0.55"/>
<circle cx="242.4" cy="542.3" r="0.80" fill="#8e3e98" opacity="0.55"/>
<circle cx="278.7" cy="527.0" r="0.70" fill="#e6a8d8" opacity="0.55"/>
<circle cx="271.3" cy="532.8" r="0.57" fill="#a04aa0" opacity="0.55"/>
<circle cx="289.5" cy="527.1" r="0.69" fill="#e6a8d8" opacity="0.55"/>
<circle cx="300.8" cy="528.3" r="0.93" fill="#8e3e98" opacity="0.55"/>
<circle cx="247.1" cy="534.2" r="0.92" fill="#d488c8" opacity="0.55"/>
<circle cx="237.8" cy="533.4" r="0.77" fill="#d488c8" opacity="0.55"/>
<circle cx="263.5" cy="531.4" r="0.70" fill="#d488c8" opacity="0.55"/>
<circle cx="278.0" cy="531.3" r="0.48" fill="#8e3e98" opacity="0.55"/>
<circle cx="265.2" cy="527.5" r="0.56" fill="#e6a8d8" opacity="0.55"/>
<circle cx="277.9" cy="526.7" r="0.68" fill="#d488c8" opacity="0.55"/>
<circle cx="298.6" cy="529.2" r="1.00" fill="#8e3e98" opacity="0.55"/>
<circle cx="251.8" cy="532.3" r="0.53" fill="#8e3e98" opacity="0.55"/>
<circle cx="269.3" cy="533.2" r="0.82" fill="#e6a8d8" opacity="0.55"/>
<circle cx="268.8" cy="534.8" r="0.84" fill="#8e3e98" opacity="0.55"/>
<circle cx="294.5" cy="529.7" r="0.67" fill="#d488c8" opacity="0.55"/>
<circle cx="240.7" cy="531.0" r="1.06" fill="#d488c8" opacity="0.55"/>
<circle cx="271.4" cy="536.2" r="0.85" fill="#8e3e98" opacity="0.55"/>
</g>
<path d="M237.60,544.00 L243.50,542.30 L253.30,539.70 L263.10,539.10 L270.00,537.70 L279.80,536.40 L289.60,535.50 L297.50,533.50 L303.60,533.20 L303.60,535.90 L296.10,536.80 L289.60,537.70 L279.80,538.70 L270.00,540.80 L263.10,542.60 L256.60,544.60 L253.30,547.20 L250.00,550.00 L245.50,555.90 L241.00,556.80 L237.60,557.00Z" fill="#f9f5f8" opacity="1" />
<g filter="url(#hb)">
<circle cx="243.7" cy="552.6" r="0.63" fill="#c070b0" opacity="0.6"/>
<circle cx="243.8" cy="552.4" r="0.53" fill="#c070b0" opacity="0.6"/>
<circle cx="244.7" cy="552.6" r="0.37" fill="#e0b0d8" opacity="0.6"/>
<circle cx="242.4" cy="549.4" r="0.41" fill="#c070b0" opacity="0.6"/>
<circle cx="238.9" cy="552.9" r="0.47" fill="#e0b0d8" opacity="0.6"/>
<circle cx="247.6" cy="546.9" r="0.76" fill="#c070b0" opacity="0.6"/>
<circle cx="249.4" cy="547.1" r="0.51" fill="#c070b0" opacity="0.6"/>
<circle cx="244.5" cy="554.8" r="0.58" fill="#c070b0" opacity="0.6"/>
<circle cx="244.7" cy="551.1" r="0.34" fill="#e0b0d8" opacity="0.6"/>
<circle cx="246.0" cy="550.7" r="0.60" fill="#c070b0" opacity="0.6"/>
</g>
<g filter="url(#hb)">
<circle cx="254.7" cy="562.9" r="0.88" fill="#b460ac" opacity="0.55"/>
<circle cx="243.2" cy="567.2" r="1.02" fill="#c880be" opacity="0.55"/>
<circle cx="254.5" cy="569.4" r="0.74" fill="#d898cc" opacity="0.55"/>
<circle cx="274.8" cy="552.8" r="0.65" fill="#7a2e88" opacity="0.55"/>
<circle cx="260.4" cy="559.3" r="0.84" fill="#c880be" opacity="0.55"/>
<circle cx="287.0" cy="541.2" r="0.87" fill="#7a2e88" opacity="0.55"/>
<circle cx="273.0" cy="547.5" r="0.53" fill="#c880be" opacity="0.55"/>
<circle cx="254.3" cy="554.0" r="0.82" fill="#7a2e88" opacity="0.55"/>
<circle cx="279.1" cy="554.2" r="0.40" fill="#7a2e88" opacity="0.55"/>
<circle cx="299.2" cy="537.6" r="0.50" fill="#7a2e88" opacity="0.55"/>
<circle cx="279.8" cy="542.2" r="0.69" fill="#c880be" opacity="0.55"/>
<circle cx="251.0" cy="569.5" r="0.66" fill="#b460ac" opacity="0.55"/>
<circle cx="253.3" cy="555.5" r="1.00" fill="#8c3c92" opacity="0.55"/>
<circle cx="261.3" cy="564.6" r="0.64" fill="#c880be" opacity="0.55"/>
<circle cx="250.3" cy="566.9" r="0.79" fill="#b460ac" opacity="0.55"/>
<circle cx="248.6" cy="552.8" r="0.82" fill="#d898cc" opacity="0.55"/>
<circle cx="272.4" cy="540.9" r="0.62" fill="#7a2e88" opacity="0.55"/>
<circle cx="257.5" cy="546.5" r="0.82" fill="#8c3c92" opacity="0.55"/>
<circle cx="293.8" cy="537.3" r="0.62" fill="#b460ac" opacity="0.55"/>
<circle cx="271.7" cy="554.6" r="0.87" fill="#c880be" opacity="0.55"/>
<circle cx="290.3" cy="550.7" r="0.90" fill="#b460ac" opacity="0.55"/>
<circle cx="286.3" cy="546.1" r="0.88" fill="#b460ac" opacity="0.55"/>
<circle cx="254.7" cy="559.1" r="0.65" fill="#b460ac" opacity="0.55"/>
<circle cx="276.7" cy="552.8" r="0.85" fill="#7a2e88" opacity="0.55"/>
<circle cx="243.3" cy="565.8" r="0.82" fill="#8c3c92" opacity="0.55"/>
<circle cx="280.7" cy="548.0" r="0.71" fill="#d898cc" opacity="0.55"/>
<circle cx="257.9" cy="559.7" r="0.60" fill="#c880be" opacity="0.55"/>
<circle cx="302.9" cy="537.6" r="0.77" fill="#b460ac" opacity="0.55"/>
<circle cx="301.5" cy="537.8" r="0.52" fill="#d898cc" opacity="0.55"/>
<circle cx="282.6" cy="539.4" r="1.05" fill="#8c3c92" opacity="0.55"/>
<circle cx="251.7" cy="564.2" r="0.87" fill="#b460ac" opacity="0.55"/>
<circle cx="266.7" cy="558.5" r="0.83" fill="#d898cc" opacity="0.55"/>
<circle cx="296.8" cy="540.4" r="0.50" fill="#d898cc" opacity="0.55"/>
<circle cx="287.8" cy="550.5" r="0.68" fill="#b460ac" opacity="0.55"/>
<circle cx="301.1" cy="547.6" r="0.46" fill="#8c3c92" opacity="0.55"/>
<circle cx="299.1" cy="542.5" r="0.41" fill="#d898cc" opacity="0.55"/>
<circle cx="265.6" cy="560.4" r="0.98" fill="#c880be" opacity="0.55"/>
<circle cx="298.2" cy="537.5" r="0.47" fill="#7a2e88" opacity="0.55"/>
<circle cx="255.3" cy="566.8" r="0.72" fill="#8c3c92" opacity="0.55"/>
<circle cx="300.5" cy="550.7" r="0.51" fill="#7a2e88" opacity="0.55"/>
<circle cx="239.5" cy="571.6" r="0.74" fill="#d898cc" opacity="0.55"/>
<circle cx="276.5" cy="548.0" r="1.02" fill="#7a2e88" opacity="0.55"/>
<circle cx="241.3" cy="563.7" r="1.04" fill="#7a2e88" opacity="0.55"/>
<circle cx="257.3" cy="560.3" r="0.86" fill="#d898cc" opacity="0.55"/>
<circle cx="253.1" cy="556.0" r="0.41" fill="#c880be" opacity="0.55"/>
<circle cx="241.3" cy="561.2" r="0.83" fill="#d898cc" opacity="0.55"/>
<circle cx="261.1" cy="558.7" r="0.80" fill="#d898cc" opacity="0.55"/>
<circle cx="256.1" cy="550.9" r="0.49" fill="#b460ac" opacity="0.55"/>
<circle cx="282.7" cy="550.7" r="0.45" fill="#7a2e88" opacity="0.55"/>
<circle cx="299.1" cy="547.7" r="1.05" fill="#8c3c92" opacity="0.55"/>
<circle cx="302.7" cy="553.5" r="0.69" fill="#d898cc" opacity="0.55"/>
<circle cx="296.6" cy="538.3" r="0.58" fill="#8c3c92" opacity="0.55"/>
<circle cx="251.3" cy="572.7" r="0.61" fill="#b460ac" opacity="0.55"/>
<circle cx="279.0" cy="548.2" r="1.09" fill="#b460ac" opacity="0.55"/>
<circle cx="252.9" cy="558.2" r="1.02" fill="#7a2e88" opacity="0.55"/>
<circle cx="293.9" cy="542.0" r="0.44" fill="#d898cc" opacity="0.55"/>
<circle cx="241.0" cy="568.2" r="0.95" fill="#b460ac" opacity="0.55"/>
<circle cx="243.6" cy="566.5" r="0.61" fill="#c880be" opacity="0.55"/>
<circle cx="253.8" cy="547.0" r="0.81" fill="#d898cc" opacity="0.55"/>
<circle cx="265.2" cy="547.0" r="0.92" fill="#b460ac" opacity="0.55"/>
<circle cx="244.0" cy="561.6" r="0.51" fill="#8c3c92" opacity="0.55"/>
<circle cx="301.3" cy="545.9" r="0.97" fill="#b460ac" opacity="0.55"/>
<circle cx="278.8" cy="539.8" r="0.75" fill="#d898cc" opacity="0.55"/>
<circle cx="244.5" cy="563.7" r="0.80" fill="#7a2e88" opacity="0.55"/>
<circle cx="246.6" cy="554.7" r="0.73" fill="#c880be" opacity="0.55"/>
<circle cx="245.8" cy="564.0" r="0.74" fill="#8c3c92" opacity="0.55"/>
<circle cx="279.3" cy="541.4" r="0.64" fill="#7a2e88" opacity="0.55"/>
<circle cx="297.4" cy="536.7" r="0.65" fill="#c880be" opacity="0.55"/>
<circle cx="286.9" cy="540.1" r="0.92" fill="#d898cc" opacity="0.55"/>
<circle cx="248.8" cy="552.7" r="0.44" fill="#d898cc" opacity="0.55"/>
<circle cx="264.7" cy="544.1" r="0.51" fill="#7a2e88" opacity="0.55"/>
<circle cx="290.4" cy="551.6" r="0.68" fill="#7a2e88" opacity="0.55"/>
<circle cx="244.4" cy="569.5" r="0.76" fill="#7a2e88" opacity="0.55"/>
<circle cx="266.3" cy="555.6" r="1.03" fill="#8c3c92" opacity="0.55"/>
<circle cx="288.7" cy="543.4" r="1.04" fill="#7a2e88" opacity="0.55"/>
<circle cx="293.6" cy="542.2" r="0.94" fill="#7a2e88" opacity="0.55"/>
<circle cx="287.4" cy="551.4" r="0.67" fill="#b460ac" opacity="0.55"/>
<circle cx="274.8" cy="552.6" r="0.43" fill="#8c3c92" opacity="0.55"/>
<circle cx="278.0" cy="551.7" r="1.01" fill="#b460ac" opacity="0.55"/>
<circle cx="294.7" cy="553.8" r="0.74" fill="#7a2e88" opacity="0.55"/>
<circle cx="276.3" cy="553.5" r="1.06" fill="#d898cc" opacity="0.55"/>
<circle cx="249.3" cy="564.4" r="0.42" fill="#d898cc" opacity="0.55"/>
<circle cx="295.1" cy="554.2" r="0.43" fill="#8c3c92" opacity="0.55"/>
<circle cx="250.9" cy="564.7" r="0.75" fill="#b460ac" opacity="0.55"/>
<circle cx="247.3" cy="567.2" r="0.90" fill="#8c3c92" opacity="0.55"/>
<circle cx="248.7" cy="554.7" r="0.54" fill="#7a2e88" opacity="0.55"/>
<circle cx="237.7" cy="564.2" r="0.45" fill="#8c3c92" opacity="0.55"/>
<circle cx="241.9" cy="559.3" r="0.67" fill="#b460ac" opacity="0.55"/>
<circle cx="250.3" cy="571.9" r="0.91" fill="#7a2e88" opacity="0.55"/>
<circle cx="303.3" cy="541.5" r="0.84" fill="#b460ac" opacity="0.55"/>
<circle cx="264.0" cy="552.2" r="0.94" fill="#c880be" opacity="0.55"/>
<circle cx="253.1" cy="562.3" r="0.97" fill="#c880be" opacity="0.55"/>
<circle cx="238.9" cy="566.3" r="1.07" fill="#d898cc" opacity="0.55"/>
<circle cx="255.8" cy="557.1" r="0.96" fill="#d898cc" opacity="0.55"/>
<circle cx="298.4" cy="540.9" r="0.63" fill="#7a2e88" opacity="0.55"/>
<circle cx="293.4" cy="538.9" r="1.06" fill="#8c3c92" opacity="0.55"/>
<circle cx="296.9" cy="542.8" r="0.80" fill="#d898cc" opacity="0.55"/>
<circle cx="300.8" cy="549.3" r="0.92" fill="#c880be" opacity="0.55"/>
<circle cx="256.9" cy="555.4" r="0.92" fill="#7a2e88" opacity="0.55"/>
<circle cx="244.4" cy="557.0" r="0.61" fill="#8c3c92" opacity="0.55"/>
<circle cx="278.0" cy="544.2" r="0.49" fill="#d898cc" opacity="0.55"/>
<circle cx="283.1" cy="548.6" r="0.61" fill="#7a2e88" opacity="0.55"/>
<circle cx="259.3" cy="567.3" r="0.92" fill="#7a2e88" opacity="0.55"/>
<circle cx="282.7" cy="552.5" r="0.66" fill="#b460ac" opacity="0.55"/>
<circle cx="282.0" cy="545.7" r="1.01" fill="#d898cc" opacity="0.55"/>
<circle cx="253.9" cy="547.0" r="0.96" fill="#d898cc" opacity="0.55"/>
<circle cx="286.3" cy="543.4" r="1.06" fill="#8c3c92" opacity="0.55"/>
<circle cx="258.4" cy="546.0" r="0.88" fill="#c880be" opacity="0.55"/>
<circle cx="245.7" cy="571.1" r="0.47" fill="#b460ac" opacity="0.55"/>
<circle cx="260.5" cy="545.7" r="0.81" fill="#c880be" opacity="0.55"/>
<circle cx="245.8" cy="562.7" r="1.07" fill="#7a2e88" opacity="0.55"/>
<circle cx="283.0" cy="551.2" r="0.45" fill="#d898cc" opacity="0.55"/>
<circle cx="264.9" cy="542.9" r="0.61" fill="#7a2e88" opacity="0.55"/>
<circle cx="247.2" cy="569.0" r="0.65" fill="#d898cc" opacity="0.55"/>
<circle cx="286.8" cy="551.2" r="0.51" fill="#b460ac" opacity="0.55"/>
<circle cx="263.9" cy="560.8" r="0.75" fill="#d898cc" opacity="0.55"/>
<circle cx="285.0" cy="540.8" r="0.99" fill="#7a2e88" opacity="0.55"/>
<circle cx="264.7" cy="562.4" r="1.01" fill="#7a2e88" opacity="0.55"/>
<circle cx="267.2" cy="553.2" r="0.66" fill="#b460ac" opacity="0.55"/>
<circle cx="291.9" cy="537.6" r="1.06" fill="#b460ac" opacity="0.55"/>
<circle cx="261.7" cy="554.7" r="0.52" fill="#7a2e88" opacity="0.55"/>
<circle cx="268.3" cy="549.7" r="0.69" fill="#8c3c92" opacity="0.55"/>
<circle cx="303.3" cy="553.8" r="0.92" fill="#b460ac" opacity="0.55"/>
<circle cx="301.3" cy="548.9" r="0.78" fill="#7a2e88" opacity="0.55"/>
<circle cx="272.3" cy="540.6" r="0.81" fill="#7a2e88" opacity="0.55"/>
<circle cx="292.5" cy="538.0" r="1.05" fill="#8c3c92" opacity="0.55"/>
<circle cx="254.4" cy="571.5" r="0.74" fill="#d898cc" opacity="0.55"/>
<circle cx="257.0" cy="561.1" r="0.52" fill="#7a2e88" opacity="0.55"/>
<circle cx="272.4" cy="552.3" r="0.62" fill="#c880be" opacity="0.55"/>
<circle cx="262.4" cy="548.6" r="0.84" fill="#8c3c92" opacity="0.55"/>
<circle cx="256.9" cy="552.7" r="1.06" fill="#7a2e88" opacity="0.55"/>
<circle cx="287.9" cy="551.9" r="1.02" fill="#d898cc" opacity="0.55"/>
<circle cx="298.0" cy="538.9" r="0.70" fill="#d898cc" opacity="0.55"/>
<circle cx="241.1" cy="564.9" r="0.87" fill="#b460ac" opacity="0.55"/>
<circle cx="301.1" cy="543.1" r="0.43" fill="#b460ac" opacity="0.55"/>
<circle cx="257.1" cy="547.6" r="0.91" fill="#d898cc" opacity="0.55"/>
<circle cx="266.9" cy="547.6" r="0.56" fill="#8c3c92" opacity="0.55"/>
<circle cx="272.0" cy="541.5" r="0.47" fill="#c880be" opacity="0.55"/>
<circle cx="258.7" cy="561.0" r="0.67" fill="#b460ac" opacity="0.55"/>
<circle cx="251.4" cy="558.0" r="0.63" fill="#8c3c92" opacity="0.55"/>
<circle cx="246.4" cy="556.9" r="1.07" fill="#d898cc" opacity="0.55"/>
<circle cx="241.4" cy="562.6" r="0.45" fill="#c880be" opacity="0.55"/>
<circle cx="297.7" cy="539.8" r="0.85" fill="#d898cc" opacity="0.55"/>
<circle cx="299.7" cy="545.8" r="1.05" fill="#8c3c92" opacity="0.55"/>
<circle cx="289.0" cy="540.9" r="1.03" fill="#c880be" opacity="0.55"/>
<circle cx="260.6" cy="554.2" r="0.68" fill="#b460ac" opacity="0.55"/>
<circle cx="241.8" cy="566.4" r="0.57" fill="#d898cc" opacity="0.55"/>
<circle cx="293.6" cy="541.8" r="0.84" fill="#b460ac" opacity="0.55"/>
<circle cx="284.5" cy="553.6" r="0.64" fill="#d898cc" opacity="0.55"/>
<circle cx="261.6" cy="544.1" r="0.81" fill="#7a2e88" opacity="0.55"/>
<circle cx="270.8" cy="551.3" r="0.58" fill="#8c3c92" opacity="0.55"/>
<circle cx="284.5" cy="548.7" r="0.51" fill="#8c3c92" opacity="0.55"/>
<circle cx="245.1" cy="564.4" r="0.73" fill="#b460ac" opacity="0.55"/>
<circle cx="264.8" cy="552.8" r="0.58" fill="#b460ac" opacity="0.55"/>
<circle cx="253.6" cy="553.3" r="0.86" fill="#c880be" opacity="0.55"/>
<circle cx="251.1" cy="555.2" r="0.97" fill="#c880be" opacity="0.55"/>
<circle cx="267.4" cy="548.4" r="0.49" fill="#b460ac" opacity="0.55"/>
<circle cx="272.7" cy="554.3" r="0.85" fill="#7a2e88" opacity="0.55"/>
<circle cx="263.5" cy="550.6" r="0.89" fill="#7a2e88" opacity="0.55"/>
<circle cx="240.6" cy="574.3" r="0.47" fill="#d898cc" opacity="0.55"/>
<circle cx="244.0" cy="569.6" r="0.46" fill="#7a2e88" opacity="0.55"/>
<circle cx="243.3" cy="575.2" r="0.78" fill="#8c3c92" opacity="0.55"/>
<circle cx="239.5" cy="557.8" r="0.55" fill="#7a2e88" opacity="0.55"/>
<circle cx="255.5" cy="559.1" r="0.98" fill="#d898cc" opacity="0.55"/>
<circle cx="249.4" cy="555.7" r="0.79" fill="#7a2e88" opacity="0.55"/>
<circle cx="278.4" cy="550.0" r="0.65" fill="#b460ac" opacity="0.55"/>
<circle cx="292.6" cy="545.7" r="0.87" fill="#8c3c92" opacity="0.55"/>
<circle cx="260.1" cy="544.2" r="0.77" fill="#d898cc" opacity="0.55"/>
<circle cx="290.2" cy="547.1" r="0.48" fill="#b460ac" opacity="0.55"/>
<circle cx="240.5" cy="570.0" r="0.50" fill="#8c3c92" opacity="0.55"/>
<circle cx="251.9" cy="557.7" r="0.69" fill="#d898cc" opacity="0.55"/>
<circle cx="252.1" cy="575.0" r="0.40" fill="#d898cc" opacity="0.55"/>
<circle cx="240.8" cy="570.8" r="0.48" fill="#8c3c92" opacity="0.55"/>
<circle cx="282.3" cy="554.5" r="0.61" fill="#c880be" opacity="0.55"/>
<circle cx="245.9" cy="575.1" r="1.04" fill="#c880be" opacity="0.55"/>
<circle cx="302.9" cy="540.2" r="0.72" fill="#8c3c92" opacity="0.55"/>
<circle cx="268.4" cy="558.7" r="0.59" fill="#d898cc" opacity="0.55"/>
<circle cx="281.2" cy="545.5" r="0.44" fill="#7a2e88" opacity="0.55"/>
<circle cx="268.2" cy="547.6" r="0.95" fill="#d898cc" opacity="0.55"/>
<circle cx="286.0" cy="547.1" r="0.51" fill="#d898cc" opacity="0.55"/>
<circle cx="297.6" cy="544.8" r="1.02" fill="#8c3c92" opacity="0.55"/>
<circle cx="271.0" cy="540.8" r="0.82" fill="#d898cc" opacity="0.55"/>
<circle cx="257.3" cy="552.2" r="0.82" fill="#7a2e88" opacity="0.55"/>
<circle cx="257.6" cy="568.5" r="0.48" fill="#8c3c92" opacity="0.55"/>
<circle cx="271.3" cy="551.3" r="0.66" fill="#b460ac" opacity="0.55"/>
<circle cx="291.2" cy="540.4" r="0.40" fill="#c880be" opacity="0.55"/>
<circle cx="301.5" cy="546.8" r="0.77" fill="#8c3c92" opacity="0.55"/>
<circle cx="254.8" cy="567.9" r="0.43" fill="#b460ac" opacity="0.55"/>
<circle cx="247.9" cy="558.1" r="0.63" fill="#7a2e88" opacity="0.55"/>
<circle cx="300.5" cy="553.8" r="0.92" fill="#d898cc" opacity="0.55"/>
<circle cx="247.1" cy="567.8" r="0.61" fill="#d898cc" opacity="0.55"/>
<circle cx="278.1" cy="547.5" r="0.58" fill="#c880be" opacity="0.55"/>
<circle cx="269.0" cy="550.7" r="0.96" fill="#d898cc" opacity="0.55"/>
<circle cx="288.7" cy="550.2" r="0.46" fill="#d898cc" opacity="0.55"/>
<circle cx="276.2" cy="548.3" r="0.62" fill="#d898cc" opacity="0.55"/>
<circle cx="266.5" cy="558.3" r="0.71" fill="#8c3c92" opacity="0.55"/>
<circle cx="288.6" cy="537.9" r="0.43" fill="#d898cc" opacity="0.55"/>
<circle cx="267.4" cy="549.1" r="0.67" fill="#8c3c92" opacity="0.55"/>
<circle cx="300.7" cy="551.5" r="0.98" fill="#b460ac" opacity="0.55"/>
<circle cx="260.7" cy="561.2" r="0.88" fill="#b460ac" opacity="0.55"/>
<circle cx="243.1" cy="562.8" r="0.70" fill="#7a2e88" opacity="0.55"/>
<circle cx="272.5" cy="541.4" r="0.54" fill="#c880be" opacity="0.55"/>
<circle cx="294.9" cy="540.3" r="0.99" fill="#c880be" opacity="0.55"/>
<circle cx="286.0" cy="544.6" r="0.81" fill="#8c3c92" opacity="0.55"/>
<circle cx="242.3" cy="560.1" r="0.42" fill="#b460ac" opacity="0.55"/>
<circle cx="248.2" cy="555.7" r="0.92" fill="#7a2e88" opacity="0.55"/>
<circle cx="262.0" cy="553.6" r="1.01" fill="#8c3c92" opacity="0.55"/>
<circle cx="283.4" cy="553.2" r="0.96" fill="#d898cc" opacity="0.55"/>
<circle cx="282.2" cy="538.7" r="0.43" fill="#c880be" opacity="0.55"/>
<circle cx="241.0" cy="561.5" r="0.68" fill="#d898cc" opacity="0.55"/>
<circle cx="256.5" cy="549.0" r="0.94" fill="#7a2e88" opacity="0.55"/>
<circle cx="264.9" cy="559.1" r="0.77" fill="#c880be" opacity="0.55"/>
<circle cx="253.4" cy="567.9" r="0.63" fill="#c880be" opacity="0.55"/>
<circle cx="249.4" cy="552.3" r="0.41" fill="#c880be" opacity="0.55"/>
<circle cx="277.6" cy="544.7" r="1.00" fill="#c880be" opacity="0.55"/>
<circle cx="269.1" cy="554.3" r="0.59" fill="#c880be" opacity="0.55"/>
<circle cx="264.2" cy="555.8" r="0.97" fill="#b460ac" opacity="0.55"/>
<circle cx="298.5" cy="553.3" r="0.84" fill="#d898cc" opacity="0.55"/>
<circle cx="255.2" cy="566.4" r="1.05" fill="#7a2e88" opacity="0.55"/>
<circle cx="264.3" cy="556.3" r="0.85" fill="#7a2e88" opacity="0.55"/>
<circle cx="271.8" cy="550.6" r="0.91" fill="#d898cc" opacity="0.55"/>
<circle cx="301.0" cy="545.2" r="0.66" fill="#b460ac" opacity="0.55"/>
<circle cx="256.9" cy="557.7" r="1.09" fill="#8c3c92" opacity="0.55"/>
<circle cx="260.5" cy="563.4" r="0.68" fill="#b460ac" opacity="0.55"/>
<circle cx="250.1" cy="562.8" r="0.48" fill="#d898cc" opacity="0.55"/>
<circle cx="242.9" cy="561.3" r="0.92" fill="#d898cc" opacity="0.55"/>
<circle cx="251.6" cy="559.7" r="0.42" fill="#b460ac" opacity="0.55"/>
<circle cx="267.9" cy="558.1" r="1.07" fill="#7a2e88" opacity="0.55"/>
<circle cx="258.1" cy="561.9" r="0.51" fill="#b460ac" opacity="0.55"/>
<circle cx="278.8" cy="541.2" r="0.56" fill="#c880be" opacity="0.55"/>
<circle cx="256.0" cy="566.7" r="0.69" fill="#b460ac" opacity="0.55"/>
<circle cx="251.4" cy="562.0" r="0.46" fill="#b460ac" opacity="0.55"/>
<circle cx="248.1" cy="561.8" r="0.72" fill="#c880be" opacity="0.55"/>
<circle cx="246.4" cy="564.5" r="0.57" fill="#c880be" opacity="0.55"/>
<circle cx="255.7" cy="563.2" r="0.89" fill="#8c3c92" opacity="0.55"/>
<circle cx="237.6" cy="557.3" r="0.92" fill="#c880be" opacity="0.55"/>
<circle cx="241.8" cy="571.8" r="0.76" fill="#d898cc" opacity="0.55"/>
<circle cx="247.7" cy="561.1" r="0.61" fill="#8c3c92" opacity="0.55"/>
<circle cx="251.3" cy="563.5" r="0.48" fill="#d898cc" opacity="0.55"/>
<circle cx="256.6" cy="547.3" r="0.91" fill="#c880be" opacity="0.55"/>
<circle cx="262.3" cy="562.5" r="0.67" fill="#c880be" opacity="0.55"/>
<circle cx="301.1" cy="552.8" r="0.41" fill="#d898cc" opacity="0.55"/>
<circle cx="261.3" cy="549.1" r="1.06" fill="#7a2e88" opacity="0.55"/>
<circle cx="282.0" cy="552.3" r="0.46" fill="#c880be" opacity="0.55"/>
<circle cx="241.0" cy="563.5" r="0.52" fill="#c880be" opacity="0.55"/>
<circle cx="263.7" cy="560.6" r="0.92" fill="#d898cc" opacity="0.55"/>
<circle cx="250.4" cy="569.5" r="0.44" fill="#7a2e88" opacity="0.55"/>
<circle cx="288.9" cy="540.9" r="1.07" fill="#b460ac" opacity="0.55"/>
<circle cx="288.4" cy="549.3" r="0.91" fill="#c880be" opacity="0.55"/>
<circle cx="259.7" cy="551.5" r="0.69" fill="#8c3c92" opacity="0.55"/>
<circle cx="267.6" cy="547.4" r="0.69" fill="#b460ac" opacity="0.55"/>
<circle cx="266.9" cy="557.5" r="0.85" fill="#c880be" opacity="0.55"/>
<circle cx="266.8" cy="557.5" r="0.52" fill="#d898cc" opacity="0.55"/>
<circle cx="282.8" cy="539.0" r="0.57" fill="#c880be" opacity="0.55"/>
<circle cx="257.3" cy="558.8" r="1.00" fill="#7a2e88" opacity="0.55"/>
<circle cx="272.9" cy="545.2" r="0.88" fill="#7a2e88" opacity="0.55"/>
<circle cx="275.4" cy="553.6" r="1.00" fill="#c880be" opacity="0.55"/>
<circle cx="261.7" cy="555.3" r="0.54" fill="#b460ac" opacity="0.55"/>
<circle cx="276.3" cy="555.2" r="0.51" fill="#b460ac" opacity="0.55"/>
<circle cx="269.8" cy="541.6" r="0.86" fill="#d898cc" opacity="0.55"/>
<circle cx="255.5" cy="565.8" r="0.74" fill="#7a2e88" opacity="0.55"/>
<circle cx="266.2" cy="548.1" r="0.58" fill="#8c3c92" opacity="0.55"/>
<circle cx="283.0" cy="551.7" r="0.81" fill="#c880be" opacity="0.55"/>
<circle cx="247.9" cy="560.4" r="1.08" fill="#8c3c92" opacity="0.55"/>
<circle cx="265.1" cy="549.5" r="0.71" fill="#8c3c92" opacity="0.55"/>
<circle cx="257.9" cy="549.9" r="0.61" fill="#8c3c92" opacity="0.55"/>
<circle cx="270.7" cy="543.4" r="1.05" fill="#8c3c92" opacity="0.55"/>
<circle cx="241.5" cy="569.2" r="1.01" fill="#8c3c92" opacity="0.55"/>
<circle cx="281.1" cy="551.7" r="1.03" fill="#7a2e88" opacity="0.55"/>
<circle cx="252.1" cy="575.1" r="0.69" fill="#d898cc" opacity="0.55"/>
<circle cx="265.2" cy="546.1" r="0.53" fill="#8c3c92" opacity="0.55"/>
<circle cx="249.8" cy="550.4" r="0.83" fill="#8c3c92" opacity="0.55"/>
<circle cx="244.5" cy="563.2" r="0.60" fill="#d898cc" opacity="0.55"/>
<circle cx="253.4" cy="566.7" r="0.74" fill="#b460ac" opacity="0.55"/>
<circle cx="293.0" cy="550.0" r="0.66" fill="#b460ac" opacity="0.55"/>
<circle cx="291.8" cy="544.2" r="0.72" fill="#c880be" opacity="0.55"/>
<circle cx="248.2" cy="554.6" r="0.69" fill="#c880be" opacity="0.55"/>
<circle cx="276.8" cy="552.2" r="0.92" fill="#c880be" opacity="0.55"/>
<circle cx="282.2" cy="543.7" r="0.93" fill="#d898cc" opacity="0.55"/>
<circle cx="282.5" cy="555.2" r="0.70" fill="#c880be" opacity="0.55"/>
<circle cx="261.0" cy="558.6" r="0.62" fill="#c880be" opacity="0.55"/>
<circle cx="250.6" cy="570.7" r="0.51" fill="#d898cc" opacity="0.55"/>
<circle cx="245.8" cy="560.9" r="0.52" fill="#c880be" opacity="0.55"/>
<circle cx="285.9" cy="542.0" r="0.91" fill="#8c3c92" opacity="0.55"/>
<circle cx="283.2" cy="551.9" r="0.80" fill="#8c3c92" opacity="0.55"/>
<circle cx="258.9" cy="547.6" r="0.97" fill="#b460ac" opacity="0.55"/>
<circle cx="290.6" cy="541.9" r="0.70" fill="#8c3c92" opacity="0.55"/>
<circle cx="301.5" cy="549.4" r="0.87" fill="#b460ac" opacity="0.55"/>
<circle cx="263.5" cy="559.4" r="1.07" fill="#b460ac" opacity="0.55"/>
<circle cx="295.7" cy="553.1" r="0.48" fill="#d898cc" opacity="0.55"/>
<circle cx="258.2" cy="562.8" r="0.55" fill="#c880be" opacity="0.55"/>
<circle cx="257.2" cy="554.7" r="0.79" fill="#8c3c92" opacity="0.55"/>
<circle cx="272.9" cy="545.5" r="0.93" fill="#d898cc" opacity="0.55"/>
<circle cx="247.6" cy="573.0" r="0.55" fill="#b460ac" opacity="0.55"/>
<circle cx="241.2" cy="559.5" r="0.77" fill="#8c3c92" opacity="0.55"/>
<circle cx="281.8" cy="551.5" r="0.91" fill="#b460ac" opacity="0.55"/>
<circle cx="238.2" cy="571.5" r="0.71" fill="#b460ac" opacity="0.55"/>
<circle cx="275.0" cy="542.8" r="1.06" fill="#b460ac" opacity="0.55"/>
<circle cx="297.3" cy="544.2" r="0.84" fill="#7a2e88" opacity="0.55"/>
<circle cx="244.6" cy="568.8" r="0.79" fill="#d898cc" opacity="0.55"/>
<circle cx="272.9" cy="552.3" r="1.07" fill="#7a2e88" opacity="0.55"/>
<circle cx="278.0" cy="551.4" r="0.64" fill="#7a2e88" opacity="0.55"/>
<circle cx="290.1" cy="543.9" r="0.41" fill="#d898cc" opacity="0.55"/>
<circle cx="255.4" cy="554.0" r="0.64" fill="#8c3c92" opacity="0.55"/>
<circle cx="286.6" cy="554.2" r="1.03" fill="#b460ac" opacity="0.55"/>
<circle cx="285.6" cy="542.1" r="1.08" fill="#b460ac" opacity="0.55"/>
<circle cx="289.2" cy="552.7" r="0.86" fill="#c880be" opacity="0.55"/>
<circle cx="246.0" cy="563.5" r="0.84" fill="#c880be" opacity="0.55"/>
<circle cx="296.1" cy="546.5" r="0.87" fill="#8c3c92" opacity="0.55"/>
<circle cx="248.2" cy="574.4" r="0.41" fill="#b460ac" opacity="0.55"/>
<circle cx="252.6" cy="557.9" r="0.78" fill="#d898cc" opacity="0.55"/>
<circle cx="266.8" cy="544.9" r="0.83" fill="#7a2e88" opacity="0.55"/>
<circle cx="243.1" cy="559.7" r="0.47" fill="#d898cc" opacity="0.55"/>
<circle cx="251.7" cy="574.8" r="1.06" fill="#d898cc" opacity="0.55"/>
<circle cx="291.2" cy="554.5" r="0.62" fill="#c880be" opacity="0.55"/>
<circle cx="302.0" cy="540.9" r="1.02" fill="#c880be" opacity="0.55"/>
<circle cx="259.6" cy="556.5" r="0.79" fill="#b460ac" opacity="0.55"/>
<circle cx="266.2" cy="546.9" r="0.49" fill="#d898cc" opacity="0.55"/>
<circle cx="290.2" cy="544.2" r="0.92" fill="#8c3c92" opacity="0.55"/>
<circle cx="263.3" cy="557.9" r="0.79" fill="#7a2e88" opacity="0.55"/>
<circle cx="294.8" cy="553.1" r="1.08" fill="#b460ac" opacity="0.55"/>
<circle cx="240.6" cy="564.4" r="0.81" fill="#c880be" opacity="0.55"/>
<circle cx="270.5" cy="547.8" r="0.54" fill="#8c3c92" opacity="0.55"/>
<circle cx="283.5" cy="554.4" r="0.89" fill="#b460ac" opacity="0.55"/>
<circle cx="292.2" cy="543.7" r="0.74" fill="#8c3c92" opacity="0.55"/>
<circle cx="300.1" cy="545.3" r="0.89" fill="#d898cc" opacity="0.55"/>
<circle cx="241.2" cy="568.2" r="0.71" fill="#d898cc" opacity="0.55"/>
<circle cx="238.4" cy="572.0" r="0.92" fill="#8c3c92" opacity="0.55"/>
<circle cx="266.9" cy="555.9" r="1.08" fill="#d898cc" opacity="0.55"/>
<circle cx="285.2" cy="539.0" r="0.60" fill="#7a2e88" opacity="0.55"/>
<circle cx="295.1" cy="545.5" r="0.94" fill="#b460ac" opacity="0.55"/>
<circle cx="272.0" cy="548.3" r="0.68" fill="#c880be" opacity="0.55"/>
<circle cx="242.6" cy="572.7" r="0.43" fill="#b460ac" opacity="0.55"/>
<circle cx="245.1" cy="567.1" r="0.49" fill="#8c3c92" opacity="0.55"/>
<circle cx="261.8" cy="544.2" r="0.90" fill="#8c3c92" opacity="0.55"/>
<circle cx="260.9" cy="559.2" r="0.81" fill="#7a2e88" opacity="0.55"/>
<circle cx="285.0" cy="542.4" r="0.66" fill="#b460ac" opacity="0.55"/>
<circle cx="296.9" cy="548.3" r="0.57" fill="#d898cc" opacity="0.55"/>
<circle cx="295.6" cy="538.0" r="0.69" fill="#7a2e88" opacity="0.55"/>
<circle cx="258.8" cy="567.0" r="0.55" fill="#8c3c92" opacity="0.55"/>
<circle cx="241.2" cy="557.4" r="0.78" fill="#8c3c92" opacity="0.55"/>
<circle cx="254.6" cy="553.9" r="0.94" fill="#c880be" opacity="0.55"/>
<circle cx="258.5" cy="561.6" r="1.03" fill="#d898cc" opacity="0.55"/>
<circle cx="248.7" cy="554.8" r="0.53" fill="#c880be" opacity="0.55"/>
<circle cx="268.3" cy="557.2" r="0.76" fill="#d898cc" opacity="0.55"/>
<circle cx="299.6" cy="537.0" r="1.01" fill="#8c3c92" opacity="0.55"/>
<circle cx="237.7" cy="565.2" r="0.66" fill="#d898cc" opacity="0.55"/>
<circle cx="248.8" cy="558.4" r="0.69" fill="#7a2e88" opacity="0.55"/>
<circle cx="263.1" cy="544.6" r="0.71" fill="#c880be" opacity="0.55"/>
<circle cx="251.6" cy="563.1" r="0.52" fill="#7a2e88" opacity="0.55"/>
<circle cx="253.0" cy="570.2" r="0.96" fill="#8c3c92" opacity="0.55"/>
<circle cx="247.5" cy="566.7" r="0.83" fill="#b460ac" opacity="0.55"/>
<circle cx="253.8" cy="559.9" r="0.59" fill="#d898cc" opacity="0.55"/>
<circle cx="241.0" cy="565.8" r="0.49" fill="#b460ac" opacity="0.55"/>
<circle cx="253.9" cy="558.1" r="1.07" fill="#c880be" opacity="0.55"/>
<circle cx="277.9" cy="547.6" r="0.95" fill="#c880be" opacity="0.55"/>
<circle cx="248.7" cy="574.4" r="0.48" fill="#7a2e88" opacity="0.55"/>
<circle cx="249.9" cy="563.9" r="0.41" fill="#b460ac" opacity="0.55"/>
<circle cx="276.3" cy="540.2" r="0.88" fill="#8c3c92" opacity="0.55"/>
<circle cx="294.4" cy="541.7" r="0.43" fill="#c880be" opacity="0.55"/>
<circle cx="269.4" cy="548.3" r="1.06" fill="#c880be" opacity="0.55"/>
<circle cx="249.3" cy="565.9" r="0.57" fill="#b460ac" opacity="0.55"/>
<circle cx="268.9" cy="551.9" r="0.52" fill="#8c3c92" opacity="0.55"/>
<circle cx="281.2" cy="538.8" r="0.42" fill="#c880be" opacity="0.55"/>
<circle cx="277.8" cy="540.1" r="1.01" fill="#8c3c92" opacity="0.55"/>
<circle cx="285.1" cy="544.3" r="0.76" fill="#c880be" opacity="0.55"/>
<circle cx="293.5" cy="551.9" r="0.69" fill="#d898cc" opacity="0.55"/>
<circle cx="298.8" cy="538.8" r="0.95" fill="#d898cc" opacity="0.55"/>
<circle cx="283.6" cy="551.4" r="0.75" fill="#7a2e88" opacity="0.55"/>
<circle cx="265.5" cy="554.6" r="1.00" fill="#7a2e88" opacity="0.55"/>
<circle cx="288.1" cy="554.5" r="0.82" fill="#c880be" opacity="0.55"/>
<circle cx="269.7" cy="554.1" r="0.59" fill="#c880be" opacity="0.55"/>
<circle cx="269.4" cy="552.3" r="0.47" fill="#c880be" opacity="0.55"/>
<circle cx="261.2" cy="546.1" r="0.63" fill="#d898cc" opacity="0.55"/>
<circle cx="266.4" cy="549.6" r="0.80" fill="#d898cc" opacity="0.55"/>
<circle cx="243.2" cy="574.0" r="0.59" fill="#c880be" opacity="0.55"/>
<circle cx="271.3" cy="548.7" r="1.07" fill="#7a2e88" opacity="0.55"/>
<circle cx="300.2" cy="539.1" r="0.60" fill="#7a2e88" opacity="0.55"/>
<circle cx="266.8" cy="542.5" r="0.42" fill="#d898cc" opacity="0.55"/>
<circle cx="258.3" cy="553.3" r="0.49" fill="#b460ac" opacity="0.55"/>
</g>
<path d="M255.30,575.30 L258.00,570.00 L263.00,564.00 L271.00,556.50 L283.00,555.20 L303.60,553.90 L303.60,575.30Z" fill="#e070b4" opacity="1" />
<g filter="url(#hb)">
<circle cx="301.9" cy="554.1" r="0.92" fill="#d05aa8" opacity="0.5"/>
<circle cx="299.4" cy="559.0" r="0.44" fill="#d05aa8" opacity="0.5"/>
<circle cx="296.7" cy="575.3" r="0.57" fill="#e888c4" opacity="0.5"/>
<circle cx="277.8" cy="561.5" r="0.67" fill="#e888c4" opacity="0.5"/>
<circle cx="266.3" cy="572.3" r="1.01" fill="#e888c4" opacity="0.5"/>
<circle cx="266.1" cy="573.7" r="0.76" fill="#d05aa8" opacity="0.5"/>
<circle cx="283.2" cy="571.9" r="0.74" fill="#b050a8" opacity="0.5"/>
<circle cx="282.6" cy="561.6" r="0.80" fill="#b050a8" opacity="0.5"/>
<circle cx="274.9" cy="572.4" r="1.10" fill="#b050a8" opacity="0.5"/>
<circle cx="301.6" cy="571.9" r="0.54" fill="#d05aa8" opacity="0.5"/>
<circle cx="285.0" cy="570.7" r="0.99" fill="#f0a0d0" opacity="0.5"/>
<circle cx="269.1" cy="564.5" r="1.02" fill="#f0a0d0" opacity="0.5"/>
<circle cx="298.4" cy="562.4" r="0.45" fill="#e888c4" opacity="0.5"/>
<circle cx="274.7" cy="564.6" r="0.53" fill="#e888c4" opacity="0.5"/>
<circle cx="263.2" cy="567.3" r="0.67" fill="#b050a8" opacity="0.5"/>
<circle cx="271.5" cy="563.3" r="0.45" fill="#e888c4" opacity="0.5"/>
<circle cx="278.2" cy="556.4" r="0.74" fill="#b050a8" opacity="0.5"/>
<circle cx="302.0" cy="555.9" r="0.44" fill="#b050a8" opacity="0.5"/>
<circle cx="298.5" cy="574.1" r="0.51" fill="#b050a8" opacity="0.5"/>
<circle cx="282.6" cy="572.6" r="0.75" fill="#f0a0d0" opacity="0.5"/>
<circle cx="301.7" cy="558.9" r="0.93" fill="#b050a8" opacity="0.5"/>
<circle cx="288.7" cy="559.4" r="0.46" fill="#f0a0d0" opacity="0.5"/>
<circle cx="258.0" cy="570.0" r="0.98" fill="#b050a8" opacity="0.5"/>
<circle cx="272.1" cy="567.1" r="0.89" fill="#b050a8" opacity="0.5"/>
<circle cx="270.4" cy="571.5" r="0.96" fill="#b050a8" opacity="0.5"/>
<circle cx="272.1" cy="562.2" r="0.76" fill="#d05aa8" opacity="0.5"/>
<circle cx="267.4" cy="564.6" r="0.76" fill="#e888c4" opacity="0.5"/>
<circle cx="299.4" cy="568.5" r="0.62" fill="#e888c4" opacity="0.5"/>
<circle cx="266.2" cy="573.7" r="1.00" fill="#f0a0d0" opacity="0.5"/>
<circle cx="303.0" cy="569.4" r="0.68" fill="#d05aa8" opacity="0.5"/>
<circle cx="271.5" cy="560.6" r="0.72" fill="#b050a8" opacity="0.5"/>
<circle cx="282.9" cy="556.5" r="1.05" fill="#f0a0d0" opacity="0.5"/>
<circle cx="260.1" cy="572.0" r="0.90" fill="#b050a8" opacity="0.5"/>
<circle cx="295.8" cy="567.9" r="0.81" fill="#e888c4" opacity="0.5"/>
<circle cx="273.1" cy="558.9" r="0.79" fill="#f0a0d0" opacity="0.5"/>
<circle cx="303.4" cy="569.4" r="0.81" fill="#e888c4" opacity="0.5"/>
<circle cx="277.5" cy="566.8" r="0.80" fill="#b050a8" opacity="0.5"/>
<circle cx="292.0" cy="561.5" r="0.53" fill="#b050a8" opacity="0.5"/>
<circle cx="299.6" cy="568.8" r="0.95" fill="#f0a0d0" opacity="0.5"/>
<circle cx="291.3" cy="555.4" r="1.02" fill="#b050a8" opacity="0.5"/>
<circle cx="281.2" cy="572.8" r="0.56" fill="#d05aa8" opacity="0.5"/>
<circle cx="284.9" cy="572.7" r="0.66" fill="#d05aa8" opacity="0.5"/>
<circle cx="275.6" cy="572.7" r="0.66" fill="#d05aa8" opacity="0.5"/>
<circle cx="279.5" cy="564.1" r="0.73" fill="#b050a8" opacity="0.5"/>
<circle cx="277.9" cy="557.6" r="0.45" fill="#e888c4" opacity="0.5"/>
<circle cx="300.0" cy="574.8" r="0.57" fill="#f0a0d0" opacity="0.5"/>
<circle cx="277.1" cy="562.6" r="0.86" fill="#f0a0d0" opacity="0.5"/>
<circle cx="287.6" cy="575.2" r="0.83" fill="#b050a8" opacity="0.5"/>
<circle cx="276.8" cy="561.1" r="1.02" fill="#e888c4" opacity="0.5"/>
<circle cx="274.2" cy="571.1" r="0.68" fill="#f0a0d0" opacity="0.5"/>
<circle cx="263.3" cy="574.3" r="0.72" fill="#b050a8" opacity="0.5"/>
<circle cx="271.3" cy="569.1" r="0.73" fill="#f0a0d0" opacity="0.5"/>
<circle cx="292.0" cy="564.7" r="0.86" fill="#b050a8" opacity="0.5"/>
<circle cx="288.3" cy="560.8" r="1.00" fill="#b050a8" opacity="0.5"/>
<circle cx="267.6" cy="573.9" r="0.59" fill="#b050a8" opacity="0.5"/>
<circle cx="261.1" cy="572.8" r="0.88" fill="#e888c4" opacity="0.5"/>
<circle cx="269.3" cy="563.5" r="0.76" fill="#d05aa8" opacity="0.5"/>
<circle cx="278.6" cy="565.0" r="0.48" fill="#d05aa8" opacity="0.5"/>
<circle cx="293.6" cy="562.4" r="0.70" fill="#e888c4" opacity="0.5"/>
<circle cx="294.6" cy="568.9" r="0.73" fill="#b050a8" opacity="0.5"/>
<circle cx="291.2" cy="574.2" r="0.73" fill="#d05aa8" opacity="0.5"/>
<circle cx="270.8" cy="562.1" r="1.09" fill="#b050a8" opacity="0.5"/>
<circle cx="271.2" cy="561.1" r="0.94" fill="#b050a8" opacity="0.5"/>
<circle cx="266.2" cy="568.3" r="0.56" fill="#f0a0d0" opacity="0.5"/>
<circle cx="263.9" cy="565.2" r="0.61" fill="#d05aa8" opacity="0.5"/>
<circle cx="279.2" cy="557.9" r="0.56" fill="#b050a8" opacity="0.5"/>
<circle cx="300.5" cy="557.3" r="0.76" fill="#d05aa8" opacity="0.5"/>
<circle cx="301.2" cy="565.9" r="0.77" fill="#e888c4" opacity="0.5"/>
<circle cx="285.4" cy="571.3" r="0.43" fill="#f0a0d0" opacity="0.5"/>
<circle cx="266.0" cy="561.5" r="0.68" fill="#e888c4" opacity="0.5"/>
<circle cx="283.8" cy="566.5" r="0.62" fill="#e888c4" opacity="0.5"/>
<circle cx="275.7" cy="565.8" r="0.84" fill="#f0a0d0" opacity="0.5"/>
<circle cx="299.8" cy="564.1" r="0.92" fill="#d05aa8" opacity="0.5"/>
<circle cx="299.8" cy="563.2" r="0.49" fill="#f0a0d0" opacity="0.5"/>
<circle cx="284.4" cy="571.1" r="0.65" fill="#d05aa8" opacity="0.5"/>
<circle cx="281.2" cy="573.3" r="1.10" fill="#d05aa8" opacity="0.5"/>
<circle cx="267.9" cy="564.9" r="0.76" fill="#b050a8" opacity="0.5"/>
<circle cx="279.5" cy="557.0" r="0.81" fill="#b050a8" opacity="0.5"/>
<circle cx="263.5" cy="567.2" r="1.10" fill="#d05aa8" opacity="0.5"/>
<circle cx="302.7" cy="574.6" r="1.05" fill="#e888c4" opacity="0.5"/>
<circle cx="287.0" cy="564.5" r="0.48" fill="#d05aa8" opacity="0.5"/>
<circle cx="274.5" cy="573.9" r="0.80" fill="#e888c4" opacity="0.5"/>
<circle cx="291.8" cy="571.3" r="0.48" fill="#e888c4" opacity="0.5"/>
<circle cx="302.1" cy="565.0" r="0.41" fill="#e888c4" opacity="0.5"/>
<circle cx="276.7" cy="570.0" r="0.68" fill="#f0a0d0" opacity="0.5"/>
<circle cx="285.5" cy="562.0" r="1.05" fill="#f0a0d0" opacity="0.5"/>
<circle cx="290.6" cy="567.2" r="0.52" fill="#d05aa8" opacity="0.5"/>
<circle cx="300.8" cy="556.1" r="0.66" fill="#d05aa8" opacity="0.5"/>
<circle cx="266.9" cy="572.7" r="0.61" fill="#d05aa8" opacity="0.5"/>
<circle cx="282.6" cy="559.2" r="0.42" fill="#f0a0d0" opacity="0.5"/>
<circle cx="303.5" cy="572.7" r="0.66" fill="#f0a0d0" opacity="0.5"/>
<circle cx="278.5" cy="566.9" r="0.85" fill="#e888c4" opacity="0.5"/>
<circle cx="293.3" cy="555.1" r="0.85" fill="#f0a0d0" opacity="0.5"/>
<circle cx="303.5" cy="568.0" r="0.82" fill="#d05aa8" opacity="0.5"/>
<circle cx="292.9" cy="562.6" r="0.66" fill="#b050a8" opacity="0.5"/>
<circle cx="288.0" cy="571.8" r="0.66" fill="#f0a0d0" opacity="0.5"/>
<circle cx="262.3" cy="568.5" r="0.84" fill="#f0a0d0" opacity="0.5"/>
<circle cx="274.8" cy="560.6" r="0.70" fill="#d05aa8" opacity="0.5"/>
<circle cx="288.6" cy="562.9" r="0.91" fill="#f0a0d0" opacity="0.5"/>
<circle cx="282.7" cy="572.2" r="0.41" fill="#f0a0d0" opacity="0.5"/>
<circle cx="262.2" cy="574.3" r="1.09" fill="#b050a8" opacity="0.5"/>
<circle cx="302.4" cy="557.8" r="0.69" fill="#b050a8" opacity="0.5"/>
<circle cx="289.7" cy="554.9" r="0.48" fill="#f0a0d0" opacity="0.5"/>
<circle cx="274.0" cy="573.4" r="0.95" fill="#f0a0d0" opacity="0.5"/>
<circle cx="282.0" cy="560.8" r="0.72" fill="#d05aa8" opacity="0.5"/>
<circle cx="300.8" cy="570.7" r="0.62" fill="#e888c4" opacity="0.5"/>
<circle cx="281.5" cy="564.6" r="0.70" fill="#d05aa8" opacity="0.5"/>
<circle cx="270.3" cy="574.3" r="0.55" fill="#e888c4" opacity="0.5"/>
<circle cx="273.7" cy="574.2" r="0.56" fill="#e888c4" opacity="0.5"/>
<circle cx="285.9" cy="559.3" r="0.41" fill="#f0a0d0" opacity="0.5"/>
<circle cx="272.8" cy="571.5" r="0.86" fill="#d05aa8" opacity="0.5"/>
<circle cx="298.7" cy="571.1" r="0.61" fill="#f0a0d0" opacity="0.5"/>
<circle cx="296.1" cy="571.2" r="0.44" fill="#e888c4" opacity="0.5"/>
<circle cx="292.4" cy="572.1" r="0.46" fill="#e888c4" opacity="0.5"/>
<circle cx="284.5" cy="573.1" r="0.51" fill="#f0a0d0" opacity="0.5"/>
<circle cx="298.2" cy="574.6" r="0.83" fill="#f0a0d0" opacity="0.5"/>
<circle cx="263.8" cy="566.9" r="1.03" fill="#d05aa8" opacity="0.5"/>
<circle cx="289.8" cy="563.0" r="1.04" fill="#d05aa8" opacity="0.5"/>
<circle cx="262.3" cy="574.1" r="0.92" fill="#f0a0d0" opacity="0.5"/>
<circle cx="268.0" cy="574.3" r="0.46" fill="#e888c4" opacity="0.5"/>
<circle cx="281.3" cy="556.7" r="0.55" fill="#f0a0d0" opacity="0.5"/>
<circle cx="274.1" cy="572.7" r="0.44" fill="#d05aa8" opacity="0.5"/>
<circle cx="296.4" cy="559.0" r="0.59" fill="#d05aa8" opacity="0.5"/>
<circle cx="282.7" cy="570.0" r="0.53" fill="#d05aa8" opacity="0.5"/>
<circle cx="279.8" cy="570.0" r="0.86" fill="#f0a0d0" opacity="0.5"/>
<circle cx="275.6" cy="571.0" r="0.66" fill="#b050a8" opacity="0.5"/>
<circle cx="266.7" cy="569.1" r="0.62" fill="#d05aa8" opacity="0.5"/>
<circle cx="273.6" cy="560.3" r="0.80" fill="#e888c4" opacity="0.5"/>
<circle cx="268.8" cy="565.4" r="1.00" fill="#b050a8" opacity="0.5"/>
<circle cx="272.8" cy="573.7" r="0.65" fill="#b050a8" opacity="0.5"/>
<circle cx="294.7" cy="564.1" r="0.72" fill="#b050a8" opacity="0.5"/>
<circle cx="271.5" cy="563.3" r="0.58" fill="#e888c4" opacity="0.5"/>
<circle cx="277.4" cy="566.8" r="0.50" fill="#b050a8" opacity="0.5"/>
<circle cx="280.3" cy="555.6" r="0.42" fill="#e888c4" opacity="0.5"/>
<circle cx="293.1" cy="573.9" r="0.97" fill="#b050a8" opacity="0.5"/>
<circle cx="301.5" cy="568.5" r="0.79" fill="#b050a8" opacity="0.5"/>
<circle cx="287.3" cy="563.0" r="0.53" fill="#b050a8" opacity="0.5"/>
<circle cx="271.0" cy="559.0" r="0.98" fill="#d05aa8" opacity="0.5"/>
<circle cx="287.7" cy="570.9" r="0.83" fill="#e888c4" opacity="0.5"/>
<circle cx="274.2" cy="557.6" r="1.05" fill="#f0a0d0" opacity="0.5"/>
</g>
<path d="M263.10,575.30 L266.00,571.00 L270.00,567.00 L279.80,564.70 L286.30,565.70 L292.90,568.30 L297.50,571.60 L298.00,575.30Z" fill="#f6e4f0" opacity="1" />
<path d="M265.00,575.30 L268.00,571.50 L271.00,568.60 L279.80,566.20 L286.30,567.20 L292.50,569.80 L296.30,572.80 L296.80,575.30Z" fill="#e24ba0" opacity="1" />
<g filter="url(#hb)">
<circle cx="299.2" cy="572.1" r="0.56" fill="#f4d0e6" opacity="0.7"/>
<circle cx="294.7" cy="559.1" r="0.67" fill="#f4d0e6" opacity="0.7"/>
<circle cx="299.6" cy="564.0" r="0.87" fill="#ffffff" opacity="0.7"/>
<circle cx="295.0" cy="570.1" r="0.62" fill="#ffffff" opacity="0.7"/>
<circle cx="293.0" cy="568.0" r="0.57" fill="#ffffff" opacity="0.7"/>
<circle cx="299.2" cy="559.8" r="0.60" fill="#ffffff" opacity="0.7"/>
<circle cx="295.8" cy="566.7" r="0.96" fill="#ffffff" opacity="0.7"/>
<circle cx="302.0" cy="568.3" r="0.47" fill="#f4d0e6" opacity="0.7"/>
<circle cx="293.3" cy="559.4" r="0.92" fill="#ffffff" opacity="0.7"/>
<circle cx="294.4" cy="567.4" r="0.69" fill="#f4d0e6" opacity="0.7"/>
<circle cx="297.3" cy="559.5" r="0.89" fill="#ffffff" opacity="0.7"/>
<circle cx="294.5" cy="559.8" r="0.50" fill="#f4d0e6" opacity="0.7"/>
<circle cx="292.4" cy="565.9" r="0.46" fill="#f4d0e6" opacity="0.7"/>
<circle cx="303.3" cy="560.5" r="0.63" fill="#f4d0e6" opacity="0.7"/>
<circle cx="297.1" cy="564.6" r="0.76" fill="#ffffff" opacity="0.7"/>
<circle cx="294.2" cy="563.9" r="0.67" fill="#f4d0e6" opacity="0.7"/>
<circle cx="291.8" cy="560.1" r="0.82" fill="#f4d0e6" opacity="0.7"/>
<circle cx="302.9" cy="564.3" r="0.61" fill="#f4d0e6" opacity="0.7"/>
<circle cx="302.8" cy="562.0" r="0.58" fill="#ffffff" opacity="0.7"/>
<circle cx="301.1" cy="559.4" r="0.46" fill="#ffffff" opacity="0.7"/>
<circle cx="298.4" cy="562.2" r="0.96" fill="#f4d0e6" opacity="0.7"/>
<circle cx="303.5" cy="559.7" r="0.97" fill="#ffffff" opacity="0.7"/>
<circle cx="297.3" cy="560.7" r="0.52" fill="#f4d0e6" opacity="0.7"/>
<circle cx="294.7" cy="569.4" r="0.62" fill="#ffffff" opacity="0.7"/>
<circle cx="297.4" cy="570.6" r="0.62" fill="#f4d0e6" opacity="0.7"/>
<circle cx="294.1" cy="563.8" r="0.73" fill="#f4d0e6" opacity="0.7"/>
<circle cx="296.4" cy="569.6" r="0.45" fill="#ffffff" opacity="0.7"/>
<circle cx="302.7" cy="561.2" r="0.69" fill="#ffffff" opacity="0.7"/>
<circle cx="297.9" cy="563.7" r="0.87" fill="#f4d0e6" opacity="0.7"/>
<circle cx="299.9" cy="566.1" r="0.65" fill="#f4d0e6" opacity="0.7"/>
</g>
<rect x="240.0" y="572.2" width="14.3" height="1.3" fill="#dcdcdc"/>
</g>
<rect x="237.6" y="526" width="66" height="49.3" fill="none" stroke="#a8a8a8" stroke-width="0.8"/>
<text x="7.6" y="471.2" font-size="11.6" font-weight="bold" font-style="normal" text-anchor="start" fill="#000" textLength="6.9" lengthAdjust="spacingAndGlyphs" stroke="#000" stroke-width="0.35">E</text>
<line x1="30.4" y1="482.8" x2="30.4" y2="565.4" stroke="#231f20" stroke-width="0.8" />
<line x1="30.4" y1="565.4" x2="66.2" y2="565.4" stroke="#231f20" stroke-width="0.8" />
<line x1="28.2" y1="483.96" x2="30.4" y2="483.96" stroke="#231f20" stroke-width="0.7" />
<text x="26.4" y="486.26" font-size="6.4" font-weight="normal" font-style="normal" text-anchor="end" fill="#231f20" >8</text>
<line x1="28.2" y1="504.32" x2="30.4" y2="504.32" stroke="#231f20" stroke-width="0.7" />
<text x="26.4" y="506.62" font-size="6.4" font-weight="normal" font-style="normal" text-anchor="end" fill="#231f20" >6</text>
<line x1="28.2" y1="524.68" x2="30.4" y2="524.68" stroke="#231f20" stroke-width="0.7" />
<text x="26.4" y="526.9799999999999" font-size="6.4" font-weight="normal" font-style="normal" text-anchor="end" fill="#231f20" >4</text>
<line x1="28.2" y1="545.04" x2="30.4" y2="545.04" stroke="#231f20" stroke-width="0.7" />
<text x="26.4" y="547.3399999999999" font-size="6.4" font-weight="normal" font-style="normal" text-anchor="end" fill="#231f20" >2</text>
<line x1="28.2" y1="565.4" x2="30.4" y2="565.4" stroke="#231f20" stroke-width="0.7" />
<text x="26.4" y="567.6999999999999" font-size="6.4" font-weight="normal" font-style="normal" text-anchor="end" fill="#231f20" >0</text>
<rect x="36.5" y="499.3" width="10.30" height="66.10" fill="#fff" stroke="#231f20" stroke-width="0.9"/>
<rect x="49.1" y="527.3" width="10.70" height="38.10" fill="#b9b9bd" stroke="#231f20" stroke-width="0.9"/>
<line x1="41.65" y1="497.2" x2="41.65" y2="499.3" stroke="#231f20" stroke-width="0.8" />
<line x1="39.449999999999996" y1="497.2" x2="43.85" y2="497.2" stroke="#231f20" stroke-width="0.8" />
<line x1="54.45" y1="523.9" x2="54.45" y2="527.3" stroke="#231f20" stroke-width="0.8" />
<line x1="52.25" y1="523.9" x2="56.650000000000006" y2="523.9" stroke="#231f20" stroke-width="0.8" />
<line x1="36.5" y1="482.8" x2="60.5" y2="482.8" stroke="#231f20" stroke-width="0.9" />
<text x="48.5" y="481.6" font-size="6" font-weight="normal" font-style="normal" text-anchor="middle" fill="#231f20" >**</text>
<circle cx="37.70" cy="494.70" r="1.25" fill="#d7192a"/>
<circle cx="40.60" cy="493.80" r="1.25" fill="#d7192a"/>
<circle cx="44.50" cy="495.40" r="1.25" fill="#d7192a"/>
<circle cx="42.90" cy="498.30" r="1.25" fill="#d7192a"/>
<circle cx="37.70" cy="501.50" r="1.25" fill="#d7192a"/>
<circle cx="41.10" cy="503.40" r="1.25" fill="#d7192a"/>
<circle cx="44.50" cy="502.20" r="1.25" fill="#d7192a"/>
<circle cx="54.10" cy="518.90" r="1.25" fill="#1d5aa0"/>
<circle cx="50.70" cy="524.60" r="1.25" fill="#1d5aa0"/>
<circle cx="53.60" cy="526.20" r="1.25" fill="#1d5aa0"/>
<circle cx="57.00" cy="526.20" r="1.25" fill="#1d5aa0"/>
<circle cx="58.20" cy="527.50" r="1.25" fill="#1d5aa0"/>
<circle cx="54.30" cy="540.30" r="1.25" fill="#1d5aa0"/>
<text x="15.9" y="525" font-size="8.3" text-anchor="middle" fill="#231f20" font-style="normal" transform="rotate(-90 15.9 525)" textLength="68.5" lengthAdjust="spacingAndGlyphs">Colonic organoids/field</text>
<g transform="rotate(-47 43.6 571.2)">
<text x="43.6" y="571.2" font-size="6.9" font-weight="normal" font-style="normal" text-anchor="end" fill="#231f20" textLength="10.2" lengthAdjust="spacingAndGlyphs" >WT</text>
</g>
<g transform="rotate(-47 59.6 570.0)">
<text x="59.6" y="570.0" font-size="6.9" font-weight="normal" font-style="normal" text-anchor="end" fill="#231f20" textLength="23.5" lengthAdjust="spacingAndGlyphs" ><tspan font-style="italic">Ifnlr1</tspan><tspan font-size="4.4" dy="-2.8">−/−</tspan></text>
</g>
<text x="99.0" y="471.2" font-size="11.6" font-weight="bold" font-style="normal" text-anchor="start" fill="#000" stroke="#000" stroke-width="0.35">F</text>
<line x1="135.6" y1="486.9" x2="135.6" y2="568.6" stroke="#231f20" stroke-width="0.8" />
<line x1="135.6" y1="568.6" x2="170.3" y2="568.6" stroke="#231f20" stroke-width="0.8" />
<line x1="133.4" y1="487.35" x2="135.6" y2="487.35" stroke="#231f20" stroke-width="0.7" />
<text x="131.6" y="489.65000000000003" font-size="6.4" font-weight="normal" font-style="normal" text-anchor="end" fill="#231f20" textLength="17.46" lengthAdjust="spacingAndGlyphs" >0.025</text>
<line x1="133.4" y1="503.6" x2="135.6" y2="503.6" stroke="#231f20" stroke-width="0.7" />
<text x="131.6" y="505.90000000000003" font-size="6.4" font-weight="normal" font-style="normal" text-anchor="end" fill="#231f20" textLength="17.46" lengthAdjust="spacingAndGlyphs" >0.020</text>
<line x1="133.4" y1="519.85" x2="135.6" y2="519.85" stroke="#231f20" stroke-width="0.7" />
<text x="131.6" y="522.15" font-size="6.4" font-weight="normal" font-style="normal" text-anchor="end" fill="#231f20" textLength="17.46" lengthAdjust="spacingAndGlyphs" >0.015</text>
<line x1="133.4" y1="536.1" x2="135.6" y2="536.1" stroke="#231f20" stroke-width="0.7" />
<text x="131.6" y="538.4" font-size="6.4" font-weight="normal" font-style="normal" text-anchor="end" fill="#231f20" textLength="17.46" lengthAdjust="spacingAndGlyphs" >0.010</text>
<line x1="133.4" y1="552.35" x2="135.6" y2="552.35" stroke="#231f20" stroke-width="0.7" />
<text x="131.6" y="554.65" font-size="6.4" font-weight="normal" font-style="normal" text-anchor="end" fill="#231f20" textLength="17.46" lengthAdjust="spacingAndGlyphs" >0.005</text>
<line x1="133.4" y1="568.6" x2="135.6" y2="568.6" stroke="#231f20" stroke-width="0.7" />
<text x="131.6" y="570.9" font-size="6.4" font-weight="normal" font-style="normal" text-anchor="end" fill="#231f20" textLength="17.46" lengthAdjust="spacingAndGlyphs" >0.000</text>
<rect x="140.6" y="524.6" width="11.00" height="44.00" fill="#fff" stroke="#231f20" stroke-width="0.9"/>
<rect x="154.3" y="538.0" width="10.30" height="30.60" fill="#b9b9bd" stroke="#231f20" stroke-width="0.9"/>
<line x1="146.1" y1="518.2" x2="146.1" y2="524.6" stroke="#231f20" stroke-width="0.8" />
<line x1="143.9" y1="518.2" x2="148.29999999999998" y2="518.2" stroke="#231f20" stroke-width="0.8" />
<line x1="159.45" y1="534.2" x2="159.45" y2="538.0" stroke="#231f20" stroke-width="0.8" />
<line x1="157.25" y1="534.2" x2="161.64999999999998" y2="534.2" stroke="#231f20" stroke-width="0.8" />
<line x1="140.6" y1="486.9" x2="164.6" y2="486.9" stroke="#231f20" stroke-width="0.9" />
<text x="152.6" y="485.7" font-size="6" font-weight="normal" font-style="normal" text-anchor="middle" fill="#231f20" >*</text>
<circle cx="146.30" cy="502.20" r="1.25" fill="#d7192a"/>
<circle cx="146.30" cy="512.00" r="1.25" fill="#d7192a"/>
<circle cx="146.30" cy="516.60" r="1.25" fill="#d7192a"/>
<circle cx="146.30" cy="522.80" r="1.25" fill="#d7192a"/>
<circle cx="146.30" cy="528.50" r="1.25" fill="#d7192a"/>
<circle cx="146.30" cy="537.60" r="1.25" fill="#d7192a"/>
<circle cx="146.30" cy="549.00" r="1.25" fill="#d7192a"/>
<circle cx="159.40" cy="523.90" r="1.25" fill="#1d5aa0"/>
<circle cx="161.20" cy="535.30" r="1.25" fill="#1d5aa0"/>
<circle cx="156.60" cy="537.60" r="1.25" fill="#1d5aa0"/>
<circle cx="163.00" cy="538.70" r="1.25" fill="#1d5aa0"/>
<circle cx="157.80" cy="546.30" r="1.25" fill="#1d5aa0"/>
<circle cx="161.20" cy="544.90" r="1.25" fill="#1d5aa0"/>
<text x="106.1" y="526" font-size="8.3" text-anchor="middle" fill="#231f20" font-style="normal" transform="rotate(-90 106.1 526)" textLength="82.7" lengthAdjust="spacingAndGlyphs">Cross-sectional area (mm<tspan font-size="4.2" dy="-2.4">2</tspan><tspan dy="2.4">)</tspan></text>
<g transform="rotate(-47 149.8 573.8)">
<text x="149.8" y="573.8" font-size="6.9" font-weight="normal" font-style="normal" text-anchor="end" fill="#231f20" textLength="10.2" lengthAdjust="spacingAndGlyphs" >WT</text>
</g>
<g transform="rotate(-47 165.0 572.8)">
<text x="165.0" y="572.8" font-size="6.9" font-weight="normal" font-style="normal" text-anchor="end" fill="#231f20" textLength="23.5" lengthAdjust="spacingAndGlyphs" ><tspan font-style="italic">Ifnlr1</tspan><tspan font-size="4.4" dy="-2.8">−/−</tspan></text>
</g>
<text x="207.3" y="471.2" font-size="11.6" font-weight="bold" font-style="normal" text-anchor="start" fill="#000" stroke="#000" stroke-width="0.35">G</text>
<text x="207.8" y="500.9" font-size="7.0" font-weight="normal" font-style="normal" text-anchor="start" fill="#231f20" textLength="14.2" lengthAdjust="spacingAndGlyphs" >Lgr5</text>
<text x="222.0" y="497.7" font-size="4.7" font-weight="normal" font-style="normal" text-anchor="start" fill="#231f20" textLength="10.9" lengthAdjust="spacingAndGlyphs" >Cre−</text>
<text x="209.6" y="509.3" font-size="7.0" font-weight="normal" font-style="italic" text-anchor="start" fill="#231f20" textLength="15.6" lengthAdjust="spacingAndGlyphs" >Ifnlr1</text>
<text x="225.5" y="506.1" font-size="4.7" font-weight="normal" font-style="italic" text-anchor="start" fill="#231f20" textLength="7.4" lengthAdjust="spacingAndGlyphs" >fl/fl</text>
<text x="207.8" y="552.0" font-size="7.0" font-weight="normal" font-style="normal" text-anchor="start" fill="#231f20" textLength="14.2" lengthAdjust="spacingAndGlyphs" >Lgr5</text>
<text x="222.0" y="548.8" font-size="4.7" font-weight="normal" font-style="normal" text-anchor="start" fill="#231f20" textLength="10.9" lengthAdjust="spacingAndGlyphs" >Cre+</text>
<text x="209.6" y="560.4" font-size="7.0" font-weight="normal" font-style="italic" text-anchor="start" fill="#231f20" textLength="15.6" lengthAdjust="spacingAndGlyphs" >Ifnlr1</text>
<text x="225.5" y="557.1999999999999" font-size="4.7" font-weight="normal" font-style="italic" text-anchor="start" fill="#231f20" textLength="7.4" lengthAdjust="spacingAndGlyphs" >fl/fl</text>
<text x="235.4" y="584.6" font-size="6.6" font-weight="normal" font-style="normal" text-anchor="start" fill="#231f20" textLength="21.4" lengthAdjust="spacingAndGlyphs" >200µm</text>
<text x="336.0" y="471.2" font-size="11.6" font-weight="bold" font-style="normal" text-anchor="start" fill="#000" stroke="#000" stroke-width="0.35">H</text>
<line x1="371.1" y1="472.6" x2="371.1" y2="547.9" stroke="#231f20" stroke-width="0.8" />
<line x1="371.1" y1="547.9" x2="403.1" y2="547.9" stroke="#231f20" stroke-width="0.8" />
<line x1="368.90000000000003" y1="485.2" x2="371.1" y2="485.2" stroke="#231f20" stroke-width="0.7" />
<text x="367.0" y="487.5" font-size="6.4" font-weight="normal" font-style="normal" text-anchor="end" fill="#231f20" textLength="7.76" lengthAdjust="spacingAndGlyphs" >15</text>
<line x1="368.90000000000003" y1="506.09999999999997" x2="371.1" y2="506.09999999999997" stroke="#231f20" stroke-width="0.7" />
<text x="367.0" y="508.4" font-size="6.4" font-weight="normal" font-style="normal" text-anchor="end" fill="#231f20" textLength="7.76" lengthAdjust="spacingAndGlyphs" >10</text>
<line x1="368.90000000000003" y1="527.0" x2="371.1" y2="527.0" stroke="#231f20" stroke-width="0.7" />
<text x="367.0" y="529.3" font-size="6.4" font-weight="normal" font-style="normal" text-anchor="end" fill="#231f20" >5</text>
<line x1="368.90000000000003" y1="547.9" x2="371.1" y2="547.9" stroke="#231f20" stroke-width="0.7" />
<text x="367.0" y="550.1999999999999" font-size="6.4" font-weight="normal" font-style="normal" text-anchor="end" fill="#231f20" >0</text>
<rect x="376.1" y="504.5" width="9.90" height="43.40" fill="#fff" stroke="#231f20" stroke-width="0.9"/>
<rect x="388.2" y="493.1" width="9.90" height="54.80" fill="#b9b9bd" stroke="#231f20" stroke-width="0.9"/>
<line x1="381.05" y1="501.6" x2="381.05" y2="504.5" stroke="#231f20" stroke-width="0.8" />
<line x1="378.85" y1="501.6" x2="383.25" y2="501.6" stroke="#231f20" stroke-width="0.8" />
<line x1="393.15" y1="489.7" x2="393.15" y2="493.1" stroke="#231f20" stroke-width="0.8" />
<line x1="390.95" y1="489.7" x2="395.34999999999997" y2="489.7" stroke="#231f20" stroke-width="0.8" />
<line x1="377.5" y1="471.4" x2="398.0" y2="471.4" stroke="#231f20" stroke-width="0.9" />
<text x="387.75" y="470.2" font-size="6" font-weight="normal" font-style="normal" text-anchor="middle" fill="#231f20" >*</text>
<circle cx="381.40" cy="493.80" r="1.25" fill="#d7192a"/>
<circle cx="376.80" cy="501.80" r="1.25" fill="#d7192a"/>
<circle cx="379.10" cy="501.80" r="1.25" fill="#d7192a"/>
<circle cx="382.50" cy="501.80" r="1.25" fill="#d7192a"/>
<circle cx="384.40" cy="502.90" r="1.25" fill="#d7192a"/>
<circle cx="378.00" cy="505.70" r="1.25" fill="#d7192a"/>
<circle cx="381.40" cy="505.70" r="1.25" fill="#d7192a"/>
<circle cx="384.80" cy="505.70" r="1.25" fill="#d7192a"/>
<circle cx="381.40" cy="522.80" r="1.25" fill="#d7192a"/>
<circle cx="393.50" cy="481.00" r="1.25" fill="#1d5aa0"/>
<circle cx="389.80" cy="489.20" r="1.25" fill="#1d5aa0"/>
<circle cx="392.80" cy="489.20" r="1.25" fill="#1d5aa0"/>
<circle cx="396.20" cy="489.20" r="1.25" fill="#1d5aa0"/>
<circle cx="391.20" cy="494.30" r="1.25" fill="#1d5aa0"/>
<circle cx="395.10" cy="494.30" r="1.25" fill="#1d5aa0"/>
<circle cx="390.50" cy="501.10" r="1.25" fill="#1d5aa0"/>
<circle cx="395.80" cy="501.10" r="1.25" fill="#1d5aa0"/>
<circle cx="392.80" cy="506.80" r="1.25" fill="#1d5aa0"/>
<text x="354.7" y="510.2" font-size="8.3" text-anchor="middle" fill="#231f20" font-style="normal" transform="rotate(-90 354.7 510.2)" textLength="66.4" lengthAdjust="spacingAndGlyphs">Colon pathology score</text>
<text x="444.4" y="471.2" font-size="11.6" font-weight="bold" font-style="normal" text-anchor="start" fill="#000" stroke="#000" stroke-width="0.35">I</text>
<line x1="476.4" y1="470.3" x2="476.4" y2="546.8" stroke="#231f20" stroke-width="0.8" />
<line x1="476.4" y1="546.8" x2="508.4" y2="546.8" stroke="#231f20" stroke-width="0.8" />
<line x1="474.2" y1="470.29999999999995" x2="476.4" y2="470.29999999999995" stroke="#231f20" stroke-width="0.7" />
<text x="472.3" y="472.59999999999997" font-size="6.4" font-weight="normal" font-style="normal" text-anchor="end" fill="#231f20" textLength="7.76" lengthAdjust="spacingAndGlyphs" >10</text>
<line x1="474.2" y1="485.59999999999997" x2="476.4" y2="485.59999999999997" stroke="#231f20" stroke-width="0.7" />
<text x="472.3" y="487.9" font-size="6.4" font-weight="normal" font-style="normal" text-anchor="end" fill="#231f20" >8</text>
<line x1="474.2" y1="500.9" x2="476.4" y2="500.9" stroke="#231f20" stroke-width="0.7" />
<text x="472.3" y="503.2" font-size="6.4" font-weight="normal" font-style="normal" text-anchor="end" fill="#231f20" >6</text>
<line x1="474.2" y1="516.1999999999999" x2="476.4" y2="516.1999999999999" stroke="#231f20" stroke-width="0.7" />
<text x="472.3" y="518.4999999999999" font-size="6.4" font-weight="normal" font-style="normal" text-anchor="end" fill="#231f20" >4</text>
<line x1="474.2" y1="531.5" x2="476.4" y2="531.5" stroke="#231f20" stroke-width="0.7" />
<text x="472.3" y="533.8" font-size="6.4" font-weight="normal" font-style="normal" text-anchor="end" fill="#231f20" >2</text>
<line x1="474.2" y1="546.8" x2="476.4" y2="546.8" stroke="#231f20" stroke-width="0.7" />
<text x="472.3" y="549.0999999999999" font-size="6.4" font-weight="normal" font-style="normal" text-anchor="end" fill="#231f20" >0</text>
<rect x="481.6" y="491.5" width="10.10" height="55.30" fill="#fff" stroke="#231f20" stroke-width="0.9"/>
<rect x="493.5" y="514.4" width="9.80" height="32.40" fill="#b9b9bd" stroke="#231f20" stroke-width="0.9"/>
<line x1="486.65" y1="488.5" x2="486.65" y2="491.5" stroke="#231f20" stroke-width="0.8" />
<line x1="484.45" y1="488.5" x2="488.84999999999997" y2="488.5" stroke="#231f20" stroke-width="0.8" />
<line x1="498.4" y1="511.4" x2="498.4" y2="514.4" stroke="#231f20" stroke-width="0.8" />
<line x1="496.2" y1="511.4" x2="500.59999999999997" y2="511.4" stroke="#231f20" stroke-width="0.8" />
<line x1="483.2" y1="470.3" x2="506.1" y2="470.3" stroke="#231f20" stroke-width="0.9" />
<text x="494.65" y="469.1" font-size="6" font-weight="normal" font-style="normal" text-anchor="middle" fill="#231f20" >**</text>
<circle cx="486.20" cy="476.70" r="1.25" fill="#d7192a"/>
<circle cx="482.10" cy="492.60" r="1.25" fill="#d7192a"/>
<circle cx="485.10" cy="493.80" r="1.25" fill="#d7192a"/>
<circle cx="487.60" cy="494.90" r="1.25" fill="#d7192a"/>
<circle cx="490.10" cy="492.70" r="1.25" fill="#d7192a"/>
<circle cx="486.10" cy="497.80" r="1.25" fill="#d7192a"/>
<circle cx="496.00" cy="508.30" r="1.25" fill="#1d5aa0"/>
<circle cx="500.60" cy="507.00" r="1.25" fill="#1d5aa0"/>
<circle cx="495.50" cy="514.40" r="1.25" fill="#1d5aa0"/>
<circle cx="500.10" cy="516.50" r="1.25" fill="#1d5aa0"/>
<circle cx="498.10" cy="525.90" r="1.25" fill="#1d5aa0"/>
<text x="459.4" y="509.1" font-size="8.3" text-anchor="middle" fill="#231f20" font-style="normal" transform="rotate(-90 459.4 509.1)" textLength="64" lengthAdjust="spacingAndGlyphs">Colon organoids/field</text>
<g transform="rotate(-46 385.7 553.0)">
<text x="385.7" y="553.0" font-size="6.9" font-weight="normal" font-style="normal" text-anchor="end" fill="#231f20" textLength="49.5" lengthAdjust="spacingAndGlyphs" ><tspan>Lgr5</tspan><tspan font-size="5.0" dy="-2.9">Cre−</tspan><tspan dy="2.9"> </tspan><tspan font-style="italic">Ifnlr1</tspan><tspan font-size="5.0" dy="-2.9" font-style="italic">fl/fl</tspan></text>
</g>
<g transform="rotate(-46 398.0 553.0)">
<text x="398.0" y="553.0" font-size="6.9" font-weight="normal" font-style="normal" text-anchor="end" fill="#231f20" textLength="49.5" lengthAdjust="spacingAndGlyphs" ><tspan>Lgr5</tspan><tspan font-size="5.0" dy="-2.9">Cre+</tspan><tspan dy="2.9"> </tspan><tspan font-style="italic">Ifnlr1</tspan><tspan font-size="5.0" dy="-2.9" font-style="italic">fl/fl</tspan></text>
</g>
<g transform="rotate(-46 491.6 553.3)">
<text x="491.6" y="553.3" font-size="6.9" font-weight="normal" font-style="normal" text-anchor="end" fill="#231f20" textLength="49.5" lengthAdjust="spacingAndGlyphs" ><tspan>Lgr5</tspan><tspan font-size="5.0" dy="-2.9">Cre−</tspan><tspan dy="2.9"> </tspan><tspan font-style="italic">Ifnlr1</tspan><tspan font-size="5.0" dy="-2.9" font-style="italic">fl/fl</tspan></text>
</g>
<g transform="rotate(-46 503.6 553.3)">
<text x="503.6" y="553.3" font-size="6.9" font-weight="normal" font-style="normal" text-anchor="end" fill="#231f20" textLength="49.5" lengthAdjust="spacingAndGlyphs" ><tspan>Lgr5</tspan><tspan font-size="5.0" dy="-2.9">Cre+</tspan><tspan dy="2.9"> </tspan><tspan font-style="italic">Ifnlr1</tspan><tspan font-size="5.0" dy="-2.9" font-style="italic">fl/fl</tspan></text>
</g>
<rect x="0.5" y="0.5" width="519" height="595" fill="none" stroke="#000" stroke-width="1.2"/>
</svg></body></html>
